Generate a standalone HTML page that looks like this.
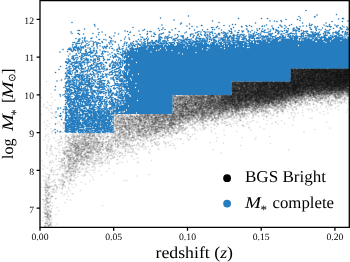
<!DOCTYPE html>
<html><head><meta charset="utf-8"><style>
html,body{margin:0;padding:0;background:#fff;}
svg{display:block;}
text{font-family:"Liberation Serif",serif;fill:#000;text-rendering:geometricPrecision;}
</style></head><body>
<svg width="350" height="262" viewBox="0 0 350 262">
<rect width="350" height="262" fill="#fff"/>
<defs><filter id="tx" x="0" y="0" width="1" height="1"><feOffset dx="0" dy="0"/></filter><filter id="bl" x="0" y="0" width="1" height="1" color-interpolation-filters="sRGB"><feGaussianBlur stdDeviation="0.45"/></filter></defs>
<g filter="url(#bl)">
<rect x="40" y="0" width="309" height="227" fill="#fff"/>
<g fill="none" stroke="#000" stroke-opacity="0.125" stroke-width="3.4" stroke-linecap="round" transform="scale(0.5)">
<path d="M91 381h0m0 47h0m1-8h0m1-170h0m0 167h0m1-47h0m0 43h0m0 16h0m1-17h0m0 36h0m1-19h0m2-209h0m0 153h0m1-24h0m0 3h0m0 86h0m2 8h0m2-53h0m5-117h0m0 69h0m6-48h0m6 8h0m0 5h0m0 23h0m3-16h0m0 13h0m2-35h0m0 68h0m6-93h0m5 5h0m0 9h0m1 36h0m0 9h0m1 39h0m1-3h0m1-95h0m2 73h0m1-66h0m3 10h0m0 24h0m3 27h0m1-12h0m1-39h0m3-18h0m0 21h0m0 8h0m0 18h0m2 12h0m1-45h0m2-13h0m0 12h0m2 35h0m3-24h0m0 19h0m0 39h0m2-72h0m0 34h0m1-25h0m0 31h0m0 10h0m1-37h0m0 6h0m1 11h0m2-28h0m2-14h0m0 19h0m0 11h0m1-19h0m1 26h0m1 5h0m1-33h0m0 35h0m6-22h0m0 12h0m1-4h0m1 3h0m1 1h0m3-20h0m1 45h0m3-49h0m1 6h0m18-7h0m0 2h0m0 19h0m3-6h0m2-9h0m5-4h0m2 13h0m2-2h0m3-36h0m0 61h0m1-54h0m1-24h0m0 31h0m0 11h0m1-45h0m0 69h0m1-41h0m1-27h0m0 2h0m0 58h0m0 33h0m1-94h0m2 2h0m0 11h0m2 1h0m0 6h0m0 5h0m1 15h0m0 5h0m2-23h0m2-15h0m0 18h0m0 6h0m0 28h0m2-58h0m0 39h0m0 10h0m1-45h0m0 9h0m1 36h0m1-17h0m1-20h0m0 5h0m0 23h0m1-25h0m0 1h0m0 20h0m0 32h0m1-13h0m1-49h0m1 50h0m3-52h0m2 20h0m0 6h0m1 1h0m1-12h0m0 1h0m0 11h0m0 31h0m1-33h0m2-19h0m1 6h0m0 25h0m1-4h0m1 29h0m3-50h0m0 12h0m4 46h0m2-69h0m1 17h0m0 5h0m0 9h0m0 54h0m1-94h0m1 32h0m1-26h0m0 11h0m0 2h0m1 13h0m1-21h0m0 18h0m3-3h0m0 2h0m2-26h0m0 39h0m1-35h0m0 7h0m2-11h0m1 24h0m1-12h0m3-14h0m3 9h0m1-9h0m1 20h0m1 2h0m0 1h0m1-18h0m1 41h0m1-33h0m1-2h0m0 7h0m2 2h0m2-19h0m0 10h0m0 6h0m0 2h0m2-8h0m0 8h0m1-1h0m0 12h0m2-20h0m0 1h0m1 12h0m0 5h0m1-30h0m3 14h0m2 6h0m2-4h0m0 11h0m1-20h0m0 38h0m1-15h0m5-19h0m1 1h0m0 25h0m0 23h0m2-57h0m1-1h0m0 24h0m1-24h0m2 29h0m1-9h0m1-19h0m2 17h0m1-6h0m1 29h0m1-18h0m2-45h0m0 4h0m0 28h0m1-30h0m0 16h0m0 0h0m0 9h0m1-33h0m1 31h0m1-26h0m0 30h0m4-19h0m0 8h0m1-27h0m0 59h0m1-62h0m0 22h0m0 20h0m0 23h0m2-30h0m0 6h0m2-40h0m0 26h0m0 0h0m0 12h0m1-3h0m0 19h0m1-51h0m0 5h0m0 26h0m1-35h0m1 27h0m1-7h0m0 7h0m0 9h0m1 3h0m0 6h0m2-50h0m0 5h0m0 10h0m0 10h0m0 0h0m1-9h0m2-1h0m0 0h0m0 23h0m0 18h0m1-35h0m0 2h0m0 2h0m1-18h0m0 25h0m1-6h0m0 7h0m2-27h0m0 6h0m0 3h0m0 25h0m1-34h0m0 11h0m1-8h0m1-9h0m0 11h0m0 38h0m1-16h0m1-30h0m0 6h0m0 73h0m1-81h0m0 13h0m0 23h0m0 6h0m1-36h0m0 22h0m0 2h0m0 1h0m0 7h0m1-32h0m0 25h0m0 33h0m2-44h0m0 9h0m0 5h0m0 1h0m1-1h0m2-21h0m0 63h0m2-60h0m0 2h0m1 27h0m1 0h0m1-20h0m1-25h0m1 4h0m0 18h0m0 7h0m1-31h0m0 3h0m0 16h0m1-5h0m1 9h0m0 22h0m1-24h0m0 1h0m0 6h0m1-23h0m0 30h0m0 10h0m1-34h0m0 43h0m1-10h0m1-43h0m0 38h0m0 10h0m1-47h0m1 19h0m0 6h0m1 3h0m0 16h0m1-26h0m0 18h0m0 1h0m1-37h0m0 1h0m4 6h0m1-4h0m0 25h0m1-1h0m1-6h0m1-23h0m0 2h0m0 17h0m0 3h0m0 11h0m1-26h0m1 10h0m0 29h0m1-33h0m0 11h0m1-16h0m0 38h0m1-42h0m0 4h0m0 19h0m0 12h0m1-37h0m0 5h0m1-6h0m2 7h0m0 2h0m0 39h0m1-46h0m0 26h0m1-15h0m0 3h0m0 8h0m1-4h0m0 9h0m1-29h0m0 1h0m0 19h0m0 2h0m1 13h0m0 3h0m1-27h0m1 5h0m0 10h0m1-17h0m0 35h0m1-23h0m2-3h0m1-15h0m2 9h0m0 11h0m1 10h0m1-30h0m0 24h0m1-26h0m0 1h0m0 19h0m1-15h0m0 3h0m0 26h0m0 2h0m0 7h0m1-15h0m1-25h0m0 9h0m0 18h0m1-31h0m1 0h0m0 8h0m1-8h0m0 2h0m0 11h0m0 3h0m0 1h0m0 1h0m2-6h0m0 19h0m1-17h0m0 1h0m0 11h0m1-8h0m0 5h0m1-23h0m0 3h0m0 2h0m0 3h0m1 4h0m0 4h0m0 19h0m1-11h0m1-14h0m0 1h0m1-2h0m0 0h0m0 10h0m1-12h0m0 2h0m1-2h0m0 4h0m2-9h0m0 9h0m1-9h0m1-16h0m0 14h0m0 4h0m0 1h0m0 0h0m0 7h0m1-21h0m1-16h0m0 6h0m0 20h0m0 1h0m0 3h0m0 1h0m0 5h0m0 27h0m1-53h0m0 3h0m0 0h0m0 5h0m0 6h0m0 2h0m2-22h0m0 4h0m0 25h0m0 2h0m0 3h0m0 14h0m1-50h0m0 14h0m0 7h0m0 3h0m0 0h0m0 32h0m1-30h0m0 7h0m0 0h0m0 6h0m0 19h0m1-32h0m0 15h0m1-34h0m0 2h0m0 13h0m1-13h0m0 9h0m0 8h0m1-17h0m0 22h0m0 12h0m1-46h0m0 14h0m0 15h0m0 14h0m1-38h0m1 6h0m0 13h0m1-5h0m0 9h0m0 15h0m0 1h0m0 0h0m1-42h0m0 10h0m0 12h0m0 4h0m1-22h0m0 20h0m1-11h0m0 10h0m1-21h0m0 1h0m0 19h0m0 2h0m0 8h0m1-34h0m0 18h0m0 27h0m1-38h0m0 10h0m0 13h0m1-27h0m0 75h0m1-65h0m0 7h0m0 11h0m1-33h0m0 32h0m1-13h0m0 6h0m0 3h0m0 1h0m0 21h0m1-37h0m0 25h0m0 1h0m0 10h0m1-49h0m0 2h0m0 14h0m0 21h0m1-31h0m0 16h0m0 6h0m0 2h0m0 7h0m0 7h0m0 6h0m1-47h0m0 1h0m0 3h0m0 1h0m0 2h0m0 6h0m0 11h0m0 4h0m0 15h0m1-11h0m0 10h0m1-29h0m0 3h0m0 2h0m0 2h0m0 37h0m1-50h0m0 3h0m0 15h0m0 18h0m0 5h0m1-33h0m0 8h0m0 21h0m0 1h0m1-47h0m0 8h0m0 11h0m0 17h0m0 18h0m1-27h0m0 6h0m0 3h0m0 5h0m1-40h0m0 39h0m1-25h0m0 22h0m1-37h0m0 18h0m0 16h0m1-29h0m0 15h0m0 24h0m1-27h0m0 12h0m0 3h0m1-18h0m1-5h0m0 8h0m0 15h0m0 26h0m1-56h0m0 3h0m0 11h0m0 4h0m0 10h0m0 1h0m0 8h0m1-37h0m0 4h0m0 19h0m0 21h0m1-42h0m0 2h0m0 11h0m0 11h0m0 1h0m0 25h0m1-54h0m0 1h0m0 3h0m0 21h0m1 29h0m1-49h0m0 16h0m0 13h0m1-33h0m0 12h0m0 9h0m0 8h0m1 3h0m1-23h0m0 5h0m1-8h0m0 13h0m0 18h0m0 22h0m1-60h0m0 16h0m0 1h0m0 15h0m0 2h0m1-15h0m0 5h0m0 3h0m0 27h0m1-50h0m0 13h0m1-17h0m0 6h0m0 5h0m0 19h0m0 22h0m1-47h0m0 4h0m0 12h0m1-6h0m0 10h0m0 8h0m0 12h0m1-28h0m0 20h0m0 7h0m0 16h0m1-51h0m0 1h0m0 4h0m0 2h0m0 13h0m1-17h0m0 14h0m0 4h0m0 14h0m1-32h0m0 3h0m0 30h0m1-44h0m0 6h0m0 0h0m0 11h0m0 22h0m1-33h0m0 5h0m0 4h0m0 2h0m1-18h0m0 2h0m0 5h0m0 6h0m0 3h0m0 10h0m0 3h0m0 1h0m0 2h0m1-33h0m0 14h0m0 12h0m0 26h0m1-48h0m0 13h0m0 3h0m0 3h0m0 6h0m0 2h0m1-19h0m0 15h0m0 25h0m0 0h0m1-37h0m0 57h0m0 13h0m1-76h0m0 5h0m0 2h0m0 2h0m0 1h0m0 4h0m1-23h0m0 5h0m0 7h0m0 15h0m0 3h0m1-12h0m0 27h0m1-12h0m0 3h0m1-35h0m0 2h0m0 14h0m0 0h0m0 12h0m0 5h0m1-26h0m0 1h0m0 12h0m0 2h0m0 14h0m1-26h0m0 4h0m0 2h0m0 2h0m0 7h0m0 4h0m0 2h0m0 8h0m0 1h0m1-36h0m0 10h0m0 0h0m0 23h0m0 9h0m1-37h0m0 4h0m0 6h0m0 15h0m0 12h0m1-38h0m0 10h0m0 12h0m0 1h0m0 2h0m0 5h0m0 4h0m1-35h0m0 12h0m0 4h0m0 6h0m0 4h0m0 13h0m1-36h0m0 4h0m0 6h0m0 0h0m0 26h0m1-31h0m0 19h0m1-34h0m0 26h0m0 1h0m1-17h0m0 10h0m0 13h0m1-29h0m0 3h0m0 2h0m0 2h0m0 4h0m0 5h0m0 3h0m0 3h0m0 4h0m0 4h0m0 17h0m1-43h0m0 7h0m0 7h0m1-7h0m0 3h0m0 28h0m0 1h0m1-43h0m0 2h0m0 25h0m0 11h0m1-31h0m0 2h0m0 7h0m0 2h0m1-12h0m0 3h0m0 2h0m0 8h0m0 5h0m0 2h0m1-30h0m0 21h0m0 6h0m1-18h0m0 19h0m0 1h0m0 4h0m1-27h0m0 4h0m0 5h0m0 2h0m0 0h0m0 8h0m0 20h0m1-20h0m0 9h0m0 7h0m0 3h0m1-42h0m0 1h0m0 3h0m0 8h0m0 2h0m0 9h0m1 14h0m1-32h0m0 9h0m1 22h0m1-31h0m0 5h0m0 14h0m1-23h0m0 1h0m0 18h0m0 1h0m0 6h0m0 5h0m1-30h0m0 7h0m1-3h0m0 13h0m0 37h0m1-56h0m0 6h0m1-7h0m0 5h0m0 6h0m0 1h0m0 4h0m0 10h0m0 6h0m1-32h0m0 11h0m0 3h0m1-13h0m0 14h0m0 1h0m0 5h0m0 9h0m1-26h0m0 42h0m1-40h0m0 9h0m0 1h0m0 7h0m0 4h0m1-29h0m0 8h0m0 8h0m0 7h0m0 6h0m1-12h0m0 6h0m1-11h0m1-6h0m0 1h0m1 0h0m0 7h0m0 9h0m0 3h0m0 10h0m1-29h0m0 7h0m0 9h0m0 0h0m0 2h0m0 3h0m1-28h0m0 6h0m0 13h0m0 4h0m0 4h0m1-25h0m0 12h0m0 7h0m1-12h0m0 0h0m1-25h0m0 6h0m0 12h0m0 6h0m1-23h0m0 12h0m0 2h0m0 7h0m0 19h0m1-44h0m0 5h0m0 1h0m0 32h0m1-38h0m0 6h0m0 1h0m0 5h0m0 9h0m0 1h0m0 2h0m0 1h0m0 2h0m0 3h0m0 3h0m0 7h0m1-36h0m0 6h0m0 9h0m0 1h0m0 3h0m0 0h0m0 0h0m0 13h0m1-42h0m0 0h0m0 16h0m0 1h0m0 2h0m0 6h0m0 3h0m0 13h0m0 4h0m0 1h0m1-18h0m0 6h0m0 6h0m0 10h0m0 0h0m1-17h0m0 3h0m0 7h0m1-15h0m0 2h0m0 3h0m0 2h0m0 6h0m0 1h0m0 7h0m1-45h0m0 18h0m0 26h0m1-26h0m0 6h0m0 4h0m0 4h0m0 5h0m1-11h0m0 12h0m0 5h0m0 12h0m1-57h0m0 10h0m0 1h0m0 3h0m0 6h0m0 8h0m0 1h0m0 7h0m0 0h0m1-36h0m0 14h0m0 1h0m0 8h0m0 5h0m0 11h0m0 12h0m1-50h0m0 1h0m0 2h0m0 4h0m0 2h0m0 20h0m0 1h0m0 4h0m0 1h0m0 10h0m1-48h0m0 2h0m0 2h0m0 4h0m0 0h0m0 9h0m0 4h0m1-22h0m0 3h0m0 14h0m0 1h0m0 1h0m0 2h0m0 0h0m0 10h0m0 9h0m0 12h0m1-50h0m0 15h0m0 7h0m0 4h0m0 7h0m0 6h0m0 0h0m0 14h0m1-43h0m0 3h0m0 3h0m0 15h0m0 7h0m0 5h0m1-38h0m0 28h0m0 9h0m0 2h0m0 14h0m1-53h0m0 2h0m0 1h0m0 6h0m0 11h0m0 1h0m0 3h0m0 4h0m0 10h0m0 1h0m1-38h0m0 1h0m0 1h0m0 14h0m0 2h0m1-22h0m0 11h0m0 9h0m0 1h0m0 27h0m1-45h0m0 2h0m0 4h0m0 1h0m0 9h0m0 11h0m0 3h0m0 4h0m0 4h0m1-5h0m0 6h0m1-41h0m0 14h0m0 9h0m0 11h0m0 10h0m1-46h0m0 0h0m0 1h0m0 8h0m0 4h0m0 5h0m0 13h0m0 8h0m0 1h0m0 4h0m1-46h0m0 11h0m0 8h0m0 1h0m1-21h0m0 5h0m0 8h0m0 21h0m0 4h0m1-34h0m0 9h0m0 3h0m0 8h0m0 7h0m0 2h0m1-5h0m0 4h0m0 3h0m0 1h0m1-35h0m0 4h0m0 8h0m0 4h0m0 6h0m0 14h0m1-31h0m0 26h0m0 9h0m0 1h0m1-39h0m1 9h0m0 2h0m0 1h0m0 0h0m0 12h0m0 7h0m0 15h0m1-49h0m0 14h0m0 7h0m0 3h0m0 3h0m0 8h0m0 6h0m1-27h0m0 6h0m0 3h0m0 4h0m0 7h0m0 1h0m0 9h0m1-33h0m0 6h0m0 0h0m0 2h0m0 4h0m0 2h0m0 2h0m0 19h0m1-43h0m0 3h0m0 1h0m0 9h0m0 0h0m0 7h0m1-13h0m0 3h0m0 2h0m0 13h0m0 13h0m1-38h0m0 11h0m0 4h0m0 4h0m0 18h0m1-27h0m0 6h0m0 1h0m0 23h0m0 1h0m1-41h0m0 3h0m0 5h0m0 14h0m0 0h0m0 9h0m0 6h0m0 3h0m1-42h0m0 1h0m0 1h0m0 1h0m0 1h0m0 7h0m0 2h0m0 13h0m0 14h0m0 2h0m0 17h0m1-53h0m0 5h0m0 12h0m0 7h0m0 15h0m0 12h0m1-57h0m0 5h0m0 4h0m0 21h0m0 3h0m1-24h0m0 3h0m0 1h0m0 1h0m0 5h0m0 5h0m0 15h0m1-27h0m0 8h0m0 11h0m1-22h0m0 2h0m0 2h0m0 7h0m0 0h0m0 15h0m0 6h0m1-41h0m0 0h0m0 2h0m0 4h0m0 11h0m0 10h0m0 13h0m0 23h0m1-56h0m0 12h0m0 3h0m0 5h0m0 7h0m0 2h0m0 5h0m1-34h0m0 4h0m0 16h0m0 6h0m0 14h0m1-45h0m0 5h0m0 11h0m1-11h0m0 3h0m0 7h0m0 1h0m0 1h0m0 17h0m1-33h0m0 19h0m1-17h0m0 1h0m0 13h0m0 8h0m0 12h0m0 5h0m0 4h0m1-45h0m0 11h0m0 8h0m0 4h0m0 5h0m0 1h0m0 0h0m0 7h0m0 2h0m0 12h0m1-47h0m0 5h0m0 2h0m0 1h0m0 18h0m0 3h0m1-29h0m0 0h0m0 1h0m0 5h0m0 0h0m0 17h0m0 16h0m0 3h0m0 40h0m1-80h0m0 0h0m0 2h0m0 1h0m0 16h0m0 0h0m0 16h0m0 33h0m1-61h0m0 4h0m0 8h0m0 2h0m1-23h0m0 4h0m0 8h0m0 2h0m1-18h0m0 12h0m0 10h0m0 3h0m0 9h0m1-33h0m0 3h0m0 6h0m0 12h0m0 7h0m0 15h0m1-38h0m0 8h0m0 2h0m0 9h0m0 10h0m0 11h0m1-48h0m0 5h0m0 1h0m0 8h0m0 15h0m0 3h0m0 10h0m1-30h0m0 7h0m1-13h0m0 26h0m0 18h0m1-50h0m0 7h0m0 8h0m1-12h0m0 3h0m0 3h0m0 6h0m0 5h0m1-14h0m0 0h0m0 9h0m0 1h0m0 14h0m0 1h0m0 4h0m0 11h0m0 1h0m1-41h0m0 9h0m0 3h0m0 4h0m0 10h0m1-27h0m0 17h0m0 0h0m0 6h0m0 3h0m1-24h0m0 7h0m0 10h0m0 5h0m0 3h0m0 1h0m0 4h0m0 43h0m1-72h0m0 1h0m0 4h0m0 8h0m0 16h0m1-36h0m0 4h0m0 2h0m0 0h0m0 6h0m0 2h0m0 3h0m0 1h0m0 3h0m0 1h0m0 7h0m0 2h0m0 10h0m1-39h0m0 1h0m0 7h0m0 1h0m0 1h0m0 12h0m0 4h0m0 1h0m0 1h0m0 13h0m0 6h0m1-29h0m0 8h0m0 9h0m0 2h0m0 2h0m0 1h0m1-38h0m0 0h0m0 1h0m0 4h0m0 1h0m0 7h0m0 8h0m1-3h0m0 1h0m1-24h0m0 3h0m0 5h0m0 3h0m0 7h0m0 1h0m0 7h0m0 21h0m1-48h0m0 9h0m0 1h0m0 0h0m0 2h0m0 2h0m0 3h0m0 5h0m1-14h0m0 4h0m0 1h0m0 6h0m0 20h0m0 5h0m1-39h0m0 18h0m0 18h0m0 2h0m0 8h0m1-50h0m0 9h0m0 9h0m0 3h0m0 7h0m0 0h0m0 5h0m0 4h0m1-36h0m0 2h0m0 15h0m0 1h0m0 12h0m0 7h0m1-36h0m0 7h0m0 13h0m0 2h0m0 1h0m0 8h0m1-34h0m0 8h0m0 0h0m0 2h0m0 2h0m0 7h0m0 10h0m0 13h0m1-31h0m0 4h0m0 4h0m0 4h0m0 8h0m0 1h0m0 5h0m0 12h0m1-47h0m0 3h0m0 6h0m0 12h0m0 34h0m1-50h0m0 8h0m0 6h0m0 8h0m0 14h0m0 2h0m1-42h0m0 0h0m0 10h0m0 5h0m0 3h0m0 3h0m0 0h0m0 1h0m0 11h0m0 2h0m1-25h0m0 9h0m0 11h0m0 8h0m1-32h0m0 10h0m0 0h0m0 4h0m0 20h0m0 3h0m0 6h0m1-46h0m0 1h0m0 3h0m0 3h0m0 11h0m0 3h0m1-19h0m0 10h0m0 1h0m0 0h0m0 0h0m0 1h0m0 0h0m0 5h0m0 11h0m0 20h0m1-48h0m0 11h0m0 3h0m0 7h0m0 6h0m0 5h0m1-39h0m0 6h0m0 4h0m0 6h0m0 2h0m0 0h0m0 1h0m0 1h0m0 9h0m0 1h0m0 5h0m0 3h0m1-39h0m0 9h0m0 25h0m0 11h0m1-38h0m0 12h0m0 13h0m0 11h0m0 8h0m1-48h0m0 4h0m0 7h0m0 15h0m0 2h0m0 14h0m1-30h0m0 1h0m0 11h0m0 16h0m0 10h0m1-52h0m0 7h0m0 7h0m0 3h0m0 16h0m0 0h0m0 11h0m1-43h0m0 9h0m0 16h0m0 10h0m1-31h0m0 13h0m0 4h0m0 2h0m0 19h0m1-39h0m0 2h0m0 8h0m0 6h0m0 9h0m0 3h0m0 4h0m0 10h0m1-35h0m0 5h0m0 4h0m0 1h0m0 6h0m0 35h0m1-38h0m0 9h0m1-32h0m0 0h0m0 2h0m0 5h0m0 5h0m0 7h0m0 8h0m1-23h0m0 0h0m0 3h0m0 4h0m0 10h0m0 7h0m1-28h0m0 4h0m0 3h0m0 8h0m0 8h0m0 2h0m0 1h0m0 2h0m0 9h0m1-38h0m0 2h0m0 8h0m0 0h0m0 5h0m0 7h0m0 4h0m0 2h0m1-28h0m0 12h0m0 14h0m0 0h0m0 6h0m0 1h0m1-29h0m0 10h0m0 9h0m0 13h0m0 18h0m1-55h0m0 3h0m0 7h0m0 2h0m0 0h0m0 1h0m0 2h0m0 0h0m0 2h0m0 18h0m1-23h0m0 1h0m0 11h0m0 7h0m0 11h0m1-38h0m0 4h0m0 7h0m0 8h0m0 17h0"/>
<path d="M88 390h0m4-5h0m4-132h0m0 169h0m2-68h0m3 41h0m3-129h0m5 119h0m3 12h0m10-61h0m4 35h0m1-2h0m1-44h0m1-23h0m0 15h0m3-13h0m1-32h0m1 115h0m0 12h0m1-88h0m1 1h0m0 30h0m1-68h0m1 11h0m0 56h0m1-48h0m0 27h0m2-33h0m0 48h0m5-52h0m0 36h0m1-48h0m0 35h0m2-2h0m2 46h0m1-50h0m0 20h0m2-2h0m1-32h0m1-15h0m0 82h0m2-67h0m0 20h0m1-5h0m1-36h0m2 43h0m2-24h0m0 11h0m1-12h0m0 19h0m4-31h0m0 9h0m1 64h0m2-52h0m1 21h0m0 8h0m2-33h0m1-22h0m3 21h0m1 35h0m0 18h0m7-48h0m0 15h0m3 28h0m1-43h0m1-26h0m0 23h0m1 4h0m3-25h0m2 48h0m4-38h0m3-6h0m0 17h0m0 38h0m3-31h0m6-7h0m1-21h0m1 36h0m12-42h0m2-12h0m1 21h0m2-22h0m0 5h0m2-11h0m2 15h0m0 38h0m3-35h0m0 4h0m0 3h0m0 2h0m0 12h0m0 24h0m1-31h0m0 6h0m3-49h0m0 33h0m6-27h0m0 56h0m2 7h0m1-44h0m0 2h0m1-23h0m0 50h0m0 3h0m1 1h0m1-38h0m1-4h0m2 8h0m0 11h0m2-31h0m0 19h0m1-20h0m2-1h0m0 30h0m2-22h0m0 18h0m3-22h0m1 53h0m1-37h0m0 27h0m2-27h0m0 98h0m1-116h0m2 16h0m1-4h0m1-13h0m0 11h0m1-8h0m4 24h0m1 14h0m1-46h0m1 22h0m1 26h0m1-24h0m1-19h0m2-5h0m0 29h0m1 14h0m1 0h0m1-44h0m0 4h0m2 15h0m0 33h0m1-27h0m1-25h0m0 27h0m2-21h0m1 0h0m0 47h0m1-53h0m0 28h0m0 22h0m1-49h0m0 25h0m1-13h0m0 18h0m4 3h0m3-27h0m1 21h0m0 31h0m1-25h0m1-25h0m0 1h0m0 5h0m1-10h0m1-3h0m2 24h0m1-15h0m3-6h0m2-2h0m0 0h0m3 11h0m1-4h0m1 18h0m0 3h0m0 4h0m1-28h0m0 9h0m0 5h0m0 14h0m1-11h0m3-23h0m0 1h0m1 12h0m0 1h0m2-13h0m0 32h0m3-30h0m0 9h0m0 4h0m2-5h0m2-13h0m1 24h0m1-49h0m0 34h0m0 12h0m1-50h0m0 14h0m0 14h0m1-19h0m1-4h0m0 5h0m0 39h0m1-49h0m0 28h0m0 5h0m0 6h0m1-40h0m1 53h0m1-17h0m0 6h0m1-42h0m1 9h0m0 22h0m0 8h0m1-33h0m0 22h0m0 17h0m1-36h0m1-5h0m0 2h0m0 23h0m0 1h0m0 23h0m1-50h0m0 8h0m1-1h0m0 11h0m2 6h0m1-1h0m1-32h0m1 25h0m0 2h0m0 1h0m1 36h0m0 31h0m2-94h0m0 11h0m1 5h0m1-5h0m0 45h0m1-39h0m0 6h0m0 21h0m1-15h0m1-6h0m1-8h0m0 16h0m1-20h0m0 16h0m0 12h0m0 14h0m1-28h0m0 53h0m1-81h0m2 16h0m2-13h0m1 2h0m1 35h0m1-34h0m0 15h0m0 0h0m1-5h0m1 5h0m0 12h0m1-25h0m0 13h0m0 23h0m1-10h0m1-6h0m0 13h0m1-24h0m0 21h0m1-8h0m0 2h0m1-14h0m1 17h0m1-21h0m0 23h0m0 3h0m0 4h0m1-19h0m0 4h0m0 19h0m1-31h0m2 24h0m1-37h0m0 8h0m1-4h0m1 16h0m0 1h0m1-9h0m0 9h0m0 7h0m1-19h0m0 37h0m1-31h0m2 17h0m1-35h0m0 4h0m0 10h0m1 9h0m0 1h0m0 8h0m0 8h0m1-17h0m0 3h0m0 4h0m1-27h0m0 23h0m0 15h0m0 3h0m1 7h0m1-49h0m0 7h0m0 9h0m0 1h0m0 2h0m1-15h0m0 14h0m0 11h0m1 4h0m3-23h0m0 13h0m0 3h0m0 6h0m0 10h0m1-44h0m1 1h0m1 2h0m0 11h0m0 4h0m0 0h0m0 8h0m1-22h0m0 1h0m2-5h0m1 16h0m1-12h0m0 28h0m1-31h0m0 17h0m1-18h0m0 7h0m0 12h0m0 8h0m0 5h0m1-27h0m1 12h0m0 18h0m1-16h0m0 8h0m0 10h0m2-29h0m0 6h0m1-13h0m0 11h0m0 1h0m0 7h0m0 1h0m1 8h0m1 13h0m2-30h0m1 5h0m0 2h0m1-3h0m0 2h0m1 0h0m2-10h0m0 2h0m3-6h0m0 4h0m0 31h0m1-31h0m0 14h0m1 10h0m1-2h0m1-15h0m0 6h0m0 9h0m1-26h0m0 0h0m1-3h0m0 20h0m1-20h0m0 1h0m0 13h0m0 7h0m1-22h0m0 26h0m0 5h0m1-25h0m0 26h0m1-8h0m0 2h0m0 5h0m1-13h0m0 1h0m0 11h0m1-26h0m0 5h0m0 3h0m1 23h0m1-28h0m0 17h0m1-18h0m0 10h0m0 5h0m0 2h0m1-19h0m0 4h0m0 33h0m2-35h0m0 5h0m0 32h0m1-24h0m1-44h0m0 4h0m0 7h0m0 18h0m0 10h0m0 1h0m1-41h0m0 18h0m0 4h0m0 37h0m1-51h0m0 4h0m0 23h0m1-32h0m0 0h0m0 13h0m0 1h0m0 3h0m0 14h0m0 3h0m0 34h0m1-68h0m0 41h0m0 7h0m0 1h0m1-48h0m0 20h0m0 1h0m0 5h0m1-11h0m0 21h0m1-34h0m0 2h0m0 24h0m0 0h0m0 2h0m1-27h0m0 0h0m0 38h0m0 6h0m0 26h0m2-69h0m0 16h0m0 27h0m1-47h0m0 1h0m0 8h0m0 14h0m0 2h0m0 16h0m1-46h0m0 1h0m0 14h0m0 2h0m0 34h0m0 6h0m1-57h0m0 19h0m0 8h0m0 13h0m0 8h0m1-33h0m0 5h0m0 6h0m0 4h0m0 8h0m2-32h0m0 15h0m0 15h0m0 2h0m0 11h0m1-47h0m0 4h0m0 8h0m0 2h0m0 5h0m0 5h0m0 4h0m0 8h0m1-31h0m0 13h0m0 26h0m1-45h0m0 2h0m0 3h0m0 2h0m0 4h0m0 39h0m1-11h0m0 5h0m1-14h0m0 16h0m1-47h0m0 3h0m0 18h0m0 2h0m0 9h0m1-31h0m0 3h0m0 14h0m0 2h0m0 10h0m1-18h0m0 17h0m0 6h0m0 4h0m1-36h0m0 13h0m0 1h0m0 13h0m0 6h0m0 0h0m0 0h0m0 1h0m0 3h0m0 1h0m0 1h0m1-35h0m0 4h0m0 8h0m0 4h0m0 4h0m0 19h0m1-38h0m0 8h0m0 30h0m0 9h0m0 2h0m1-48h0m0 28h0m0 19h0m1-52h0m0 1h0m0 7h0m0 21h0m0 12h0m1-44h0m0 0h0m0 9h0m0 4h0m0 5h0m0 5h0m0 9h0m0 13h0m0 3h0m0 30h0m1-76h0m0 18h0m1-5h0m0 7h0m0 4h0m0 12h0m1-29h0m0 4h0m0 2h0m0 8h0m0 1h0m0 0h0m0 9h0m0 13h0m0 43h0m1-71h0m1-17h0m0 6h0m0 1h0m0 26h0m1-25h0m0 37h0m1-47h0m0 17h0m0 21h0m1-25h0m0 4h0m1-16h0m0 4h0m0 16h0m0 1h0m0 3h0m0 4h0m0 16h0m1-39h0m0 5h0m0 18h0m0 12h0m0 0h0m1-16h0m1-24h0m0 1h0m0 1h0m0 9h0m0 20h0m0 25h0m1-39h0m0 1h0m0 5h0m0 1h0m0 19h0m1-24h0m1-20h0m0 17h0m0 8h0m0 18h0m1-43h0m0 9h0m0 13h0m0 14h0m0 10h0m0 8h0m1-49h0m0 0h0m0 6h0m0 0h0m0 18h0m1-28h0m0 20h0m0 2h0m0 4h0m1-26h0m0 2h0m0 9h0m0 1h0m0 17h0m0 5h0m0 2h0m0 0h0m0 7h0m1-36h0m0 14h0m0 0h0m0 6h0m0 3h0m0 2h0m0 8h0m1-27h0m0 23h0m1-36h0m0 17h0m0 10h0m0 8h0m0 6h0m1-40h0m0 2h0m0 10h0m0 2h0m0 1h0m0 2h0m0 11h0m1-12h0m0 6h0m1-22h0m0 6h0m0 4h0m0 8h0m0 8h0m0 11h0m0 1h0m1-12h0m0 4h0m1-32h0m0 10h0m0 11h0m0 5h0m0 12h0m1-34h0m0 19h0m0 3h0m0 4h0m0 0h0m0 0h0m0 6h0m0 3h0m0 4h0m0 15h0m0 1h0m1-56h0m0 5h0m0 17h0m0 20h0m0 10h0m1-56h0m0 5h0m0 14h0m0 4h0m0 4h0m0 16h0m1-42h0m0 19h0m0 14h0m0 4h0m0 12h0m1-47h0m0 3h0m0 13h0m0 7h0m0 2h0m0 3h0m0 5h0m0 3h0m0 2h0m0 34h0m1-71h0m0 2h0m0 16h0m0 19h0m1-36h0m0 26h0m0 8h0m0 6h0m1-29h0m0 7h0m0 15h0m0 6h0m1-12h0m1-27h0m0 6h0m0 15h0m0 1h0m0 2h0m0 2h0m0 3h0m0 4h0m1-37h0m0 13h0m0 11h0m0 18h0m1-30h0m0 3h0m0 8h0m1-11h0m0 1h0m0 6h0m0 16h0m0 18h0m1-52h0m0 19h0m0 10h0m1-1h0m0 1h0m0 14h0m1-44h0m0 13h0m0 26h0m1-36h0m0 10h0m0 16h0m1-16h0m0 18h0m2-24h0m0 5h0m0 11h0m0 2h0m1-16h0m0 3h0m0 20h0m0 8h0m1-40h0m0 28h0m2-26h0m0 5h0m0 2h0m0 9h0m0 5h0m0 0h0m1-19h0m0 7h0m0 3h0m0 21h0m1-33h0m0 7h0m0 16h0m0 3h0m0 14h0m1-41h0m0 10h0m0 14h0m0 31h0m1-33h0m0 5h0m0 1h0m1-27h0m0 15h0m0 1h0m0 8h0m0 1h0m0 0h0m0 8h0m1-35h0m0 1h0m0 16h0m0 13h0m1-23h0m0 4h0m0 22h0m0 29h0m1-61h0m0 3h0m0 23h0m0 33h0m1-60h0m0 21h0m0 6h0m1-2h0m0 18h0m0 11h0m1-47h0m0 6h0m0 8h0m0 6h0m0 14h0m0 10h0m1-30h0m0 5h0m1-18h0m0 1h0m1 8h0m0 6h0m0 6h0m1-22h0m0 36h0m0 8h0m1-46h0m0 2h0m0 7h0m0 19h0m0 2h0m0 5h0m1-40h0m0 6h0m0 13h0m0 17h0m0 6h0m1-24h0m0 7h0m0 8h0m1-31h0m0 9h0m0 3h0m0 8h0m0 10h0m0 1h0m1-30h0m0 2h0m0 19h0m0 2h0m0 1h0m1-11h0m0 6h0m1-22h0m0 0h0m0 1h0m0 2h0m0 5h0m0 0h0m0 1h0m0 0h0m0 9h0m0 2h0m1-7h0m0 6h0m0 0h0m0 11h0m0 20h0m1-50h0m0 3h0m0 11h0m2-8h0m0 11h0m0 7h0m0 10h0m1-14h0m0 2h0m1-12h0m0 16h0m0 2h0m0 4h0m1-31h0m0 5h0m0 1h0m0 3h0m0 8h0m0 6h0m0 7h0m0 0h0m1-27h0m0 5h0m0 2h0m1-8h0m0 6h0m0 15h0m0 2h0m1-16h0m0 25h0m0 1h0m1-12h0m1-24h0m0 1h0m0 1h0m0 9h0m0 0h0m0 4h0m0 2h0m1-19h0m0 3h0m0 0h0m1-20h0m0 7h0m0 2h0m0 1h0m0 1h0m0 2h0m0 18h0m0 1h0m0 1h0m1-34h0m0 8h0m0 16h0m0 28h0m1-44h0m0 15h0m0 18h0m1-40h0m0 6h0m0 25h0m1-33h0m0 5h0m0 4h0m0 29h0m1-37h0m0 1h0m0 27h0m0 0h0m0 6h0m0 8h0m1-48h0m0 2h0m0 0h0m0 11h0m0 7h0m0 9h0m0 33h0m0 16h0m1-55h0m0 1h0m0 9h0m0 5h0m0 1h0m1-36h0m0 1h0m0 8h0m0 6h0m0 21h0m0 29h0m1-64h0m0 2h0m0 1h0m0 10h0m0 9h0m0 10h0m0 1h0m0 3h0m0 10h0m1-37h0m0 3h0m0 21h0m0 7h0m0 22h0m1-55h0m0 2h0m0 12h0m0 7h0m0 6h0m1-35h0m0 15h0m0 10h0m0 18h0m1-33h0m0 12h0m0 4h0m0 1h0m0 2h0m0 3h0m0 10h0m0 3h0m0 2h0m0 22h0m1-58h0m0 29h0m0 3h0m1-31h0m0 8h0m0 12h0m0 11h0m1-37h0m0 3h0m0 5h0m0 7h0m1-25h0m0 1h0m0 25h0m0 2h0m0 1h0m0 0h0m0 9h0m0 12h0m1-41h0m0 5h0m0 1h0m0 32h0m0 13h0m1-56h0m0 0h0m0 3h0m0 10h0m0 15h0m0 7h0m0 2h0m0 8h0m0 5h0m1-33h0m0 5h0m0 7h0m0 16h0m0 13h0m1-26h0m0 3h0m0 0h0m0 4h0m0 7h0m1-41h0m0 9h0m0 4h0m0 29h0m1-46h0m0 2h0m0 4h0m0 17h0m0 13h0m1-40h0m0 1h0m0 1h0m0 2h0m0 7h0m0 0h0m0 7h0m0 10h0m0 6h0m0 0h0m0 3h0m0 14h0m0 6h0m1-56h0m0 1h0m0 4h0m0 4h0m0 5h0m0 6h0m0 4h0m0 0h0m0 2h0m0 2h0m0 4h0m0 2h0m0 3h0m1-35h0m0 13h0m0 4h0m1-20h0m0 3h0m0 7h0m0 11h0m0 3h0m0 10h0m0 9h0m0 0h0m0 15h0m1-46h0m0 3h0m0 1h0m0 7h0m0 12h0m0 2h0m0 5h0m0 0h0m1-33h0m0 2h0m0 6h0m0 12h0m0 1h0m0 6h0m0 2h0m0 5h0m0 4h0m1-30h0m0 9h0m0 11h0m0 17h0m1-39h0m0 13h0m0 22h0m1-43h0m0 3h0m0 5h0m0 1h0m0 1h0m0 9h0m0 1h0m1-17h0m0 4h0m0 6h0m1-10h0m0 2h0m0 4h0m0 12h0m0 6h0m1-27h0m0 5h0m0 8h0m0 3h0m0 4h0m0 0h0m0 1h0m0 2h0m0 10h0m1-7h0m1-27h0m0 5h0m0 3h0m0 1h0m0 1h0m0 9h0m0 8h0m1-23h0m1-1h0m0 16h0m0 1h0m0 4h0m0 3h0m0 19h0m1-28h0m0 14h0m0 4h0m1-32h0m0 0h0m0 4h0m0 5h0m0 1h0m0 9h0m0 1h0m0 15h0m1-43h0m0 14h0m0 16h0m0 24h0m1-55h0m0 4h0m0 4h0m0 2h0m0 4h0m0 13h0m0 16h0m1-43h0m0 9h0m0 7h0m0 3h0m0 30h0m0 1h0m1-48h0m0 0h0m0 5h0m0 1h0m0 2h0m0 5h0m0 9h0m0 4h0m0 12h0m0 7h0m1-47h0m0 18h0m0 5h0m0 3h0m0 1h0m1-17h0m0 3h0m0 4h0m0 2h0m0 4h0m0 8h0m0 1h0m1-26h0m0 21h0m1-22h0m0 7h0m0 11h0m1 2h0m0 0h0m0 4h0m1-11h0m1-12h0m0 17h0m0 22h0m1-45h0m0 19h0m0 1h0m0 3h0m0 25h0m1-50h0m0 6h0m0 6h0m0 5h0m0 1h0m0 6h0m0 5h0m0 2h0m0 1h0m0 2h0m1-28h0m0 3h0m0 13h0m0 3h0m0 5h0m0 0h0m0 1h0m1-28h0m0 9h0m0 7h0m0 0h0m0 2h0m0 5h0m0 26h0m1-50h0m0 14h0m0 19h0m0 3h0m0 1h0m1-30h0m0 1h0m0 13h0m0 10h0m1-7h0m0 7h0m0 10h0m0 9h0m1-36h0m0 1h0m0 6h0m0 10h0m0 12h0m1-24h0m0 3h0m0 11h0m1-14h0m0 1h0m0 0h0m1-20h0m0 5h0m0 0h0m0 1h0m0 17h0m0 4h0m0 18h0m1-46h0m0 1h0m0 3h0m0 2h0m0 7h0m0 1h0m0 2h0m0 2h0m0 0h0m0 1h0m0 14h0m1-33h0m0 6h0m0 1h0m0 8h0m0 3h0m0 15h0m1-30h0m0 23h0m0 9h0m0 1h0m0 0h0m0 3h0m1-36h0m0 1h0m0 7h0m0 1h0m0 1h0m0 3h0m0 6h0m1-18h0m0 0h0m0 33h0m0 2h0m0 2h0m1-39h0m0 13h0m0 7h0m0 6h0m1-28h0m0 1h0m0 1h0m0 1h0m0 3h0m0 2h0m0 2h0m0 6h0m0 12h0m0 11h0m0 1h0m1-15h0m0 1h0m0 11h0m1-28h0m0 2h0m0 8h0m0 9h0m0 2h0m0 0h0m0 8h0m0 4h0m1-41h0m0 33h0m0 6h0m0 3h0m0 4h0m0 7h0m0 13h0m1-64h0m0 5h0m0 5h0m0 6h0m0 10h0m0 2h0m0 3h0m1-18h0m0 3h0m0 7h0m0 3h0m0 3h0m0 1h0m1-5h0m0 15h0m1-41h0m0 0h0m0 14h0m0 7h0m0 5h0m0 3h0m0 8h0m1-35h0m0 10h0m0 10h0m0 3h0m0 7h0m0 39h0m1-65h0m0 13h0m0 11h0m1-28h0m0 6h0m0 3h0m0 6h0m0 4h0m0 7h0m0 11h0m0 25h0m1-55h0m0 1h0m0 12h0m0 8h0m0 1h0m0 3h0m0 10h0m1-35h0m0 6h0m0 21h0m0 25h0m1-63h0m0 20h0m0 1h0m0 8h0m0 14h0m1-44h0m0 11h0m0 0h0m0 20h0m0 15h0m0 2h0m1-48h0m0 2h0m0 1h0m0 10h0m0 7h0m0 0h0m0 13h0m0 6h0m1-30h0m0 6h0m0 21h0m0 8h0m0 1h0m0 6h0m1-47h0m0 0h0m0 4h0m0 4h0m0 13h0m0 3h0m0 20h0m1-35h0m0 3h0m0 1h0m1-16h0m0 0h0m0 5h0m0 29h0m1-34h0m0 8h0m0 4h0m0 7h0m0 5h0m0 1h0m0 6h0m0 0h0m0 4h0m0 4h0m0 12h0m0 7h0m1-52h0m0 0h0m0 24h0m0 2h0m0 17h0m0 3h0m1-40h0m0 2h0m0 0h0m0 3h0m0 5h0m0 3h0m0 9h0m0 23h0m1-39h0m0 2h0m0 3h0m0 0h0m0 0h0m0 11h0m0 5h0m1-37h0m0 3h0m0 8h0m0 2h0m0 0h0m0 2h0m0 3h0m0 2h0m0 0h0m0 6h0m0 6h0m1-34h0m0 0h0m0 7h0m0 4h0m1-5h0m0 2h0m0 9h0m0 3h0m0 1h0m0 13h0m0 2h0m0 10h0m1-38h0m0 4h0m0 4h0m0 14h0m0 1h0m1-29h0m0 10h0m0 1h0m0 7h0m0 2h0m0 32h0m1-53h0m0 4h0m0 4h0m0 2h0m0 2h0m0 10h0m0 0h0m0 10h0m0 0h0m0 21h0m1-47h0m0 11h0m0 1h0m0 4h0m0 6h0m0 0h0m0 40h0m1-53h0m0 1h0m0 14h0m0 7h0m0 1h0m1-19h0m0 3h0m0 11h0m0 9h0m1-23h0m0 23h0m0 5h0m1-40h0m0 4h0m0 0h0m0 1h0m0 2h0m0 5h0m0 18h0m0 3h0m1-22h0m0 8h0m1-9h0m0 34h0m1-40h0m0 10h0m0 3h0m0 7h0m0 10h0m1-36h0m0 10h0m0 5h0m0 7h0m0 23h0m1-42h0m0 1h0m0 1h0m0 6h0m0 3h0m0 2h0m0 1h0m0 18h0m1-39h0m0 15h0m0 17h0m1-33h0m0 4h0m0 5h0m0 4h0m0 2h0m0 4h0m0 2h0m0 1h0m0 17h0m1-16h0m0 5h0m1-27h0m0 11h0m0 12h0m0 5h0m0 2h0m0 1h0m1-30h0m0 8h0m0 5h0m0 4h0m0 4h0m0 2h0m0 17h0m0 12h0m1-48h0m0 6h0m0 1h0m0 15h0m0 3h0m0 0h0m0 2h0m0 5h0m0 0h0m0 1h0m0 3h0m0 8h0"/>
<path d="M86 338h0m4 23h0m1 47h0m0 1h0m4-35h0m2 58h0m1-41h0m0 47h0m1-5h0m0 16h0m1-109h0m0 36h0m0 28h0m0 41h0m1-35h0m1-18h0m1-52h0m0 32h0m5-140h0m7 116h0m8 22h0m1 8h0m6-90h0m1 12h0m1 8h0m0 39h0m4-38h0m2-8h0m2 22h0m1-33h0m0 8h0m0 3h0m1 49h0m1-36h0m4 29h0m4-62h0m2 49h0m0 9h0m1-51h0m1 17h0m0 4h0m0 3h0m6-30h0m1 28h0m3 22h0m2-67h0m1 28h0m1-2h0m3-17h0m0 64h0m1-33h0m1-27h0m0 17h0m0 47h0m1-16h0m2 3h0m1-53h0m0 5h0m2 14h0m0 24h0m0 43h0m3-80h0m0 3h0m1-9h0m0 4h0m4-11h0m1 29h0m1 28h0m2-49h0m0 24h0m2 8h0m0 18h0m1-9h0m2-4h0m1-42h0m3 3h0m1 30h0m1-11h0m1-6h0m0 23h0m8-27h0m0 10h0m3-27h0m2 40h0m6-33h0m5-28h0m1-14h0m1 49h0m1 2h0m1-39h0m1 16h0m1-13h0m0 72h0m4-80h0m0 18h0m1 5h0m2-21h0m1 70h0m3-35h0m2-14h0m1-9h0m0 41h0m1-24h0m1-19h0m1-6h0m2 11h0m2-18h0m1 39h0m1 23h0m1-61h0m1 8h0m2-15h0m0 4h0m4 7h0m0 2h0m0 28h0m0 26h0m4-50h0m2-14h0m2-3h0m0 6h0m4 40h0m3-49h0m0 64h0m1-59h0m4 29h0m2-26h0m0 23h0m1-26h0m1 15h0m1 0h0m0 24h0m1-42h0m1 38h0m0 10h0m0 19h0m1-66h0m0 35h0m1-31h0m1-5h0m1 6h0m0 22h0m1-26h0m1 25h0m1-29h0m0 16h0m2-14h0m2 18h0m2-5h0m0 7h0m2-22h0m0 24h0m1 7h0m1 24h0m1-46h0m0 29h0m1-14h0m1-18h0m0 7h0m2-11h0m0 9h0m4 3h0m0 34h0m3-22h0m3-6h0m1 8h0m1-28h0m1 2h0m0 11h0m2-13h0m1 5h0m0 1h0m2 18h0m0 20h0m4-12h0m2-28h0m0 8h0m0 10h0m0 3h0m2-7h0m3-1h0m2-34h0m0 6h0m0 11h0m0 4h0m1-31h0m0 38h0m1-49h0m0 32h0m2 14h0m0 20h0m1-53h0m0 27h0m0 15h0m1-39h0m0 2h0m0 6h0m1-8h0m0 23h0m0 25h0m1-61h0m0 21h0m0 10h0m0 1h0m1-21h0m1-6h0m2-7h0m1 56h0m0 9h0m1-34h0m1-21h0m0 0h0m0 58h0m1-43h0m1-26h0m1 3h0m0 5h0m0 24h0m0 20h0m1-50h0m0 28h0m1-26h0m1 9h0m0 5h0m0 41h0m2-55h0m1 5h0m1 8h0m0 12h0m0 19h0m1 2h0m1-22h0m0 13h0m0 6h0m1-23h0m0 31h0m1-36h0m0 19h0m1 3h0m1-24h0m0 18h0m0 3h0m2-14h0m0 2h0m0 0h0m0 18h0m1-35h0m0 14h0m1-14h0m0 40h0m1-28h0m0 62h0m2-59h0m1-15h0m0 6h0m0 8h0m0 26h0m3-47h0m0 4h0m0 1h0m0 19h0m1-27h0m0 26h0m0 9h0m1-33h0m0 8h0m0 23h0m0 2h0m1-2h0m0 13h0m0 20h0m1-56h0m0 11h0m2-6h0m0 7h0m0 6h0m1 6h0m1-24h0m0 30h0m1-36h0m0 37h0m1-33h0m0 10h0m2-12h0m0 4h0m0 3h0m0 15h0m1-17h0m0 41h0m0 1h0m1-43h0m0 13h0m0 6h0m0 18h0m1-26h0m2-9h0m0 6h0m0 8h0m1-14h0m0 14h0m1-9h0m0 33h0m3-40h0m0 3h0m1-7h0m0 4h0m1-5h0m0 7h0m0 5h0m0 3h0m0 4h0m0 27h0m1-46h0m0 23h0m0 12h0m1-25h0m0 8h0m1-9h0m0 26h0m1-25h0m1-14h0m0 15h0m0 32h0m2-22h0m1-19h0m0 8h0m1-11h0m0 10h0m0 12h0m0 15h0m1-7h0m1-33h0m0 9h0m1 19h0m1-27h0m0 8h0m0 5h0m0 1h0m0 5h0m0 16h0m1-36h0m0 10h0m0 15h0m0 23h0m1-40h0m0 13h0m2-10h0m0 26h0m1-18h0m0 10h0m1-21h0m0 17h0m0 29h0m1-47h0m0 6h0m0 11h0m0 11h0m1-35h0m0 38h0m1-20h0m1-3h0m0 10h0m1-13h0m0 14h0m0 12h0m1-38h0m0 10h0m0 48h0m1-50h0m0 2h0m0 17h0m0 2h0m1-19h0m0 1h0m0 18h0m1-30h0m0 33h0m0 0h0m0 4h0m1-29h0m0 13h0m1-9h0m1-1h0m0 2h0m0 8h0m0 0h0m1-20h0m0 15h0m1 40h0m1-55h0m0 1h0m0 9h0m0 8h0m0 7h0m1-5h0m0 15h0m2-28h0m0 20h0m1 1h0m1 5h0m1-8h0m1-15h0m0 0h0m0 6h0m1-10h0m0 21h0m1-15h0m0 6h0m2-5h0m1-8h0m0 0h0m0 2h0m0 4h0m0 18h0m1-17h0m2-10h0m0 8h0m0 1h0m1-12h0m0 1h0m0 9h0m1 5h0m0 28h0m1-59h0m0 6h0m0 14h0m1-18h0m0 7h0m0 0h0m0 16h0m0 6h0m0 0h0m0 3h0m0 6h0m0 3h0m1-40h0m0 4h0m0 3h0m1-12h0m0 1h0m0 15h0m0 0h0m0 6h0m0 17h0m0 6h0m1-44h0m0 6h0m0 2h0m0 16h0m0 1h0m1-25h0m0 16h0m0 4h0m0 29h0m1-59h0m0 7h0m0 15h0m0 13h0m0 12h0m1-46h0m0 6h0m0 3h0m0 6h0m0 18h0m0 7h0m1-13h0m0 5h0m0 16h0m1-39h0m0 1h0m0 8h0m0 1h0m0 1h0m0 7h0m0 2h0m0 4h0m0 21h0m1-47h0m0 18h0m0 0h0m0 5h0m0 14h0m0 0h0m1-34h0m0 35h0m0 1h0m0 36h0m1-79h0m0 10h0m0 0h0m0 7h0m0 5h0m0 8h0m0 14h0m1-42h0m0 10h0m0 17h0m0 6h0m0 4h0m1-36h0m0 3h0m0 5h0m0 9h0m0 2h0m0 1h0m0 7h0m0 5h0m0 13h0m1-17h0m0 14h0m0 6h0m0 10h0m1-51h0m0 6h0m0 10h0m0 4h0m0 15h0m0 25h0m1-69h0m0 30h0m0 4h0m1-34h0m0 30h0m0 0h0m0 10h0m0 1h0m1-32h0m0 1h0m0 2h0m0 6h0m0 14h0m0 17h0m1-46h0m0 5h0m0 4h0m0 4h0m1 5h0m1-15h0m0 9h0m0 9h0m1-16h0m0 26h0m0 13h0m1-40h0m0 9h0m0 14h0m1-23h0m1 2h0m0 10h0m0 16h0m1-29h0m0 7h0m0 17h0m0 4h0m1-37h0m0 24h0m0 7h0m1 8h0m0 2h0m0 15h0m1-19h0m0 3h0m0 17h0m1-44h0m0 13h0m0 26h0m1-40h0m0 2h0m1-13h0m0 6h0m0 2h0m0 16h0m1-20h0m0 1h0m0 0h0m0 6h0m0 10h0m0 1h0m1-8h0m0 2h0m0 0h0m0 14h0m0 11h0m0 7h0m0 2h0m0 4h0m1-48h0m0 13h0m0 2h0m0 3h0m0 8h0m0 13h0m1-32h0m0 14h0m1-6h0m1-11h0m0 0h0m0 8h0m0 6h0m0 7h0m1-29h0m0 12h0m0 5h0m0 4h0m0 17h0m1-36h0m0 1h0m0 1h0m0 2h0m1 6h0m0 3h0m0 42h0m1-55h0m0 5h0m0 1h0m0 1h0m0 8h0m0 10h0m0 7h0m0 1h0m1-15h0m0 28h0m1-53h0m0 28h0m0 7h0m0 43h0m1-68h0m0 22h0m0 9h0m1-40h0m0 6h0m0 0h0m0 21h0m1 2h0m0 0h0m0 11h0m1-23h0m0 3h0m0 7h0m0 19h0m1-42h0m0 3h0m0 25h0m0 9h0m0 7h0m1-47h0m0 4h0m0 36h0m1-24h0m0 20h0m1-23h0m0 3h0m0 17h0m0 9h0m1-40h0m0 21h0m0 7h0m0 2h0m0 7h0m1-37h0m0 22h0m0 4h0m0 27h0m0 4h0m1-54h0m0 0h0m0 23h0m0 17h0m0 1h0m1-34h0m0 15h0m0 19h0m1-42h0m0 0h0m0 11h0m0 6h0m0 3h0m0 12h0m1-35h0m0 5h0m0 2h0m0 3h0m0 5h0m1-12h0m0 7h0m1-5h0m0 13h0m0 8h0m0 12h0m1-34h0m0 8h0m0 4h0m1-8h0m0 4h0m0 5h0m0 6h0m0 3h0m0 18h0m0 12h0m1-58h0m0 27h0m1-26h0m0 22h0m0 22h0m1-39h0m0 6h0m0 28h0m1-20h0m0 16h0m0 4h0m0 18h0m1-58h0m0 8h0m1-4h0m0 4h0m0 2h0m0 1h0m1-9h0m0 4h0m0 10h0m0 19h0m1-21h0m0 17h0m1-32h0m0 7h0m0 2h0m0 4h0m0 5h0m0 2h0m0 5h0m0 0h0m1-14h0m0 5h0m0 25h0m0 10h0m1-35h0m0 12h0m0 1h0m0 10h0m0 1h0m1-13h0m0 1h0m0 2h0m0 14h0m1-41h0m0 19h0m0 7h0m0 6h0m0 17h0m1-49h0m0 12h0m1-10h0m0 10h0m0 3h0m0 14h0m0 4h0m0 1h0m0 27h0m1-54h0m0 7h0m0 15h0m0 41h0m1-64h0m0 32h0m1-41h0m0 23h0m0 5h0m0 11h0m0 14h0m1-49h0m0 11h0m1-5h0m0 5h0m1-1h0m0 0h0m0 11h0m0 19h0m1-18h0m1-23h0m0 5h0m0 1h0m0 18h0m1-26h0m0 3h0m0 3h0m0 7h0m0 3h0m0 3h0m0 19h0m0 2h0m1-5h0m1 1h0m1-24h0m0 12h0m0 16h0m1-34h0m0 10h0m0 3h0m1-19h0m0 35h0m0 2h0m1-32h0m0 1h0m0 1h0m0 21h0m0 6h0m1-27h0m0 3h0m0 5h0m0 4h0m0 17h0m1-12h0m1-24h0m0 5h0m0 19h0m0 3h0m0 12h0m1-37h0m0 3h0m0 17h0m0 2h0m0 9h0m1-24h0m0 3h0m0 4h0m0 3h0m0 2h0m1-1h0m0 5h0m1-9h0m0 14h0m0 1h0m0 9h0m1-28h0m0 1h0m0 29h0m1-41h0m0 1h0m0 24h0m0 8h0m0 1h0m1-28h0m1 13h0m0 3h0m1-23h0m0 2h0m0 12h0m0 5h0m0 27h0m1-41h0m0 1h0m0 1h0m0 6h0m0 3h0m0 2h0m0 2h0m0 6h0m0 10h0m1-36h0m0 6h0m0 11h0m0 1h0m1-15h0m0 0h0m0 3h0m0 4h0m0 0h0m0 4h0m0 8h0m0 3h0m0 12h0m1-34h0m0 3h0m0 5h0m1-3h0m0 10h0m0 10h0m0 1h0m1-21h0m0 2h0m0 17h0m0 2h0m0 2h0m0 6h0m1-37h0m0 5h0m0 8h0m0 1h0m0 0h0m0 4h0m1-7h0m0 3h0m0 4h0m0 19h0m1-17h0m0 1h0m0 5h0m0 13h0m1-37h0m0 9h0m0 10h0m1-16h0m0 0h0m0 11h0m1-12h0m0 8h0m0 14h0m0 6h0m1-54h0m0 18h0m0 6h0m0 5h0m0 0h0m0 17h0m1-40h0m0 9h0m0 1h0m0 1h0m1-19h0m0 5h0m0 12h0m0 8h0m0 8h0m0 1h0m0 11h0m1-44h0m0 2h0m0 4h0m0 6h0m0 15h0m0 13h0m0 9h0m0 6h0m0 20h0m1-78h0m0 2h0m0 2h0m0 21h0m0 14h0m0 0h0m0 2h0m0 6h0m1-44h0m0 9h0m0 6h0m0 14h0m0 3h0m0 9h0m0 17h0m0 0h0m1-58h0m0 6h0m0 21h0m0 11h0m0 5h0m0 4h0m1-40h0m0 3h0m0 9h0m0 18h0m0 36h0m1-69h0m0 5h0m0 4h0m0 0h0m0 20h0m0 1h0m0 0h0m1-35h0m0 0h0m0 9h0m0 0h0m0 16h0m0 0h0m0 4h0m0 5h0m0 2h0m0 0h0m0 2h0m0 4h0m0 8h0m1-51h0m0 11h0m0 21h0m0 7h0m0 24h0m1-49h0m0 13h0m0 6h0m0 1h0m0 12h0m0 18h0m1-65h0m0 13h0m0 3h0m0 2h0m0 25h0m0 2h0m0 8h0m1-38h0m0 16h0m0 10h0m1-17h0m0 5h0m0 6h0m0 5h0m0 22h0m0 3h0m0 1h0m1-58h0m0 3h0m0 4h0m0 1h0m0 6h0m0 3h0m0 1h0m0 12h0m0 5h0m0 1h0m0 6h0m0 23h0m1-74h0m0 9h0m0 4h0m0 12h0m0 4h0m0 6h0m0 24h0m1-58h0m0 0h0m0 1h0m0 0h0m0 7h0m0 7h0m0 12h0m0 4h0m0 21h0m1-51h0m0 5h0m0 1h0m0 3h0m0 21h0m0 1h0m0 2h0m0 0h0m0 11h0m1-31h0m0 1h0m0 1h0m0 13h0m0 10h0m1-38h0m0 3h0m0 38h0m0 10h0m1-32h0m0 10h0m0 42h0m1-68h0m0 4h0m0 28h0m0 1h0m0 7h0m1-44h0m0 4h0m0 2h0m0 17h0m0 5h0m0 4h0m0 14h0m1-41h0m0 4h0m0 0h0m0 7h0m0 6h0m0 6h0m0 4h0m0 29h0m1-53h0m0 5h0m0 8h0m0 14h0m0 7h0m0 5h0m1-47h0m0 14h0m0 8h0m0 7h0m1-27h0m0 9h0m0 2h0m0 3h0m0 1h0m0 5h0m0 2h0m0 16h0m0 3h0m1-24h0m0 13h0m0 0h0m0 9h0m0 5h0m0 1h0m0 12h0m0 10h0m1-56h0m0 3h0m0 3h0m0 15h0m0 33h0m1-39h0m0 1h0m0 1h0m0 14h0m1-43h0m0 9h0m0 3h0m0 3h0m0 9h0m0 5h0m0 3h0m0 15h0m1-15h0m0 7h0m0 2h0m0 2h0m0 2h0m1-46h0m0 11h0m0 16h0m0 18h0m1-38h0m0 9h0m0 0h0m0 11h0m0 7h0m1-29h0m0 10h0m0 6h0m0 0h0m0 7h0m0 2h0m0 3h0m0 1h0m1-28h0m0 0h0m0 0h0m0 6h0m1-5h0m0 17h0m0 5h0m0 19h0m1-35h0m0 11h0m0 6h0m0 0h0m1-28h0m0 3h0m0 26h0m0 2h0m0 8h0m0 9h0m1-44h0m0 6h0m0 3h0m0 4h0m0 2h0m1-8h0m0 5h0m0 9h0m1-20h0m0 5h0m0 1h0m0 7h0m0 1h0m0 24h0m1-45h0m0 25h0m0 8h0m0 1h0m0 1h0m1-34h0m0 18h0m0 7h0m0 0h0m0 4h0m0 3h0m0 1h0m1-24h0m0 6h0m0 7h0m0 15h0m0 3h0m1-21h0m0 7h0m0 4h0m0 4h0m0 2h0m0 10h0m0 2h0m1-47h0m0 12h0m0 5h0m1-17h0m0 8h0m0 2h0m0 8h0m0 1h0m0 2h0m1-18h0m0 1h0m0 11h0m0 0h0m0 18h0m0 4h0m1-37h0m0 4h0m0 3h0m0 2h0m0 8h0m0 1h0m0 8h0m0 9h0m1-29h0m0 8h0m0 8h0m0 36h0m1-55h0m0 3h0m0 20h0m1-24h0m0 0h0m0 12h0m0 12h0m0 17h0m1-40h0m0 2h0m0 25h0m0 15h0m1-40h0m0 2h0m0 12h0m0 15h0m0 11h0m0 12h0m1-53h0m0 7h0m0 4h0m0 6h0m0 15h0m1-38h0m0 5h0m0 7h0m0 12h0m1 2h0m0 15h0m0 6h0m1-30h0m0 2h0m0 1h0m1-8h0m0 2h0m0 11h0m0 6h0m0 0h0m0 12h0m1-34h0m0 5h0m0 3h0m0 20h0m0 9h0m1-44h0m0 2h0m0 20h0m0 9h0m1-24h0m0 12h0m0 4h0m0 4h0m0 0h0m0 9h0m0 4h0m0 5h0m0 13h0m1-57h0m0 2h0m0 9h0m0 9h0m0 19h0m1-42h0m0 4h0m0 13h0m0 10h0m0 5h0m0 1h0m0 0h0m0 24h0m1-51h0m0 13h0m0 4h0m0 5h0m0 4h0m0 9h0m0 17h0m1-16h0m0 5h0m0 3h0m1-45h0m0 4h0m0 3h0m0 3h0m0 0h0m0 0h0m0 9h0m0 13h0m1-31h0m0 2h0m0 4h0m0 14h0m0 9h0m0 5h0m0 6h0m1-47h0m0 6h0m0 35h0m0 11h0m1-51h0m0 5h0m0 1h0m0 0h0m0 2h0m0 10h0m0 1h0m0 2h0m0 0h0m0 17h0m0 38h0m1-73h0m0 15h0m0 3h0m0 7h0m0 14h0m1-37h0m0 1h0m0 4h0m0 7h0m0 2h0m0 4h0m0 2h0m0 6h0m0 3h0m0 5h0m1-37h0m0 3h0m0 7h0m0 3h0m0 1h0m0 1h0m0 22h0m1-29h0m0 9h0m0 1h0m0 3h0m0 6h0m0 3h0m0 6h0m0 9h0m0 2h0m1-50h0m0 11h0m0 13h0m0 1h0m1-6h0m0 6h0m0 6h0m0 5h0m0 6h0m0 6h0m0 7h0m1-47h0m0 5h0m0 4h0m0 16h0m0 1h0m0 18h0m1-23h0m0 4h0m0 2h0m0 4h0m0 10h0m0 5h0m1-53h0m0 22h0m0 0h0m0 4h0m0 5h0m1-25h0m0 4h0m0 6h0m0 10h0m0 6h0m1-25h0m0 3h0m0 1h0m0 14h0m0 12h0m1-31h0m0 6h0m0 4h0m0 5h0m0 1h0m0 8h0m0 3h0m0 0h0m0 8h0m1-18h0m0 10h0m0 9h0m0 0h0m1-9h0m0 21h0m0 5h0m1-54h0m0 0h0m0 3h0m0 1h0m0 2h0m0 18h0m1-28h0m0 17h0m0 11h0m1-25h0m0 6h0m0 12h0m0 12h0m0 0h0m0 35h0m1-57h0m0 10h0m0 2h0m0 3h0m0 2h0m0 0h0m0 3h0m0 3h0m0 4h0m0 4h0m1-30h0m0 5h0m0 9h0m0 6h0m0 19h0m0 2h0m1-50h0m0 1h0m0 9h0m0 4h0m0 14h0m0 8h0m0 17h0m1-45h0m0 5h0m0 23h0m1-34h0m0 1h0m0 4h0m0 15h0m0 1h0m0 5h0m0 4h0m0 10h0m1-31h0m0 12h0m0 3h0m0 1h0m1-23h0m0 1h0m0 1h0m0 6h0m0 4h0m0 1h0m0 28h0m1-46h0m0 2h0m0 15h0m0 3h0m0 18h0m1-37h0m0 4h0m0 5h0m0 1h0m0 1h0m0 0h0m0 5h0m0 4h0m0 12h0m0 7h0m1-26h0m0 3h0m0 7h0m0 9h0m0 3h0m0 1h0m0 8h0m1-49h0m0 6h0m0 2h0m0 6h0m0 2h0m0 19h0m0 4h0m1-38h0m0 11h0m0 11h0m0 4h0m0 1h0m0 6h0m0 1h0m0 4h0m1-29h0m0 1h0m0 1h0m0 3h0m0 5h0m0 1h0m0 18h0m0 9h0m0 6h0m1-27h0m0 7h0m0 3h0m1-33h0m0 20h0m0 7h0m0 0h0m1-16h0m0 3h0m0 2h0m0 6h0m0 10h0m1-31h0m0 18h0m0 2h0m0 13h0m0 4h0m1-41h0m0 2h0m0 2h0m0 9h0m0 16h0m1-28h0m0 5h0m0 29h0m1-14h0m0 3h0m0 4h0m0 11h0m0 7h0m1-46h0m0 4h0m0 1h0m0 1h0m0 0h0m0 1h0m0 16h0m0 3h0m0 3h0m0 0h0m0 8h0m1-36h0m0 2h0m0 9h0m0 3h0m0 3h0m0 3h0m0 8h0m0 0h0m0 7h0m0 6h0m1-40h0m0 10h0m0 2h0m0 8h0m0 14h0m0 2h0m0 1h0m0 3h0m1-37h0m0 3h0m0 11h0m0 4h0m0 7h0m1-29h0m0 9h0m0 8h0m0 5h0m0 16h0m1-36h0m0 6h0m0 5h0m0 1h0m0 10h0m0 2h0m0 2h0m0 8h0m0 3h0m0 3h0m0 3h0m1-36h0m0 4h0m0 12h0m0 6h0m0 7h0m1-31h0m0 4h0m0 20h0m1-26h0m0 11h0m0 2h0"/>
<path d="M86 352h0m3 22h0m2 4h0m1-108h0m0 101h0m0 62h0m1-78h0m0 11h0m0 7h0m2 27h0m4-3h0m2 14h0m0 38h0m1-152h0m1 142h0m10-128h0m11 21h0m0 1h0m4 4h0m1 51h0m1-80h0m0 28h0m1-49h0m3-4h0m0 71h0m2-11h0m1 19h0m0 13h0m0 3h0m0 14h0m2-113h0m1 1h0m0 59h0m1 20h0m1-49h0m0 27h0m1-35h0m1 85h0m2-70h0m1-13h0m0 37h0m3-41h0m2-9h0m4-19h0m0 66h0m0 11h0m1-27h0m2-45h0m5-8h0m0 45h0m1-28h0m1 53h0m1-50h0m1 8h0m2-16h0m0 2h0m0 13h0m1-9h0m0 23h0m1-43h0m0 75h0m2-50h0m3-15h0m1 9h0m1 21h0m1-2h0m2-27h0m3 6h0m0 21h0m0 0h0m2-33h0m1 57h0m1-38h0m1 6h0m1 25h0m2-4h0m1-41h0m3 32h0m1-21h0m1-20h0m0 49h0m0 7h0m1-27h0m0 17h0m0 2h0m1 3h0m3 7h0m1-54h0m1 27h0m5-33h0m0 55h0m2 22h0m2-49h0m3-21h0m3 6h0m2-4h0m1-3h0m1 3h0m0 27h0m1-25h0m0 4h0m5-15h0m1-37h0m1 11h0m0 30h0m6-18h0m1 3h0m0 30h0m1-50h0m0 38h0m0 32h0m1-35h0m2-33h0m0 51h0m0 9h0m2-60h0m0 48h0m2-14h0m2-33h0m0 9h0m1-10h0m0 37h0m2-42h0m0 12h0m1-7h0m1 37h0m1-31h0m1 26h0m0 8h0m1-8h0m1-36h0m1 6h0m1-6h0m1 7h0m1 51h0m2-47h0m1 28h0m1-19h0m0 2h0m0 0h0m1-14h0m1 2h0m0 29h0m5-4h0m1-24h0m1 14h0m2-1h0m1-23h0m0 16h0m0 13h0m1-26h0m0 34h0m3-41h0m0 3h0m0 6h0m2-6h0m0 24h0m1 7h0m0 8h0m2-21h0m2-12h0m1-11h0m0 9h0m0 15h0m1-21h0m0 44h0m1 1h0m2-48h0m2 31h0m1-16h0m1 23h0m2-17h0m1-16h0m1 6h0m1 1h0m1-3h0m1 35h0m1-32h0m0 1h0m0 8h0m1 18h0m2-26h0m1 14h0m0 1h0m0 4h0m1-2h0m1-23h0m0 10h0m0 7h0m1-24h0m0 4h0m2 3h0m0 5h0m0 17h0m1-18h0m0 9h0m1-2h0m1-12h0m1-5h0m2 6h0m2-2h0m0 22h0m1 6h0m0 10h0m2-25h0m0 24h0m1-10h0m1-22h0m1 1h0m2-9h0m3 9h0m2 5h0m2 6h0m1-21h0m2 10h0m0 43h0m2-36h0m0 2h0m0 2h0m1-11h0m0 4h0m1-42h0m0 17h0m0 27h0m0 5h0m1-38h0m0 18h0m1-7h0m0 2h0m1-33h0m0 43h0m0 4h0m1-17h0m0 21h0m1-25h0m0 18h0m1-36h0m0 10h0m0 15h0m1 9h0m1-18h0m1-18h0m0 2h0m0 13h0m0 1h0m0 10h0m1-3h0m0 5h0m0 20h0m1 1h0m2-48h0m0 62h0m1-54h0m0 13h0m0 20h0m0 4h0m0 3h0m0 6h0m2-57h0m0 33h0m1-33h0m1 17h0m0 20h0m2-36h0m0 19h0m0 5h0m1-11h0m0 1h0m0 12h0m1-11h0m0 20h0m0 1h0m1-26h0m0 4h0m1-4h0m0 10h0m0 14h0m0 7h0m1-44h0m1 34h0m1-30h0m0 31h0m0 6h0m1-43h0m0 3h0m0 4h0m1 40h0m1-20h0m1-1h0m0 51h0m2-27h0m1-37h0m0 25h0m0 5h0m0 0h0m1-3h0m1 0h0m1-39h0m1 32h0m2-34h0m0 1h0m0 15h0m1 9h0m1-13h0m0 1h0m0 10h0m1-5h0m1-7h0m2-10h0m0 16h0m0 2h0m1-1h0m0 10h0m1 4h0m1-31h0m1 26h0m1 17h0m1-41h0m1-4h0m0 17h0m0 8h0m0 4h0m1-2h0m3-16h0m0 3h0m0 2h0m0 6h0m0 48h0m3-66h0m0 1h0m0 2h0m0 5h0m0 10h0m0 15h0m0 1h0m1-4h0m1 11h0m1-33h0m0 1h0m0 9h0m0 14h0m2-13h0m0 2h0m0 12h0m1-34h0m0 25h0m0 5h0m0 2h0m1-31h0m0 22h0m1-18h0m0 13h0m1-19h0m0 4h0m0 1h0m0 4h0m1 47h0m1-51h0m0 19h0m0 3h0m0 13h0m1-41h0m0 14h0m0 23h0m1-22h0m0 4h0m2 0h0m1-16h0m0 16h0m0 12h0m1-11h0m1 9h0m0 18h0m1 3h0m2-44h0m0 8h0m0 0h0m0 14h0m1-28h0m0 4h0m0 17h0m2-19h0m0 18h0m0 25h0m1-43h0m1 9h0m1 11h0m0 2h0m1-8h0m2-8h0m0 9h0m2-7h0m0 2h0m0 4h0m0 6h0m0 4h0m1 11h0m1-10h0m1-1h0m1-27h0m0 6h0m0 11h0m2-3h0m1-9h0m0 6h0m0 6h0m0 4h0m0 29h0m1-43h0m0 19h0m1-25h0m0 9h0m0 19h0m2-16h0m0 5h0m0 13h0m1-26h0m0 4h0m0 27h0m1-21h0m0 13h0m1-28h0m0 8h0m0 3h0m0 5h0m0 4h0m0 1h0m0 7h0m0 9h0m1-36h0m0 8h0m0 3h0m0 3h0m1-8h0m0 1h0m0 7h0m1 3h0m0 8h0m1-24h0m0 4h0m0 12h0m0 6h0m1-9h0m0 10h0m1-24h0m0 4h0m0 8h0m0 3h0m1 2h0m1-14h0m0 6h0m0 16h0m0 32h0m1-28h0m2-39h0m0 13h0m1-23h0m0 0h0m0 41h0m0 5h0m0 0h0m1-48h0m0 13h0m0 20h0m0 8h0m1-42h0m0 20h0m0 6h0m0 10h0m0 36h0m1-66h0m0 17h0m1-25h0m0 5h0m0 5h0m0 2h0m0 15h0m1-24h0m0 46h0m1-34h0m0 19h0m0 2h0m0 6h0m0 7h0m0 4h0m0 2h0m1-51h0m0 10h0m0 6h0m0 3h0m0 20h0m1-25h0m0 25h0m1-43h0m0 2h0m0 5h0m0 11h0m0 6h0m0 11h0m0 1h0m0 9h0m1-9h0m1-8h0m0 7h0m0 5h0m0 8h0m0 0h0m0 20h0m1-45h0m0 28h0m1-42h0m0 6h0m0 9h0m0 7h0m0 7h0m0 9h0m0 1h0m1-49h0m0 9h0m0 1h0m0 21h0m0 1h0m0 0h0m1-4h0m0 11h0m0 8h0m0 3h0m0 1h0m1-49h0m0 16h0m0 9h0m0 14h0m0 2h0m1-41h0m0 0h0m0 24h0m0 5h0m0 4h0m0 14h0m1-42h0m0 9h0m0 17h0m0 6h0m0 23h0m1-60h0m0 1h0m0 5h0m0 10h0m0 7h0m0 3h0m0 12h0m0 3h0m1-31h0m0 14h0m0 4h0m0 5h0m0 1h0m0 5h0m0 9h0m1-40h0m0 0h0m0 5h0m0 3h0m1-18h0m0 3h0m0 1h0m0 17h0m0 0h0m0 4h0m0 13h0m0 7h0m0 6h0m1-38h0m0 8h0m1-20h0m0 10h0m0 19h0m0 1h0m0 1h0m0 4h0m0 15h0m1-49h0m0 13h0m0 13h0m0 32h0m1-43h0m0 1h0m1-14h0m0 3h0m0 6h0m0 5h0m0 8h0m1-27h0m0 16h0m0 13h0m0 17h0m0 20h0m1-62h0m0 3h0m0 20h0m0 12h0m0 3h0m1 6h0m0 2h0m1-46h0m0 10h0m0 20h0m0 8h0m0 3h0m1 0h0m0 1h0m0 1h0m2-38h0m0 5h0m0 4h0m1-13h0m0 10h0m0 14h0m0 21h0m1-37h0m0 3h0m1-12h0m0 21h0m0 7h0m1-21h0m0 8h0m0 23h0m0 5h0m0 12h0m1-54h0m0 24h0m1-28h0m0 4h0m0 24h0m0 0h0m0 2h0m1-26h0m0 2h0m0 3h0m0 16h0m0 4h0m1-31h0m0 7h0m0 3h0m0 18h0m0 1h0m0 1h0m0 16h0m0 3h0m1-48h0m0 14h0m0 26h0m0 5h0m0 22h0m1-67h0m0 6h0m0 47h0m1-39h0m0 13h0m0 18h0m0 6h0m0 5h0m1-48h0m0 10h0m0 5h0m0 13h0m1-11h0m0 3h0m0 11h0m0 24h0m1-30h0m0 10h0m1-31h0m0 12h0m0 12h0m0 2h0m0 5h0m1-32h0m0 11h0m0 0h0m0 5h0m0 11h0m1-26h0m0 11h0m0 4h0m0 7h0m0 2h0m0 1h0m1-18h0m1-15h0m0 7h0m0 20h0m0 8h0m1-37h0m0 38h0m1-37h0m0 15h0m0 10h0m0 17h0m0 2h0m1-21h0m0 1h0m1-9h0m0 13h0m0 24h0m1-45h0m0 7h0m0 2h0m0 5h0m0 3h0m0 5h0m0 26h0m1-55h0m0 2h0m0 16h0m0 4h0m0 6h0m0 10h0m1-36h0m0 5h0m0 5h0m0 7h0m0 1h0m0 4h0m0 2h0m0 9h0m0 11h0m1-36h0m0 1h0m0 1h0m0 4h0m0 1h0m0 2h0m0 10h0m1-29h0m0 13h0m0 2h0m1-12h0m0 10h0m0 13h0m0 5h0m0 4h0m0 18h0m1-56h0m0 21h0m0 6h0m0 12h0m0 25h0m1-63h0m0 0h0m0 26h0m0 7h0m1-28h0m0 1h0m0 12h0m0 6h0m0 13h0m0 4h0m1-36h0m0 48h0m1-49h0m0 2h0m0 19h0m1-23h0m1 0h0m0 34h0m1-13h0m0 6h0m0 11h0m0 36h0m1-74h0m0 0h0m0 18h0m0 9h0m1-15h0m0 8h0m0 27h0m1-50h0m0 36h0m0 1h0m0 2h0m0 3h0m1-9h0m0 5h0m1-38h0m0 1h0m0 20h0m0 4h0m0 1h0m1-12h0m0 0h0m0 13h0m0 10h0m0 1h0m0 2h0m1-35h0m0 0h0m0 9h0m0 3h0m0 8h0m0 13h0m1-38h0m0 2h0m0 5h0m0 14h0m0 3h0m0 8h0m1-32h0m0 9h0m0 16h0m0 2h0m0 18h0m2-41h0m0 18h0m0 10h0m0 1h0m1-29h0m0 6h0m0 1h0m0 2h0m0 13h0m1 5h0m1-24h0m0 15h0m0 7h0m0 3h0m0 15h0m1-44h0m0 13h0m0 7h0m0 31h0m1-30h0m1-24h0m0 19h0m0 16h0m0 7h0m1-37h0m0 1h0m0 21h0m1-22h0m0 2h0m0 20h0m0 0h0m1-9h0m0 11h0m1-20h0m0 32h0m1-38h0m0 8h0m0 1h0m0 3h0m0 3h0m0 15h0m0 5h0m0 21h0m1-43h0m0 4h0m0 18h0m0 10h0m1-36h0m0 4h0m0 4h0m0 1h0m0 6h0m0 3h0m1-21h0m0 15h0m0 30h0m1-53h0m0 4h0m0 2h0m1-4h0m0 2h0m0 2h0m0 4h0m0 1h0m0 0h0m0 6h0m1-10h0m0 3h0m0 1h0m0 3h0m0 1h0m0 13h0m0 11h0m1-35h0m0 12h0m0 16h0m1-16h0m0 1h0m0 8h0m0 5h0m0 17h0m1-35h0m0 24h0m1-14h0m1-23h0m0 17h0m1-17h0m0 8h0m0 2h0m0 0h0m0 22h0m1-32h0m0 5h0m0 14h0m0 3h0m0 17h0m1-36h0m0 0h0m0 39h0m0 7h0m1-48h0m0 1h0m0 4h0m0 2h0m0 2h0m1 15h0m0 7h0m0 14h0m1-31h0m1 2h0m0 2h0m0 40h0m1-52h0m0 0h0m0 2h0m0 2h0m1 10h0m1-17h0m0 5h0m0 14h0m1-21h0m1 11h0m0 3h0m0 4h0m0 10h0m1-17h0m0 25h0m1-64h0m0 24h0m0 28h0m1-51h0m0 4h0m0 8h0m0 20h0m0 1h0m0 6h0m0 5h0m0 0h0m0 7h0m1-51h0m0 3h0m0 15h0m0 17h0m0 2h0m0 10h0m1-48h0m0 5h0m0 1h0m0 13h0m0 7h0m0 17h0m0 1h0m1-42h0m0 1h0m0 2h0m0 10h0m0 0h0m0 20h0m0 15h0m0 7h0m1-58h0m0 16h0m0 4h0m0 5h0m0 3h0m0 18h0m0 0h0m1-45h0m0 7h0m0 1h0m0 19h0m0 1h0m0 5h0m0 6h0m0 2h0m1-32h0m0 17h0m0 4h0m0 7h0m0 10h0m0 2h0m1-14h0m1-16h0m0 2h0m0 21h0m1-14h0m0 3h0m0 3h0m0 2h0m0 16h0m0 5h0m0 7h0m1-50h0m0 15h0m0 8h0m0 12h0m0 2h0m1-45h0m0 1h0m0 11h0m0 11h0m0 3h0m0 9h0m0 23h0m1-58h0m0 27h0m0 11h0m0 1h0m1-45h0m0 3h0m0 10h0m0 1h0m0 4h0m0 6h0m0 10h0m0 2h0m0 4h0m0 0h0m0 3h0m0 3h0m0 5h0m1-49h0m0 2h0m0 17h0m0 5h0m0 1h0m0 4h0m0 0h0m0 4h0m0 11h0m0 0h0m1-36h0m0 20h0m0 11h0m1-21h0m0 3h0m0 2h0m0 12h0m1-36h0m0 8h0m0 2h0m0 1h0m0 5h0m1 1h0m0 1h0m0 10h0m0 1h0m0 3h0m0 14h0m0 5h0m0 0h0m1-50h0m0 1h0m0 2h0m0 3h0m0 11h0m0 3h0m0 2h0m0 6h0m0 1h0m0 3h0m0 3h0m0 14h0m1-51h0m0 9h0m0 0h0m0 31h0m0 7h0m0 4h0m0 2h0m0 2h0m1-55h0m0 2h0m0 23h0m0 1h0m1-22h0m0 3h0m0 7h0m0 6h0m0 0h0m0 1h0m0 1h0m0 1h0m0 8h0m0 56h0m1-70h0m0 22h0m0 5h0m0 7h0m0 42h0m1-92h0m0 10h0m0 3h0m0 15h0m0 4h0m0 7h0m0 11h0m1-33h0m0 7h0m0 4h0m0 21h0m1-44h0m0 7h0m0 1h0m0 5h0m0 19h0m1-37h0m0 6h0m0 9h0m0 8h0m0 17h0m1-31h0m0 11h0m0 9h0m0 5h0m0 3h0m0 0h0m0 4h0m2-33h0m0 30h0m0 1h0m0 4h0m1-32h0m0 5h0m0 16h0m0 6h0m0 7h0m1-44h0m0 8h0m0 1h0m0 1h0m0 8h0m0 11h0m0 1h0m0 7h0m1-19h0m0 5h0m0 2h0m0 18h0m1-30h0m0 1h0m0 1h0m0 0h0m0 1h0m0 6h0m0 11h0m0 1h0m1-32h0m0 13h0m0 13h0m0 4h0m0 12h0m1-43h0m0 28h0m0 2h0m0 1h0m0 1h0m0 14h0m1-25h0m0 0h0m0 3h0m1-14h0m0 1h0m0 3h0m0 2h0m0 2h0m0 4h0m1-26h0m0 4h0m0 7h0m0 9h0m0 6h0m0 13h0m0 11h0m0 2h0m0 1h0m1-27h0m0 9h0m0 8h0m0 0h0m0 6h0m1-42h0m0 7h0m0 6h0m0 0h0m0 11h0m1-26h0m0 7h0m0 4h0m0 16h0m0 11h0m1-34h0m0 7h0m0 6h0m0 1h0m0 5h0m0 3h0m0 0h0m0 2h0m0 16h0m1-32h0m0 34h0m1-48h0m0 25h0m0 9h0m0 1h0m0 19h0m1-56h0m0 11h0m0 3h0m0 8h0m0 8h0m0 17h0m1-38h0m0 14h0m0 7h0m0 4h0m0 1h0m0 28h0m1-61h0m0 7h0m0 4h0m0 16h0m0 29h0m1-43h0m0 10h0m0 10h0m0 19h0m1-55h0m0 3h0m0 2h0m0 3h0m0 0h0m0 3h0m0 3h0m0 4h0m0 1h0m0 12h0m1-28h0m0 3h0m0 17h0m0 4h0m0 4h0m0 4h0m0 4h0m0 7h0m0 0h0m0 13h0m1-56h0m0 0h0m0 17h0m0 0h0m0 12h0m1-23h0m0 6h0m0 14h0m1-17h0m0 1h0m0 22h0m1-32h0m0 1h0m0 6h0m0 12h0m1 0h0m0 6h0m0 19h0m0 16h0m1-56h0m0 12h0m0 0h0m0 6h0m0 25h0m0 18h0m1-67h0m0 0h0m0 0h0m0 2h0m0 15h0m0 1h0m0 6h0m0 11h0m0 7h0m0 8h0m0 10h0m0 1h0m1-54h0m0 9h0m0 3h0m0 3h0m0 16h0m0 3h0m0 7h0m1-45h0m0 7h0m0 13h0m0 9h0m0 12h0m0 24h0m1-63h0m0 6h0m0 0h0m0 17h0m0 4h0m0 26h0m1-59h0m0 7h0m0 2h0m0 18h0m0 5h0m0 3h0m0 37h0m1-66h0m0 7h0m0 9h0m0 11h0m1-32h0m0 2h0m0 7h0m0 4h0m0 2h0m0 10h0m0 7h0m0 9h0m0 5h0m1-43h0m0 6h0m0 15h0m0 4h0m0 4h0m0 4h0m0 1h0m0 1h0m0 3h0m1-24h0m0 4h0m0 2h0m0 8h0m0 6h0m0 6h0m0 10h0m1-53h0m0 4h0m0 21h0m0 3h0m1-24h0m0 8h0m0 9h0m0 1h0m0 13h0m1-32h0m0 0h0m0 2h0m0 11h0m0 17h0m0 3h0m0 4h0m0 15h0m1-35h0m0 14h0m0 9h0m0 63h0m1-101h0m0 5h0m0 0h0m0 5h0m0 22h0m0 1h0m0 4h0m0 2h0m1-39h0m0 12h0m0 0h0m0 2h0m0 9h0m0 2h0m0 6h0m0 2h0m0 0h0m0 4h0m1-37h0m0 12h0m0 4h0m0 3h0m1 0h0m0 14h0m0 27h0m1-38h0m0 0h0m0 5h0m0 2h0m0 7h0m1-36h0m0 3h0m0 2h0m0 8h0m0 1h0m0 2h0m0 9h0m0 12h0m0 3h0m1-33h0m0 6h0m0 8h0m0 2h0m0 3h0m0 2h0m0 10h0m1-39h0m0 7h0m0 3h0m0 5h0m0 1h0m0 10h0m0 13h0m1-25h0m0 21h0m0 5h0m1-33h0m0 11h0m0 4h0m0 1h0m0 14h0m1-39h0m0 16h0m0 18h0m0 2h0m0 8h0m1-39h0m0 5h0m0 3h0m0 11h0m0 6h0m1-21h0m0 4h0m0 8h0m0 11h0m1-33h0m0 8h0m0 8h0m0 1h0m0 4h0m0 3h0m0 6h0m0 8h0m1-18h0m0 1h0m0 5h0m0 7h0m0 5h0m1-33h0m0 4h0m0 6h0m0 26h0m1-43h0m0 12h0m0 8h0m0 4h0m0 3h0m0 2h0m0 0h0m0 0h0m0 1h0m0 7h0m0 15h0m1-30h0m0 3h0m0 9h0m0 1h0m0 2h0m0 6h0m1-39h0m0 18h0m0 3h0m0 3h0m0 8h0m0 6h0m0 14h0m1-43h0m0 0h0m0 13h0m1-14h0m0 2h0m0 1h0m0 15h0m0 13h0m1-36h0m0 11h0m0 2h0m0 1h0m0 9h0m0 28h0m1-57h0m0 2h0m0 5h0m0 2h0m0 9h0m0 6h0m0 2h0m0 9h0m0 5h0m0 2h0m0 5h0m0 18h0m1-62h0m0 3h0m0 6h0m0 10h0m0 7h0m0 10h0m1-38h0m0 6h0m0 0h0m0 3h0m0 1h0m0 6h0m0 6h0m0 7h0m0 3h0m0 6h0m0 34h0m1-72h0m0 15h0m0 12h0m0 0h0m0 4h0m0 2h0m1-26h0m0 6h0m0 2h0m0 13h0m0 13h0m0 8h0m1-48h0m0 13h0m0 7h0m0 3h0m0 3h0m0 4h0m0 6h0m1-31h0m0 5h0m0 1h0m0 4h0m0 10h0m0 1h0m0 8h0m0 2h0m1-32h0m0 5h0m0 6h0m0 5h0m0 9h0m1-24h0m0 6h0m0 0h0m0 1h0m0 13h0m0 9h0m1-21h0m0 1h0m0 20h0m0 2h0m1-30h0m0 2h0m0 3h0m0 0h0m0 3h0m0 10h0m0 5h0m0 3h0m1-28h0m0 2h0m0 16h0m0 9h0m0 4h0m1-37h0m0 9h0m0 3h0m0 2h0m0 5h0m0 5h0m1-25h0m0 10h0m0 3h0m0 21h0m1-29h0m0 8h0m0 3h0m0 8h0m1-22h0m0 0h0m0 30h0m1-31h0m0 2h0m0 0h0m0 0h0m0 14h0m1-7h0m0 1h0m0 2h0m0 2h0m0 1h0m0 6h0m0 2h0m0 4h0m0 8h0m0 13h0m1-37h0m0 0h0m0 9h0m0 1h0m1-22h0m0 21h0m0 0h0m0 9h0m0 22h0m1-51h0m0 4h0m0 41h0m1-41h0m0 19h0m0 4h0m0 20h0m0 23h0m1-60h0m0 3h0m0 32h0m0 8h0"/>
<path d="M88 280h0m1 101h0m1-6h0m2-160h0m0 176h0m3-9h0m0 66h0m1-88h0m0 85h0m1-90h0m0 33h0m3 62h0m2-225h0m0 199h0m2-230h0m0 32h0m7 171h0m13-31h0m6-71h0m7 38h0m1-18h0m2-38h0m2 45h0m1-21h0m0 42h0m1-6h0m1-23h0m1-22h0m0 36h0m1 47h0m3-94h0m1 16h0m1 15h0m1-16h0m0 26h0m0 7h0m1-18h0m1-14h0m3-2h0m4 17h0m2 1h0m0 1h0m1 23h0m1-60h0m3 2h0m1 11h0m2 22h0m1 25h0m2-69h0m4 48h0m1-39h0m0 15h0m2 4h0m0 7h0m1-25h0m0 41h0m0 5h0m1-59h0m0 45h0m1-13h0m3 1h0m2-11h0m0 3h0m1-12h0m0 6h0m1-6h0m0 39h0m1-13h0m2-15h0m1-9h0m4 23h0m2 13h0m4-39h0m1 1h0m3 30h0m1-11h0m2-14h0m0 19h0m3-30h0m6 22h0m0 15h0m4-37h0m0 2h0m4-33h0m4-12h0m0 22h0m2-18h0m0 56h0m2-54h0m5 10h0m0 19h0m4-18h0m0 17h0m1 23h0m0 26h0m1-60h0m0 8h0m0 2h0m2-10h0m0 11h0m1-33h0m1 54h0m1-33h0m1 41h0m3-28h0m1-21h0m0 45h0m1-54h0m0 37h0m3-17h0m2 21h0m1-37h0m0 14h0m1-18h0m1 12h0m0 5h0m4 13h0m2-32h0m0 1h0m2 65h0m1-45h0m3-13h0m2-1h0m0 2h0m0 32h0m3-44h0m0 23h0m0 38h0m2-54h0m3 10h0m1 2h0m1-4h0m0 27h0m1-15h0m1 6h0m1-14h0m5-19h0m0 33h0m2 8h0m1-31h0m0 30h0m1-14h0m0 3h0m0 6h0m2-28h0m0 45h0m2-28h0m4 0h0m1 4h0m2-27h0m0 22h0m1-3h0m3 1h0m1 0h0m1-16h0m0 5h0m1 33h0m3-30h0m0 10h0m2-17h0m3 15h0m1-19h0m1-3h0m0 2h0m0 2h0m4 6h0m3 4h0m0 5h0m0 8h0m3-10h0m2-13h0m1-36h0m0 33h0m0 4h0m0 23h0m2-21h0m0 26h0m1-69h0m1 32h0m0 5h0m0 9h0m0 20h0m1-67h0m0 26h0m0 6h0m1-7h0m2-7h0m0 11h0m0 12h0m0 15h0m0 20h0m1-53h0m0 52h0m1-26h0m1-23h0m1 4h0m0 9h0m1-19h0m0 11h0m1 22h0m1-46h0m0 16h0m1 42h0m1-62h0m0 14h0m1 8h0m1 12h0m1-29h0m1-5h0m0 15h0m0 12h0m0 10h0m0 5h0m1-33h0m0 13h0m0 16h0m1-8h0m1-6h0m1-15h0m0 31h0m0 2h0m1-27h0m0 6h0m1 12h0m1-33h0m1-2h0m0 11h0m0 14h0m1-13h0m0 23h0m0 50h0m1-52h0m2 6h0m1-8h0m1-1h0m1-19h0m0 8h0m2-16h0m2 11h0m0 22h0m0 1h0m0 40h0m1-56h0m0 4h0m1-10h0m0 2h0m0 23h0m1-30h0m1-11h0m1 6h0m0 8h0m0 39h0m0 13h0m1-50h0m0 1h0m0 4h0m0 12h0m1-23h0m0 17h0m3 9h0m1-22h0m0 16h0m1-26h0m0 7h0m0 23h0m1-14h0m0 5h0m0 30h0m1-52h0m0 22h0m0 3h0m0 1h0m2-24h0m1 10h0m0 0h0m0 3h0m0 8h0m0 3h0m1-18h0m1 25h0m0 0h0m0 5h0m1-8h0m0 15h0m2-48h0m0 13h0m0 35h0m1-34h0m0 9h0m0 10h0m2-9h0m1 17h0m1-36h0m0 7h0m2 10h0m4-10h0m1-7h0m1 7h0m0 4h0m0 8h0m0 12h0m1-10h0m0 0h0m0 2h0m1-26h0m0 5h0m2 3h0m0 14h0m1-10h0m1-6h0m0 3h0m1 2h0m1 27h0m1-30h0m2-2h0m0 18h0m0 5h0m1-22h0m1 43h0m1-4h0m1-46h0m0 8h0m0 13h0m0 12h0m1 1h0m1-12h0m0 7h0m1-17h0m0 16h0m0 3h0m1 3h0m0 2h0m1-18h0m0 12h0m0 8h0m1-28h0m0 5h0m1 16h0m1-19h0m0 10h0m1-20h0m0 22h0m1-22h0m2 4h0m0 22h0m1-20h0m0 7h0m0 2h0m1-14h0m0 21h0m0 20h0m1-22h0m0 21h0m2-44h0m0 24h0m1-24h0m0 2h0m0 1h0m0 3h0m0 21h0m1-16h0m0 28h0m1-37h0m0 0h0m0 12h0m0 9h0m1-23h0m0 1h0m0 22h0m0 1h0m1-25h0m0 11h0m0 19h0m1-25h0m0 16h0m0 21h0m1-40h0m1-2h0m0 15h0m1-13h0m0 5h0m0 1h0m0 2h0m0 7h0m1 1h0m1-38h0m0 2h0m0 35h0m0 5h0m1-33h0m0 9h0m0 16h0m0 2h0m1-38h0m0 19h0m0 0h0m0 1h0m0 3h0m0 23h0m0 8h0m1-31h0m0 16h0m0 0h0m0 2h0m0 17h0m2-48h0m0 0h0m0 35h0m1-45h0m0 6h0m0 7h0m0 5h0m0 1h0m0 13h0m0 8h0m1-25h0m0 4h0m0 3h0m0 2h0m0 29h0m1-43h0m0 0h0m0 4h0m0 14h0m0 2h0m1-31h0m0 6h0m0 2h0m0 4h0m0 2h0m0 30h0m0 5h0m1-48h0m0 0h0m0 32h0m0 0h0m0 6h0m0 56h0m1-94h0m0 31h0m0 18h0m1-49h0m0 6h0m0 16h0m0 6h0m0 1h0m0 13h0m1-40h0m0 7h0m0 2h0m0 1h0m0 13h0m0 15h0m0 1h0m1-26h0m0 22h0m1-42h0m0 8h0m0 24h0m0 5h0m0 2h0m0 17h0m0 3h0m1-59h0m0 7h0m0 27h0m0 2h0m1-30h0m0 4h0m0 26h0m0 1h0m0 0h0m0 6h0m0 15h0m1-43h0m0 2h0m0 5h0m0 23h0m0 4h0m1-49h0m0 14h0m0 8h0m0 4h0m0 16h0m0 30h0m1-70h0m0 0h0m0 62h0m1-65h0m0 9h0m0 18h0m0 28h0m1-48h0m0 27h0m0 1h0m1-28h0m0 9h0m0 5h0m1-21h0m0 5h0m0 17h0m1-16h0m0 1h0m0 1h0m0 2h0m0 6h0m0 5h0m0 11h0m0 0h0m0 8h0m0 8h0m1-47h0m0 4h0m0 32h0m0 9h0m1-40h0m0 21h0m0 1h0m1-9h0m0 4h0m0 7h0m0 1h0m0 10h0m0 6h0m1-44h0m0 7h0m0 21h0m0 5h0m0 0h0m0 0h0m0 14h0m1-19h0m0 2h0m0 2h0m0 1h0m0 3h0m0 1h0m1-35h0m0 7h0m0 4h0m0 2h0m0 9h0m0 1h0m0 2h0m0 4h0m0 0h0m0 8h0m1-41h0m0 6h0m0 40h0m1-19h0m0 3h0m0 4h0m0 23h0m1-53h0m0 3h0m0 7h0m0 21h0m0 2h0m1-33h0m0 9h0m0 8h0m1-11h0m0 13h0m0 2h0m0 1h0m0 16h0m1-31h0m0 7h0m0 1h0m0 3h0m0 2h0m0 5h0m0 5h0m1-30h0m0 4h0m0 10h0m0 3h0m0 0h0m0 4h0m0 1h0m1-13h0m0 47h0m1-59h0m0 8h0m0 1h0m1 1h0m0 4h0m0 12h0m0 1h0m0 4h0m0 6h0m1-35h0m0 26h0m0 14h0m0 8h0m0 3h0m1-47h0m0 1h0m0 16h0m1-22h0m0 5h0m0 13h0m0 8h0m0 1h0m1-4h0m0 20h0m0 0h0m1-46h0m0 8h0m0 19h0m0 3h0m1-13h0m0 1h0m0 3h0m0 3h0m0 3h0m1-21h0m0 4h0m0 5h0m0 2h0m1-6h0m0 14h0m0 1h0m0 1h0m0 0h0m0 2h0m0 4h0m0 16h0m0 5h0m0 3h0m1-42h0m0 7h0m0 0h0m0 15h0m1-30h0m0 14h0m0 15h0m1-33h0m0 15h0m0 23h0m1-25h0m0 1h0m0 6h0m0 14h0m0 6h0m1-43h0m0 1h0m0 8h0m0 0h0m0 5h0m0 5h0m0 0h0m0 20h0m0 9h0m1-22h0m0 2h0m0 2h0m0 6h0m0 2h0m0 11h0m1-37h0m0 29h0m1-40h0m0 3h0m0 7h0m0 6h0m0 11h0m0 10h0m1-35h0m0 10h0m0 16h0m0 2h0m0 17h0m1-24h0m0 2h0m0 12h0m0 9h0m1-47h0m0 11h0m0 57h0m1-42h0m0 6h0m0 0h0m1-23h0m1-6h0m0 4h0m1 1h0m0 9h0m0 1h0m0 9h0m0 7h0m0 12h0m0 1h0m1-41h0m0 24h0m1-19h0m0 6h0m0 8h0m0 10h0m1-31h0m0 25h0m1-23h0m0 10h0m0 2h0m0 21h0m0 11h0m0 8h0m1-57h0m0 11h0m0 4h0m0 6h0m0 1h0m0 11h0m0 11h0m1-32h0m0 0h0m0 2h0m0 28h0m1-39h0m0 1h0m0 4h0m0 29h0m0 18h0m0 4h0m1-59h0m0 34h0m0 10h0m0 25h0m1-35h0m0 15h0m1-34h0m0 1h0m0 4h0m0 13h0m1-32h0m0 9h0m0 21h0m0 34h0m1-50h0m0 8h0m1-9h0m0 2h0m0 20h0m0 3h0m1-31h0m0 26h0m1 0h0m0 0h0m0 5h0m1-31h0m0 2h0m0 9h0m1-13h0m0 5h0m0 1h0m0 5h0m0 1h0m0 11h0m0 18h0m1-40h0m0 1h0m0 1h0m0 4h0m0 6h0m0 19h0m0 1h0m1-38h0m0 1h0m0 0h0m0 9h0m0 0h0m0 10h0m0 19h0m1-37h0m0 1h0m0 5h0m1 1h0m0 26h0m0 11h0m1-42h0m0 13h0m1-19h0m0 9h0m0 0h0m0 9h0m0 1h0m0 3h0m1-19h0m0 2h0m0 1h0m0 18h0m0 0h0m1-17h0m0 1h0m0 13h0m0 2h0m0 7h0m1-30h0m0 1h0m0 18h0m0 16h0m0 6h0m1-36h0m0 30h0m0 16h0m1-28h0m0 5h0m1-14h0m1 1h0m0 5h0m0 0h0m0 6h0m0 7h0m0 1h0m0 6h0m0 5h0m1-41h0m0 11h0m0 2h0m0 2h0m1-9h0m0 6h0m0 8h0m0 2h0m0 4h0m1-15h0m0 17h0m1-29h0m0 4h0m0 3h0m0 2h0m0 4h0m0 14h0m0 3h0m1 4h0m1-34h0m0 6h0m0 3h0m0 2h0m0 1h0m0 5h0m0 4h0m0 3h0m0 3h0m1-16h0m0 14h0m0 6h0m0 7h0m1-41h0m0 7h0m0 23h0m0 7h0m0 21h0m1-57h0m0 4h0m0 1h0m0 15h0m0 5h0m0 6h0m0 3h0m1-33h0m0 5h0m0 4h0m0 13h0m0 1h0m1-24h0m0 4h0m0 6h0m0 24h0m0 16h0m1-48h0m0 4h0m0 2h0m0 6h0m1 0h0m0 5h0m0 1h0m0 2h0m1-12h0m0 7h0m0 15h0m1-31h0m0 13h0m0 6h0m0 1h0m0 11h0m1-17h0m1-6h0m0 22h0m1-8h0m1-6h0m0 6h0m1-22h0m0 9h0m0 5h0m1-1h0m0 5h0m0 3h0m0 14h0m1-23h0m0 9h0m1-19h0m0 2h0m0 6h0m0 7h0m0 10h0m0 1h0m0 1h0m1-56h0m0 39h0m0 31h0m1-67h0m0 10h0m0 2h0m0 2h0m0 3h0m0 18h0m0 2h0m0 3h0m0 6h0m1-46h0m0 44h0m0 1h0m0 1h0m0 8h0m0 7h0m1-61h0m0 7h0m0 1h0m0 1h0m0 2h0m0 0h0m0 5h0m0 22h0m0 0h0m1-39h0m0 2h0m0 15h0m0 11h0m0 3h0m0 0h0m0 10h0m1-33h0m0 7h0m0 31h0m0 35h0m1-68h0m0 4h0m0 2h0m0 11h0m0 2h0m0 6h0m0 13h0m1-36h0m0 11h0m0 3h0m0 2h0m1-30h0m0 17h0m0 4h0m0 0h0m0 3h0m0 4h0m0 15h0m0 1h0m1-44h0m0 23h0m0 11h0m0 8h0m0 4h0m0 7h0m0 11h0m0 9h0m1-75h0m0 6h0m0 2h0m0 11h0m0 13h0m1-30h0m0 1h0m0 7h0m0 3h0m0 6h0m0 19h0m0 13h0m1-49h0m0 15h0m0 1h0m0 6h0m0 3h0m0 4h0m0 20h0m0 3h0m0 25h0m1-76h0m0 23h0m0 3h0m0 3h0m0 0h0m0 13h0m0 2h0m0 0h0m1-36h0m0 1h0m0 8h0m0 0h0m0 3h0m0 4h0m0 1h0m0 10h0m0 18h0m1-57h0m0 8h0m0 19h0m0 18h0m1-41h0m0 8h0m0 7h0m0 40h0m1-49h0m0 0h0m0 7h0m0 8h0m0 2h0m1-12h0m0 3h0m0 3h0m0 0h0m0 9h0m0 5h0m0 3h0m1-37h0m0 20h0m0 13h0m0 5h0m0 4h0m0 7h0m1-38h0m0 7h0m0 20h0m0 12h0m1-38h0m0 4h0m0 1h0m0 4h0m0 2h0m0 15h0m0 1h0m0 1h0m0 8h0m0 1h0m1-42h0m0 8h0m0 3h0m0 13h0m0 13h0m0 1h0m0 2h0m0 1h0m0 2h0m0 3h0m0 11h0m1-52h0m0 3h0m0 6h0m0 2h0m0 29h0m0 13h0m1-63h0m0 3h0m0 0h0m0 2h0m0 1h0m0 0h0m0 11h0m0 2h0m0 17h0m0 5h0m1-24h0m0 7h0m0 9h0m0 4h0m0 10h0m0 0h0m1-45h0m0 12h0m0 2h0m0 4h0m0 17h0m0 6h0m0 15h0m1-57h0m0 19h0m1-23h0m0 3h0m0 2h0m0 11h0m0 6h0m0 41h0m1-45h0m0 19h0m1-29h0m0 21h0m1-12h0m1-16h0m0 5h0m0 3h0m0 6h0m0 2h0m0 12h0m0 4h0m1-33h0m0 21h0m0 3h0m0 5h0m0 5h0m0 16h0m0 17h0m1-65h0m0 0h0m0 5h0m0 12h0m0 4h0m0 8h0m0 10h0m1-34h0m0 12h0m0 1h0m0 1h0m0 12h0m0 32h0m1-64h0m0 4h0m0 5h0m0 6h0m0 15h0m0 3h0m0 8h0m0 1h0m1-25h0m0 18h0m0 3h0m0 4h0m1-37h0m0 8h0m0 2h0m0 2h0m0 16h0m0 35h0m1-70h0m0 2h0m0 9h0m0 6h0m0 23h0m0 16h0m1-54h0m0 2h0m0 4h0m0 21h0m0 4h0m0 0h0m0 18h0m1-42h0m0 11h0m0 3h0m0 11h0m0 4h0m0 1h0m0 16h0m1-55h0m0 7h0m0 14h0m0 3h0m0 7h0m0 19h0m0 32h0m1-81h0m0 1h0m0 9h0m0 11h0m0 1h0m0 5h0m0 0h0m0 12h0m0 1h0m0 11h0m1-50h0m0 8h0m1 19h0m0 1h0m0 4h0m1-33h0m0 3h0m0 1h0m0 13h0m0 1h0m0 1h0m0 0h0m0 1h0m0 1h0m0 15h0m0 16h0m1-45h0m0 8h0m0 8h0m0 2h0m0 5h0m0 19h0m0 4h0m0 2h0m1-55h0m0 7h0m0 30h0m0 3h0m1-35h0m0 0h0m0 13h0m0 18h0m0 3h0m0 2h0m1-37h0m0 15h0m0 4h0m0 10h0m0 3h0m0 3h0m0 12h0m1-27h0m0 24h0m1-41h0m0 8h0m0 16h0m0 7h0m0 6h0m0 6h0m1-32h0m0 0h0m0 6h0m0 4h0m0 21h0m0 2h0m0 14h0m1-57h0m0 4h0m0 10h0m0 5h0m0 5h0m0 2h0m0 33h0m1-67h0m0 10h0m0 1h0m0 2h0m0 2h0m0 8h0m0 2h0m0 2h0m0 4h0m0 14h0m0 20h0m1-66h0m0 0h0m0 22h0m0 4h0m0 17h0m0 4h0m1-40h0m0 0h0m0 1h0m0 3h0m0 4h0m0 5h0m0 9h0m0 1h0m0 3h0m0 7h0m1-37h0m0 17h0m0 3h0m0 5h0m1-19h0m0 4h0m0 8h0m0 9h0m0 4h0m0 0h0m0 1h0m0 2h0m0 2h0m1-37h0m0 11h0m0 1h0m0 10h0m0 6h0m0 1h0m0 8h0m0 17h0m1-41h0m0 18h0m0 19h0m1-50h0m0 6h0m0 11h0m0 15h0m1-33h0m0 8h0m0 7h0m1-16h0m0 49h0m0 14h0m1-46h0m0 5h0m0 5h0m0 29h0m1-46h0m0 0h0m0 2h0m0 2h0m0 28h0m0 0h0m1-21h0m0 4h0m0 13h0m0 0h0m0 7h0m1-43h0m0 5h0m0 1h0m0 6h0m0 9h0m0 1h0m1-13h0m0 7h0m0 10h0m0 6h0m0 3h0m0 2h0m0 9h0m1-46h0m0 19h0m0 1h0m0 2h0m0 12h0m1-15h0m0 21h0m0 5h0m0 12h0m1-57h0m0 3h0m0 6h0m0 16h0m0 10h0m0 14h0m0 24h0m1-71h0m0 3h0m0 6h0m0 6h0m0 0h0m1-14h0m0 2h0m0 3h0m0 10h0m0 8h0m0 5h0m0 7h0m0 15h0m1-44h0m0 2h0m0 4h0m0 4h0m0 9h0m0 0h0m0 4h0m0 2h0m0 0h0m0 2h0m0 2h0m0 5h0m0 44h0m1-88h0m0 9h0m1-6h0m0 7h0m0 6h0m0 9h0m0 1h0m0 2h0m0 3h0m0 44h0m1-65h0m0 3h0m0 8h0m0 13h0m0 10h0m1-44h0m0 15h0m0 2h0m0 21h0m1-36h0m0 2h0m0 2h0m0 9h0m0 5h0m0 2h0m0 3h0m0 2h0m0 2h0m0 9h0m0 15h0m1-53h0m0 0h0m0 19h0m0 1h0m0 7h0m0 3h0m0 6h0m0 8h0m0 0h0m1-36h0m0 29h0m0 3h0m0 6h0m1-44h0m0 7h0m0 5h0m0 10h0m1-24h0m0 1h0m0 16h0m0 11h0m0 1h0m0 11h0m1-37h0m0 6h0m0 1h0m0 14h0m0 8h0m0 1h0m0 1h0m0 3h0m0 4h0m1-33h0m0 9h0m0 1h0m0 11h0m0 8h0m0 2h0m1-39h0m0 8h0m0 1h0m0 21h0m0 2h0m1-20h0m0 11h0m0 2h0m0 5h0m0 2h0m0 2h0m0 2h0m0 3h0m0 1h0m0 1h0m1-38h0m0 13h0m0 9h0m0 40h0m1-59h0m0 3h0m0 1h0m0 6h0m0 2h0m0 4h0m1-18h0m0 1h0m0 2h0m0 4h0m0 3h0m0 14h0m0 7h0m0 0h0m1-35h0m0 1h0m0 3h0m0 1h0m0 4h0m0 8h0m0 2h0m0 5h0m0 4h0m0 16h0m1-44h0m0 8h0m0 6h0m0 4h0m0 2h0m0 1h0m0 12h0m0 0h0m0 4h0m0 6h0m0 16h0m1-54h0m0 6h0m0 0h0m0 3h0m0 10h0m1-20h0m0 24h0m1-26h0m0 14h0m0 7h0m1-24h0m0 6h0m0 16h0m0 0h0m0 14h0m0 12h0m1-33h0m0 13h0m0 15h0m0 11h0m1-48h0m0 0h0m0 1h0m0 19h0m0 2h0m0 8h0m1-7h0m1-18h0m0 0h0m0 1h0m0 10h0m0 7h0m0 10h0m0 5h0m1-43h0m0 3h0m0 5h0m0 11h0m0 5h0m0 4h0m0 40h0m1-69h0m0 3h0m0 1h0m0 2h0m0 2h0m0 7h0m0 1h0m0 7h0m0 8h0m0 3h0m0 1h0m0 0h0m1-31h0m0 9h0m0 1h0m0 1h0m0 6h0m0 1h0m0 8h0m0 11h0m0 7h0m1-37h0m0 15h0m0 1h0m0 13h0m1-31h0m0 14h0m0 5h0m0 6h0m0 4h0m0 2h0m0 8h0m1-42h0m0 9h0m1-14h0m0 5h0m0 6h0m0 15h0m0 2h0m0 3h0m0 2h0m0 0h0m0 8h0m1-40h0m0 5h0m0 3h0m0 2h0m0 3h0m0 1h0m0 9h0m0 12h0m0 6h0m1-40h0m0 2h0m0 3h0m0 9h0m0 4h0m0 3h0m0 7h0m0 5h0m0 10h0m1-37h0m0 12h0m0 1h0m0 3h0m0 4h0m0 8h0m1-33h0m0 3h0m0 2h0m0 2h0m0 8h0m0 6h0m0 12h0m0 7h0m1-13h0m0 0h0m1-30h0m0 8h0m0 0h0m0 4h0m0 17h0m0 10h0m0 7h0m0 1h0m1-43h0m0 18h0m0 11h0m0 7h0m0 2h0m1-43h0m0 14h0m0 9h0m0 31h0m1-21h0"/>
<path d="M86 441h0m5-168h0m1 152h0m1-120h0m0 91h0m0 31h0m0 19h0m1-72h0m0 53h0m1 8h0m1-9h0m1-50h0m2 64h0m3 6h0m3-111h0m4 43h0m2-110h0m0 97h0m4-16h0m2-45h0m8-52h0m2 69h0m7-18h0m2 13h0m1-4h0m1-24h0m0 40h0m1-17h0m3 7h0m0 42h0m2-73h0m0 43h0m1-20h0m0 22h0m1-28h0m2 21h0m1-53h0m0 18h0m1 16h0m1-17h0m0 17h0m1-27h0m0 42h0m2-29h0m2-18h0m0 29h0m2-37h0m1 37h0m1-14h0m1 14h0m0 19h0m1-8h0m1-46h0m0 27h0m0 9h0m1-16h0m0 37h0m1-52h0m4 42h0m1-28h0m0 1h0m1 7h0m3-11h0m3 5h0m5-2h0m2-17h0m1 54h0m1-43h0m0 36h0m1-34h0m0 41h0m1-51h0m0 22h0m7-18h0m7 7h0m0 42h0m5-53h0m6 25h0m2 0h0m1 1h0m2 29h0m4-23h0m9-73h0m0 16h0m1-14h0m2 45h0m1 8h0m4-12h0m1-2h0m0 31h0m2-72h0m0 47h0m2-50h0m2 41h0m2-27h0m3 2h0m1 52h0m1-30h0m2 10h0m2-24h0m1-14h0m0 15h0m0 35h0m1-24h0m0 10h0m2-27h0m1 1h0m0 33h0m5-34h0m1 24h0m1 4h0m1-36h0m0 12h0m1 6h0m5-24h0m1 30h0m2-28h0m1-5h0m1 6h0m0 43h0m2-28h0m0 21h0m1-40h0m2 35h0m1-31h0m1-9h0m0 1h0m0 12h0m1 8h0m1-19h0m1 20h0m1 3h0m1 11h0m2-32h0m0 3h0m1 11h0m3 60h0m2-73h0m0 19h0m0 32h0m1-22h0m1 59h0m1-60h0m1-28h0m0 5h0m0 6h0m0 8h0m1-8h0m2-6h0m0 4h0m0 27h0m1-23h0m1-17h0m0 19h0m1-10h0m3 8h0m0 14h0m1-30h0m1 23h0m0 9h0m2-19h0m0 33h0m1-48h0m0 44h0m1-14h0m1-27h0m0 12h0m1-14h0m2 14h0m0 11h0m1-21h0m1 4h0m3 18h0m2-26h0m0 5h0m1-2h0m6 16h0m1 2h0m0 15h0m1-33h0m2 19h0m1-15h0m0 11h0m0 0h0m1 4h0m1-42h0m0 2h0m1-5h0m0 9h0m0 8h0m1-17h0m0 6h0m0 36h0m1-50h0m0 68h0m1-51h0m1-1h0m0 9h0m1-1h0m0 0h0m0 20h0m2-15h0m0 4h0m1 1h0m2-22h0m0 8h0m1-22h0m1 15h0m0 4h0m1-22h0m0 38h0m0 7h0m0 10h0m1-38h0m0 12h0m1-11h0m0 13h0m2 15h0m1-25h0m1-19h0m0 28h0m2 6h0m0 5h0m2-43h0m0 1h0m1 19h0m0 18h0m1-30h0m0 4h0m0 38h0m3-37h0m1 13h0m1 46h0m1-62h0m0 18h0m0 1h0m0 9h0m0 9h0m1-15h0m0 8h0m1-19h0m1-11h0m1 18h0m0 11h0m0 4h0m1-12h0m0 3h0m2 1h0m1-19h0m0 15h0m2 2h0m0 7h0m1-25h0m0 48h0m2-60h0m1 2h0m0 13h0m0 27h0m1-32h0m0 25h0m1-12h0m2-18h0m2-7h0m0 18h0m0 2h0m1-7h0m1-13h0m0 30h0m0 18h0m1-17h0m0 16h0m2-16h0m0 14h0m2-36h0m0 20h0m0 3h0m1-7h0m0 9h0m0 18h0m1-50h0m0 23h0m0 38h0m1-56h0m0 21h0m2-25h0m0 30h0m0 9h0m0 20h0m1-45h0m1 3h0m0 21h0m2-43h0m0 1h0m0 34h0m2-26h0m0 17h0m1 1h0m1 14h0m2-33h0m0 9h0m0 27h0m2-43h0m0 2h0m0 7h0m0 31h0m1-40h0m1 13h0m1 3h0m0 20h0m0 14h0m1-50h0m0 3h0m0 6h0m0 13h0m0 11h0m0 14h0m1-10h0m0 0h0m1-33h0m0 6h0m0 1h0m0 17h0m1-26h0m0 20h0m1-22h0m0 14h0m0 15h0m1-17h0m0 14h0m1 20h0m0 6h0m1-36h0m0 13h0m2-5h0m4 18h0m1-10h0m1-20h0m1-4h0m0 4h0m0 6h0m0 5h0m2-22h0m0 3h0m0 3h0m0 16h0m2-22h0m1 4h0m1-4h0m0 16h0m1-5h0m0 3h0m0 7h0m1-16h0m0 8h0m1-4h0m0 7h0m0 0h0m0 14h0m1-24h0m0 7h0m0 0h0m0 25h0m2 7h0m0 8h0m1-45h0m0 20h0m0 8h0m1-17h0m0 4h0m0 4h0m0 5h0m0 10h0m1-31h0m0 0h0m0 13h0m1-21h0m1 10h0m0 1h0m0 0h0m1 8h0m1-9h0m1-10h0m0 7h0m1 12h0m1-37h0m0 12h0m0 18h0m1-42h0m0 28h0m0 17h0m0 6h0m1-49h0m0 5h0m0 27h0m1-29h0m0 7h0m0 7h0m1 25h0m0 1h0m0 38h0m1-74h0m0 6h0m0 0h0m0 10h0m0 23h0m1-48h0m0 1h0m0 0h0m0 2h0m0 7h0m0 12h0m0 16h0m0 9h0m1-49h0m0 14h0m0 13h0m1-12h0m0 6h0m0 6h0m1-19h0m0 18h0m0 9h0m0 4h0m0 28h0m1-24h0m0 30h0m1-65h0m0 10h0m0 2h0m0 7h0m0 12h0m0 8h0m0 1h0m1-47h0m0 31h0m0 4h0m0 10h0m0 1h0m0 2h0m0 10h0m0 4h0m1-52h0m0 7h0m0 6h0m0 2h0m0 1h0m0 9h0m0 4h0m1-38h0m0 20h0m0 12h0m0 10h0m0 1h0m0 8h0m0 1h0m1-53h0m0 4h0m0 4h0m0 7h0m0 1h0m0 36h0m0 12h0m1-59h0m0 20h0m0 4h0m0 2h0m0 12h0m1-35h0m0 11h0m0 16h0m1-15h0m0 0h0m0 11h0m0 5h0m0 4h0m0 31h0m1-68h0m0 9h0m0 13h0m0 21h0m0 6h0m2-48h0m0 9h0m0 15h0m0 7h0m0 7h0m0 6h0m1-43h0m0 20h0m1-22h0m0 2h0m0 9h0m0 2h0m0 1h0m1-10h0m0 7h0m0 10h0m0 7h0m0 5h0m0 15h0m1-40h0m0 17h0m0 8h0m0 0h0m1-24h0m0 1h0m0 20h0m0 3h0m1-13h0m0 19h0m1-43h0m0 16h0m0 10h0m0 7h0m0 16h0m1-40h0m0 19h0m0 8h0m0 1h0m1-34h0m0 18h0m0 9h0m0 2h0m1-25h0m1-3h0m0 1h0m0 11h0m0 19h0m0 10h0m1-27h0m0 23h0m1-40h0m0 6h0m0 8h0m0 13h0m0 3h0m0 10h0m0 1h0m0 29h0m1-45h0m0 17h0m1-41h0m0 17h0m0 6h0m0 1h0m0 1h0m0 6h0m0 8h0m1-17h0m0 2h0m0 11h0m1-13h0m1-11h0m0 10h0m0 7h0m0 2h0m0 14h0m0 8h0m1-49h0m0 3h0m0 19h0m0 8h0m0 0h0m1-34h0m0 5h0m0 17h0m0 5h0m0 1h0m0 1h0m0 8h0m0 12h0m0 23h0m1-71h0m0 12h0m0 8h0m0 5h0m0 1h0m0 9h0m0 0h0m0 2h0m0 11h0m1-46h0m0 17h0m0 8h0m0 8h0m0 5h0m1-39h0m0 7h0m0 9h0m0 2h0m0 2h0m0 9h0m0 12h0m1-12h0m0 6h0m0 19h0m1-43h0m0 10h0m0 5h0m1 8h0m0 12h0m1-29h0m0 4h0m0 1h0m0 24h0m1-20h0m0 8h0m0 7h0m0 4h0m1-42h0m0 38h0m1-35h0m0 6h0m0 0h0m0 6h0m0 7h0m0 15h0m0 12h0m1-31h0m0 0h0m0 20h0m1-42h0m0 13h0m0 3h0m0 3h0m0 17h0m0 3h0m1-28h0m0 5h0m0 5h0m0 30h0m0 15h0m1-67h0m0 29h0m0 5h0m0 8h0m1-28h0m0 3h0m0 13h0m0 9h0m1-34h0m0 4h0m0 7h0m0 11h0m0 0h0m1-27h0m0 8h0m0 5h0m0 0h0m2-2h0m0 11h0m0 2h0m0 0h0m0 23h0m1-48h0m0 11h0m0 23h0m0 7h0m1-39h0m1 9h0m0 32h0m1-38h0m0 0h0m0 9h0m0 10h0m0 11h0m1-32h0m0 5h0m0 9h0m0 1h0m0 7h0m0 3h0m0 21h0m0 9h0m1-31h0m0 5h0m0 4h0m0 4h0m0 4h0m1-30h0m0 2h0m0 4h0m0 12h0m0 0h0m0 10h0m0 1h0m1-39h0m0 12h0m0 2h0m0 9h0m0 2h0m0 0h0m0 10h0m1-38h0m0 1h0m0 7h0m0 6h0m0 6h0m0 11h0m1-28h0m0 9h0m0 2h0m0 14h0m0 4h0m0 19h0m1-45h0m0 10h0m0 6h0m0 7h0m0 8h0m0 5h0m1-43h0m0 2h0m0 9h0m0 10h0m0 9h0m1-25h0m0 8h0m0 3h0m0 1h0m0 7h0m0 6h0m0 14h0m1-40h0m0 4h0m0 6h0m0 8h0m0 1h0m0 1h0m0 8h0m0 21h0m1-52h0m0 7h0m0 3h0m0 5h0m0 7h0m0 5h0m0 9h0m0 4h0m0 2h0m1-42h0m0 7h0m0 16h0m0 2h0m1 4h0m0 2h0m0 0h0m0 2h0m0 9h0m1-42h0m0 5h0m0 32h0m0 6h0m1-37h0m0 3h0m0 7h0m0 5h0m1-6h0m0 4h0m0 24h0m0 0h0m1-3h0m1-38h0m0 13h0m0 10h0m0 12h0m0 3h0m1-33h0m0 26h0m0 10h0m1-38h0m0 2h0m0 5h0m0 4h0m0 6h0m0 3h0m0 7h0m0 11h0m1-37h0m0 2h0m0 23h0m0 7h0m1-19h0m0 13h0m0 1h0m1-34h0m0 7h0m0 4h0m0 4h0m0 7h0m1 9h0m1-20h0m0 4h0m0 20h0m1-33h0m0 13h0m0 7h0m0 31h0m1-52h0m0 1h0m0 3h0m0 3h0m0 13h0m0 6h0m1-25h0m0 16h0m0 26h0m0 26h0m1-68h0m0 4h0m0 7h0m0 5h0m1-8h0m0 20h0m0 3h0m0 2h0m0 2h0m0 15h0m1-52h0m0 5h0m0 23h0m1-27h0m0 24h0m1-10h0m1-10h0m0 8h0m1 15h0m0 0h0m0 6h0m0 13h0m1-34h0m0 0h0m0 5h0m0 3h0m0 8h0m1-27h0m0 1h0m0 6h0m0 20h0m0 28h0m1-51h0m0 9h0m0 16h0m1-24h0m0 4h0m0 7h0m0 3h0m0 22h0m0 9h0m1-46h0m0 1h0m0 46h0m1-49h0m0 28h0m1-22h0m0 10h0m1-11h0m0 2h0m0 17h0m0 11h0m1-37h0m0 0h0m0 10h0m0 2h0m0 2h0m0 12h0m0 2h0m1-27h0m0 3h0m0 1h0m0 21h0m0 2h0m1-29h0m0 13h0m0 11h0m1-22h0m0 1h0m1-2h0m0 5h0m0 5h0m0 5h0m0 1h0m0 6h0m1-23h0m0 2h0m0 2h0m0 13h0m0 6h0m0 1h0m0 11h0m1-32h0m0 8h0m0 3h0m0 1h0m0 14h0m0 9h0m1-29h0m0 13h0m0 1h0m0 1h0m0 15h0m1-38h0m0 7h0m0 3h0m0 0h0m0 33h0m1-36h0m0 0h0m1-33h0m0 2h0m0 28h0m0 6h0m0 19h0m0 0h0m1-51h0m0 14h0m0 4h0m0 12h0m0 7h0m0 2h0m0 4h0m0 21h0m1-57h0m0 0h0m0 24h0m1-35h0m0 10h0m0 6h0m0 23h0m0 6h0m1-40h0m0 3h0m0 14h0m0 0h0m0 13h0m0 3h0m0 1h0m0 4h0m1-12h0m0 2h0m0 4h0m0 17h0m0 7h0m1-51h0m0 11h0m0 18h0m0 11h0m1 11h0m1-34h0m0 0h0m0 3h0m0 3h0m0 17h0m0 6h0m1-54h0m0 10h0m0 5h0m0 26h0m0 5h0m1-44h0m0 11h0m0 1h0m0 1h0m0 13h0m0 7h0m0 1h0m0 1h0m0 5h0m0 0h0m0 4h0m0 41h0m1-79h0m0 10h0m0 20h0m0 1h0m0 26h0m1-67h0m0 10h0m0 6h0m0 3h0m0 10h0m0 13h0m0 20h0m1-62h0m0 6h0m0 1h0m0 9h0m0 18h0m0 3h0m0 14h0m1-50h0m0 2h0m0 0h0m0 3h0m0 7h0m0 8h0m0 6h0m0 2h0m0 0h0m0 8h0m0 6h0m1-28h0m0 8h0m0 1h0m0 2h0m0 4h0m0 12h0m0 0h0m0 1h0m1-27h0m0 14h0m0 18h0m1-48h0m0 1h0m0 12h0m0 10h0m0 1h0m0 2h0m0 7h0m0 11h0m0 7h0m1-35h0m0 4h0m0 3h0m0 11h0m0 4h0m0 15h0m1-28h0m0 10h0m0 5h0m0 1h0m1-36h0m0 2h0m0 5h0m0 2h0m0 4h0m0 16h0m0 2h0m1-28h0m0 11h0m0 1h0m0 9h0m0 30h0m1-51h0m0 3h0m0 8h0m0 33h0m0 2h0m0 2h0m0 2h0m1-59h0m0 11h0m0 8h0m0 1h0m0 2h0m0 0h0m0 3h0m0 4h0m0 10h0m1-27h0m0 6h0m0 2h0m0 26h0m0 1h0m1-40h0m0 8h0m0 17h0m1-18h0m0 2h0m0 8h0m0 7h0m0 3h0m0 7h0m0 10h0m1-29h0m0 104h0m1-123h0m0 11h0m0 12h0m0 18h0m1-36h0m0 18h0m0 10h0m0 4h0m0 3h0m1-36h0m0 20h0m0 2h0m0 20h0m1-45h0m0 6h0m0 15h0m1-9h0m0 5h0m0 7h0m0 34h0m1-62h0m0 1h0m0 2h0m0 12h0m0 7h0m0 12h0m0 8h0m1-26h0m0 4h0m0 11h0m0 17h0m1-43h0m0 14h0m0 5h0m0 6h0m0 1h0m0 0h0m0 11h0m1-29h0m0 16h0m0 2h0m0 0h0m0 9h0m0 2h0m0 4h0m0 7h0m0 2h0m1-54h0m0 20h0m0 11h0m0 7h0m0 2h0m0 1h0m0 8h0m0 20h0m1-65h0m0 12h0m0 13h0m0 10h0m0 10h0m0 30h0m1-62h0m0 1h0m0 20h0m0 1h0m0 6h0m1-35h0m0 12h0m0 8h0m0 15h0m1-44h0m0 10h0m0 14h0m0 17h0m1-39h0m0 8h0m0 6h0m0 14h0m0 3h0m0 13h0m0 1h0m1-46h0m0 3h0m0 0h0m0 23h0m0 3h0m0 10h0m0 2h0m1-29h0m0 3h0m0 14h0m1-21h0m0 24h0m0 14h0m1-24h0m0 10h0m1-25h0m0 1h0m0 12h0m0 2h0m0 0h0m0 8h0m1-30h0m0 5h0m0 19h0m1-21h0m0 1h0m0 11h0m0 2h0m0 1h0m0 8h0m0 17h0m1-45h0m0 1h0m0 7h0m0 2h0m0 1h0m0 3h0m0 1h0m0 6h0m0 12h0m0 3h0m0 4h0m0 1h0m0 4h0m1-47h0m0 3h0m0 2h0m0 3h0m0 17h0m0 0h0m0 5h0m0 2h0m0 4h0m0 7h0m0 7h0m0 3h0m0 5h0m0 15h0m1-39h0m0 5h0m0 10h0m1-47h0m0 3h0m0 2h0m0 4h0m0 9h0m0 23h0m0 11h0m1-48h0m0 11h0m0 7h0m0 3h0m0 2h0m0 9h0m0 5h0m1-41h0m0 31h0m0 12h0m1-43h0m0 16h0m0 6h0m0 13h0m0 4h0m0 0h0m0 9h0m1-50h0m0 6h0m0 11h0m0 1h0m0 4h0m0 3h0m0 3h0m0 6h0m0 9h0m0 9h0m1-52h0m0 1h0m0 3h0m0 4h0m0 8h0m0 4h0m0 4h0m0 23h0m0 2h0m1-39h0m0 26h0m1-36h0m0 14h0m0 4h0m0 10h0m0 13h0m0 1h0m0 3h0m1-42h0m0 0h0m0 15h0m0 21h0m1-38h0m0 24h0m0 4h0m0 4h0m0 3h0m0 18h0m1-46h0m0 7h0m0 4h0m0 2h0m0 1h0m0 18h0m1-22h0m0 7h0m0 7h0m0 6h0m1-21h0m0 1h0m0 7h0m0 0h0m0 8h0m1-32h0m0 7h0m0 11h0m0 13h0m0 2h0m0 3h0m0 2h0m0 3h0m1-32h0m0 1h0m0 3h0m0 4h0m0 7h0m0 3h0m0 6h0m0 0h0m0 1h0m0 1h0m0 7h0m0 5h0m1-39h0m0 26h0m2-34h0m0 9h0m0 3h0m0 1h0m0 8h0m0 6h0m0 36h0m1-58h0m0 15h0m0 1h0m0 3h0m0 3h0m1-24h0m0 4h0m0 13h0m0 2h0m0 0h0m0 12h0m0 13h0m1-33h0m0 15h0m1-27h0m0 9h0m0 3h0m0 4h0m0 2h0m0 3h0m0 1h0m0 6h0m1-28h0m0 4h0m0 6h0m0 5h0m0 1h0m0 1h0m0 8h0m0 6h0m1-17h0m0 1h0m0 24h0m0 1h0m1-42h0m0 1h0m0 4h0m1-4h0m0 5h0m0 0h0m0 8h0m0 4h0m0 5h0m0 8h0m0 10h0m1-36h0m0 6h0m0 4h0m0 4h0m0 33h0m1-41h0m0 4h0m0 1h0m0 3h0m0 0h0m0 4h0m0 3h0m0 2h0m0 1h0m0 20h0m0 21h0m1-70h0m0 0h0m0 10h0m0 0h0m0 6h0m0 8h0m0 2h0m0 1h0m0 2h0m0 10h0m1-35h0m0 2h0m0 1h0m0 35h0m0 4h0m0 17h0m1-58h0m0 2h0m0 17h0m0 7h0m0 3h0m0 14h0m1-39h0m0 4h0m0 7h0m0 9h0m0 4h0m1-15h0m0 2h0m0 2h0m0 8h0m0 12h0m1-40h0m0 4h0m0 2h0m0 3h0m0 1h0m0 10h0m0 3h0m0 6h0m0 10h0m0 24h0m1-50h0m0 6h0m0 5h0m0 8h0m1-34h0m0 2h0m0 14h0m0 3h0m0 1h0m0 7h0m0 5h0m1-31h0m0 8h0m0 6h0m0 5h0m0 5h0m0 12h0m0 5h0m1-17h0m0 3h0m0 14h0m1-35h0m0 3h0m0 0h0m0 17h0m0 7h0m0 4h0m0 6h0m0 15h0m1-58h0m0 1h0m0 5h0m0 2h0m0 4h0m0 3h0m0 15h0m0 5h0m0 18h0m1-54h0m0 13h0m0 9h0m0 6h0m0 3h0m0 4h0m0 6h0m1-32h0m0 1h0m0 6h0m0 9h0m0 7h0m0 10h0m1-41h0m0 5h0m0 3h0m0 9h0m0 1h0m0 14h0m0 5h0m1-20h0m0 1h0m0 4h0m0 7h0m0 6h0m0 2h0m0 2h0m0 0h0m1-41h0m0 1h0m0 0h0m0 1h0m0 3h0m0 2h0m0 1h0m0 3h0m0 6h0m0 2h0m0 3h0m0 0h0m0 8h0m0 14h0m1-43h0m0 14h0m0 8h0m0 3h0m0 3h0m0 18h0m1-42h0m0 6h0m0 5h0m0 14h0m0 0h0m0 6h0m0 13h0m1-41h0m0 4h0m0 27h0m1-33h0m0 0h0m0 16h0m0 0h0m0 8h0m0 8h0m0 0h0m0 14h0m1-49h0m0 1h0m0 7h0m0 3h0m0 1h0m0 3h0m0 12h0m0 6h0m1-34h0m0 20h0m0 0h0m0 1h0m0 9h0m0 8h0m0 0h0m1-31h0m0 25h0m0 4h0m0 8h0m0 12h0m1-49h0m0 2h0m0 2h0m0 4h0m0 1h0m0 10h0m0 3h0m0 5h0m0 1h0m0 1h0m0 3h0m0 3h0m1-37h0m0 0h0m0 4h0m0 7h0m0 0h0m0 6h0m0 1h0m0 1h0m0 1h0m0 0h0m0 22h0m1-42h0m0 1h0m0 12h0m0 11h0m1-26h0m0 0h0m0 17h0m0 3h0m0 2h0m0 1h0m0 2h0m0 1h0m0 6h0m1-34h0m0 4h0m0 0h0m0 6h0m0 2h0m0 2h0m0 16h0m0 6h0m1-34h0m0 2h0m0 3h0m0 2h0m0 4h0m0 4h0m0 6h0m0 4h0m0 14h0m1-36h0m0 21h0m0 18h0m0 0h0m1-47h0m0 4h0m0 2h0m0 6h0m0 13h0m0 14h0m0 10h0m1-47h0m0 5h0m0 2h0m0 11h0m0 1h0m0 11h0m0 1h0m1-31h0m0 11h0m0 4h0m0 3h0m0 2h0m0 27h0m1-48h0m0 9h0m0 1h0m0 2h0m0 4h0m0 12h0m0 1h0m0 6h0m1-34h0m0 0h0m0 2h0m0 8h0m0 2h0m0 1h0m0 8h0m1-23h0m0 13h0m0 11h0"/>
<path d="M83 374h0m3 25h0m1 15h0m3 37h0m1-73h0m2-19h0m1-61h0m1 106h0m2 8h0m6 40h0m2-60h0m1-43h0m18-29h0m10 9h0m0 15h0m0 39h0m5-26h0m1-13h0m1 16h0m4-36h0m1-45h0m1 68h0m1-57h0m0 25h0m0 45h0m2-78h0m1 52h0m0 11h0m2-71h0m1 21h0m3-2h0m0 8h0m3 0h0m1-2h0m0 30h0m2-9h0m0 1h0m1 5h0m2 2h0m3-59h0m0 51h0m2-51h0m0 15h0m0 28h0m1-22h0m0 24h0m7-3h0m1-7h0m1-37h0m2 25h0m1-25h0m3 23h0m2-20h0m3 11h0m1 15h0m2-12h0m1 38h0m1-16h0m0 14h0m1-24h0m1-23h0m4-5h0m1 49h0m3-38h0m8 11h0m0 33h0m2-36h0m11-24h0m3 17h0m1-50h0m4 40h0m2 11h0m2-19h0m0 62h0m3-87h0m0 8h0m1-16h0m0 35h0m2 22h0m0 2h0m2-49h0m0 30h0m0 24h0m0 68h0m1-106h0m1 36h0m3-14h0m2 46h0m1-64h0m4 33h0m1-53h0m1-7h0m0 27h0m2-20h0m0 6h0m2-2h0m5 36h0m1-41h0m5 16h0m1-16h0m1-1h0m1-4h0m0 31h0m1 15h0m1-51h0m0 1h0m1 14h0m0 17h0m1-12h0m0 8h0m2 12h0m2-39h0m0 34h0m1 5h0m2-34h0m1-3h0m3 5h0m3-3h0m0 116h0m4-68h0m4-39h0m1 7h0m1 17h0m2 5h0m1-36h0m0 3h0m1-4h0m0 3h0m0 8h0m0 15h0m0 4h0m3-35h0m0 13h0m0 41h0m2-42h0m0 22h0m0 21h0m1-37h0m1 7h0m1-25h0m0 14h0m1-14h0m0 13h0m2 3h0m2-3h0m8-12h0m0 32h0m1-22h0m1-10h0m0 3h0m1-4h0m2 1h0m1 4h0m1 14h0m1 3h0m2 2h0m0 10h0m2-35h0m1-12h0m0 11h0m0 3h0m1-28h0m0 0h0m0 9h0m0 6h0m0 44h0m1-27h0m0 13h0m1-18h0m0 1h0m0 10h0m2-48h0m0 15h0m1 6h0m0 35h0m3-51h0m0 9h0m0 29h0m1-42h0m0 1h0m0 34h0m0 11h0m1-24h0m2 5h0m0 3h0m0 6h0m1-6h0m1-5h0m0 1h0m0 33h0m1-55h0m0 30h0m0 8h0m0 6h0m0 11h0m1-50h0m0 1h0m0 30h0m0 3h0m1-24h0m0 54h0m1-21h0m1-31h0m0 17h0m1-26h0m0 8h0m0 19h0m0 1h0m0 6h0m0 28h0m1-54h0m0 1h0m0 17h0m1-35h0m0 12h0m1-12h0m0 3h0m0 16h0m0 29h0m1-44h0m0 36h0m1-28h0m0 27h0m1-41h0m0 16h0m0 2h0m0 7h0m2 0h0m0 10h0m2-34h0m0 17h0m0 4h0m0 4h0m0 24h0m1-31h0m0 24h0m2-40h0m0 3h0m0 5h0m0 24h0m1-17h0m0 21h0m1-42h0m0 5h0m0 10h0m1-5h0m1-10h0m0 12h0m1 6h0m0 26h0m1-44h0m0 20h0m1 10h0m0 14h0m1-31h0m1 24h0m1-23h0m0 16h0m1-28h0m0 4h0m0 2h0m0 6h0m0 26h0m0 17h0m1-23h0m0 8h0m1-18h0m0 10h0m1-21h0m0 6h0m0 21h0m1-15h0m0 6h0m0 17h0m1-44h0m1 36h0m1-34h0m0 9h0m0 3h0m1-10h0m0 21h0m1-10h0m0 5h0m0 11h0m0 31h0m1-67h0m0 4h0m0 4h0m0 14h0m1-13h0m0 26h0m1-7h0m0 2h0m1-28h0m0 29h0m1 10h0m1-27h0m0 12h0m0 35h0m1-55h0m0 36h0m0 12h0m2-30h0m1-13h0m1 13h0m0 19h0m1-30h0m1 11h0m1 1h0m0 4h0m1-23h0m0 17h0m2-21h0m1 0h0m0 19h0m1 4h0m1-8h0m1-4h0m1-12h0m0 11h0m0 6h0m0 9h0m0 7h0m2-24h0m0 21h0m1 11h0m0 1h0m1-42h0m0 35h0m1-18h0m0 3h0m1 0h0m0 6h0m1-2h0m0 20h0m1-34h0m0 2h0m0 19h0m0 28h0m2-49h0m0 11h0m1-18h0m0 88h0m1-86h0m0 2h0m0 49h0m1-53h0m0 9h0m0 25h0m1-38h0m0 3h0m0 6h0m0 16h0m0 21h0m1-18h0m0 10h0m0 8h0m1-23h0m1-10h0m0 24h0m1-8h0m2-4h0m1-11h0m1 5h0m1-16h0m0 29h0m1-21h0m0 12h0m0 16h0m1-30h0m0 11h0m1 1h0m1-16h0m2-1h0m0 16h0m1-16h0m0 6h0m0 5h0m0 4h0m0 4h0m0 10h0m3-18h0m1-14h0m1 28h0m1-24h0m0 6h0m0 7h0m0 9h0m1-22h0m1 9h0m2 9h0m0 22h0m1-44h0m0 0h0m0 6h0m1-7h0m0 6h0m0 6h0m1-27h0m0 6h0m0 1h0m0 16h0m0 11h0m1-46h0m0 7h0m0 33h0m0 5h0m0 17h0m0 1h0m1-41h0m0 0h0m0 2h0m0 5h0m0 10h0m1-19h0m0 9h0m0 3h0m0 5h0m1-33h0m0 17h0m0 7h0m0 4h0m0 9h0m1-35h0m0 13h0m0 13h0m0 19h0m1-51h0m0 13h0m1-6h0m0 2h0m0 7h0m0 3h0m0 6h0m0 2h0m0 2h0m1-21h0m0 4h0m0 3h0m0 10h0m1-11h0m0 10h0m0 1h0m0 24h0m1-14h0m1-23h0m0 6h0m0 0h0m0 9h0m0 7h0m0 29h0m1-42h0m0 2h0m0 19h0m1-25h0m0 5h0m0 18h0m0 10h0m0 8h0m1-40h0m0 7h0m0 0h0m0 3h0m0 5h0m0 3h0m0 6h0m0 15h0m1-53h0m0 2h0m0 7h0m0 4h0m0 20h0m0 4h0m0 15h0m1-48h0m0 20h0m0 8h0m0 2h0m0 2h0m0 1h0m1-22h0m0 23h0m1-36h0m0 11h0m0 5h0m0 5h0m0 5h0m0 7h0m1-16h0m0 7h0m1-28h0m0 29h0m1-28h0m0 11h0m0 12h0m0 9h0m0 14h0m1-47h0m0 6h0m0 0h0m0 4h0m0 19h0m0 21h0m1-47h0m0 20h0m0 12h0m0 52h0m1-83h0m0 14h0m0 3h0m0 7h0m1-10h0m0 5h0m0 32h0m1-55h0m0 1h0m0 5h0m0 9h0m0 5h0m0 3h0m0 21h0m1-39h0m0 2h0m0 3h0m0 19h0m0 0h0m0 13h0m1-34h0m0 16h0m0 20h0m1-44h0m0 24h0m0 1h0m0 6h0m1-27h0m0 2h0m0 26h0m1-11h0m0 0h0m0 10h0m1-32h0m0 17h0m0 6h0m0 5h0m2-16h0m0 23h0m1-21h0m0 12h0m0 1h0m0 5h0m0 0h0m0 11h0m0 1h0m1-39h0m0 3h0m0 9h0m0 2h0m0 16h0m0 7h0m1-29h0m0 1h0m0 15h0m0 12h0m0 1h0m0 6h0m1-48h0m0 4h0m0 0h0m0 7h0m0 8h0m0 9h0m0 15h0m1-41h0m0 10h0m0 9h0m0 2h0m0 9h0m0 5h0m0 4h0m0 2h0m0 16h0m1-55h0m0 10h0m0 15h0m0 5h0m0 10h0m1-7h0m1-35h0m0 11h0m0 1h0m0 5h0m0 14h0m0 2h0m0 5h0m0 10h0m0 4h0m1-47h0m0 1h0m0 18h0m0 6h0m0 0h0m1-17h0m0 9h0m0 17h0m1-26h0m0 5h0m0 2h0m0 2h0m0 9h0m0 3h0m0 13h0m1-45h0m1 12h0m0 9h0m0 8h0m1-32h0m0 12h0m0 0h0m0 3h0m0 3h0m0 0h0m0 11h0m0 7h0m0 1h0m1-24h0m0 4h0m0 5h0m0 8h0m0 4h0m0 15h0m1-45h0m0 13h0m0 14h0m1-14h0m0 8h0m0 10h0m0 1h0m1-22h0m0 35h0m1-45h0m0 31h0m1-23h0m0 11h0m1-15h0m0 6h0m0 12h0m1-26h0m0 5h0m0 9h0m0 8h0m0 8h0m0 5h0m1-30h0m0 7h0m0 6h0m0 11h0m0 15h0m1-19h0m0 1h0m0 5h0m0 11h0m1-35h0m0 1h0m0 10h0m0 5h0m0 8h0m1-30h0m0 1h0m0 3h0m0 1h0m0 9h0m0 4h0m0 11h0m0 1h0m0 10h0m1-42h0m0 14h0m0 3h0m0 2h0m0 27h0m1-47h0m0 8h0m0 18h0m0 12h0m1-33h0m0 9h0m0 3h0m0 14h0m0 8h0m1-35h0m0 2h0m0 6h0m0 9h0m0 1h0m0 3h0m0 3h0m0 0h0m1-24h0m1 1h0m0 5h0m0 52h0m1-58h0m0 13h0m0 1h0m0 9h0m0 9h0m0 5h0m1-37h0m0 5h0m0 14h0m0 1h0m0 0h0m0 2h0m0 14h0m1-35h0m0 3h0m0 1h0m0 25h0m0 19h0m1-53h0m0 2h0m0 13h0m0 5h0m0 14h0m0 1h0m0 13h0m1-33h0m0 6h0m0 14h0m0 4h0m1-33h0m0 7h0m0 12h0m0 19h0m0 18h0m1-61h0m0 39h0m1-34h0m0 2h0m0 29h0m0 73h0m1-90h0m0 7h0m0 3h0m0 1h0m0 14h0m1-43h0m0 0h0m0 5h0m0 10h0m0 10h0m0 3h0m0 6h0m0 3h0m0 7h0m1-40h0m0 0h0m0 22h0m1-17h0m0 40h0m1-13h0m1-33h0m0 6h0m0 1h0m0 3h0m0 30h0m1-43h0m0 2h0m0 7h0m1 3h0m0 13h0m0 5h0m0 8h0m0 3h0m1-41h0m0 11h0m0 6h0m0 27h0m1-45h0m0 15h0m0 0h0m0 16h0m0 2h0m1-34h0m0 32h0m0 3h0m1-34h0m0 2h0m0 6h0m0 4h0m0 19h0m1-29h0m0 7h0m0 23h0m1-13h0m1-3h0m0 6h0m0 10h0m0 4h0m1-34h0m0 17h0m0 13h0m1-30h0m0 34h0m1-30h0m0 13h0m0 7h0m1-26h0m0 2h0m0 38h0m1-40h0m0 2h0m0 1h0m0 13h0m0 21h0m0 1h0m1-39h0m0 4h0m0 22h0m0 9h0m0 1h0m0 0h0m0 6h0m1-34h0m0 1h0m0 6h0m0 19h0m0 7h0m1-32h0m0 3h0m0 1h0m0 1h0m0 0h0m0 3h0m0 7h0m1-21h0m0 7h0m0 2h0m1-11h0m0 2h0m0 8h0m0 17h0m0 1h0m1-3h0m0 26h0m1-36h0m0 6h0m0 10h0m0 8h0m0 16h0m1 5h0m1-58h0m0 4h0m0 4h0m0 8h0m1-13h0m0 0h0m0 3h0m0 2h0m0 2h0m0 8h0m1-17h0m0 7h0m0 1h0m0 25h0m1-30h0m0 9h0m0 2h0m0 6h0m0 15h0m1-24h0m0 17h0m0 0h0m1-25h0m0 2h0m0 3h0m0 3h0m0 0h0m0 9h0m0 12h0m0 6h0m1-36h0m0 3h0m0 1h0m0 10h0m0 36h0m1-49h0m0 8h0m0 15h0m1-28h0m0 2h0m0 1h0m0 5h0m0 13h0m0 10h0m0 6h0m1-23h0m0 4h0m0 10h0m1-22h0m0 2h0m0 0h0m1-4h0m0 33h0m1-31h0m0 7h0m1-22h0m0 10h0m0 4h0m0 0h0m0 3h0m0 3h0m0 4h0m0 2h0m0 33h0m1-77h0m0 13h0m0 28h0m0 32h0m1-66h0m0 7h0m0 6h0m0 16h0m0 14h0m0 9h0m1-58h0m0 14h0m0 9h0m1 8h0m0 23h0m0 5h0m1-46h0m0 3h0m0 5h0m0 11h0m0 4h0m0 5h0m0 2h0m0 9h0m0 4h0m1-16h0m0 11h0m1-52h0m0 13h0m0 5h0m0 1h0m0 8h0m0 7h0m0 4h0m0 10h0m0 1h0m0 2h0m0 10h0m1-54h0m0 3h0m0 4h0m0 10h0m0 19h0m0 1h0m0 7h0m0 4h0m1-51h0m0 2h0m0 10h0m0 1h0m0 5h0m0 11h0m0 1h0m0 9h0m0 11h0m1-31h0m0 20h0m1-36h0m0 3h0m0 3h0m0 5h0m0 2h0m0 3h0m0 1h0m0 7h0m0 7h0m0 2h0m0 5h0m0 7h0m0 15h0m1-39h0m0 18h0m1-43h0m0 10h0m0 5h0m0 1h0m0 1h0m0 2h0m0 18h0m0 3h0m0 4h0m1-47h0m0 2h0m0 2h0m0 10h0m0 0h0m0 5h0m0 2h0m0 1h0m0 6h0m1-12h0m0 1h0m0 2h0m0 12h0m0 0h0m0 5h0m0 6h0m0 2h0m0 4h0m1-46h0m0 2h0m0 7h0m0 1h0m0 2h0m0 3h0m0 3h0m0 6h0m0 8h0m0 2h0m0 5h0m0 1h0m0 1h0m1-34h0m0 7h0m0 24h0m0 11h0m0 9h0m1-59h0m0 3h0m0 10h0m0 3h0m0 1h0m0 6h0m0 12h0m1-23h0m0 10h0m0 8h0m0 8h0m0 20h0m1-30h0m0 4h0m0 4h0m0 6h0m1-33h0m0 2h0m0 1h0m0 1h0m0 7h0m0 2h0m0 19h0m0 3h0m1-45h0m0 15h0m0 7h0m0 2h0m0 22h0m1-26h0m0 0h0m0 4h0m0 8h0m0 3h0m0 3h0m0 1h0m0 11h0m1-47h0m0 1h0m0 15h0m0 4h0m0 3h0m0 3h0m0 5h0m0 2h0m0 1h0m1-32h0m0 13h0m0 6h0m0 1h0m0 1h0m0 19h0m0 2h0m1-42h0m0 4h0m0 4h0m0 13h0m0 9h0m0 1h0m0 9h0m1-44h0m0 2h0m0 19h0m0 4h0m0 4h0m0 3h0m0 9h0m0 5h0m0 1h0m0 5h0m1-43h0m0 45h0m1-42h0m0 3h0m0 4h0m0 11h0m0 0h0m1-24h0m0 11h0m0 27h0m1-28h0m0 4h0m0 1h0m0 0h0m0 9h0m1-22h0m0 7h0m0 20h0m0 16h0m1-25h0m1-21h0m0 10h0m0 1h0m0 5h0m0 5h0m1-22h0m0 8h0m0 2h0m0 11h0m0 2h0m0 2h0m0 5h0m1-36h0m0 4h0m0 14h0m0 3h0m0 10h0m0 4h0m0 12h0m1-33h0m0 7h0m0 1h0m0 29h0m1-45h0m0 13h0m0 2h0m0 13h0m0 0h0m1-31h0m0 8h0m0 9h0m0 19h0m1-35h0m0 5h0m0 7h0m0 3h0m0 3h0m0 10h0m1-32h0m0 8h0m0 19h0m0 4h0m0 6h0m0 11h0m0 9h0m1-57h0m0 1h0m0 9h0m0 1h0m0 4h0m0 2h0m0 2h0m0 1h0m0 5h0m0 9h0m0 3h0m0 3h0m1-34h0m0 5h0m0 31h0m0 1h0m1-27h0m0 8h0m0 11h0m0 13h0m1-47h0m0 6h0m0 12h0m0 1h0m0 3h0m0 16h0m0 8h0m1-36h0m0 1h0m0 19h0m0 9h0m0 0h0m1-36h0m0 12h0m0 4h0m0 1h0m0 5h0m0 1h0m0 24h0m0 5h0m1-48h0m0 17h0m0 11h0m0 3h0m0 3h0m1-41h0m0 4h0m0 11h0m0 8h0m0 1h0m0 9h0m0 7h0m0 8h0m0 5h0m1-53h0m0 2h0m0 6h0m0 2h0m0 18h0m0 5h0m0 8h0m0 2h0m0 14h0m1-57h0m0 18h0m1-16h0m0 1h0m0 22h0m0 13h0m0 13h0m1-46h0m0 1h0m0 1h0m0 8h0m0 14h0m0 4h0m0 1h0m0 1h0m1-34h0m0 7h0m0 4h0m0 6h0m0 1h0m0 1h0m0 11h0m1-19h0m0 12h0m1-20h0m0 1h0m0 10h0m0 3h0m0 5h0m0 2h0m0 3h0m0 12h0m0 6h0m0 4h0m0 0h0m1-44h0m0 5h0m0 8h0m0 10h0m0 1h0m0 13h0m1-35h0m0 15h0m0 3h0m0 7h0m0 9h0m1-39h0m0 3h0m0 14h0m1-20h0m0 13h0m0 11h0m1-19h0m0 18h0m0 6h0m0 25h0m1-52h0m0 20h0m0 8h0m0 11h0m0 13h0m1-53h0m0 0h0m0 1h0m0 13h0m0 7h0m0 7h0m0 0h0m1-24h0m0 2h0m0 1h0m0 3h0m0 6h0m0 2h0m0 6h0m1 9h0m0 9h0m0 6h0m1-31h0m0 10h0m1-23h0m0 1h0m0 3h0m0 0h0m0 7h0m0 9h0m0 6h0m0 7h0m0 2h0m0 9h0m1-40h0m0 2h0m0 16h0m0 10h0m0 7h0m1-40h0m0 1h0m0 3h0m0 1h0m0 1h0m0 3h0m0 0h0m0 5h0m0 5h0m0 1h0m0 26h0m1-40h0m0 23h0m0 1h0m0 5h0m1-37h0m0 27h0m0 2h0m0 9h0m0 17h0m1-48h0m0 1h0m0 10h0m0 7h0m0 1h0m0 3h0m0 4h0m1-33h0m0 17h0m0 7h0m0 4h0m0 6h0m0 2h0m1-34h0m0 4h0m0 0h0m0 7h0m0 5h0m0 14h0m1 9h0m1-39h0m0 16h0m0 4h0m0 9h0m1-23h0m0 7h0m0 1h0m0 2h0m0 11h0m0 31h0m1-62h0m0 10h0m0 1h0m0 0h0m0 5h0m0 10h0m0 6h0m0 39h0m1-62h0m0 4h0m0 4h0m0 10h0m0 13h0m1-36h0m0 5h0m0 2h0m0 4h0m0 1h0m0 1h0m0 4h0m0 5h0m0 10h0m0 15h0m1-47h0m0 5h0m0 2h0m0 24h0m0 3h0m1-34h0m0 2h0m0 3h0m0 1h0m0 0h0m0 4h0m0 4h0m0 0h0m0 6h0m0 1h0m0 17h0m1-43h0m0 2h0m0 0h0m0 17h0m0 4h0m0 5h0m0 4h0m0 1h0m0 8h0m0 0h0m0 2h0m1-40h0m0 1h0m0 1h0m0 13h0m0 11h0m0 12h0m1-41h0m0 21h0m0 6h0m0 3h0m0 10h0m0 3h0m1-19h0m1-19h0m0 0h0m0 1h0m0 1h0m0 19h0m0 2h0m0 13h0m1-41h0m0 12h0m0 1h0m0 1h0m0 3h0m0 4h0m0 0h0m0 5h0m0 4h0m1-30h0m0 1h0m0 5h0m0 2h0m0 11h0m0 1h0m0 8h0m0 11h0m1-36h0m0 14h0m0 8h0m0 1h0m0 3h0m1-27h0m0 0h0m0 10h0m0 1h0m0 3h0m0 0h0m0 9h0m0 1h0m0 13h0m1-35h0m0 11h0m0 11h0m1-24h0m0 22h0m0 7h0m0 9h0m1-39h0m0 4h0m0 1h0m0 2h0m0 13h0m0 11h0m0 12h0m1-24h0m0 6h0m0 3h0m0 6h0m0 9h0m1-31h0m0 5h0m0 11h0m1-22h0m0 0h0m0 8h0m0 7h0m0 5h0m0 8h0m0 0h0m0 5h0m0 9h0m1-21h0m0 3h0m0 1h0m0 7h0m0 20h0m0 8h0m1-55h0m0 1h0m0 12h0m0 0h0m0 8h0m0 1h0m0 2h0m1-34h0m0 9h0m0 17h0m0 5h0m1-31h0m0 0h0m0 5h0m0 2h0m0 5h0m0 2h0m0 2h0m0 2h0m0 3h0m0 8h0m0 36h0m1-55h0m0 10h0m0 3h0m1-24h0m0 16h0m0 6h0m1-16h0m0 20h0m0 6h0m0 1h0m0 4h0m0 2h0m1-37h0m0 3h0m0 12h0m0 2h0m0 6h0m0 9h0m0 15h0m1-48h0m0 2h0m0 3h0m0 8h0m0 1h0m0 5h0m0 14h0m0 10h0m0 9h0m1-42h0m0 8h0m0 2h0m0 4h0m0 12h0m0 7h0m1-43h0m0 10h0m0 2h0m0 2h0m0 5h0m0 13h0m0 5h0m0 4h0m1-37h0m0 2h0m0 10h0m0 9h0m0 4h0m1-16h0m0 8h0m0 2h0m0 1h0m0 6h0m0 4h0m1-34h0m0 7h0m0 8h0m0 10h0m0 12h0m1-38h0m0 3h0m0 1h0m0 0h0m0 6h0m0 1h0m0 2h0m0 39h0m0 7h0m1-43h0m0 5h0m0 15h0m0 7h0m1-38h0m0 2h0m0 11h0m0 1h0m0 11h0m0 9h0m1-36h0m0 14h0m0 19h0m0 6h0m0 3h0m1-40h0m0 3h0m0 2h0m0 0h0m0 16h0m0 25h0m1-51h0"/>
<path d="M83 195h0m4 166h0m1 41h0m3-27h0m0 9h0m1-15h0m0 30h0m1 4h0m1-21h0m1 32h0m0 11h0m1-156h0m0 128h0m2-18h0m0 26h0m3-83h0m0 110h0m1-13h0m1-208h0m3 113h0m3 37h0m1-66h0m0 75h0m1-73h0m13-33h0m1 56h0m0 16h0m2-35h0m0 15h0m2 1h0m0 15h0m2-56h0m1 7h0m3 20h0m0 55h0m2-39h0m1-19h0m2-16h0m3 63h0m2-58h0m0 14h0m1-9h0m0 5h0m3-34h0m0 35h0m2-8h0m0 21h0m1-17h0m1 9h0m0 14h0m0 8h0m1-2h0m1-53h0m1 21h0m0 2h0m1-6h0m2 21h0m0 9h0m0 4h0m2-13h0m1-3h0m1-6h0m0 15h0m4-28h0m0 6h0m1-8h0m1-8h0m2 10h0m0 24h0m2 1h0m1-17h0m2-8h0m0 8h0m0 20h0m0 12h0m1 17h0m1-39h0m1-35h0m1 0h0m6 30h0m1-23h0m4 33h0m4-30h0m2 3h0m2 7h0m0 37h0m1-35h0m2 5h0m3-6h0m3 32h0m3-49h0m3 0h0m1 51h0m2-38h0m0 10h0m1 27h0m9-49h0m1-19h0m1-28h0m0 23h0m0 62h0m1-51h0m0 10h0m1-45h0m0 4h0m1 7h0m0 29h0m0 16h0m4-14h0m2-2h0m1-36h0m0 12h0m0 26h0m0 6h0m1-34h0m0 14h0m1-2h0m0 2h0m0 31h0m1-47h0m1-3h0m0 4h0m0 6h0m2-13h0m4 36h0m2-16h0m6-11h0m0 3h0m2 5h0m0 9h0m1 8h0m1-20h0m3-7h0m1-1h0m2 8h0m0 49h0m1-48h0m4 1h0m1 6h0m1-23h0m0 40h0m1-18h0m1-15h0m1-7h0m0 20h0m0 9h0m3 9h0m1-31h0m0 1h0m1 22h0m0 10h0m2-37h0m1 22h0m2-6h0m3-18h0m0 26h0m1 6h0m0 28h0m4-12h0m1-45h0m0 4h0m1-11h0m0 0h0m0 12h0m0 11h0m1 1h0m1-13h0m1 23h0m4 29h0m1-62h0m1 1h0m1-1h0m0 14h0m1 14h0m1 5h0m1-22h0m0 5h0m2 6h0m0 13h0m0 8h0m1-33h0m4 9h0m0 5h0m1-17h0m0 13h0m0 12h0m0 26h0m2-31h0m2-29h0m2 16h0m0 5h0m1 20h0m1-23h0m1-11h0m1-5h0m3 1h0m3 28h0m0 4h0m2-14h0m1-1h0m0 8h0m2 10h0m1-14h0m0 14h0m2-36h0m0 31h0m0 7h0m2-37h0m0 23h0m1-54h0m0 26h0m0 9h0m0 1h0m1-20h0m1-19h0m0 30h0m0 33h0m1-26h0m0 5h0m1-7h0m0 1h0m1-19h0m0 0h0m0 8h0m1-3h0m1 16h0m1 31h0m1-67h0m0 31h0m1 2h0m0 15h0m1-36h0m0 15h0m0 5h0m2-24h0m0 7h0m0 7h0m0 2h0m1-32h0m0 4h0m0 18h0m0 10h0m0 4h0m0 19h0m1-8h0m0 0h0m1-34h0m0 34h0m1-45h0m0 18h0m0 8h0m0 19h0m1 2h0m1-13h0m0 15h0m1-36h0m0 23h0m0 15h0m1-48h0m1 4h0m0 2h0m0 5h0m0 7h0m0 11h0m1-36h0m0 24h0m2-21h0m0 31h0m0 34h0m1-49h0m1 34h0m1-25h0m1-3h0m2 8h0m1-1h0m0 2h0m1-6h0m0 18h0m1-17h0m3 4h0m0 4h0m0 4h0m2-12h0m0 5h0m0 5h0m1-6h0m1-26h0m0 34h0m0 8h0m0 3h0m1-14h0m0 6h0m1-40h0m0 25h0m1-26h0m1 28h0m1-29h0m0 17h0m0 18h0m2-32h0m1 7h0m0 4h0m0 8h0m1-18h0m0 3h0m0 52h0m1-34h0m1-21h0m1-6h0m0 26h0m0 9h0m0 6h0m1-34h0m0 3h0m1-5h0m0 3h0m0 10h0m0 6h0m0 14h0m1-36h0m0 25h0m2-20h0m0 2h0m0 15h0m1 7h0m1-10h0m1-16h0m0 33h0m0 12h0m1-39h0m0 4h0m1 23h0m0 4h0m1-28h0m0 2h0m0 1h0m1-1h0m1 1h0m0 20h0m1-24h0m0 5h0m1 29h0m1-36h0m0 48h0m1-56h0m0 3h0m1-4h0m0 14h0m0 2h0m0 15h0m1-14h0m1-15h0m0 12h0m0 4h0m0 22h0m1-42h0m0 26h0m0 6h0m0 6h0m1-32h0m0 13h0m0 3h0m1-19h0m1 16h0m0 7h0m0 1h0m1-17h0m0 7h0m1-14h0m0 8h0m0 22h0m1-33h0m0 13h0m0 22h0m4-18h0m0 7h0m0 17h0m1-36h0m0 11h0m1 8h0m2-17h0m0 28h0m1-11h0m0 6h0m2-29h0m0 5h0m0 7h0m1-4h0m0 2h0m0 11h0m0 37h0m1-57h0m0 23h0m0 1h0m0 15h0m1-37h0m1 31h0m1-31h0m0 10h0m0 15h0m1 5h0m1-29h0m1 6h0m0 7h0m3-7h0m0 15h0m0 1h0m1-23h0m1-2h0m0 42h0m1-30h0m0 8h0m1-1h0m2-14h0m0 0h0m0 11h0m0 5h0m1-20h0m0 3h0m1-2h0m0 5h0m1 30h0m1-36h0m1 10h0m0 32h0m1-27h0m1 12h0m1-15h0m0 6h0m1-9h0m0 17h0m1-48h0m0 49h0m0 2h0m1-46h0m0 6h0m0 1h0m0 10h0m0 7h0m0 1h0m1-30h0m0 39h0m0 6h0m0 7h0m0 1h0m1-60h0m0 0h0m0 14h0m0 9h0m1-8h0m0 3h0m0 3h0m0 10h0m1-29h0m0 1h0m0 6h0m0 2h0m0 5h0m0 15h0m0 15h0m1-19h0m0 17h0m0 6h0m1-51h0m0 5h0m0 19h0m0 25h0m1-31h0m0 34h0m1-52h0m0 14h0m0 5h0m0 3h0m0 18h0m0 5h0m0 16h0m1-60h0m0 8h0m0 25h0m0 14h0m0 9h0m1-33h0m0 5h0m0 11h0m0 5h0m0 0h0m0 1h0m1-30h0m0 2h0m0 8h0m0 2h0m1-5h0m0 8h0m2-27h0m0 3h0m0 0h0m0 1h0m0 3h0m0 6h0m0 4h0m0 17h0m0 15h0m1-37h0m0 19h0m0 13h0m0 3h0m1-34h0m0 1h0m0 6h0m0 20h0m1-41h0m0 17h0m0 8h0m0 6h0m1-29h0m0 12h0m0 6h0m0 11h0m0 1h0m1-33h0m0 3h0m0 7h0m0 7h0m0 0h0m0 17h0m0 5h0m1-37h0m0 4h0m0 2h0m0 1h0m0 19h0m0 8h0m1-29h0m0 6h0m0 11h0m0 12h0m1-22h0m0 13h0m0 10h0m1-26h0m0 24h0m0 0h0m0 10h0m1-29h0m0 2h0m0 1h0m0 5h0m0 15h0m0 1h0m0 16h0m1-49h0m0 7h0m0 31h0m1-44h0m0 16h0m0 1h0m0 6h0m1-22h0m0 9h0m0 7h0m0 1h0m0 3h0m0 5h0m0 3h0m0 2h0m1-21h0m0 7h0m0 23h0m1-38h0m0 6h0m0 5h0m0 20h0m1-25h0m0 5h0m0 5h0m0 10h0m0 11h0m0 2h0m1-29h0m0 1h0m0 22h0m0 1h0m0 25h0m1-54h0m0 7h0m0 11h0m0 3h0m0 2h0m0 4h0m0 0h0m0 10h0m1-36h0m0 2h0m0 2h0m0 3h0m0 2h0m0 10h0m0 3h0m1-28h0m0 9h0m0 7h0m0 3h0m0 6h0m0 3h0m0 3h0m0 2h0m0 6h0m1-40h0m0 8h0m0 6h0m0 9h0m0 1h0m1-5h0m0 21h0m1-35h0m0 23h0m0 5h0m0 6h0m1-37h0m0 4h0m0 5h0m0 5h0m0 1h0m0 9h0m0 3h0m1-1h0m1 6h0m0 41h0m1-70h0m0 21h0m1-13h0m0 3h0m0 1h0m0 6h0m0 12h0m0 4h0m1-35h0m0 3h0m0 12h0m0 4h0m0 2h0m0 11h0m0 32h0m1-71h0m0 21h0m1-1h0m0 2h0m0 17h0m0 6h0m1-26h0m0 13h0m1-22h0m0 13h0m0 0h0m0 3h0m0 5h0m0 6h0m0 4h0m0 1h0m1-43h0m0 16h0m0 10h0m0 3h0m0 0h0m1-25h0m0 4h0m0 26h0m0 16h0m0 3h0m1-51h0m0 5h0m0 6h0m0 1h0m0 2h0m0 11h0m0 15h0m1-35h0m0 23h0m1-14h0m0 18h0m1-23h0m0 9h0m0 22h0m0 1h0m0 28h0m1-67h0m0 2h0m0 15h0m0 5h0m1-14h0m0 9h0m0 3h0m0 13h0m0 6h0m1-38h0m0 3h0m0 5h0m0 4h0m0 3h0m0 8h0m0 7h0m2-14h0m0 13h0m1-28h0m0 12h0m0 5h0m0 1h0m0 1h0m0 0h0m0 1h0m0 0h0m0 2h0m0 3h0m0 4h0m1-17h0m0 11h0m1-28h0m1 7h0m0 17h0m1-21h0m0 17h0m0 39h0m1-49h0m0 2h0m1-9h0m0 15h0m0 9h0m0 17h0m1-44h0m0 0h0m0 4h0m0 10h0m0 2h0m0 8h0m0 4h0m0 14h0m1-35h0m0 3h0m0 15h0m0 1h0m0 7h0m1-34h0m0 6h0m0 33h0m0 11h0m1-25h0m1-22h0m0 18h0m0 12h0m1-29h0m0 0h0m0 3h0m0 9h0m0 14h0m0 4h0m1-32h0m0 17h0m0 20h0m1-36h0m0 18h0m0 12h0m0 6h0m1-29h0m0 23h0m0 11h0m1-38h0m0 28h0m0 1h0m1-5h0m1-30h0m0 14h0m0 24h0m1-17h0m1-18h0m0 0h0m0 8h0m0 5h0m0 3h0m0 1h0m1-8h0m0 3h0m0 2h0m0 1h0m0 13h0m0 1h0m0 0h0m0 10h0m1-32h0m0 3h0m0 4h0m0 3h0m0 12h0m0 0h0m1-26h0m0 4h0m0 0h0m0 11h0m0 8h0m1-23h0m0 16h0m0 7h0m0 20h0m1-30h0m0 6h0m0 7h0m0 6h0m1-35h0m0 2h0m0 1h0m0 3h0m0 0h0m0 7h0m0 1h0m0 3h0m0 6h0m0 10h0m1-26h0m0 8h0m0 29h0m1-27h0m0 6h0m1-16h0m0 6h0m0 24h0m0 4h0m1-43h0m0 23h0m0 2h0m0 7h0m1-25h0m0 8h0m0 3h0m1-18h0m0 5h0m0 14h0m0 7h0m0 3h0m1-22h0m0 0h0m0 5h0m0 4h0m0 1h0m0 1h0m0 1h0m0 0h0m0 6h0m0 6h0m1-18h0m0 5h0m0 2h0m0 17h0m1-24h0m0 6h0m0 4h0m1-21h0m0 16h0m0 3h0m0 13h0m1-35h0m0 3h0m0 15h0m0 28h0m1-26h0m0 6h0m1-25h0m0 7h0m0 14h0m0 1h0m0 1h0m0 5h0m0 2h0m1-21h0m0 2h0m0 8h0m0 6h0m0 11h0m0 23h0m1-56h0m0 9h0m0 4h0m0 20h0m1-31h0m0 5h0m0 12h0m0 0h0m0 8h0m1-27h0m0 1h0m0 1h0m0 6h0m0 11h0m0 10h0m0 4h0m1-35h0m0 36h0m1-34h0m0 0h0m0 3h0m0 1h0m0 0h0m0 4h0m0 7h0m0 3h0m0 10h0m1-28h0m0 1h0m0 4h0m0 3h0m0 3h0m0 6h0m0 15h0m1-33h0m0 2h0m0 4h0m0 10h0m1-2h0m1-10h0m0 1h0m0 3h0m0 4h0m0 7h0m1-14h0m0 4h0m0 2h0m0 3h0m0 0h0m0 10h0m0 8h0m1-26h0m0 1h0m0 4h0m0 6h0m0 28h0m1-46h0m1 9h0m0 7h0m0 11h0m0 7h0m1-32h0m0 5h0m0 1h0m0 1h0m0 20h0m1-27h0m0 7h0m0 10h0m0 22h0m1-26h0m0 1h0m0 3h0m0 14h0m1-21h0m1-13h0m0 13h0m0 4h0m1-42h0m0 7h0m0 17h0m0 13h0m1-30h0m0 3h0m0 3h0m0 11h0m0 1h0m0 1h0m0 10h0m0 1h0m0 3h0m0 18h0m1-50h0m0 0h0m0 6h0m0 23h0m0 13h0m1-51h0m0 10h0m0 5h0m0 2h0m0 27h0m0 13h0m1-51h0m0 32h0m1-29h0m0 21h0m0 11h0m0 3h0m0 0h0m1-29h0m0 1h0m0 2h0m0 4h0m0 0h0m0 4h0m0 12h0m0 3h0m0 5h0m0 9h0m1-53h0m0 6h0m0 16h0m0 4h0m0 3h0m0 7h0m0 10h0m1-47h0m0 2h0m0 23h0m0 5h0m1-27h0m0 5h0m0 17h0m0 7h0m0 1h0m0 20h0m1-27h0m0 23h0m1-43h0m1-2h0m0 3h0m0 16h0m0 1h0m0 2h0m0 6h0m0 1h0m1-29h0m0 7h0m0 5h0m0 5h0m0 8h0m0 0h0m0 2h0m0 1h0m0 19h0m1-48h0m0 12h0m0 2h0m0 26h0m0 5h0m1-32h0m0 29h0m1-47h0m0 15h0m0 8h0m0 6h0m0 13h0m0 13h0m1-53h0m0 15h0m0 11h0m0 3h0m0 7h0m0 10h0m1-43h0m0 11h0m0 8h0m0 6h0m0 6h0m0 2h0m0 6h0m0 10h0m1-36h0m0 17h0m0 35h0m1-67h0m0 15h0m0 7h0m0 6h0m0 1h0m0 19h0m1-51h0m0 1h0m0 15h0m0 6h0m0 2h0m0 4h0m0 10h0m0 0h0m0 5h0m0 3h0m0 6h0m0 2h0m0 0h0m0 12h0m1-60h0m0 7h0m0 6h0m0 2h0m0 22h0m0 15h0m1-52h0m0 5h0m0 15h0m0 6h0m0 10h0m1-38h0m0 2h0m0 1h0m0 9h0m0 8h0m0 2h0m0 1h0m0 8h0m0 4h0m0 5h0m0 3h0m0 10h0m0 7h0m1-62h0m0 9h0m0 7h0m0 2h0m0 11h0m1-27h0m0 10h0m0 16h0m0 4h0m0 2h0m0 2h0m1-34h0m0 11h0m0 4h0m0 2h0m0 9h0m0 13h0m0 10h0m1-51h0m0 1h0m0 3h0m0 14h0m0 5h0m0 29h0m1-53h0m0 9h0m0 11h0m0 12h0m0 7h0m0 2h0m0 11h0m1-50h0m0 15h0m0 0h0m0 4h0m0 3h0m0 9h0m0 1h0m0 3h0m0 13h0m1-39h0m0 0h0m1-10h0m0 2h0m0 15h0m0 15h0m0 1h0m1-34h0m0 3h0m0 4h0m0 12h0m0 0h0m0 7h0m0 42h0m1-48h0m0 1h0m0 1h0m0 15h0m0 3h0m0 5h0m0 5h0m1-45h0m0 15h0m0 1h0m0 12h0m0 4h0m1-32h0m0 3h0m0 6h0m0 3h0m0 2h0m0 14h0m0 12h0m1-20h0m1-21h0m0 4h0m0 0h0m0 15h0m0 1h0m0 9h0m0 7h0m0 3h0m0 11h0m1-53h0m0 4h0m0 12h0m0 9h0m0 28h0m1-25h0m0 4h0m0 8h0m0 8h0m1-30h0m0 5h0m0 18h0m1-42h0m0 8h0m0 2h0m0 1h0m0 9h0m0 21h0m0 1h0m1-42h0m0 8h0m0 4h0m0 2h0m0 5h0m0 10h0m1-25h0m0 6h0m0 7h0m0 5h0m0 0h0m0 3h0m0 5h0m0 7h0m0 9h0m1-35h0m0 12h0m0 47h0m1-69h0m0 6h0m0 11h0m0 0h0m0 6h0m0 25h0m0 0h0m0 3h0m1-50h0m0 7h0m0 14h0m0 1h0m0 3h0m0 6h0m0 1h0m0 7h0m0 19h0m1-55h0m0 9h0m0 5h0m1-14h0m0 9h0m0 1h0m0 9h0m0 14h0m0 2h0m0 3h0m1-27h0m0 4h0m0 8h0m0 3h0m0 12h0m0 2h0m0 0h0m0 4h0m1-39h0m0 21h0m1-15h0m1-12h0m0 2h0m0 1h0m0 31h0m1-38h0m0 0h0m0 0h0m0 6h0m0 20h0m0 1h0m0 5h0m0 1h0m0 2h0m0 0h0m1-36h0m0 14h0m0 2h0m0 8h0m0 9h0m0 2h0m0 12h0m1-33h0m0 16h0m0 2h0m0 4h0m0 2h0m1-35h0m0 11h0m0 4h0m0 5h0m0 6h0m0 3h0m0 1h0m0 2h0m0 3h0m0 2h0m0 0h0m0 18h0m1-50h0m0 11h0m0 1h0m0 25h0m1-39h0m0 4h0m0 1h0m0 15h0m0 2h0m1-26h0m0 3h0m0 1h0m0 4h0m0 8h0m0 8h0m0 14h0m0 11h0m1-44h0m0 18h0m0 6h0m0 1h0m0 18h0m1-48h0m0 1h0m0 3h0m0 1h0m0 1h0m0 1h0m0 0h0m0 2h0m0 3h0m0 12h0m0 13h0m0 5h0m1-32h0m0 6h0m0 1h0m0 13h0m0 10h0m0 9h0m0 6h0m1-52h0m0 7h0m0 3h0m0 5h0m0 5h0m0 16h0m1-25h0m0 13h0m0 0h0m0 2h0m0 7h0m0 3h0m0 3h0m0 0h0m0 11h0m1-52h0m0 0h0m0 1h0m0 17h0m0 27h0m1-45h0m0 21h0m0 4h0m0 1h0m0 10h0m0 4h0m1-32h0m0 10h0m0 21h0m1-41h0m0 8h0m0 7h0m0 3h0m0 36h0m1-47h0m0 4h0m0 3h0m0 0h0m0 21h0m0 8h0m1-32h0m0 7h0m0 1h0m0 7h0m0 1h0m0 17h0m1-6h0m0 1h0m0 4h0m1-41h0m0 0h0m0 5h0m0 1h0m0 2h0m0 6h0m0 6h0m0 2h0m0 5h0m0 2h0m1-22h0m0 8h0m0 4h0m0 2h0m0 11h0m0 4h0m0 3h0m1-39h0m0 4h0m0 8h0m0 0h0m0 12h0m0 2h0m1-15h0m0 7h0m0 13h0m0 3h0m0 9h0m0 10h0m1-56h0m0 1h0m0 8h0m0 5h0m0 9h0m0 16h0m0 7h0m1-43h0m0 29h0m0 0h0m0 10h0m1-37h0m0 1h0m0 1h0m0 1h0m0 18h0m0 10h0m1-35h0m0 2h0m0 0h0m0 2h0m0 23h0m0 7h0m1-35h0m0 3h0m0 11h0m0 6h0m0 1h0m0 8h0m0 9h0m1-36h0m0 8h0m0 1h0m0 15h0m0 8h0m0 1h0m1-25h0m0 1h0m0 5h0m0 2h0m0 15h0m0 8h0m0 1h0m0 31h0m1-65h0m0 4h0m0 16h0m0 8h0m0 4h0m1-31h0m0 8h0m0 11h0m0 2h0m1-29h0m0 4h0m0 1h0m0 2h0m0 2h0m0 1h0m0 4h0m0 8h0m0 7h0m0 8h0m0 15h0m1-46h0m0 4h0m0 11h0m1-3h0m0 3h0m0 18h0m0 2h0m1-29h0m0 7h0m0 1h0m0 11h0m0 4h0m0 9h0m0 2h0m0 32h0m1-67h0m0 9h0m0 7h0m0 8h0m1-30h0m0 1h0m0 11h0m0 13h0m0 9h0m1-37h0m0 7h0m0 2h0m0 4h0m0 6h0m0 4h0m0 6h0m0 4h0m0 5h0m1-37h0m0 0h0m0 9h0m0 15h0m0 16h0m0 4h0m1-48h0m0 3h0m0 4h0m0 10h0m0 9h0m0 6h0m0 17h0m0 2h0m1-32h0m0 4h0m0 1h0m0 5h0m0 7h0m0 7h0m1-36h0m0 0h0m0 1h0m0 6h0m0 13h0m0 4h0m1-18h0m0 11h0m0 6h0m1-29h0m0 2h0m0 5h0m0 0h0m0 4h0m0 3h0m0 2h0m0 2h0m0 1h0m0 9h0m0 5h0m0 0h0m0 23h0m1-57h0m0 2h0m0 3h0m0 7h0m0 8h0m0 0h0m0 1h0m0 4h0m0 1h0m1-13h0m0 2h0m0 12h0m0 2h0m0 8h0m0 19h0m1-56h0m0 9h0m0 8h0m1-10h0m0 0h0m0 42h0m1-43h0m0 2h0m0 4h0m0 2h0m0 4h0m0 5h0m0 11h0m0 5h0m0 9h0m1-40h0m0 17h0m0 6h0m0 7h0m0 2h0m0 12h0m1-30h0m0 1h0m0 1h0m0 4h0m0 3h0m1 18h0m1-45h0m0 29h0m0 12h0m0 4h0m0 12h0m1-55h0m0 6h0m0 2h0m0 26h0m1-34h0m0 4h0m0 2h0m0 2h0m0 10h0m0 8h0m0 14h0m0 3h0m1-48h0m0 5h0m0 2h0m0 2h0m0 1h0m0 1h0m0 6h0m0 5h0m0 1h0m0 4h0m0 9h0m0 1h0m0 2h0m0 1h0m1-40h0m0 15h0m0 2h0m0 0h0m0 9h0m0 0h0m0 1h0m1-25h0m0 5h0m0 4h0m0 15h0m0 0h0m0 6h0m0 1h0m0 20h0m1-47h0m0 0h0m0 4h0m0 3h0m0 8h0m0 10h0m0 4h0m0 1h0m0 15h0m1-50h0m0 3h0m0 0h0m0 10h0m0 19h0m0 14h0m1-38h0m0 2h0m0 9h0m0 6h0m0 7h0m1-11h0m0 4h0m0 6h0m0 0h0"/>
<path d="M89 419h0m1 8h0m2-64h0m0 37h0m1 1h0m1-92h0m1 88h0m1-24h0m1 56h0m1-23h0m1 8h0m1-167h0m0 184h0m1-43h0m0 35h0m1 29h0m16-162h0m0 131h0m5-145h0m1-42h0m0 91h0m3-69h0m4 77h0m2-17h0m3 26h0m1-10h0m1-54h0m0 75h0m1-6h0m0 5h0m1-56h0m0 40h0m1-21h0m1-22h0m0 4h0m0 18h0m1-24h0m1 17h0m0 61h0m1-81h0m3 29h0m0 7h0m0 28h0m1-25h0m2-29h0m0 10h0m0 23h0m0 4h0m0 33h0m1-91h0m1 30h0m0 16h0m4-18h0m3 29h0m2-16h0m1-46h0m1-5h0m0 37h0m1 3h0m3-34h0m1 76h0m2 1h0m2-58h0m1 35h0m1-52h0m0 41h0m2-28h0m0 24h0m1-16h0m1-1h0m1-28h0m0 19h0m4 30h0m1-44h0m0 53h0m2 2h0m1-56h0m1 4h0m1 26h0m3-22h0m2 24h0m6-19h0m1 1h0m10-16h0m0 16h0m0 9h0m11-8h0m1 6h0m0 6h0m1 16h0m1-22h0m1 1h0m0 10h0m2 4h0m1-20h0m1-44h0m1 13h0m2-19h0m1 58h0m1-44h0m0 22h0m1 1h0m1-6h0m1-31h0m0 17h0m0 37h0m0 22h0m2-54h0m1-14h0m2-13h0m2 50h0m2 15h0m1-67h0m0 12h0m1-10h0m0 22h0m0 1h0m1-7h0m2-12h0m2 24h0m1-20h0m0 63h0m1 1h0m1-33h0m0 13h0m2-54h0m1 46h0m3-36h0m1 18h0m1-20h0m1 24h0m1 28h0m3-55h0m0 8h0m0 36h0m1-30h0m1-19h0m0 1h0m1 0h0m0 60h0m1-61h0m1 18h0m1 11h0m0 4h0m0 24h0m1-46h0m2 7h0m0 32h0m1 5h0m3-38h0m1-14h0m0 25h0m1 36h0m1-36h0m1-16h0m0 10h0m3-7h0m0 0h0m0 20h0m1 4h0m1-6h0m0 13h0m1-15h0m1-30h0m0 3h0m0 13h0m1-14h0m0 3h0m0 18h0m2 4h0m1-1h0m0 9h0m4-17h0m0 9h0m1-13h0m1 12h0m0 2h0m1-24h0m0 12h0m0 13h0m1-12h0m3-11h0m3-2h0m1 27h0m1-5h0m1 5h0m2-18h0m1 19h0m1-12h0m0 8h0m1-7h0m1-20h0m0 29h0m3-9h0m1-19h0m0 17h0m0 11h0m3-33h0m0 6h0m1-5h0m0 23h0m0 3h0m1-24h0m0 34h0m2-37h0m1 11h0m1-3h0m0 14h0m1-20h0m0 11h0m2-5h0m0 1h0m1-1h0m0 10h0m0 10h0m3-24h0m3-23h0m0 36h0m1-34h0m1 2h0m0 7h0m0 2h0m0 18h0m1-26h0m0 78h0m1-74h0m1-21h0m1-2h0m2 10h0m1 17h0m0 2h0m0 0h0m0 12h0m1-28h0m0 15h0m0 0h0m1-1h0m2-5h0m1-23h0m0 42h0m0 0h0m1-34h0m1-7h0m0 45h0m1-12h0m0 3h0m1-20h0m1 8h0m1-28h0m0 18h0m0 16h0m0 0h0m1 20h0m0 6h0m1 4h0m1-56h0m0 3h0m1-9h0m0 43h0m0 8h0m0 1h0m1-13h0m1-31h0m0 14h0m0 6h0m0 14h0m1-22h0m0 4h0m4 5h0m1-17h0m0 22h0m1-27h0m2-4h0m0 29h0m1-33h0m1 7h0m3-1h0m0 25h0m1-12h0m2-18h0m1 10h0m0 30h0m1-40h0m1 0h0m0 16h0m1-2h0m0 1h0m0 31h0m0 3h0m1-22h0m0 5h0m0 3h0m1-33h0m0 11h0m0 20h0m0 5h0m1 1h0m1-37h0m1 0h0m1 15h0m0 8h0m0 17h0m1-12h0m2-9h0m0 1h0m0 13h0m0 2h0m2-25h0m0 8h0m0 14h0m0 7h0m1-43h0m0 19h0m0 8h0m0 5h0m0 11h0m1-43h0m0 5h0m0 25h0m0 9h0m1-35h0m0 50h0m1-47h0m0 6h0m0 9h0m0 37h0m1-38h0m0 10h0m1 2h0m3-8h0m1-23h0m0 9h0m0 2h0m0 4h0m0 12h0m1-8h0m1-13h0m0 3h0m0 1h0m0 25h0m2-27h0m1 11h0m1 9h0m2-29h0m0 12h0m1-13h0m0 34h0m1-32h0m0 3h0m0 3h0m0 5h0m0 7h0m1-14h0m1-6h0m0 29h0m0 3h0m1-32h0m0 18h0m0 5h0m1-21h0m0 31h0m1 5h0m1-38h0m0 5h0m0 21h0m0 1h0m0 13h0m1-33h0m0 11h0m1-3h0m0 34h0m1-31h0m0 3h0m1 10h0m1-17h0m1 0h0m1 3h0m2-13h0m0 3h0m0 23h0m1 8h0m1-30h0m0 18h0m0 14h0m0 1h0m1-10h0m2-7h0m1-3h0m0 13h0m1-30h0m1 2h0m0 24h0m0 0h0m1-24h0m0 7h0m0 7h0m0 11h0m1-31h0m0 20h0m1-18h0m0 11h0m0 11h0m0 8h0m1-14h0m2-18h0m0 16h0m0 10h0m1-25h0m0 33h0m1-27h0m0 7h0m1-11h0m0 5h0m0 0h0m0 12h0m0 12h0m0 8h0m1-33h0m0 2h0m0 4h0m0 1h0m0 1h0m0 4h0m0 3h0m2-14h0m0 17h0m1-20h0m0 52h0m1-48h0m0 10h0m1-5h0m1-11h0m0 34h0m1-43h0m0 29h0m1-46h0m0 13h0m0 13h0m0 4h0m0 1h0m0 1h0m1-18h0m0 6h0m1-4h0m0 1h0m0 11h0m0 7h0m0 15h0m1-15h0m1-24h0m0 19h0m0 7h0m0 6h0m0 14h0m1-42h0m0 2h0m0 18h0m1-28h0m0 30h0m0 1h0m1-30h0m0 36h0m1-48h0m0 3h0m0 13h0m0 2h0m0 2h0m0 7h0m0 3h0m0 0h0m0 13h0m0 6h0m1-47h0m0 23h0m0 1h0m0 17h0m0 3h0m1-41h0m0 7h0m0 22h0m1-17h0m0 14h0m0 1h0m0 20h0m0 3h0m1-54h0m0 0h0m0 18h0m0 2h0m0 9h0m0 10h0m0 6h0m0 1h0m0 32h0m1-55h0m0 26h0m0 1h0m0 4h0m1-21h0m0 12h0m0 10h0m1-49h0m0 14h0m0 3h0m0 1h0m0 7h0m0 6h0m1-37h0m0 25h0m0 10h0m1-22h0m0 35h0m1-45h0m0 7h0m0 1h0m0 3h0m0 2h0m0 2h0m0 14h0m0 8h0m0 5h0m1-36h0m0 2h0m1-12h0m0 10h0m0 9h0m0 7h0m0 0h0m0 2h0m0 9h0m1-32h0m0 15h0m0 12h0m2-29h0m0 28h0m0 12h0m1-31h0m0 1h0m0 11h0m0 1h0m0 5h0m1-30h0m0 3h0m0 8h0m0 15h0m0 12h0m0 5h0m1-31h0m0 32h0m0 3h0m1-46h0m0 20h0m0 7h0m0 7h0m0 6h0m0 11h0m0 3h0m1-55h0m0 16h0m0 9h0m0 3h0m0 3h0m0 3h0m0 2h0m1-34h0m0 3h0m0 9h0m0 9h0m1-20h0m0 8h0m0 3h0m0 1h0m0 4h0m1 9h0m1-28h0m0 22h0m0 2h0m0 12h0m0 15h0m1-52h0m0 3h0m0 31h0m0 0h0m0 11h0m1-36h0m1 16h0m0 8h0m0 2h0m0 28h0m0 3h0m1-51h0m0 14h0m0 28h0m0 24h0m1-79h0m0 0h0m0 24h0m0 5h0m0 6h0m0 1h0m1-18h0m0 1h0m0 6h0m0 14h0m1-19h0m0 5h0m0 3h0m1-21h0m0 1h0m0 6h0m0 12h0m0 4h0m1-25h0m1-6h0m0 4h0m0 5h0m0 11h0m0 19h0m1-14h0m0 38h0m1-48h0m0 5h0m0 2h0m1-10h0m0 0h0m0 34h0m0 5h0m1-50h0m0 3h0m0 1h0m0 30h0m0 25h0m1-53h0m0 0h0m0 3h0m1-11h0m0 3h0m0 2h0m0 4h0m0 5h0m0 1h0m0 10h0m0 24h0m1-46h0m0 2h0m0 0h0m0 24h0m0 3h0m0 5h0m0 8h0m1-30h0m0 25h0m0 23h0m1-59h0m0 7h0m0 7h0m0 4h0m0 1h0m0 12h0m1-29h0m0 3h0m0 15h0m0 3h0m0 31h0m1-51h0m0 2h0m0 23h0m0 3h0m0 4h0m1-35h0m0 13h0m0 2h0m0 4h0m0 7h0m0 5h0m0 1h0m0 5h0m0 0h0m1-38h0m0 7h0m0 7h0m0 0h0m0 6h0m0 18h0m0 19h0m1-44h0m0 8h0m0 4h0m0 6h0m1-28h0m0 4h0m0 7h0m0 5h0m0 1h0m1-11h0m0 40h0m1-49h0m0 10h0m0 1h0m1-2h0m0 2h0m0 4h0m0 32h0m0 0h0m1-36h0m0 20h0m0 4h0m0 0h0m0 17h0m1-47h0m0 21h0m0 10h0m1-18h0m0 3h0m0 7h0m0 1h0m0 3h0m0 2h0m0 3h0m0 1h0m1-39h0m0 18h0m1-14h0m0 3h0m0 31h0m1-40h0m0 7h0m0 14h0m0 9h0m1-23h0m0 6h0m0 8h0m0 3h0m0 9h0m1-20h0m0 1h0m0 13h0m0 13h0m0 14h0m1-49h0m0 11h0m0 17h0m0 7h0m0 8h0m0 21h0m1-55h0m0 28h0m1-31h0m0 14h0m0 12h0m1-33h0m0 21h0m0 4h0m1-24h0m0 1h0m0 1h0m0 0h0m0 1h0m0 3h0m0 5h0m0 1h0m0 7h0m0 1h0m0 6h0m0 3h0m0 9h0m0 0h0m0 2h0m1-39h0m0 2h0m1 1h0m0 1h0m0 6h0m0 6h0m0 37h0m1-51h0m0 12h0m0 7h0m0 5h0m0 17h0m1-46h0m0 14h0m0 5h0m0 102h0m1-82h0m1-39h0m0 5h0m0 19h0m0 2h0m0 1h0m1-29h0m0 11h0m0 8h0m0 1h0m0 13h0m0 7h0m1-28h0m0 21h0m1-28h0m0 10h0m0 2h0m0 2h0m0 11h0m0 8h0m0 8h0m1-30h0m0 16h0m0 4h0m0 6h0m1-33h0m0 2h0m0 3h0m0 11h0m0 10h0m0 0h0m1-31h0m0 10h0m0 1h0m0 3h0m0 0h0m0 6h0m0 9h0m0 13h0m0 2h0m1-46h0m0 3h0m0 10h0m0 33h0m1-47h0m0 8h0m0 48h0m1-29h0m1-4h0m0 1h0m0 8h0m0 12h0m1-28h0m0 2h0m0 1h0m0 2h0m0 3h0m1-21h0m0 9h0m0 46h0m1-60h0m0 10h0m0 9h0m0 2h0m0 1h0m0 9h0m0 2h0m1-29h0m0 0h0m0 8h0m0 2h0m0 1h0m1-15h0m0 5h0m0 18h0m0 11h0m0 3h0m1-24h0m0 5h0m0 9h0m1-13h0m0 29h0m1-42h0m0 7h0m0 2h0m0 13h0m0 32h0m1-51h0m0 1h0m0 3h0m0 9h0m0 5h0m0 3h0m1-13h0m0 5h0m0 7h0m0 10h0m1-27h0m0 10h0m1-15h0m0 13h0m0 15h0m1-15h0m1-1h0m0 43h0m1-49h0m0 11h0m0 15h0m0 4h0m1-34h0m0 2h0m0 0h0m0 2h0m0 1h0m0 6h0m0 1h0m0 19h0m0 1h0m0 12h0m1-45h0m0 12h0m0 33h0m1-41h0m0 12h0m0 29h0m1-42h0m0 2h0m0 16h0m1-4h0m1-15h0m0 11h0m0 6h0m0 7h0m0 15h0m1-40h0m0 3h0m0 14h0m0 8h0m1-25h0m0 8h0m0 8h0m0 3h0m0 2h0m0 11h0m1-20h0m0 3h0m0 9h0m1-15h0m0 9h0m1 2h0m1-23h0m0 16h0m0 19h0m0 9h0m1-63h0m0 6h0m0 25h0m0 17h0m1-38h0m0 5h0m0 2h0m0 3h0m0 3h0m0 7h0m0 8h0m0 1h0m0 3h0m0 21h0m1-71h0m0 3h0m0 0h0m0 7h0m0 4h0m0 18h0m0 0h0m0 22h0m0 7h0m1-57h0m0 5h0m0 14h0m1-4h0m0 2h0m0 4h0m0 12h0m0 1h0m0 4h0m1-37h0m0 7h0m0 22h0m0 0h0m0 0h0m0 3h0m0 4h0m0 5h0m0 4h0m0 3h0m0 0h0m1-45h0m0 21h0m0 6h0m0 10h0m0 58h0m1-100h0m0 15h0m0 6h0m0 6h0m0 7h0m0 3h0m0 2h0m0 1h0m0 5h0m0 14h0m1-59h0m0 5h0m0 0h0m0 7h0m0 9h0m0 4h0m0 0h0m0 2h0m0 11h0m0 0h0m0 9h0m0 38h0m1-85h0m0 5h0m0 3h0m0 18h0m0 7h0m0 6h0m0 0h0m0 2h0m0 5h0m0 17h0m1-58h0m0 25h0m0 25h0m1-58h0m0 12h0m0 28h0m0 5h0m1-44h0m0 4h0m0 37h0m0 7h0m0 0h0m0 7h0m0 24h0m1-80h0m0 6h0m0 7h0m0 4h0m0 20h0m0 6h0m0 2h0m0 19h0m1-44h0m0 15h0m0 9h0m0 1h0m0 9h0m1-50h0m0 9h0m1-12h0m0 6h0m0 18h0m0 19h0m0 1h0m0 2h0m0 9h0m1-32h0m0 7h0m0 4h0m0 8h0m1 4h0m1-27h0m0 11h0m0 8h0m0 6h0m0 6h0m1-42h0m0 1h0m0 3h0m0 4h0m0 7h0m0 8h0m0 3h0m0 6h0m1-21h0m0 5h0m0 1h0m0 3h0m0 2h0m0 6h0m1-37h0m0 3h0m0 4h0m0 5h0m0 7h0m0 0h0m0 1h0m0 6h0m0 5h0m0 15h0m0 8h0m0 0h0m0 3h0m1-55h0m0 11h0m1-5h0m0 6h0m0 5h0m0 6h0m0 26h0m0 32h0m1-78h0m0 8h0m0 11h0m0 3h0m0 19h0m0 3h0m0 28h0m1-54h0m0 14h0m1-36h0m0 0h0m0 4h0m0 0h0m0 19h0m1-24h0m0 8h0m0 6h0m0 0h0m0 25h0m1-38h0m0 12h0m0 3h0m0 7h0m0 3h0m0 1h0m0 1h0m0 3h0m0 2h0m0 4h0m0 10h0m1-44h0m0 3h0m0 7h0m0 8h0m0 6h0m0 12h0m1-37h0m0 6h0m0 13h0m0 10h0m0 8h0m0 1h0m1-38h0m0 2h0m0 32h0m0 21h0m1-51h0m0 1h0m0 7h0m0 5h0m0 7h0m0 0h0m0 4h0m0 14h0m1-37h0m0 1h0m0 21h0m0 9h0m1-24h0m0 0h0m0 14h0m0 4h0m0 2h0m1-32h0m0 3h0m0 22h0m0 3h0m0 0h0m0 1h0m0 10h0m0 4h0m0 7h0m0 3h0m1-42h0m0 6h0m0 2h0m0 2h0m0 29h0m1-51h0m0 8h0m0 10h0m0 14h0m0 0h0m0 4h0m0 4h0m1-37h0m0 3h0m0 8h0m0 6h0m0 8h0m0 23h0m1-46h0m0 11h0m0 27h0m1-35h0m0 11h0m0 9h0m0 15h0m0 3h0m1-47h0m0 37h0m0 5h0m1-35h0m0 3h0m0 6h0m0 4h0m0 23h0m0 4h0m1-44h0m0 14h0m0 4h0m0 15h0m0 12h0m0 10h0m0 27h0m1-70h0m0 9h0m0 5h0m0 9h0m0 14h0m1-45h0m0 5h0m0 17h0m0 3h0m0 1h0m0 4h0m0 0h0m0 18h0m1-51h0m0 19h0m0 0h0m0 17h0m1-36h0m0 4h0m0 15h0m0 4h0m1-20h0m0 2h0m0 14h0m0 14h0m0 0h0m0 4h0m1-33h0m0 14h0m0 5h0m0 6h0m0 8h0m0 7h0m1-46h0m0 0h0m0 2h0m0 5h0m0 12h0m0 3h0m0 2h0m0 14h0m0 13h0m1-51h0m0 4h0m0 5h0m0 0h0m0 4h0m0 4h0m0 6h0m0 1h0m0 14h0m1-13h0m0 3h0m0 12h0m0 8h0m1-35h0m0 2h0m0 4h0m0 12h0m0 1h0m1-30h0m0 12h0m0 8h0m0 6h0m0 4h0m0 8h0m0 4h0m0 16h0m1-60h0m0 1h0m0 1h0m0 10h0m0 2h0m0 15h0m0 3h0m1-31h0m0 12h0m0 16h0m0 9h0m0 11h0m1-46h0m0 35h0m1-37h0m0 1h0m0 13h0m0 1h0m0 2h0m0 2h0m0 1h0m0 2h0m0 1h0m0 1h0m1-14h0m0 5h0m0 6h0m0 5h0m0 3h0m0 37h0m1-51h0m0 21h0m0 3h0m1-29h0m0 0h0m0 1h0m0 11h0m0 1h0m0 6h0m0 19h0m0 0h0m1-46h0m0 1h0m0 5h0m0 3h0m0 1h0m0 19h0m0 0h0m0 1h0m0 0h0m0 12h0m0 2h0m1-42h0m0 10h0m0 10h0m0 4h0m0 1h0m0 2h0m0 0h0m0 1h0m0 3h0m0 1h0m1-30h0m0 6h0m0 1h0m0 3h0m0 9h0m0 5h0m0 12h0m1-37h0m0 26h0m1-22h0m0 28h0m1-35h0m0 7h0m0 12h0m0 22h0m1-33h0m0 8h0m0 4h0m0 3h0m0 4h0m1-30h0m0 19h0m0 1h0m0 2h0m0 5h0m1-26h0m0 33h0m0 3h0m1-34h0m0 1h0m0 2h0m0 7h0m0 3h0m1-12h0m0 4h0m0 15h0m0 6h0m0 18h0m1-42h0m0 6h0m0 10h0m0 3h0m0 2h0m0 10h0m0 15h0m1-42h0m0 1h0m0 6h0m0 4h0m0 2h0m0 5h0m0 7h0m0 2h0m1-31h0m0 13h0m0 6h0m0 19h0m0 3h0m0 4h0m0 3h0m1-52h0m0 1h0m0 14h0m0 3h0m0 4h0m0 6h0m0 5h0m0 5h0m0 0h0m0 10h0m0 0h0m0 7h0m1-46h0m0 12h0m0 1h0m0 4h0m1-27h0m0 24h0m0 0h0m0 11h0m0 4h0m0 19h0m1-59h0m0 9h0m0 1h0m0 8h0m0 7h0m0 1h0m0 3h0m1-28h0m0 18h0m0 4h0m0 6h0m0 14h0m1-44h0m0 14h0m0 1h0m0 16h0m0 10h0m0 8h0m1-14h0m0 0h0m0 2h0m0 6h0m1-41h0m0 15h0m0 1h0m0 7h0m0 19h0m1-21h0m0 18h0m1-28h0m0 1h0m0 0h0m1 1h0m0 42h0m1-53h0m0 4h0m0 7h0m0 17h0m0 3h0m1-23h0m0 24h0m0 4h0m1-26h0m0 4h0m0 10h0m0 5h0m0 0h0m1-32h0m0 2h0m0 2h0m0 1h0m0 28h0m0 6h0m0 7h0m0 9h0m1-46h0m0 1h0m0 1h0m0 2h0m0 7h0m0 15h0m0 4h0m0 8h0m1-39h0m0 4h0m0 16h0m1-27h0m0 9h0m0 19h0m0 2h0m0 1h0m1-18h0m0 1h0m0 3h0m0 3h0m0 9h0m0 3h0m0 1h0m0 18h0m1-39h0m0 4h0m0 26h0m1-40h0m0 7h0m0 3h0m0 13h0m0 0h0m0 1h0m0 3h0m0 1h0m0 3h0m1-28h0m0 2h0m0 0h0m0 1h0m0 0h0m0 1h0m0 19h0m0 2h0m0 10h0m1-28h0m0 2h0m0 1h0m0 0h0m0 3h0m0 0h0m0 5h0m0 11h0m0 5h0m1-40h0m0 2h0m0 6h0m0 0h0m0 1h0m0 2h0m0 4h0m0 6h0m0 12h0m0 4h0m0 2h0m0 3h0m1-30h0m0 3h0m0 3h0m0 1h0m0 1h0m1-17h0m0 2h0m0 11h0m0 10h0m0 17h0m1-44h0m0 1h0m0 12h0m0 1h0m0 4h0m0 4h0m1-2h0m0 0h0m0 4h0m0 8h0m1-30h0m0 3h0m0 0h0m0 13h0m0 8h0m0 12h0m0 1h0m1-37h0m0 16h0m0 21h0m1-35h0m0 1h0m0 4h0m0 7h0m0 18h0m1-30h0m0 11h0m0 13h0m0 4h0m0 7h0m0 19h0m0 9h0m1-60h0m0 3h0m0 22h0m1-28h0m0 1h0m0 1h0m0 2h0m0 11h0m0 9h0m0 11h0m1-36h0m0 2h0m0 19h0m0 2h0m0 11h0m0 10h0m1-46h0m0 2h0m0 17h0m0 8h0m0 10h0m1-29h0m0 3h0m0 6h0m0 2h0m0 6h0m1-14h0m0 0h0m0 10h0m0 7h0m0 10h0m0 17h0m1-53h0m0 6h0m0 0h0m0 1h0m0 3h0m0 6h0m0 7h0m0 9h0m1-19h0m0 18h0m0 9h0m0 2h0m1-39h0m0 2h0m0 29h0"/>
<path d="M83 229h0m10 139h0m1 34h0m1-27h0m0 55h0m2-16h0m2-84h0m0 29h0m0 62h0m1-124h0m2 76h0m1 62h0m2-230h0m0 167h0m0 13h0m2-1h0m1-35h0m11 13h0m1-22h0m3-17h0m2 8h0m1 38h0m1 0h0m1-63h0m0 59h0m0 6h0m5-63h0m0 47h0m1-43h0m2-32h0m1 1h0m2 26h0m0 25h0m1 5h0m2-40h0m4 40h0m1-21h0m0 2h0m1 14h0m1-56h0m3 28h0m0 2h0m2 32h0m1-51h0m1 6h0m0 27h0m3-47h0m0 25h0m0 8h0m0 38h0m3-50h0m2-13h0m1 30h0m2-44h0m0 62h0m3-1h0m1-36h0m0 15h0m3 37h0m1-59h0m1 16h0m0 3h0m1-30h0m0 0h0m2 55h0m2-46h0m0 7h0m1-23h0m0 36h0m1-3h0m5-35h0m0 67h0m1-45h0m1 34h0m5-17h0m1-19h0m1 1h0m1-19h0m1 32h0m1 6h0m2-30h0m1 41h0m0 4h0m1-27h0m0 16h0m4-33h0m2 30h0m6-29h0m1 24h0m3-3h0m1 6h0m3-2h0m3 6h0m3-44h0m4-23h0m0 11h0m0 5h0m1 7h0m1-9h0m2 27h0m0 25h0m1-76h0m0 11h0m0 71h0m2-18h0m2-37h0m1-21h0m0 27h0m1-26h0m2-2h0m0 32h0m2-27h0m1-8h0m0 40h0m0 26h0m1-51h0m0 21h0m1-19h0m0 2h0m0 7h0m2-20h0m1-2h0m0 17h0m2-25h0m0 25h0m2-15h0m0 3h0m0 6h0m2 20h0m0 26h0m3-32h0m0 49h0m3-58h0m0 14h0m2-31h0m0 10h0m0 3h0m0 9h0m2-18h0m0 11h0m2-19h0m3 21h0m0 7h0m0 3h0m2-28h0m0 24h0m4-15h0m1 50h0m1-43h0m1 20h0m0 11h0m2-32h0m0 37h0m1-33h0m1-4h0m1 11h0m5-8h0m1 18h0m1-35h0m0 27h0m1-6h0m0 9h0m1-25h0m0 5h0m1 21h0m1 2h0m2-36h0m0 3h0m5 8h0m0 13h0m1-1h0m1-27h0m1 5h0m0 11h0m1-13h0m0 12h0m1-2h0m0 9h0m1-12h0m2-3h0m2-7h0m0 25h0m0 6h0m3-22h0m4 4h0m2-14h0m1 2h0m0 4h0m0 3h0m0 12h0m0 7h0m1 2h0m1-17h0m1 3h0m0 22h0m1-20h0m0 10h0m1-24h0m1 2h0m0 23h0m1-25h0m0 7h0m2-9h0m0 29h0m1-18h0m1 7h0m2 18h0m1-27h0m0 2h0m0 5h0m0 44h0m2-60h0m0 26h0m1-21h0m1-44h0m0 20h0m0 45h0m0 8h0m1-32h0m0 17h0m2-59h0m0 5h0m0 46h0m1 9h0m1-22h0m0 12h0m2-40h0m0 40h0m0 26h0m1-72h0m1 2h0m0 45h0m0 8h0m1-49h0m0 5h0m1 9h0m1-8h0m0 13h0m1 10h0m1-27h0m0 8h0m0 1h0m2-12h0m1 27h0m1-29h0m0 30h0m0 4h0m0 1h0m1-32h0m1 4h0m1 27h0m1-18h0m1 0h0m1-9h0m0 1h0m0 7h0m1 6h0m1-21h0m1 2h0m2 24h0m0 1h0m1-21h0m1 31h0m1-12h0m1-22h0m0 29h0m1-24h0m0 3h0m0 8h0m0 23h0m1-28h0m1-19h0m0 15h0m0 18h0m1-30h0m0 9h0m0 0h0m1 9h0m1 8h0m0 22h0m1-49h0m0 41h0m2-4h0m1-31h0m0 6h0m0 10h0m0 8h0m0 21h0m0 2h0m1-28h0m0 6h0m1-30h0m0 0h0m0 16h0m1-16h0m0 41h0m1-15h0m1-8h0m0 1h0m0 2h0m2-7h0m0 15h0m0 2h0m3-32h0m0 29h0m1 1h0m2-14h0m1 2h0m0 18h0m2-37h0m0 15h0m0 32h0m1-34h0m0 16h0m0 0h0m1-23h0m0 13h0m0 4h0m0 41h0m1-31h0m0 5h0m1 5h0m1-42h0m0 19h0m1 1h0m0 4h0m1-11h0m0 2h0m0 17h0m1-10h0m0 15h0m1-37h0m0 29h0m1-18h0m0 21h0m1-10h0m0 4h0m1-19h0m0 10h0m0 6h0m0 1h0m0 7h0m1-31h0m1 9h0m1-12h0m0 8h0m0 2h0m0 5h0m0 4h0m0 0h0m0 16h0m1-12h0m1 6h0m0 7h0m0 6h0m0 14h0m2-37h0m0 4h0m0 12h0m1-16h0m1-11h0m0 26h0m1-24h0m1 9h0m1-6h0m1-1h0m0 6h0m1-5h0m0 3h0m0 6h0m0 54h0m2-44h0m2-2h0m1-15h0m0 5h0m0 11h0m1-12h0m1-6h0m0 23h0m2-29h0m0 23h0m0 2h0m1-26h0m0 2h0m0 1h0m0 34h0m1-34h0m0 2h0m1-11h0m0 26h0m1-21h0m0 5h0m0 2h0m0 2h0m0 4h0m1-1h0m0 22h0m1-37h0m0 9h0m0 4h0m1 8h0m0 14h0m0 5h0m1-43h0m0 10h0m0 0h0m0 7h0m0 22h0m1-37h0m0 15h0m1-14h0m0 10h0m1-5h0m0 7h0m1-15h0m0 16h0m0 1h0m0 11h0m0 1h0m1 0h0m2 17h0m1-39h0m0 4h0m1 9h0m1-19h0m0 11h0m0 31h0m1-22h0m1-19h0m0 16h0m1-11h0m0 1h0m0 12h0m1-19h0m0 16h0m1-31h0m0 9h0m0 9h0m0 3h0m0 3h0m0 4h0m1-35h0m0 4h0m0 13h0m0 7h0m0 30h0m1-59h0m0 3h0m0 39h0m1-42h0m0 41h0m0 4h0m1-45h0m0 17h0m0 1h0m0 10h0m0 17h0m0 10h0m1-52h0m0 23h0m0 6h0m0 6h0m0 0h0m0 11h0m1-48h0m0 2h0m0 1h0m0 16h0m0 14h0m0 11h0m0 9h0m1-54h0m0 6h0m0 13h0m0 1h0m0 4h0m0 9h0m0 9h0m1-41h0m0 30h0m0 0h0m0 3h0m0 7h0m1-32h0m0 11h0m0 2h0m0 4h0m0 1h0m0 0h0m0 1h0m0 20h0m1-42h0m0 12h0m0 11h0m0 11h0m0 5h0m0 12h0m1-44h0m0 6h0m0 7h0m0 6h0m0 28h0m1-41h0m0 30h0m1-43h0m0 28h0m0 53h0m1-80h0m0 20h0m0 4h0m0 5h0m0 6h0m1-38h0m0 13h0m0 6h0m0 7h0m0 6h0m0 6h0m0 9h0m0 24h0m1-34h0m1-36h0m0 0h0m0 17h0m0 11h0m0 9h0m0 1h0m0 8h0m1-48h0m0 2h0m0 37h0m0 12h0m0 22h0m1-73h0m0 12h0m0 21h0m0 8h0m1-19h0m1-22h0m0 0h0m0 22h0m0 2h0m1-18h0m0 3h0m0 10h0m0 4h0m0 40h0m1-65h0m0 10h0m0 8h0m0 14h0m1-22h0m1 11h0m0 11h0m1-33h0m0 10h0m0 6h0m0 23h0m0 4h0m0 18h0m1-57h0m0 5h0m0 1h0m0 11h0m0 9h0m0 22h0m1-49h0m0 18h0m0 2h0m0 6h0m0 8h0m0 7h0m1-45h0m0 8h0m0 6h0m0 5h0m0 31h0m1-46h0m0 7h0m0 17h0m0 4h0m0 0h0m0 11h0m1-41h0m0 8h0m0 2h0m0 3h0m0 13h0m1-26h0m1 4h0m0 18h0m0 2h0m0 59h0m1-75h0m0 4h0m0 14h0m0 9h0m1-23h0m0 8h0m0 3h0m1 8h0m0 9h0m0 10h0m1-46h0m0 1h0m0 4h0m0 4h0m0 20h0m0 7h0m0 9h0m1-50h0m0 0h0m0 23h0m0 14h0m0 1h0m1-37h0m0 22h0m1-4h0m0 21h0m0 6h0m0 3h0m1-47h0m0 5h0m0 1h0m0 27h0m0 12h0m1-46h0m0 12h0m0 11h0m0 3h0m0 3h0m0 6h0m1-23h0m0 11h0m0 9h0m1-14h0m0 8h0m1-20h0m0 3h0m0 9h0m0 17h0m1-31h0m0 1h0m0 11h0m0 6h0m0 0h0m1-12h0m0 103h0m1-112h0m0 3h0m0 16h0m0 1h0m0 4h0m0 4h0m0 36h0m1-42h0m0 7h0m1-19h0m0 6h0m0 4h0m0 0h0m0 11h0m0 3h0m0 2h0m1-37h0m0 1h0m0 11h0m0 27h0m1-17h0m1-6h0m0 1h0m0 2h0m0 3h0m0 2h0m0 19h0m0 6h0m1-45h0m0 2h0m0 2h0m0 13h0m0 4h0m0 4h0m0 14h0m1-41h0m0 2h0m1 6h0m0 16h0m0 8h0m1-32h0m0 4h0m0 18h0m0 5h0m0 0h0m0 8h0m0 1h0m0 1h0m0 1h0m0 49h0m1-77h0m0 4h0m0 5h0m0 7h0m1-11h0m0 1h0m1-13h0m0 6h0m0 3h0m0 2h0m0 3h0m0 0h0m0 5h0m0 1h0m0 6h0m0 2h0m1-31h0m0 17h0m0 0h0m0 1h0m0 8h0m0 3h0m1-27h0m0 1h0m0 9h0m0 1h0m0 30h0m0 6h0m1-51h0m0 8h0m0 5h0m0 16h0m0 5h0m0 3h0m1-37h0m0 5h0m0 6h0m0 10h0m0 1h0m0 2h0m0 7h0m0 3h0m0 1h0m1-26h0m0 5h0m1-10h0m0 2h0m0 4h0m0 10h0m0 1h0m1-23h0m0 3h0m0 10h0m0 11h0m1-21h0m0 9h0m0 17h0m0 10h0m1-21h0m0 31h0m1-42h0m0 1h0m0 24h0m1-24h0m0 2h0m0 10h0m0 6h0m0 12h0m0 1h0m0 2h0m0 3h0m0 1h0m1-39h0m0 1h0m0 23h0m0 3h0m1-13h0m0 3h0m0 3h0m0 1h0m1-8h0m0 2h0m0 8h0m0 3h0m0 15h0m1-16h0m1-12h0m0 2h0m0 5h0m0 2h0m0 8h0m0 2h0m0 5h0m1-42h0m0 11h0m0 1h0m0 1h0m0 13h0m0 8h0m0 1h0m1-35h0m0 10h0m0 19h0m0 10h0m0 23h0m1-47h0m0 8h0m0 9h0m1-23h0m0 9h0m0 0h0m0 9h0m0 2h0m0 6h0m1-35h0m0 16h0m0 18h0m1-11h0m0 6h0m1-12h0m0 7h0m1-12h0m0 2h0m0 16h0m0 1h0m1-29h0m0 27h0m0 0h0m0 1h0m1-19h0m0 7h0m0 6h0m0 8h0m0 27h0m1-56h0m0 10h0m0 6h0m0 26h0m1-43h0m0 0h0m0 5h0m0 18h0m0 0h0m0 3h0m0 20h0m1-46h0m0 6h0m0 20h0m0 3h0m0 25h0m1-51h0m0 3h0m0 7h0m0 0h0m0 4h0m0 3h0m1 1h0m0 23h0m1-47h0m0 7h0m0 2h0m0 4h0m0 5h0m0 2h0m0 2h0m0 6h0m0 23h0m1-41h0m0 12h0m1-21h0m0 1h0m0 4h0m0 0h0m0 11h0m0 1h0m0 9h0m0 7h0m1-30h0m0 1h0m0 6h0m0 9h0m0 14h0m1-33h0m0 5h0m0 5h0m0 2h0m0 20h0m0 2h0m0 6h0m0 2h0m0 8h0m1-30h0m0 8h0m1-20h0m0 5h0m0 3h0m0 13h0m1-26h0m0 17h0m0 2h0m0 3h0m0 13h0m1-37h0m0 13h0m0 41h0m1-48h0m0 41h0m1-36h0m0 28h0m0 4h0m1-44h0m0 43h0m1-39h0m0 4h0m0 10h0m0 15h0m1-34h0m0 25h0m0 1h0m1-25h0m0 8h0m0 2h0m0 5h0m0 6h0m0 24h0m1-43h0m0 4h0m0 2h0m0 14h0m1-12h0m0 11h0m0 7h0m0 11h0m1-37h0m0 1h0m0 2h0m0 6h0m1-10h0m0 6h0m0 8h0m0 0h0m0 7h0m0 1h0m1-11h0m0 4h0m1 14h0m1-21h0m0 8h0m0 4h0m1-17h0m0 5h0m0 4h0m0 0h0m1-4h0m0 2h0m0 3h0m0 7h0m1 4h0m1-1h0m0 6h0m1-30h0m0 1h0m0 19h0m0 5h0m0 0h0m0 4h0m1-48h0m0 0h0m0 3h0m0 8h0m0 2h0m0 19h0m0 5h0m1-38h0m0 2h0m0 13h0m0 8h0m0 26h0m0 12h0m1-66h0m0 1h0m0 19h0m0 6h0m0 8h0m0 10h0m0 3h0m0 33h0m1-72h0m0 5h0m0 14h0m1-18h0m0 5h0m0 7h0m0 2h0m0 3h0m0 6h0m0 1h0m0 20h0m1-31h0m0 2h0m0 3h0m0 7h0m0 62h0m1-95h0m0 9h0m0 18h0m0 7h0m0 15h0m1-51h0m0 6h0m0 19h0m0 0h0m0 14h0m0 2h0m0 54h0m1-90h0m0 29h0m0 1h0m0 1h0m0 2h0m0 1h0m0 3h0m0 4h0m1-42h0m0 50h0m1-43h0m0 21h0m0 5h0m0 30h0m1-62h0m0 18h0m0 14h0m0 1h0m0 9h0m0 0h0m1-33h0m0 21h0m0 17h0m0 0h0m1-43h0m0 6h0m0 13h0m0 0h0m0 5h0m0 14h0m1-39h0m0 8h0m0 4h0m0 9h0m0 5h0m0 2h0m0 10h0m0 2h0m1-46h0m0 6h0m0 53h0m0 5h0m1-61h0m0 7h0m0 19h0m0 1h0m0 12h0m0 6h0m0 3h0m0 15h0m1-42h0m1 2h0m0 2h0m0 5h0m1-31h0m0 14h0m0 14h0m0 25h0m1-48h0m0 11h0m0 4h0m0 7h0m0 2h0m0 10h0m1-42h0m0 29h0m0 6h0m0 9h0m1-44h0m0 3h0m0 4h0m0 10h0m0 2h0m0 12h0m0 2h0m0 16h0m0 1h0m1-38h0m0 5h0m0 0h0m0 7h0m0 14h0m0 10h0m1-46h0m0 9h0m0 8h0m0 1h0m0 37h0m0 8h0m1-64h0m0 3h0m0 2h0m0 8h0m0 0h0m0 6h0m0 3h0m0 4h0m0 12h0m1-32h0m0 22h0m0 15h0m1-30h0m0 1h0m0 1h0m0 2h0m0 8h0m0 3h0m0 31h0m1-59h0m0 9h0m0 18h0m0 24h0m1-54h0m0 3h0m0 4h0m0 6h0m0 17h0m0 3h0m0 3h0m0 9h0m1-30h0m0 14h0m0 10h0m0 3h0m1-36h0m0 8h0m0 10h0m0 8h0m0 6h0m0 5h0m0 7h0m0 2h0m1-40h0m0 1h0m0 21h0m0 2h0m0 0h0m1-25h0m0 12h0m0 9h0m0 1h0m0 10h0m0 6h0m1-44h0m0 8h0m0 8h0m0 6h0m0 1h0m0 6h0m0 14h0m1-43h0m0 16h0m0 2h0m0 7h0m1-25h0m0 5h0m0 2h0m0 25h0m0 14h0m0 5h0m1-53h0m0 3h0m0 13h0m0 9h0m0 9h0m0 13h0m1-27h0m1-17h0m0 3h0m0 4h0m0 4h0m0 17h0m0 3h0m0 16h0m1-41h0m0 0h0m0 11h0m0 8h0m0 6h0m0 1h0m1-36h0m0 1h0m0 12h0m0 9h0m0 3h0m0 6h0m0 1h0m0 10h0m1-42h0m0 2h0m0 5h0m0 17h0m0 4h0m0 3h0m1-24h0m0 9h0m0 3h0m0 6h0m0 15h0m0 1h0m1-13h0m0 0h0m0 4h0m0 5h0m1-31h0m0 5h0m0 0h0m0 3h0m0 9h0m0 3h0m0 21h0m0 5h0m1-52h0m0 9h0m0 18h0m0 27h0m1-56h0m0 6h0m0 1h0m0 2h0m0 9h0m0 3h0m0 10h0m0 7h0m1-37h0m0 3h0m0 10h0m0 10h0m0 8h0m0 2h0m1-29h0m0 27h0m0 3h0m0 3h0m0 14h0m1-49h0m0 4h0m0 5h0m0 11h0m0 14h0m0 7h0m0 1h0m1-37h0m0 0h0m0 18h0m0 14h0m0 2h0m1-37h0m0 18h0m0 1h0m0 11h0m0 3h0m0 8h0m1-42h0m0 4h0m0 22h0m0 11h0m1-27h0m0 1h0m0 1h0m0 2h0m0 2h0m0 23h0m0 2h0m1-37h0m0 1h0m0 9h0m0 4h0m0 10h0m0 2h0m0 1h0m0 9h0m1-39h0m0 12h0m0 15h0m0 4h0m0 15h0m1-51h0m0 2h0m0 4h0m0 16h0m0 8h0m0 1h0m0 0h0m0 1h0m0 3h0m1-4h0m0 17h0m1-46h0m0 0h0m0 2h0m0 11h0m0 9h0m0 6h0m0 28h0m1-54h0m0 7h0m0 16h0m0 5h0m0 13h0m1-40h0m0 8h0m0 0h0m0 1h0m0 7h0m0 3h0m0 0h0m0 17h0m0 12h0m1-53h0m0 17h0m0 2h0m0 2h0m0 0h0m0 18h0m0 1h0m1-38h0m0 6h0m0 15h0m0 3h0m1-13h0m0 10h0m0 7h0m0 2h0m1-29h0m0 22h0m0 6h0m0 1h0m0 19h0m1-48h0m0 0h0m0 16h0m0 1h0m0 7h0m0 0h0m1-27h0m0 7h0m0 8h0m0 0h0m0 20h0m0 1h0m1-36h0m0 4h0m0 1h0m0 2h0m0 4h0m0 4h0m0 1h0m0 12h0m0 9h0m0 23h0m1-56h0m0 2h0m0 7h0m0 3h0m0 6h0m0 12h0m0 0h0m0 5h0m0 10h0m1-34h0m0 13h0m0 8h0m0 2h0m1-37h0m0 2h0m0 1h0m0 6h0m0 17h0m0 9h0m0 2h0m1-37h0m0 5h0m0 18h0m0 0h0m0 5h0m0 2h0m0 11h0m0 1h0m0 18h0m1-59h0m0 10h0m0 17h0m1-21h0m0 7h0m0 6h0m0 5h0m0 4h0m0 2h0m0 6h0m1-18h0m0 16h0m1-30h0m0 12h0m0 12h0m0 0h0m0 35h0m1-63h0m0 2h0m0 0h0m0 2h0m0 15h0m0 4h0m0 6h0m0 10h0m0 2h0m0 4h0m1-38h0m0 8h0m0 1h0m0 12h0m0 7h0m0 9h0m0 2h0m0 2h0m1-44h0m0 0h0m0 1h0m0 5h0m0 4h0m0 3h0m0 2h0m0 13h0m0 2h0m0 2h0m1-37h0m0 2h0m0 5h0m0 10h0m0 17h0m1-28h0m0 7h0m0 4h0m0 4h0m0 2h0m0 6h0m1-21h0m0 4h0m0 7h0m0 6h0m0 7h0m1-26h0m0 3h0m0 1h0m0 2h0m0 6h0m0 2h0m0 2h0m0 10h0m0 4h0m0 9h0m1-37h0m0 4h0m0 5h0m0 5h0m0 13h0m0 6h0m1-39h0m0 2h0m0 11h0m0 2h0m0 6h0m0 10h0m0 8h0m1-39h0m0 20h0m0 12h0m1-31h0m0 3h0m0 1h0m0 3h0m0 1h0m0 7h0m0 3h0m0 13h0m0 5h0m0 0h0m1-36h0m0 14h0m0 4h0m0 6h0m0 14h0m0 1h0m1-34h0m0 6h0m0 16h0m0 15h0m1-21h0m0 8h0m0 1h0m1-30h0m0 2h0m0 6h0m0 3h0m0 2h0m0 10h0m0 9h0m0 4h0m0 0h0m0 3h0m1-43h0m0 5h0m0 2h0m0 1h0m0 11h0m0 0h0m0 0h0m0 3h0m0 1h0m1-18h0m0 10h0m0 6h0m0 11h0m1-30h0m0 0h0m0 1h0m0 8h0m0 0h0m0 2h0m0 18h0m0 1h0m0 2h0m1-32h0m0 4h0m0 6h0m0 1h0m0 2h0m0 8h0m0 9h0m0 5h0m0 20h0m1-54h0m0 3h0m0 6h0m0 1h0m0 11h0m0 1h0m0 0h0m0 0h0m0 7h0m1-28h0m0 1h0m0 10h0m0 2h0m0 14h0m0 9h0m0 1h0m1-41h0m0 7h0m0 1h0m0 2h0m0 18h0m0 3h0m1-10h0m0 2h0m0 6h0m0 1h0m0 12h0m0 2h0m1-37h0m0 7h0m0 17h0m0 15h0m0 2h0m1-23h0m0 4h0m0 0h0m0 14h0m0 0h0m1-39h0m0 23h0m0 7h0m0 21h0m1-41h0m0 6h0m0 3h0m0 9h0m0 11h0m0 3h0m1-42h0m0 7h0m0 6h0m0 21h0m1-21h0m0 4h0m0 1h0m0 10h0m0 3h0m1-34h0m0 5h0m0 2h0m0 17h0m0 5h0m0 1h0m0 7h0m0 5h0m1-36h0m0 3h0m0 2h0m0 2h0m0 3h0m0 8h0m0 4h0m0 2h0m0 7h0m0 14h0m0 5h0m1-54h0m0 16h0m0 5h0m0 8h0m0 2h0m1-32h0m0 2h0m0 4h0m0 3h0m0 6h0m0 3h0m0 0h0m0 27h0m1-40h0m0 0h0m0 2h0m0 1h0m0 0h0m0 6h0m0 9h0m0 2h0m0 1h0m0 1h0m0 11h0m1-32h0m0 8h0m0 28h0m1-29h0m0 6h0m0 14h0m0 8h0m1-40h0m0 4h0m0 7h0m0 20h0m1-19h0m0 9h0m0 0h0m0 4h0m0 19h0m1-45h0m0 9h0m0 4h0m0 10h0m0 9h0m0 18h0m1-38h0"/>
<path d="M90 367h0m2-3h0m0 34h0m2 6h0m0 16h0m0 14h0m0 2h0m0 0h0m2-66h0m0 5h0m0 22h0m0 29h0m1 12h0m1 13h0m2-127h0m0 117h0m2-254h0m1 106h0m1 152h0m4-183h0m2-35h0m0 114h0m2 9h0m1-19h0m0 42h0m1 2h0m4-37h0m0 22h0m3-199h0m0 122h0m3 77h0m1-41h0m1 55h0m3-20h0m1-8h0m2-53h0m1 8h0m0 46h0m4-9h0m2-36h0m1 14h0m0 10h0m0 3h0m0 52h0m1-35h0m1-39h0m2-11h0m0 9h0m2-21h0m1-11h0m1 18h0m2 3h0m1-8h0m0 7h0m0 51h0m1-36h0m1-11h0m6-30h0m0 69h0m1-16h0m1-22h0m0 11h0m1-31h0m1 22h0m1-12h0m2-1h0m1-2h0m1 51h0m5-53h0m0 19h0m1-10h0m1 22h0m1-27h0m1-11h0m1-5h0m0 16h0m0 16h0m2-33h0m0 4h0m0 4h0m0 39h0m2-23h0m0 9h0m1-30h0m1 34h0m2 26h0m1-47h0m0 9h0m5-12h0m0 2h0m0 0h0m2-1h0m0 5h0m1 4h0m0 20h0m3-46h0m0 4h0m1 8h0m2 21h0m3 7h0m3-20h0m4 40h0m5-14h0m5-21h0m0 9h0m7-65h0m2 37h0m1-31h0m0 47h0m1-8h0m2-9h0m3-41h0m0 44h0m1-7h0m2-24h0m1-7h0m1-1h0m0 23h0m2 9h0m1 7h0m2-38h0m0 8h0m4 36h0m1-51h0m0 26h0m1-17h0m0 16h0m2-21h0m1-6h0m1 11h0m1 12h0m1-3h0m1 10h0m3-19h0m0 1h0m1 14h0m1-15h0m0 43h0m2-23h0m2-26h0m0 23h0m2 51h0m1-43h0m1-16h0m1-5h0m1-7h0m2-1h0m0 18h0m2-23h0m1 12h0m1 3h0m2-3h0m1-4h0m3-3h0m0 37h0m1-38h0m1 12h0m0 10h0m0 15h0m0 10h0m1-20h0m1-21h0m1 3h0m4 10h0m3 22h0m1-31h0m0 2h0m1-3h0m0 19h0m1-28h0m1 36h0m1-38h0m0 12h0m1 0h0m0 22h0m1-37h0m1 23h0m1 16h0m1-39h0m1 0h0m0 0h0m0 14h0m1-4h0m1-2h0m2-3h0m1 55h0m1-26h0m3-28h0m1 14h0m2-1h0m0 6h0m0 19h0m2-16h0m4-17h0m1-9h0m4-2h0m1 11h0m1-1h0m0 14h0m0 0h0m0 3h0m1-15h0m3-7h0m0 7h0m0 10h0m1-7h0m1-1h0m0 7h0m1-9h0m0 3h0m1-2h0m0 8h0m1-10h0m1 2h0m1-49h0m1 1h0m0 33h0m0 29h0m1-39h0m0 20h0m1-36h0m0 7h0m2 6h0m0 83h0m1-95h0m2-8h0m1 11h0m2 28h0m0 11h0m1-18h0m1 14h0m1-31h0m0 30h0m1-45h0m0 2h0m0 20h0m0 7h0m1-10h0m0 10h0m1 28h0m1-42h0m0 15h0m1-26h0m0 8h0m0 13h0m0 15h0m1-16h0m1-18h0m0 13h0m1-17h0m0 28h0m0 36h0m1-58h0m0 21h0m0 1h0m0 3h0m0 3h0m0 1h0m1-22h0m1-1h0m0 27h0m1-27h0m0 25h0m0 21h0m2-57h0m0 9h0m1-16h0m1 9h0m0 6h0m0 23h0m1-27h0m0 37h0m1-6h0m1-42h0m0 25h0m2-23h0m0 5h0m1-2h0m1 40h0m1-35h0m0 21h0m1-26h0m0 8h0m0 6h0m0 8h0m0 2h0m0 12h0m1-3h0m1-17h0m0 8h0m1-23h0m0 1h0m0 0h0m1 21h0m0 1h0m1-12h0m1-2h0m0 11h0m0 20h0m1-31h0m1 18h0m2-21h0m1 10h0m0 30h0m1-25h0m1-8h0m1 3h0m0 5h0m0 7h0m1-26h0m0 19h0m2-14h0m1-10h0m0 9h0m0 4h0m0 14h0m1-23h0m0 23h0m0 12h0m0 14h0m1-34h0m0 24h0m1-28h0m0 9h0m0 16h0m1-41h0m0 5h0m1 17h0m0 15h0m2-3h0m2-33h0m0 3h0m0 1h0m0 8h0m0 0h0m0 21h0m2-24h0m0 32h0m1-41h0m0 10h0m0 4h0m2-10h0m0 22h0m2 3h0m1-25h0m0 8h0m1 4h0m0 17h0m1-23h0m0 10h0m0 1h0m0 19h0m1-32h0m0 6h0m1-2h0m2-14h0m0 22h0m0 27h0m1-32h0m1 19h0m2-5h0m1-7h0m1 26h0m1-48h0m0 12h0m0 11h0m1-11h0m0 5h0m0 2h0m1-21h0m0 17h0m1-13h0m2 22h0m2-11h0m0 3h0m1-5h0m1 3h0m1 4h0m1-15h0m0 3h0m0 5h0m0 4h0m1 3h0m0 15h0m1-20h0m0 11h0m1-24h0m0 12h0m0 31h0m1-32h0m2-8h0m1-6h0m0 0h0m0 8h0m0 12h0m0 9h0m1 9h0m1-34h0m0 43h0m2-42h0m1 19h0m1-12h0m0 13h0m2-15h0m0 2h0m0 17h0m1-23h0m0 0h0m0 12h0m0 8h0m1-23h0m0 6h0m0 12h0m1 2h0m1-45h0m0 7h0m0 23h0m0 10h0m0 16h0m1-60h0m0 35h0m0 1h0m0 23h0m1-53h0m0 9h0m0 5h0m0 0h0m0 16h0m0 9h0m0 28h0m1-72h0m0 6h0m0 33h0m0 5h0m0 4h0m0 9h0m1-51h0m0 7h0m0 3h0m0 10h0m0 1h0m0 1h0m0 40h0m1-56h0m0 4h0m0 0h0m0 6h0m0 3h0m0 2h0m0 0h0m0 1h0m0 14h0m0 4h0m1-32h0m1 4h0m0 10h0m1-23h0m0 34h0m0 8h0m1-48h0m0 17h0m0 0h0m0 4h0m0 2h0m1-16h0m0 14h0m0 3h0m1 32h0m1-37h0m0 3h0m0 5h0m0 12h0m0 13h0m1-39h0m1-12h0m0 8h0m0 7h0m0 2h0m0 21h0m0 19h0m1-57h0m0 4h0m0 20h0m0 0h0m0 3h0m0 6h0m0 4h0m1 0h0m0 2h0m1-16h0m0 7h0m0 8h0m0 0h0m0 9h0m1-49h0m0 4h0m0 14h0m1-15h0m0 6h0m0 12h0m0 17h0m0 10h0m0 5h0m1-43h0m0 0h0m0 4h0m0 5h0m0 4h0m0 11h0m0 7h0m1-33h0m0 6h0m0 8h0m0 21h0m0 69h0m1-107h0m0 6h0m0 21h0m0 2h0m0 19h0m1-49h0m0 7h0m0 1h0m0 1h0m0 2h0m0 14h0m0 2h0m1-30h0m0 17h0m0 14h0m0 21h0m0 2h0m1-44h0m0 22h0m1-13h0m0 5h0m0 19h0m0 11h0m1-46h0m0 20h0m0 0h0m0 8h0m0 4h0m1-32h0m0 18h0m0 17h0m1-6h0m0 13h0m1-44h0m0 10h0m0 2h0m0 4h0m0 1h0m0 27h0m1-49h0m0 16h0m0 15h0m0 10h0m0 8h0m1-49h0m0 5h0m0 1h0m0 7h0m0 11h0m0 4h0m0 1h0m0 23h0m1-36h0m0 0h0m1-15h0m0 9h0m0 6h0m0 3h0m0 31h0m0 11h0m1-56h0m0 14h0m0 4h0m0 1h0m0 1h0m0 10h0m0 7h0m0 1h0m0 2h0m1-44h0m0 16h0m0 11h0m0 5h0m1-29h0m0 18h0m0 11h0m0 8h0m1-32h0m0 1h0m0 12h0m0 5h0m0 8h0m1-33h0m0 4h0m0 1h0m0 17h0m0 2h0m0 12h0m1-40h0m0 17h0m0 5h0m0 5h0m0 2h0m1-13h0m0 11h0m0 1h0m0 8h0m0 16h0m1-50h0m0 18h0m0 3h0m0 11h0m0 23h0m1-45h0m0 5h0m0 19h0m0 7h0m1-41h0m0 5h0m0 3h0m0 9h0m0 3h0m1 36h0m1-57h0m0 4h0m0 1h0m0 11h0m0 2h0m0 35h0m1-43h0m0 8h0m0 2h0m0 5h0m0 0h0m0 1h0m0 0h0m0 5h0m0 1h0m0 12h0m1-28h0m1-12h0m0 30h0m0 6h0m0 3h0m1-37h0m0 2h0m0 38h0m1-43h0m0 26h0m0 1h0m0 0h0m0 1h0m0 9h0m1-40h0m0 6h0m0 3h0m0 0h0m0 8h0m0 13h0m0 2h0m1-21h0m0 5h0m0 14h0m0 5h0m1-34h0m0 9h0m0 4h0m0 8h0m0 1h0m0 2h0m0 8h0m1-28h0m0 13h0m0 5h0m0 3h0m0 0h0m1-16h0m0 10h0m0 23h0m1-39h0m0 38h0m1-38h0m0 4h0m0 14h0m0 8h0m1-27h0m0 10h0m0 3h0m0 3h0m0 14h0m0 14h0m1-46h0m0 19h0m0 1h0m0 3h0m0 12h0m1-31h0m0 2h0m0 18h0m0 11h0m0 21h0m0 1h0m1-50h0m0 17h0m1-22h0m0 5h0m0 4h0m0 5h0m0 4h0m0 4h0m1-24h0m0 1h0m0 0h0m0 3h0m0 5h0m0 1h0m0 8h0m0 14h0m0 2h0m0 22h0m1-54h0m0 22h0m1-24h0m0 1h0m0 9h0m0 0h0m0 5h0m0 1h0m0 16h0m0 6h0m0 29h0m2-49h0m0 6h0m0 2h0m0 4h0m0 8h0m1-37h0m0 24h0m0 1h0m0 7h0m0 1h0m0 0h0m1-11h0m0 4h0m0 40h0m1-63h0m0 12h0m0 2h0m0 28h0m0 15h0m1-32h0m0 9h0m1-20h0m0 0h0m0 6h0m0 17h0m1-5h0m1-32h0m1-2h0m0 17h0m1-13h0m0 22h0m0 0h0m0 21h0m1-48h0m0 16h0m0 7h0m0 0h0m0 3h0m0 7h0m1-9h0m0 26h0m1-53h0m0 6h0m0 2h0m0 9h0m0 0h0m0 8h0m0 9h0m0 8h0m1-32h0m0 1h0m0 0h0m0 3h0m0 19h0m1-29h0m0 11h0m0 25h0m0 4h0m1-35h0m0 19h0m0 5h0m0 2h0m1-24h0m0 11h0m0 9h0m0 3h0m0 13h0m0 11h0m1-52h0m0 39h0m1-41h0m0 3h0m0 2h0m0 3h0m0 14h0m0 8h0m0 1h0m1-35h0m0 4h0m0 1h0m0 7h0m0 1h0m0 3h0m0 8h0m0 20h0m1-38h0m0 28h0m1-28h0m0 0h0m0 3h0m0 16h0m0 2h0m0 24h0m0 30h0m1-73h0m0 5h0m0 10h0m0 1h0m0 1h0m0 6h0m1-17h0m0 15h0m0 0h0m1-27h0m0 9h0m0 6h0m0 3h0m1-19h0m0 1h0m0 8h0m0 4h0m0 6h0m1-15h0m0 1h0m0 12h0m0 3h0m0 2h0m0 12h0m1-33h0m0 6h0m0 3h0m0 15h0m1 4h0m0 3h0m1-33h0m1 21h0m0 16h0m1-36h0m0 2h0m0 11h0m0 8h0m0 8h0m2-15h0m0 4h0m0 0h0m0 1h0m0 9h0m0 4h0m1-24h0m0 16h0m0 2h0m0 13h0m1-36h0m0 2h0m0 15h0m0 16h0m0 1h0m1-33h0m0 5h0m0 4h0m0 5h0m0 8h0m1-19h0m0 5h0m1-9h0m0 11h0m0 4h0m0 0h0m0 1h0m0 10h0m1-30h0m0 9h0m1-6h0m0 0h0m0 25h0m0 9h0m0 11h0m1-34h0m0 25h0m1-32h0m0 8h0m0 19h0m1-31h0m0 2h0m0 3h0m0 1h0m0 27h0m1-30h0m0 2h0m0 1h0m0 3h0m1-5h0m0 14h0m1-19h0m0 5h0m0 6h0m0 3h0m0 4h0m0 1h0m0 30h0m1-49h0m0 19h0m0 0h0m0 3h0m0 2h0m0 3h0m1-28h0m0 7h0m0 9h0m0 0h0m0 4h0m1 0h0m1-36h0m0 48h0m1-39h0m0 13h0m0 3h0m0 1h0m0 5h0m0 11h0m1-43h0m0 2h0m0 16h0m0 12h0m0 0h0m0 4h0m1-38h0m0 19h0m0 15h0m0 2h0m0 10h0m0 7h0m0 10h0m0 6h0m1-57h0m0 2h0m0 2h0m0 6h0m0 4h0m0 13h0m0 1h0m0 67h0m1-107h0m0 11h0m0 5h0m0 0h0m0 13h0m0 3h0m0 3h0m1-17h0m0 1h0m0 16h0m0 6h0m0 5h0m0 0h0m0 2h0m0 0h0m1-35h0m0 1h0m0 4h0m0 1h0m0 0h0m0 3h0m0 20h0m0 3h0m1-50h0m0 1h0m0 11h0m0 2h0m0 14h0m0 16h0m0 9h0m1-33h0m0 3h0m0 7h0m0 1h0m0 6h0m0 9h0m0 2h0m1-47h0m0 16h0m0 1h0m0 16h0m1-26h0m0 8h0m0 1h0m0 17h0m0 3h0m0 12h0m1-37h0m0 1h0m0 6h0m0 26h0m0 12h0m1-55h0m0 1h0m0 15h0m1 4h0m0 1h0m0 4h0m0 0h0m0 17h0m1-28h0m0 12h0m0 5h0m0 1h0m0 1h0m0 10h0m0 2h0m0 41h0m1-72h0m0 7h0m0 8h0m0 1h0m1-26h0m0 32h0m0 3h0m0 9h0m1-47h0m0 4h0m0 17h0m0 7h0m0 0h0m0 6h0m0 0h0m0 5h0m0 6h0m0 23h0m1-67h0m0 16h0m0 0h0m0 9h0m0 9h0m1-38h0m0 3h0m0 24h0m1-26h0m0 3h0m0 16h0m0 12h0m0 1h0m0 9h0m0 1h0m0 30h0m1-72h0m0 14h0m0 37h0m0 15h0m1-66h0m0 6h0m0 33h0m1-31h0m0 6h0m0 6h0m0 1h0m0 15h0m0 9h0m0 11h0m1-39h0m0 2h0m0 6h0m0 4h0m1-29h0m0 6h0m0 9h0m0 2h0m0 14h0m0 0h0m0 6h0m0 17h0m1-49h0m0 0h0m0 12h0m0 2h0m0 15h0m0 13h0m1-41h0m0 20h0m0 0h0m0 11h0m0 24h0m1-62h0m0 6h0m0 8h0m0 3h0m0 4h0m0 3h0m0 2h0m1-21h0m0 5h0m0 9h0m0 0h0m0 11h0m0 4h0m0 4h0m0 2h0m0 27h0m1-63h0m0 3h0m0 1h0m0 33h0m0 4h0m0 1h0m1-34h0m0 1h0m0 6h0m0 9h0m0 5h0m0 22h0m0 4h0m1-39h0m0 5h0m0 9h0m0 5h0m0 33h0m1-70h0m0 6h0m0 8h0m0 0h0m0 3h0m0 2h0m0 9h0m0 7h0m0 2h0m0 0h0m0 8h0m1-34h0m0 3h0m0 8h0m0 22h0m1-35h0m0 0h0m0 3h0m0 10h0m0 10h0m1-33h0m0 9h0m0 0h0m0 5h0m0 4h0m0 5h0m0 9h0m0 21h0m0 2h0m1-50h0m0 4h0m0 2h0m0 3h0m0 5h0m0 9h0m0 4h0m0 4h0m0 4h0m0 13h0m1-53h0m0 2h0m0 16h0m0 3h0m0 0h0m0 6h0m0 2h0m0 0h0m0 31h0m1-40h0m0 1h0m0 12h0m1-8h0m0 6h0m0 14h0m1-45h0m0 2h0m0 22h0m0 8h0m0 10h0m1-37h0m0 5h0m0 23h0m0 5h0m0 59h0m1-66h0m0 13h0m1-43h0m0 4h0m0 4h0m0 9h0m0 5h0m0 4h0m1-25h0m0 18h0m0 0h0m0 2h0m0 18h0m0 7h0m0 8h0m1-38h0m0 8h0m0 1h0m0 1h0m0 7h0m0 5h0m1-37h0m0 14h0m0 31h0m0 2h0m0 6h0m1-54h0m0 1h0m0 2h0m0 7h0m0 9h0m0 12h0m1-26h0m0 6h0m1-8h0m0 3h0m0 4h0m0 0h0m0 30h0m0 14h0m1-53h0m0 5h0m0 23h0m0 7h0m0 2h0m1-39h0m0 1h0m1 18h0m0 1h0m0 15h0m1-35h0m0 5h0m0 22h0m0 4h0m0 5h0m0 26h0m1-60h0m0 4h0m0 5h0m0 1h0m0 1h0m0 3h0m0 7h0m0 4h0m1-2h0m0 0h0m0 19h0m1-43h0m0 6h0m0 6h0m0 14h0m0 0h0m0 14h0m0 4h0m0 5h0m1-38h0m0 5h0m0 9h0m0 1h0m0 1h0m0 1h0m1-27h0m0 0h0m0 5h0m0 2h0m0 5h0m0 8h0m0 14h0m1-18h0m0 4h0m0 7h0m1-31h0m0 7h0m0 4h0m0 11h0m1 13h0m0 3h0m0 2h0m0 0h0m1-39h0m0 8h0m0 15h0m0 15h0m0 4h0m1-19h0m0 26h0m0 19h0m1-66h0m0 8h0m0 9h0m0 1h0m0 1h0m0 19h0m1-35h0m0 3h0m0 1h0m0 27h0m0 1h0m0 12h0m0 7h0m1-51h0m0 8h0m0 21h0m0 22h0m1-55h0m0 1h0m0 15h0m0 1h0m0 2h0m0 9h0m0 2h0m0 0h0m0 10h0m0 4h0m0 7h0m1-52h0m0 4h0m0 2h0m0 12h0m0 3h0m0 5h0m0 4h0m0 15h0m0 9h0m1-54h0m0 11h0m0 0h0m0 20h0m0 14h0m1-45h0m0 9h0m0 3h0m0 9h0m0 0h0m0 7h0m0 15h0m1-36h0m0 21h0m0 10h0m0 14h0m1-32h0m0 11h0m0 3h0m0 1h0m0 1h0m0 0h0m0 2h0m0 11h0m1-45h0m0 8h0m0 15h0m0 2h0m1-26h0m0 10h0m0 9h0m0 6h0m0 14h0m0 3h0m0 1h0m1-46h0m0 0h0m0 8h0m0 7h0m0 6h0m0 5h0m0 8h0m0 16h0m1-35h0m0 7h0m0 6h0m1-23h0m0 7h0m0 0h0m0 12h0m1-15h0m0 23h0m0 7h0m0 2h0m0 3h0m0 2h0m0 21h0m1-66h0m0 10h0m0 3h0m0 12h0m0 12h0m1-17h0m0 2h0m0 2h0m0 3h0m0 4h0m0 1h0m0 4h0m0 1h0m0 5h0m0 6h0m0 1h0m1-28h0m0 11h0m1-30h0m0 3h0m0 1h0m0 1h0m0 3h0m0 6h0m0 8h0m0 12h0m1-37h0m0 0h0m0 8h0m0 0h0m0 2h0m0 0h0m0 25h0m1-35h0m0 1h0m0 5h0m0 0h0m0 4h0m0 4h0m0 8h0m0 2h0m0 7h0m0 0h0m0 7h0m0 9h0m0 8h0m1-55h0m0 1h0m0 5h0m0 9h0m0 30h0m1-46h0m0 2h0m0 1h0m0 5h0m0 7h0m0 36h0m1-35h0m0 11h0m0 26h0m0 3h0m1-46h0m0 13h0m0 6h0m0 2h0m0 14h0m0 5h0m1-43h0m0 1h0m0 0h0m0 3h0m0 1h0m0 5h0m0 7h0m0 2h0m0 14h0m1-33h0m0 1h0m0 11h0m0 2h0m0 1h0m0 14h0m1-34h0m0 9h0m0 6h0m0 19h0m1-31h0m0 4h0m0 9h0m0 15h0m0 18h0m0 0h0m1-49h0m0 0h0m0 6h0m0 17h0m0 3h0m0 10h0m1-37h0m0 11h0m0 15h0m0 8h0m0 14h0m1-45h0m0 11h0m0 16h0m0 12h0m0 0h0m1-38h0m0 1h0m0 8h0m0 1h0m0 0h0m0 4h0m0 1h0m0 0h0m0 3h0m0 3h0m0 9h0m0 7h0m0 11h0m0 3h0m1-49h0m0 4h0m0 12h0m0 9h0m0 11h0m1-38h0m0 7h0m0 2h0m0 16h0m0 5h0m0 1h0m0 1h0m0 5h0m1-41h0m0 2h0m0 20h0m0 7h0m0 4h0m0 23h0m1-41h0m0 12h0m0 8h0m1-19h0m0 7h0m0 12h0m1-28h0m0 2h0m0 0h0m0 1h0m1 22h0m1-32h0m0 1h0m0 1h0m0 0h0m0 7h0m0 1h0m0 7h0m0 8h0m0 7h0m0 8h0m1-35h0m0 6h0m0 7h0m0 5h0m0 4h0m0 1h0m0 1h0m1-28h0m0 6h0m0 1h0m0 2h0m0 1h0m0 1h0m0 8h0m0 18h0m1-34h0m0 0h0m0 18h0m1-14h0m0 6h0m0 14h0m0 5h0m0 4h0m0 14h0m1-49h0m0 9h0m0 2h0m0 3h0m0 4h0m0 6h0m0 3h0m0 19h0m1-48h0m0 0h0m0 8h0m0 7h0m0 1h0m0 13h0m0 1h0m0 0h0m1-30h0m0 3h0m0 12h0m0 1h0m0 5h0m0 18h0m0 0h0m0 2h0m1-37h0m0 11h0m0 23h0m1-37h0m0 0h0m0 5h0m0 5h0m0 7h0m0 20h0m0 5h0m1-35h0m0 5h0m0 0h0m0 7h0m0 4h0m1-19h0"/>
<path d="M86 330h0m4 96h0m2-16h0m0 8h0m4-41h0m1-103h0m0 116h0m0 62h0m1-31h0m1-18h0m2-1h0m0 21h0m1-59h0m2 29h0m3-12h0m5-62h0m5 3h0m1-30h0m1 37h0m4-39h0m2 37h0m3-20h0m0 84h0m1-66h0m2-42h0m2 49h0m7-29h0m0 24h0m1-17h0m2-33h0m1 62h0m3-23h0m1-21h0m1-15h0m1 6h0m0 37h0m1-24h0m1-26h0m1 8h0m0 36h0m2 2h0m1-35h0m0 17h0m1-4h0m1 9h0m3-7h0m1 5h0m0 0h0m2-5h0m3-26h0m0 55h0m2-28h0m0 4h0m0 12h0m4 0h0m2 4h0m1-16h0m1-32h0m1 10h0m0 32h0m1 8h0m1-49h0m0 18h0m1 1h0m2 13h0m2-11h0m0 18h0m3-6h0m0 15h0m2-48h0m1 11h0m0 10h0m1-18h0m7 19h0m1-7h0m2 5h0m3 31h0m1-18h0m3-20h0m5 15h0m1-36h0m0 37h0m2-20h0m2 6h0m2 10h0m1-7h0m1 6h0m2 9h0m4-76h0m2-2h0m3 6h0m3 1h0m0 5h0m1 9h0m2-12h0m0 14h0m2-14h0m0 6h0m1 22h0m2-13h0m5-7h0m0 10h0m1 1h0m4 24h0m1-6h0m2-11h0m1-28h0m0 4h0m1 51h0m1-44h0m1-14h0m2 27h0m0 46h0m1-46h0m0 27h0m1 18h0m1-28h0m1-35h0m0 77h0m1-78h0m2-4h0m1 16h0m0 1h0m1 10h0m1 2h0m1 6h0m1-33h0m0 14h0m2-6h0m0 14h0m2 11h0m0 0h0m3-31h0m1 10h0m0 0h0m2 0h0m1 17h0m1-35h0m0 67h0m2-65h0m0 20h0m1-26h0m0 11h0m1 13h0m0 13h0m0 0h0m1-1h0m1-25h0m1 1h0m3 9h0m0 1h0m0 12h0m1-32h0m0 8h0m1 1h0m0 32h0m2-27h0m1 23h0m1-12h0m4-2h0m1 8h0m2-21h0m0 38h0m0 9h0m1-51h0m1 0h0m1 29h0m3-32h0m2 24h0m1-22h0m0 15h0m2 5h0m0 1h0m1-27h0m0 24h0m1 5h0m2-17h0m1-8h0m1 8h0m0 8h0m0 21h0m2-17h0m1-12h0m0 1h0m0 28h0m2-33h0m1 18h0m2 9h0m1-26h0m0 5h0m1 20h0m4-13h0m1-17h0m0 6h0m1 21h0m1-67h0m0 42h0m0 52h0m1-30h0m1-59h0m0 5h0m0 36h0m1-44h0m0 53h0m2-42h0m0 14h0m0 13h0m0 20h0m1-41h0m0 37h0m1-29h0m0 0h0m0 9h0m0 1h0m1-2h0m2-9h0m1-23h0m2 35h0m0 6h0m1-38h0m0 36h0m1-37h0m0 6h0m0 19h0m0 0h0m0 19h0m1-36h0m0 23h0m1-18h0m1 0h0m0 44h0m2-60h0m0 13h0m0 25h0m1-13h0m0 7h0m0 15h0m1-11h0m2-24h0m0 6h0m1 11h0m1-22h0m1-12h0m0 27h0m0 6h0m1 8h0m1-23h0m0 27h0m1 19h0m1-13h0m2-32h0m1 1h0m2 17h0m0 21h0m1-10h0m1-23h0m0 3h0m0 6h0m0 14h0m1-31h0m0 11h0m0 19h0m1-47h0m0 22h0m2 19h0m1-29h0m0 23h0m1-20h0m0 3h0m0 10h0m0 8h0m1-28h0m0 22h0m2-25h0m3 10h0m0 33h0m1-44h0m0 40h0m2-37h0m0 10h0m1 2h0m2 29h0m0 0h0m1-43h0m0 20h0m1-9h0m0 8h0m0 20h0m1-36h0m0 8h0m0 6h0m1-12h0m0 5h0m0 4h0m1-3h0m1-9h0m0 13h0m0 12h0m2-28h0m0 14h0m1 2h0m2 23h0m1-17h0m1-8h0m0 36h0m1-40h0m0 4h0m0 13h0m0 29h0m1-38h0m0 9h0m0 3h0m0 6h0m1-20h0m1 7h0m1-21h0m0 10h0m0 11h0m2-8h0m0 2h0m1 0h0m0 20h0m0 11h0m1-51h0m0 12h0m0 23h0m0 14h0m1-35h0m1-11h0m3 17h0m1-7h0m0 7h0m0 12h0m1-24h0m0 23h0m0 8h0m1-33h0m2 8h0m0 13h0m1-22h0m0 1h0m1 18h0m1-13h0m1-5h0m1 12h0m2-5h0m0 4h0m0 19h0m1-17h0m0 2h0m0 6h0m0 1h0m0 8h0m1-31h0m0 0h0m0 9h0m1-13h0m0 12h0m1-5h0m0 4h0m0 4h0m0 6h0m0 7h0m0 6h0m1-26h0m0 11h0m0 1h0m1 10h0m1-9h0m1-22h0m0 15h0m1-5h0m0 6h0m1 3h0m0 2h0m0 3h0m1-23h0m0 4h0m0 6h0m0 1h0m1-4h0m1-5h0m0 4h0m2 15h0m1-22h0m0 3h0m1 1h0m0 12h0m0 6h0m1-22h0m0 15h0m1-15h0m0 15h0m0 3h0m1-18h0m0 4h0m0 13h0m1-14h0m0 13h0m1-14h0m0 9h0m0 13h0m0 0h0m0 24h0m1-64h0m0 2h0m0 29h0m0 6h0m1-44h0m0 8h0m0 5h0m0 11h0m1-6h0m0 5h0m0 12h0m1-22h0m0 3h0m0 15h0m0 30h0m1-41h0m0 18h0m0 1h0m0 0h0m1-43h0m0 5h0m0 12h0m0 3h0m0 14h0m0 2h0m1-35h0m0 8h0m0 3h0m0 28h0m0 39h0m1-45h0m0 2h0m1-34h0m0 1h0m0 3h0m0 8h0m0 4h0m0 8h0m1-26h0m0 19h0m0 41h0m1-61h0m0 11h0m0 4h0m0 3h0m0 1h0m1-12h0m0 13h0m0 4h0m0 0h0m0 9h0m0 15h0m1-24h0m0 9h0m0 2h0m1-27h0m0 1h0m0 6h0m0 2h0m0 18h0m0 0h0m0 4h0m0 5h0m0 6h0m0 7h0m1-40h0m0 25h0m0 1h0m0 15h0m0 6h0m1-62h0m0 4h0m0 17h0m0 1h0m0 4h0m0 9h0m0 8h0m1-32h0m0 5h0m0 5h0m0 4h0m0 0h0m0 1h0m0 3h0m0 1h0m1-22h0m0 6h0m0 8h0m0 14h0m0 8h0m1-46h0m0 3h0m0 10h0m0 24h0m1-18h0m0 3h0m0 3h0m0 22h0m0 1h0m0 23h0m1-68h0m0 2h0m0 0h0m0 4h0m0 19h0m0 8h0m0 21h0m1-50h0m0 22h0m0 4h0m0 4h0m1-26h0m0 30h0m0 23h0m1-44h0m0 2h0m0 1h0m0 3h0m0 15h0m0 9h0m0 1h0m1-20h0m1-13h0m0 1h0m0 0h0m0 1h0m0 8h0m0 1h0m0 3h0m0 1h0m0 18h0m1-50h0m0 3h0m0 59h0m1-57h0m0 11h0m0 6h0m0 5h0m0 2h0m0 5h0m0 6h0m1-3h0m0 3h0m1-39h0m0 2h0m0 32h0m0 12h0m1-42h0m0 1h0m0 10h0m0 16h0m0 18h0m0 5h0m0 14h0m1-58h0m0 10h0m0 7h0m0 1h0m0 5h0m0 13h0m1-40h0m0 2h0m1 15h0m0 0h0m0 1h0m0 20h0m1-38h0m0 2h0m0 0h0m0 22h0m0 16h0m0 4h0m1-22h0m1-10h0m0 10h0m0 0h0m0 24h0m0 3h0m1-49h0m0 23h0m0 7h0m0 9h0m0 5h0m1-29h0m0 9h0m1-29h0m0 12h0m0 2h0m0 0h0m1-4h0m0 16h0m0 4h0m1-30h0m0 0h0m0 30h0m0 11h0m1-31h0m0 0h0m0 5h0m0 4h0m0 10h0m1-20h0m0 3h0m0 35h0m1-45h0m0 12h0m1 19h0m0 3h0m1-28h0m0 21h0m0 20h0m1-40h0m0 4h0m0 6h0m0 8h0m0 5h0m1-29h0m0 13h0m0 15h0m0 2h0m1 1h0m0 12h0m1-46h0m0 17h0m0 1h0m0 6h0m0 0h0m0 32h0m1-49h0m0 12h0m0 4h0m0 6h0m0 7h0m1-37h0m0 8h0m0 4h0m0 32h0m0 15h0m1-59h0m0 7h0m0 17h0m1-8h0m0 2h0m0 2h0m0 13h0m1-27h0m0 3h0m0 6h0m0 1h0m0 3h0m0 11h0m0 7h0m0 6h0m1-37h0m0 7h0m0 19h0m0 5h0m0 3h0m1-37h0m0 28h0m0 2h0m0 11h0m0 6h0m1-50h0m0 16h0m0 11h0m1-24h0m0 21h0m0 0h0m0 1h0m0 5h0m1-29h0m0 4h0m0 9h0m0 7h0m0 5h0m0 12h0m1-39h0m0 3h0m0 12h0m0 10h0m0 5h0m1-18h0m0 3h0m0 11h0m0 10h0m1-23h0m0 20h0m0 17h0m0 0h0m1-39h0m0 35h0m1-36h0m0 2h0m0 3h0m0 3h0m1-15h0m0 1h0m0 7h0m0 0h0m0 3h0m1-13h0m0 1h0m0 2h0m0 7h0m0 19h0m0 5h0m0 2h0m1-31h0m0 2h0m0 11h0m0 7h0m0 1h0m0 1h0m0 9h0m0 4h0m0 2h0m0 0h0m0 9h0m1-45h0m0 0h0m0 2h0m0 2h0m0 1h0m0 15h0m0 1h0m0 12h0m0 20h0m1-57h0m0 4h0m1 0h0m0 29h0m1-36h0m0 0h0m0 8h0m0 25h0m1-12h0m0 7h0m0 1h0m1-18h0m0 11h0m0 1h0m1-19h0m0 9h0m0 10h0m0 2h0m1-9h0m0 1h0m0 11h0m0 4h0m1-28h0m0 10h0m0 7h0m0 1h0m1-19h0m0 0h0m0 16h0m1-18h0m0 10h0m0 4h0m0 11h0m0 8h0m1-31h0m0 5h0m0 5h0m0 11h0m0 7h0m1-32h0m0 2h0m0 4h0m0 27h0m0 0h0m0 5h0m1-31h0m0 6h0m0 1h0m0 18h0m0 21h0m1-48h0m0 18h0m0 12h0m0 3h0m1-22h0m0 0h0m0 8h0m0 11h0m1-28h0m1 1h0m0 21h0m1-25h0m0 7h0m0 16h0m1-12h0m0 0h0m0 14h0m1-24h0m0 11h0m0 0h0m0 3h0m0 0h0m0 8h0m0 2h0m0 0h0m0 9h0m0 2h0m1-37h0m0 3h0m0 3h0m0 10h0m0 9h0m0 7h0m1-29h0m0 2h0m0 22h0m0 5h0m1-23h0m0 5h0m0 12h0m0 7h0m0 1h0m1-14h0m0 2h0m1-22h0m0 10h0m1-10h0m0 4h0m0 4h0m0 1h0m0 0h0m0 5h0m0 1h0m0 0h0m0 25h0m1-36h0m0 7h0m1-10h0m0 2h0m0 1h0m0 21h0m1-16h0m0 0h0m0 2h0m0 2h0m0 9h0m0 4h0m0 1h0m0 5h0m1-11h0m1-3h0m0 8h0m1-28h0m0 4h0m0 26h0m1-2h0m0 8h0m1-35h0m0 1h0m0 0h0m0 13h0m0 13h0m0 35h0m1-58h0m0 16h0m0 3h0m0 1h0m1-26h0m0 12h0m1-10h0m0 2h0m0 7h0m0 1h0m0 7h0m1-15h0m0 20h0m0 5h0m0 5h0m1-32h0m0 3h0m0 16h0m0 11h0m0 6h0m0 11h0m1-33h0m0 2h0m0 8h0m0 13h0m1-39h0m0 4h0m0 8h0m0 8h0m1-6h0m0 6h0m0 6h0m1-14h0m0 1h0m1 21h0m2-29h0m0 0h0m0 0h0m0 1h0m1 6h0m0 10h0m1 6h0m1-45h0m0 13h0m0 4h0m0 3h0m0 2h0m0 27h0m0 7h0m0 3h0m0 8h0m1-75h0m0 1h0m0 3h0m0 1h0m0 8h0m0 14h0m0 12h0m0 8h0m1-48h0m0 11h0m0 6h0m0 3h0m0 2h0m0 3h0m0 1h0m0 8h0m0 0h0m1-29h0m0 0h0m0 11h0m0 4h0m0 6h0m0 2h0m0 6h0m0 4h0m0 3h0m1-30h0m0 5h0m0 2h0m0 1h0m0 5h0m0 5h0m0 17h0m0 8h0m1-51h0m0 20h0m0 8h0m0 0h0m0 6h0m0 8h0m0 8h0m1-49h0m0 8h0m0 8h0m0 12h0m0 3h0m1-32h0m0 11h0m0 7h0m0 8h0m0 13h0m0 5h0m0 13h0m1-57h0m0 0h0m0 15h0m0 1h0m0 9h0m0 6h0m0 3h0m0 0h0m0 2h0m0 5h0m0 2h0m0 4h0m1-43h0m0 1h0m0 3h0m0 16h0m0 1h0m0 6h0m0 0h0m0 9h0m0 1h0m0 7h0m0 3h0m1-43h0m0 1h0m0 8h0m0 2h0m0 7h0m0 9h0m0 2h0m1-37h0m0 4h0m0 8h0m0 15h0m0 20h0m1-46h0m0 11h0m0 1h0m0 9h0m0 1h0m0 19h0m1-41h0m0 0h0m0 1h0m0 2h0m0 5h0m0 14h0m0 0h0m0 6h0m0 1h0m0 4h0m0 13h0m1-38h0m0 22h0m0 1h0m0 8h0m0 6h0m0 7h0m1-50h0m0 8h0m0 9h0m0 3h0m0 1h0m0 4h0m1-30h0m0 2h0m0 5h0m0 6h0m0 14h0m0 1h0m0 8h0m0 0h0m0 16h0m1-48h0m0 4h0m0 7h0m0 2h0m0 13h0m0 1h0m0 12h0m1-40h0m0 2h0m0 2h0m0 1h0m0 10h0m0 10h0m0 6h0m0 2h0m0 27h0m1-57h0m0 4h0m0 5h0m0 12h0m0 8h0m1-13h0m0 1h0m0 10h0m1-27h0m0 5h0m0 0h0m0 1h0m0 7h0m0 1h0m0 5h0m0 19h0m0 9h0m1-41h0m0 32h0m1-35h0m0 17h0m0 12h0m0 4h0m0 7h0m0 9h0m1-41h0m0 12h0m0 2h0m0 19h0m1-46h0m0 3h0m0 7h0m0 15h0m0 9h0m0 10h0m0 10h0m1-57h0m0 5h0m0 26h0m0 8h0m1-33h0m0 1h0m0 4h0m0 9h0m0 6h0m0 2h0m0 11h0m0 5h0m0 6h0m1-52h0m0 2h0m0 15h0m0 25h0m0 4h0m0 0h0m1-29h0m0 5h0m1-16h0m0 13h0m0 0h0m0 6h0m0 5h0m0 6h0m0 6h0m0 6h0m1-36h0m0 11h0m0 9h0m1-2h0m0 2h0m1-24h0m0 27h0m1-21h0m0 6h0m0 1h0m0 19h0m1-35h0m0 1h0m0 2h0m0 13h0m0 0h0m0 4h0m0 0h0m0 8h0m0 3h0m0 15h0m1-50h0m0 8h0m0 2h0m0 1h0m0 16h0m0 2h0m0 6h0m1-24h0m0 0h0m0 2h0m0 3h0m0 3h0m0 3h0m0 11h0m1-30h0m0 3h0m0 8h0m0 2h0m0 4h0m0 3h0m0 3h0m0 7h0m0 6h0m1-32h0m0 14h0m0 11h0m0 0h0m0 1h0m0 2h0m0 18h0m0 10h0m1-62h0m0 15h0m0 2h0m0 3h0m0 13h0m0 0h0m1-33h0m0 6h0m0 18h0m0 2h0m0 1h0m0 0h0m0 30h0m1-44h0m0 2h0m0 10h0m0 18h0m0 3h0m1-42h0m0 8h0m0 5h0m0 2h0m0 2h0m0 4h0m0 1h0m0 2h0m0 11h0m1-38h0m0 15h0m0 22h0m0 14h0m1-44h0m0 2h0m0 18h0m0 17h0m0 0h0m1-38h0m0 12h0m0 0h0m0 2h0m0 1h0m0 1h0m0 23h0m0 6h0m1-54h0m0 21h0m0 8h0m0 5h0m1-4h0m0 3h0m0 6h0m0 3h0m1-26h0m1-9h0m0 21h0m0 11h0m0 17h0m1-45h0m0 7h0m0 4h0m0 0h0m0 0h0m0 3h0m0 13h0m0 0h0m0 7h0m0 13h0m1-58h0m0 7h0m0 5h0m0 10h0m0 17h0m0 11h0m0 15h0m1-56h0m0 11h0m0 4h0m0 0h0m0 30h0m0 9h0m1-57h0m0 3h0m0 17h0m0 7h0m0 3h0m0 11h0m0 10h0m1-56h0m0 27h0m0 8h0m0 11h0m1-33h0m0 0h0m0 10h0m0 1h0m0 0h0m0 3h0m0 11h0m0 4h0m1-41h0m0 0h0m0 8h0m0 5h0m0 2h0m0 7h0m0 14h0m0 1h0m1-35h0m0 14h0m0 0h0m0 6h0m0 2h0m0 1h0m0 5h0m1-32h0m0 5h0m0 1h0m0 7h0m1 7h0m0 4h0m0 0h0m0 11h0m0 6h0m1-31h0m0 1h0m0 4h0m0 7h0m0 3h0m0 2h0m0 6h0m0 8h0m0 0h0m0 7h0m1-39h0m0 6h0m0 8h0m0 9h0m0 9h0m0 2h0m0 14h0m1-57h0m0 14h0m0 30h0m1-25h0m0 14h0m1-11h0m0 2h0m1-19h0m0 8h0m0 15h0m0 8h0m0 0h0m1-35h0m0 6h0m0 16h0m0 4h0m0 7h0m0 1h0m0 1h0m0 4h0m0 3h0m0 21h0m0 28h0m1-81h0m0 4h0m0 0h0m0 3h0m0 1h0m0 2h0m0 2h0m0 1h0m0 1h0m0 1h0m0 0h0m0 12h0m1-35h0m0 0h0m0 1h0m0 15h0m0 0h0m0 3h0m0 4h0m0 12h0m0 4h0m0 3h0m0 6h0m1-45h0m0 2h0m0 6h0m0 9h0m0 14h0m0 12h0m1-42h0m0 4h0m0 7h0m0 10h0m0 8h0m0 4h0m0 11h0m1-48h0m0 10h0m0 1h0m0 0h0m0 8h0m0 10h0m0 2h0m1-33h0m0 4h0m0 4h0m0 10h0m0 2h0m0 1h0m0 2h0m0 6h0m1-18h0m0 0h0m0 7h0m0 12h0m0 5h0m0 2h0m0 8h0m1-46h0m0 1h0m0 0h0m0 7h0m0 2h0m0 17h0m0 18h0m1-45h0m0 4h0m0 1h0m0 9h0m0 14h0m0 7h0m0 3h0m0 19h0m0 11h0m1-67h0m0 11h0m0 1h0m0 5h0m1-17h0m0 4h0m0 15h0m0 5h0m0 3h0m1-22h0m0 8h0m0 2h0m0 10h0m0 23h0m0 70h0m1-117h0m0 1h0m0 10h0m0 2h0m0 7h0m0 4h0m0 7h0m0 11h0m1-43h0m0 5h0m0 0h0m0 0h0m0 6h0m0 9h0m0 1h0m0 15h0m0 13h0m1-44h0m0 3h0m0 16h0m0 4h0m0 4h0m0 1h0m0 3h0m0 1h0m0 10h0m0 8h0m1-55h0m0 1h0m0 9h0m0 30h0m0 3h0m1-40h0m1 2h0m0 3h0m0 3h0m0 6h0m0 7h0m0 0h0m0 7h0m1-32h0m0 1h0m0 13h0m0 14h0m0 9h0m1-37h0m0 2h0m0 11h0m0 4h0m0 1h0m0 3h0m0 9h0m0 0h0m0 3h0m0 4h0m1-26h0m0 2h0m0 6h0m0 7h0m0 1h0m0 2h0m0 0h0m0 6h0m1-32h0m0 12h0m0 16h0m0 1h0m0 1h0m0 6h0m1-22h0m0 0h0m0 40h0m0 13h0m1-68h0m0 12h0m0 0h0m0 7h0m0 3h0m0 2h0m0 3h0m0 6h0m1-24h0m0 6h0m0 9h0m0 3h0m1-21h0m0 5h0m0 12h0m0 6h0m0 1h0m0 1h0m1-31h0m0 4h0m0 7h0m0 12h0m0 1h0m0 31h0m1-45h0m0 0h0m0 0h0m0 5h0m0 1h0m0 10h0m0 0h0m0 0h0m0 2h0m0 6h0m0 24h0m0 9h0m1-66h0m0 5h0m0 3h0m0 3h0m0 13h0m0 6h0m0 12h0m0 3h0m1-47h0m0 5h0m0 8h0m0 13h0m0 4h0m0 19h0m1-47h0m0 15h0m0 0h0m0 9h0m0 2h0m0 2h0m0 2h0m0 1h0m0 6h0m0 6h0m1-32h0m0 8h0m0 7h0m0 4h0m0 10h0m1-38h0m0 5h0m0 10h0m0 7h0m0 3h0m0 3h0m0 12h0m1-32h0m0 2h0m0 1h0m1-16h0m0 4h0m0 8h0m0 6h0m0 9h0m0 4h0m0 6h0m0 14h0m1-42h0m0 1h0m0 7h0m0 6h0m0 11h0m0 3h0m1-32h0m0 0h0m0 8h0m0 0h0m0 11h0m0 6h0m1-27h0m0 11h0m0 9h0m0 6h0m0 11h0m1-30h0m0 2h0m0 2h0m0 19h0m0 2h0m1-34h0m0 11h0m0 7h0m0 3h0m0 9h0m0 12h0m0 2h0m1-28h0m0 3h0m0 11h0m0 2h0m0 8h0m1-35h0m0 7h0m0 11h0m0 36h0m1-59h0m0 19h0m0 3h0m0 7h0m1-22h0m0 5h0m0 1h0m0 1h0m0 7h0m0 1h0m0 4h0m0 11h0m0 0h0m1-36h0m0 10h0m0 4h0m0 8h0m0 2h0m0 23h0m1-36h0m0 12h0m1-21h0m0 14h0m0 5h0m0 10h0m1-27h0m0 2h0m0 2h0m0 21h0m0 4h0m0 11h0m0 1h0m1-46h0m0 0h0m0 3h0m0 1h0m0 13h0m0 4h0m0 14h0m1-7h0m0 6h0"/>
<path d="M82 368h0m7-124h0m4 131h0m1 31h0m1-165h0m1 198h0m1-156h0m0 123h0m3 42h0m3-65h0m1 10h0m2-52h0m5 41h0m1 47h0m1-117h0m6 46h0m1-111h0m2 31h0m1 40h0m0 4h0m0 30h0m5-37h0m1-7h0m0 19h0m1-83h0m0 60h0m3 10h0m2 11h0m1-23h0m2 17h0m0 1h0m0 18h0m3-58h0m0 36h0m0 39h0m1-68h0m0 23h0m1-24h0m1 29h0m0 27h0m1-19h0m1 4h0m0 0h0m1-50h0m1-9h0m0 54h0m1 39h0m1-69h0m3 32h0m1-13h0m0 8h0m1-27h0m0 35h0m1 13h0m1-33h0m4-19h0m2 2h0m1 32h0m2-47h0m2 26h0m0 51h0m1-2h0m2-72h0m4 39h0m2-30h0m0 18h0m5-13h0m0 6h0m2-12h0m3-3h0m0 76h0m1-67h0m4 22h0m1-35h0m1 13h0m3 3h0m1-10h0m2-11h0m5 9h0m0 9h0m2-7h0m6-12h0m0 24h0m1 17h0m2-41h0m0 18h0m12-45h0m1-1h0m1 4h0m0 56h0m2-68h0m0 8h0m3 15h0m0 20h0m1-23h0m0 27h0m0 1h0m1-54h0m2 48h0m4-27h0m0 9h0m1-7h0m3-4h0m0 38h0m1-14h0m1-22h0m0 10h0m0 13h0m4 86h0m1-91h0m1-35h0m0 31h0m1 31h0m1-61h0m0 44h0m1-34h0m0 10h0m1 9h0m3-36h0m1 84h0m2-48h0m0 3h0m1 6h0m3-14h0m2-23h0m2 71h0m1-74h0m2 6h0m0 11h0m0 35h0m1-27h0m2-26h0m0 15h0m1-8h0m0 1h0m0 15h0m1-18h0m3 30h0m1-37h0m0 20h0m3-15h0m2 9h0m0 17h0m1-1h0m0 33h0m2-60h0m0 5h0m3-8h0m3 16h0m1 19h0m1 1h0m1-13h0m1-11h0m0 15h0m1-17h0m0 11h0m1-13h0m0 10h0m2 29h0m3-46h0m0 3h0m0 32h0m1-36h0m1 23h0m0 14h0m1-22h0m0 44h0m2-38h0m2 25h0m1-32h0m2-17h0m0 15h0m0 24h0m0 5h0m1-36h0m1-8h0m0 17h0m4-15h0m1 27h0m1-18h0m4-8h0m0 17h0m2 6h0m3-4h0m0 21h0m2-29h0m0 7h0m1 5h0m1 14h0m1-28h0m2 10h0m0 4h0m1-59h0m0 40h0m2-43h0m0 42h0m1-22h0m1-21h0m0 7h0m0 9h0m0 29h0m0 3h0m1-31h0m0 20h0m0 0h0m1 12h0m1 3h0m0 23h0m1-63h0m1 8h0m0 7h0m1 3h0m1 9h0m0 28h0m1-58h0m0 63h0m1-32h0m0 12h0m0 17h0m1-17h0m1-17h0m1-33h0m0 23h0m1-6h0m0 34h0m1-35h0m0 0h0m0 4h0m0 14h0m1-15h0m1-16h0m2-1h0m0 21h0m0 3h0m3-7h0m1 26h0m1-43h0m0 21h0m1-8h0m0 28h0m1-37h0m0 8h0m0 6h0m0 4h0m0 12h0m2-34h0m1 13h0m0 18h0m0 23h0m1-48h0m0 1h0m0 22h0m0 4h0m1 8h0m1-31h0m0 14h0m1 22h0m0 8h0m1-52h0m0 26h0m1-28h0m0 16h0m0 2h0m0 17h0m1-12h0m0 20h0m1-48h0m0 0h0m0 42h0m1-38h0m0 14h0m1 10h0m1-17h0m0 32h0m2-8h0m1-24h0m1 6h0m0 3h0m0 2h0m0 12h0m0 36h0m1-67h0m0 2h0m0 14h0m0 14h0m0 1h0m1-32h0m0 36h0m1-26h0m1-3h0m1 14h0m0 15h0m2-22h0m0 2h0m0 8h0m2-9h0m0 4h0m1-13h0m1-1h0m0 13h0m0 16h0m1-10h0m1 9h0m0 3h0m0 2h0m1-35h0m0 26h0m1-26h0m0 12h0m0 6h0m2-1h0m1-16h0m0 6h0m0 28h0m0 10h0m1 2h0m1-27h0m1-4h0m1-9h0m2 4h0m1-4h0m0 0h0m0 10h0m2-11h0m0 4h0m1-1h0m0 13h0m0 1h0m1-7h0m1 44h0m1-56h0m0 12h0m0 12h0m0 9h0m1-32h0m1-8h0m0 10h0m1-8h0m0 12h0m0 4h0m1-17h0m0 22h0m1-5h0m0 5h0m1-24h0m0 13h0m0 0h0m0 8h0m0 2h0m0 22h0m1-35h0m0 22h0m1-7h0m2 4h0m0 17h0m1-19h0m1 28h0m1-51h0m0 7h0m0 2h0m0 12h0m0 31h0m1-40h0m0 7h0m1-19h0m1-4h0m0 21h0m1-19h0m0 3h0m0 9h0m0 5h0m1-16h0m0 12h0m1 16h0m2-23h0m0 2h0m0 19h0m1-3h0m0 2h0m1-13h0m1-11h0m1 32h0m2-14h0m0 30h0m1-45h0m0 4h0m1 5h0m1 13h0m0 1h0m1-10h0m1-10h0m0 2h0m0 47h0m1-44h0m1-14h0m0 15h0m1 1h0m1-1h0m0 3h0m0 25h0m1-43h0m0 5h0m0 11h0m1-15h0m0 11h0m2-9h0m0 3h0m0 3h0m1-36h0m0 13h0m0 2h0m0 13h0m0 9h0m0 26h0m1-64h0m0 3h0m0 7h0m0 7h0m0 23h0m0 3h0m0 6h0m0 14h0m1-39h0m0 1h0m0 9h0m1-12h0m0 11h0m0 12h0m1-41h0m0 7h0m0 4h0m1 3h0m0 22h0m1-39h0m0 14h0m0 7h0m0 25h0m0 11h0m1-34h0m1-14h0m0 2h0m0 9h0m0 24h0m0 1h0m0 7h0m1-49h0m0 5h0m0 1h0m0 55h0m1-61h0m0 15h0m0 12h0m0 26h0m2-52h0m0 3h0m0 1h0m0 2h0m0 2h0m0 4h0m0 11h0m0 7h0m0 15h0m1-12h0m0 3h0m0 2h0m0 11h0m1-54h0m0 21h0m0 0h0m0 2h0m0 21h0m1-43h0m0 0h0m0 8h0m0 15h0m1-23h0m0 18h0m0 6h0m0 5h0m0 1h0m0 1h0m0 2h0m1-24h0m0 25h0m1-16h0m0 5h0m0 27h0m0 4h0m2-21h0m0 2h0m0 1h0m0 1h0m0 8h0m0 3h0m0 7h0m0 2h0m1-56h0m0 10h0m0 5h0m0 11h0m0 3h0m0 5h0m0 22h0m1-12h0m1-43h0m0 85h0m1-84h0m0 3h0m1-3h0m0 12h0m0 4h0m0 13h0m1-32h0m0 2h0m0 1h0m0 16h0m1-6h0m0 2h0m0 13h0m0 21h0m1-51h0m0 1h0m0 26h0m0 1h0m0 9h0m1-18h0m0 10h0m1-2h0m1-26h0m0 25h0m0 4h0m0 7h0m0 10h0m0 9h0m1-34h0m0 2h0m0 2h0m0 18h0m0 6h0m1-49h0m0 13h0m0 13h0m0 11h0m1-24h0m0 4h0m0 16h0m0 10h0m1-26h0m0 0h0m1 1h0m0 3h0m0 6h0m0 4h0m0 20h0m1-48h0m0 24h0m1-5h0m1-14h0m0 3h0m0 2h0m0 6h0m0 0h0m0 3h0m0 2h0m0 15h0m1-23h0m0 22h0m1-30h0m0 9h0m0 2h0m0 17h0m0 2h0m1-20h0m0 0h0m0 5h0m0 6h0m0 10h0m0 27h0m0 3h0m1-55h0m2 8h0m0 30h0m1-40h0m0 1h0m0 7h0m0 5h0m0 4h0m0 1h0m1-18h0m0 11h0m0 24h0m0 10h0m1-49h0m0 4h0m0 7h0m0 2h0m0 19h0m0 5h0m1-40h0m0 5h0m0 2h0m0 1h0m0 13h0m1-9h0m0 16h0m0 1h0m0 1h0m0 7h0m0 5h0m0 0h0m0 1h0m1-36h0m0 5h0m0 5h0m0 15h0m0 22h0m1-53h0m0 1h0m0 4h0m0 8h0m0 4h0m0 3h0m0 4h0m1-8h0m0 4h0m0 10h0m1-27h0m0 16h0m0 3h0m0 0h0m0 18h0m1-40h0m0 36h0m1-25h0m0 3h0m0 12h0m0 1h0m0 20h0m1-38h0m0 19h0m0 6h0m0 12h0m1-42h0m0 10h0m0 10h0m0 4h0m0 17h0m1-51h0m0 3h0m0 6h0m0 1h0m0 32h0m1-15h0m0 7h0m0 7h0m1-16h0m0 6h0m0 1h0m0 11h0m1-41h0m0 0h0m0 15h0m0 12h0m0 10h0m1-32h0m1 0h0m0 8h0m0 10h0m0 2h0m0 9h0m0 4h0m0 8h0m1-29h0m0 4h0m1-24h0m0 9h0m0 10h0m0 3h0m0 0h0m0 8h0m0 34h0m1-63h0m0 4h0m0 4h0m0 10h0m0 3h0m1-17h0m0 2h0m0 2h0m0 5h0m0 5h0m0 20h0m1-24h0m0 6h0m1 17h0m0 2h0m1-29h0m0 3h0m0 11h0m0 11h0m1-27h0m1 0h0m0 18h0m1-11h0m0 16h0m0 6h0m0 3h0m0 3h0m1-39h0m0 17h0m0 26h0m1-31h0m0 2h0m0 5h0m0 2h0m1-11h0m0 4h0m0 1h0m0 1h0m0 10h0m0 1h0m1-31h0m0 5h0m0 23h0m0 11h0m1-37h0m0 4h0m0 8h0m0 9h0m0 4h0m0 7h0m1-12h0m0 11h0m1-34h0m0 4h0m0 9h0m0 3h0m0 20h0m1-35h0m0 1h0m0 2h0m0 1h0m0 18h0m0 7h0m0 1h0m0 10h0m1-30h0m0 27h0m0 4h0m0 1h0m1-16h0m0 4h0m0 1h0m1-29h0m0 11h0m0 0h0m0 12h0m0 0h0m0 1h0m0 9h0m1-35h0m0 7h0m0 3h0m0 8h0m0 4h0m0 2h0m0 6h0m0 1h0m0 2h0m0 0h0m0 2h0m1-30h0m0 0h0m0 1h0m0 8h0m1-12h0m0 8h0m0 12h0m0 2h0m0 1h0m0 13h0m1-30h0m0 6h0m0 11h0m0 0h0m1-15h0m0 3h0m0 1h0m0 3h0m0 0h0m0 3h0m0 8h0m1-23h0m0 6h0m0 0h0m0 2h0m0 13h0m0 22h0m1-44h0m0 9h0m0 10h0m0 2h0m0 4h0m1-18h0m0 20h0m1-20h0m0 5h0m0 15h0m0 1h0m0 5h0m0 12h0m1-12h0m1-27h0m0 3h0m0 1h0m0 13h0m0 9h0m0 1h0m1-38h0m0 2h0m0 3h0m0 0h0m0 3h0m0 7h0m0 18h0m0 1h0m2-33h0m0 2h0m0 0h0m0 1h0m0 16h0m0 14h0m0 9h0m0 2h0m1-44h0m0 2h0m0 14h0m0 0h0m0 32h0m1-48h0m0 11h0m0 16h0m1-28h0m0 0h0m0 11h0m0 0h0m0 3h0m0 4h0m0 7h0m1-19h0m0 8h0m0 3h0m1-17h0m0 2h0m0 1h0m0 8h0m0 7h0m0 2h0m1-16h0m0 10h0m0 6h0m0 23h0m1-38h0m0 2h0m0 3h0m0 1h0m0 13h0m0 4h0m0 3h0m0 22h0m1-45h0m1-7h0m0 4h0m0 6h0m0 1h0m2-12h0m0 1h0m0 0h0m0 21h0m1-3h0m0 13h0m1-12h0m0 1h0m0 8h0m0 2h0m1-18h0m0 7h0m0 6h0m1-17h0m0 22h0m0 4h0m1-34h0m0 5h0m0 6h0m0 3h0m0 4h0m0 10h0m0 2h0m1-27h0m0 41h0m1-63h0m0 64h0m1-70h0m0 1h0m0 7h0m0 12h0m0 29h0m0 2h0m0 1h0m0 35h0m1-86h0m0 18h0m0 1h0m0 4h0m0 8h0m0 18h0m0 2h0m0 3h0m1-53h0m0 3h0m0 5h0m0 0h0m0 5h0m0 8h0m0 18h0m0 2h0m0 8h0m1-47h0m0 20h0m0 19h0m0 4h0m0 6h0m1-45h0m0 7h0m0 27h0m1-27h0m0 1h0m0 11h0m0 5h0m0 17h0m0 3h0m1-54h0m0 22h0m0 4h0m1-25h0m0 9h0m0 3h0m0 9h0m0 22h0m0 5h0m1-49h0m0 15h0m0 24h0m0 2h0m0 2h0m0 6h0m0 3h0m0 0h0m0 6h0m1-58h0m0 21h0m0 0h0m0 36h0m0 10h0m1-67h0m0 3h0m0 5h0m0 15h0m0 6h0m0 1h0m0 0h0m0 3h0m0 8h0m0 15h0m0 9h0m1-65h0m0 37h0m0 21h0m0 18h0m1-73h0m0 7h0m0 27h0m0 12h0m1-47h0m0 1h0m0 22h0m0 2h0m0 1h0m0 18h0m1-43h0m0 14h0m0 12h0m0 7h0m0 4h0m0 1h0m0 9h0m0 13h0m1-60h0m0 15h0m0 3h0m0 6h0m0 0h0m0 2h0m0 24h0m0 5h0m1-56h0m0 0h0m0 8h0m0 0h0m0 24h0m0 4h0m0 3h0m0 6h0m1-45h0m0 1h0m0 23h0m0 46h0m1-65h0m0 1h0m0 2h0m0 6h0m0 8h0m0 0h0m0 11h0m0 10h0m0 14h0m1-47h0m0 21h0m1-17h0m0 7h0m1 2h0m0 7h0m0 14h0m0 3h0m1-48h0m0 2h0m0 22h0m0 2h0m0 2h0m0 32h0m1-57h0m0 5h0m0 8h0m0 2h0m0 11h0m0 2h0m0 6h0m0 11h0m1-36h0m0 6h0m0 9h0m0 5h0m0 8h0m0 13h0m1-9h0m1-39h0m0 2h0m0 6h0m0 4h0m0 0h0m0 13h0m0 6h0m0 1h0m1-23h0m1-9h0m0 6h0m0 2h0m0 25h0m0 1h0m0 6h0m0 4h0m1-41h0m0 9h0m0 3h0m0 7h0m0 1h0m0 7h0m0 10h0m0 6h0m1-45h0m0 6h0m0 7h0m0 10h0m0 0h0m0 7h0m1-32h0m0 7h0m0 4h0m0 0h0m0 10h0m0 15h0m0 2h0m1-38h0m0 4h0m0 12h0m0 18h0m1-36h0m0 4h0m0 4h0m0 2h0m0 2h0m0 10h0m0 12h0m0 5h0m0 1h0m0 5h0m0 3h0m1-50h0m0 1h0m0 9h0m0 4h0m0 6h0m0 12h0m0 1h0m1-31h0m0 1h0m0 31h0m0 3h0m0 11h0m0 1h0m1-43h0m0 1h0m0 16h0m0 2h0m0 2h0m0 10h0m1-24h0m0 0h0m0 3h0m0 2h0m0 7h0m0 15h0m0 3h0m1-24h0m0 6h0m0 8h0m0 1h0m0 8h0m0 11h0m1-45h0m0 5h0m0 14h0m0 7h0m0 17h0m1-52h0m0 22h0m0 7h0m0 6h0m0 5h0m0 5h0m1-33h0m0 4h0m0 9h0m0 6h0m0 5h0m1-36h0m0 25h0m0 5h0m1-27h0m0 5h0m0 2h0m0 2h0m0 16h0m0 6h0m0 2h0m0 5h0m1-28h0m0 8h0m0 13h0m1-33h0m0 2h0m0 4h0m0 7h0m0 12h0m0 2h0m1-26h0m0 2h0m0 2h0m0 6h0m0 8h0m0 1h0m0 7h0m0 0h0m0 4h0m0 10h0m0 5h0m1-36h0m0 2h0m0 4h0m0 3h0m0 3h0m0 9h0m0 4h0m0 4h0m0 2h0m1-11h0m0 0h0m1-28h0m0 30h0m0 18h0m0 2h0m1-48h0m0 9h0m0 5h0m0 6h0m0 5h0m0 6h0m1-10h0m0 14h0m0 21h0m0 5h0m1-55h0m0 6h0m0 7h0m0 1h0m0 2h0m0 6h0m1-30h0m0 3h0m0 5h0m0 9h0m0 8h0m0 8h0m0 2h0m1-33h0m0 3h0m0 8h0m0 6h0m0 1h0m0 3h0m0 8h0m1-12h0m0 19h0m0 14h0m1-53h0m0 8h0m0 10h0m0 2h0m0 4h0m0 14h0m0 5h0m0 7h0m1-48h0m0 15h0m0 0h0m0 6h0m0 7h0m0 6h0m0 9h0m0 9h0m1-47h0m0 3h0m0 5h0m0 12h0m0 1h0m1-21h0m0 14h0m1-10h0m0 1h0m0 2h0m0 2h0m0 6h0m0 0h0m0 13h0m0 8h0m0 15h0m1-44h0m0 3h0m0 14h0m0 8h0m0 2h0m1-32h0m0 11h0m0 1h0m0 7h0m0 14h0m1-32h0m0 20h0m0 27h0m1-58h0m0 2h0m0 1h0m0 17h0m0 12h0m0 0h0m0 19h0m1-49h0m0 0h0m0 1h0m0 4h0m0 4h0m0 1h0m0 10h0m0 10h0m1-32h0m0 7h0m0 7h0m0 1h0m1-14h0m0 6h0m0 1h0m0 7h0m0 2h0m0 5h0m0 9h0m0 14h0m1-46h0m0 2h0m0 17h0m0 2h0m0 3h0m0 3h0m0 4h0m0 13h0m0 6h0m0 8h0m1-57h0m0 14h0m0 9h0m0 15h0m0 8h0m0 8h0m0 11h0m1-59h0m0 15h0m1-18h0m0 12h0m0 2h0m0 9h0m1-14h0m0 12h0m0 1h0m0 3h0m0 21h0m1-44h0m0 2h0m0 11h0m0 0h0m0 3h0m0 5h0m0 18h0m1-38h0m0 7h0m0 10h0m0 0h0m0 21h0m1-36h0m0 6h0m0 15h0m0 2h0m1-26h0m0 25h0m0 23h0m1-52h0m0 4h0m0 8h0m0 2h0m0 5h0m0 2h0m0 0h0m0 12h0m1-21h0m0 7h0m0 8h0m0 5h0m1-34h0m0 5h0m0 37h0m0 2h0m0 3h0m0 24h0m1-71h0m0 1h0m0 23h0m0 4h0m0 7h0m1-33h0m0 2h0m0 3h0m0 12h0m0 19h0m1-36h0m0 8h0m0 1h0m0 6h0m0 7h0m0 2h0m1-22h0m0 1h0m0 6h0m0 19h0m0 15h0m0 0h0m0 18h0m1-59h0m0 5h0m1-9h0m0 10h0m0 2h0m0 9h0m0 1h0m0 7h0m0 10h0m1-31h0m0 2h0m0 19h0m1-14h0m0 4h0m0 0h0m0 5h0m0 0h0m0 9h0m0 2h0m1-27h0m0 8h0m0 4h0m0 7h0m0 1h0m0 3h0m0 3h0m1-33h0m0 6h0m0 1h0m0 1h0m0 11h0m0 1h0m0 2h0m0 4h0m0 13h0m0 3h0m1-26h0m0 7h0m0 3h0m0 3h0m0 7h0m1-26h0m0 0h0m0 11h0m0 0h0m0 2h0m1-24h0m0 2h0m0 0h0m0 7h0m0 2h0m0 6h0m0 2h0m0 25h0m1-41h0m0 3h0m0 2h0m0 0h0m0 17h0m0 9h0m1-19h0m0 9h0m0 9h0m1-28h0m0 17h0m0 6h0m1-27h0m0 1h0m0 9h0m0 2h0m0 11h0m0 10h0m0 17h0m0 1h0m0 5h0m1-44h0m0 21h0m0 3h0m0 2h0m0 8h0m1-28h0m0 7h0m0 2h0m0 13h0m0 2h0m1-35h0m0 3h0m0 16h0m0 0h0m0 3h0m0 2h0m0 2h0m0 7h0m0 0h0m1-24h0m0 3h0m0 22h0m1-41h0m0 1h0m0 15h0m0 22h0m0 9h0m1-46h0m0 0h0m0 37h0m0 24h0m0 4h0m1-58h0m0 1h0m0 1h0m0 4h0m0 1h0m1-1h0m0 4h0m0 2h0m0 10h0m0 7h0m0 0h0m1-26h0m0 1h0m0 10h0m0 24h0m0 3h0m1-45h0m0 6h0m0 7h0m0 1h0m0 8h0m0 7h0m0 5h0m1-39h0m0 5h0m0 22h0m0 4h0m1-24h0m0 4h0m0 1h0m0 3h0m0 6h0m0 3h0m0 4h0m0 4h0m0 3h0m1-31h0m0 20h0m0 0h0m0 8h0m1-21h0m0 1h0m0 1h0m0 3h0m0 6h0m0 2h0m0 4h0m0 0h0m0 11h0m0 6h0m0 0h0m1-22h0m0 1h0m0 10h0m1-29h0m0 2h0m0 5h0m0 10h0m1-3h0m0 3h0m0 2h0m0 4h0m1-22h0m0 12h0m0 8h0m0 1h0m0 1h0m0 0h0m0 6h0m0 4h0m0 1h0m1-38h0m0 2h0m0 3h0m0 10h0m0 7h0m0 26h0m1-37h0m0 1h0"/>
<path d="M90 353h0m0 61h0m1 0h0m0 14h0m0 18h0m1 6h0m1-289h0m0 289h0m1-5h0m1-243h0m0 132h0m0 95h0m1-67h0m1 54h0m0 17h0m1 8h0m0 9h0m2-151h0m4-38h0m6-63h0m4 176h0m2-146h0m5 21h0m4 55h0m1 56h0m4-58h0m0 27h0m1-52h0m3 34h0m1-11h0m0 41h0m1-37h0m1-5h0m2-13h0m1 6h0m0 17h0m0 7h0m0 43h0m1-25h0m0 64h0m2-109h0m1-21h0m1 19h0m1 99h0m1-94h0m1 32h0m1-43h0m0 5h0m0 6h0m2 2h0m1 13h0m0 24h0m1-56h0m1 13h0m0 19h0m2-8h0m0 11h0m1-31h0m0 10h0m0 33h0m1-40h0m0 3h0m1 56h0m3-46h0m0 31h0m3-40h0m0 27h0m1-27h0m2-8h0m0 10h0m1 19h0m1-38h0m0 9h0m2 32h0m1-42h0m2 14h0m1-17h0m0 21h0m0 0h0m0 28h0m1-33h0m1 14h0m2-17h0m3 14h0m1-11h0m5 3h0m5 22h0m4-1h0m1-22h0m1 36h0m5 90h0m5-144h0m1 22h0m1 5h0m5 8h0m2-2h0m2 2h0m6 14h0m3-76h0m0 31h0m4 9h0m1-38h0m0 40h0m1 10h0m1-51h0m2 29h0m1-7h0m1-34h0m3 4h0m1 10h0m0 11h0m0 6h0m0 33h0m1 1h0m1-62h0m0 7h0m0 12h0m1 12h0m0 21h0m1-32h0m2-23h0m0 56h0m2-39h0m1 0h0m1-12h0m0 42h0m1-26h0m1 18h0m1-18h0m0 16h0m1-23h0m0 7h0m0 42h0m1-56h0m1 32h0m1 8h0m1 22h0m1-60h0m0 4h0m0 39h0m1-16h0m2-6h0m1-8h0m0 4h0m1-23h0m0 72h0m3-58h0m1 16h0m2-30h0m0 35h0m0 18h0m1-50h0m0 12h0m1 29h0m1-24h0m0 7h0m0 10h0m2-9h0m1-18h0m1-12h0m1 27h0m2-23h0m1 4h0m1 1h0m0 18h0m1 9h0m0 10h0m2-46h0m0 24h0m1-22h0m1 40h0m2-36h0m0 3h0m0 13h0m1 8h0m1-22h0m4-9h0m0 70h0m1-48h0m1-6h0m0 20h0m1-33h0m3-1h0m2 6h0m0 42h0m1-29h0m1-21h0m0 16h0m1-6h0m2 46h0m2-46h0m0 20h0m2-24h0m0 4h0m1-8h0m6 5h0m0 6h0m0 6h0m0 1h0m0 6h0m1-11h0m4-8h0m0 6h0m0 14h0m0 19h0m1-26h0m0 4h0m4-4h0m4-13h0m0 28h0m2-30h0m0 5h0m2-4h0m0 16h0m1-11h0m1-9h0m2 1h0m0 24h0m1-44h0m0 33h0m1-34h0m0 21h0m2-1h0m0 23h0m1-5h0m0 0h0m1-51h0m0 17h0m0 19h0m0 14h0m1-16h0m1-20h0m0 53h0m1-51h0m0 11h0m0 24h0m1-39h0m0 12h0m0 11h0m1-21h0m0 53h0m1-71h0m0 32h0m0 18h0m1-43h0m0 33h0m0 5h0m0 13h0m1-43h0m0 15h0m0 3h0m0 11h0m1-7h0m0 12h0m1 15h0m1-25h0m2-23h0m0 23h0m1-26h0m1 45h0m2-54h0m0 15h0m1-15h0m0 2h0m0 7h0m0 5h0m0 3h0m0 17h0m1-24h0m0 13h0m1-22h0m0 7h0m0 5h0m0 18h0m0 38h0m1-53h0m0 17h0m1-6h0m0 15h0m1-11h0m0 13h0m1-16h0m1-4h0m0 9h0m1-9h0m1-27h0m0 12h0m0 16h0m1-22h0m0 11h0m1 13h0m1-22h0m0 22h0m1-31h0m0 7h0m0 13h0m0 2h0m0 9h0m2-31h0m0 29h0m1-4h0m1-29h0m0 3h0m2 18h0m0 17h0m1-36h0m0 0h0m0 3h0m0 39h0m1-41h0m1 5h0m0 7h0m0 2h0m1-13h0m1 6h0m0 2h0m0 10h0m0 15h0m2-24h0m0 27h0m1-21h0m0 8h0m1 0h0m1 0h0m0 10h0m1 10h0m0 4h0m1-21h0m0 4h0m1-29h0m0 44h0m0 2h0m1-30h0m1-9h0m0 22h0m0 4h0m0 9h0m2-43h0m0 6h0m0 7h0m0 17h0m4-30h0m0 14h0m0 12h0m1-15h0m1 21h0m1-35h0m0 1h0m2 1h0m0 0h0m0 1h0m0 34h0m2-31h0m0 19h0m1-21h0m0 3h0m0 27h0m1-22h0m1 0h0m1 23h0m1-19h0m0 16h0m1-28h0m0 18h0m0 0h0m0 0h0m0 4h0m2-13h0m0 12h0m1-13h0m1-4h0m0 13h0m0 4h0m1-17h0m1 18h0m0 8h0m0 9h0m3-38h0m0 3h0m1 23h0m0 13h0m1-41h0m0 9h0m1-6h0m0 23h0m1-28h0m0 3h0m0 13h0m0 33h0m1-45h0m0 3h0m0 33h0m0 2h0m1-40h0m0 9h0m0 0h0m0 9h0m0 5h0m1 4h0m1-7h0m0 4h0m1-14h0m0 7h0m1-6h0m1-15h0m0 11h0m0 4h0m1-10h0m1 14h0m0 7h0m1-22h0m0 6h0m0 5h0m0 3h0m0 20h0m2-34h0m0 22h0m0 2h0m1-21h0m0 4h0m0 8h0m1-9h0m1-4h0m0 6h0m1-8h0m1 10h0m0 13h0m0 0h0m0 3h0m1-27h0m0 7h0m0 9h0m0 12h0m1-29h0m0 10h0m0 23h0m1-18h0m0 11h0m1 6h0m1-19h0m1 18h0m1-32h0m1 7h0m0 11h0m2-30h0m0 24h0m0 17h0m1-43h0m0 12h0m0 10h0m0 30h0m1-59h0m0 3h0m0 16h0m0 11h0m1-28h0m0 7h0m0 11h0m0 4h0m0 4h0m1-25h0m0 16h0m0 0h0m0 4h0m0 3h0m0 0h0m0 5h0m1-23h0m0 3h0m0 13h0m0 2h0m0 1h0m0 14h0m1-18h0m0 0h0m0 13h0m1-40h0m0 9h0m0 3h0m0 6h0m0 8h0m0 2h0m0 11h0m1-37h0m1-3h0m0 16h0m0 14h0m0 2h0m0 4h0m0 15h0m1-49h0m0 1h0m0 1h0m0 6h0m0 22h0m0 24h0m1-56h0m0 53h0m0 13h0m1-52h0m0 0h0m0 1h0m0 5h0m0 22h0m0 6h0m1-49h0m0 31h0m1-31h0m0 6h0m0 17h0m0 11h0m1 3h0m0 6h0m0 24h0m1-65h0m0 9h0m0 0h0m0 11h0m0 8h0m0 8h0m0 9h0m0 1h0m1-20h0m0 14h0m0 1h0m0 1h0m1-38h0m0 5h0m0 32h0m0 1h0m1-34h0m0 0h0m0 2h0m0 31h0m1-40h0m0 6h0m0 6h0m0 30h0m1-41h0m0 6h0m0 23h0m0 3h0m0 12h0m1-42h0m0 37h0m1-34h0m0 4h0m0 6h0m0 1h0m0 14h0m0 11h0m1-43h0m0 14h0m0 15h0m0 11h0m0 6h0m1-26h0m0 4h0m0 41h0m1-48h0m0 9h0m0 40h0m1-61h0m1 32h0m1-35h0m0 12h0m0 17h0m1-29h0m0 1h0m0 14h0m0 6h0m0 8h0m0 17h0m1-25h0m0 1h0m0 6h0m0 14h0m0 9h0m1-52h0m0 3h0m0 23h0m1-29h0m0 24h0m0 0h0m1-23h0m0 1h0m0 17h0m1 15h0m1-23h0m0 15h0m0 5h0m1-23h0m0 1h0m1-8h0m0 11h0m0 6h0m0 2h0m0 31h0m0 2h0m1-33h0m1 14h0m1-32h0m0 1h0m0 20h0m0 4h0m0 1h0m0 3h0m0 18h0m1-46h0m0 8h0m0 7h0m0 14h0m1-25h0m0 12h0m0 6h0m0 1h0m0 7h0m1-33h0m0 0h0m0 14h0m0 8h0m1-2h0m0 6h0m0 28h0m1-41h0m0 2h0m0 4h0m0 2h0m0 3h0m0 3h0m0 8h0m0 13h0m1-45h0m0 6h0m0 11h0m0 44h0m1-60h0m0 3h0m0 9h0m0 1h0m0 11h0m0 7h0m0 2h0m1-38h0m0 2h0m0 17h0m0 8h0m1-24h0m0 16h0m0 2h0m0 1h0m0 7h0m1 2h0m0 1h0m0 9h0m1-36h0m0 11h0m0 11h0m1-14h0m0 4h0m0 5h0m0 17h0m0 10h0m0 12h0m1-56h0m0 1h0m0 2h0m0 5h0m0 1h0m0 2h0m0 13h0m1-10h0m0 1h0m0 5h0m0 4h0m0 2h0m0 3h0m0 8h0m0 9h0m1-49h0m0 4h0m0 27h0m1-26h0m0 12h0m0 25h0m1-33h0m0 1h0m0 3h0m0 18h0m0 1h0m0 3h0m1-37h0m0 4h0m0 3h0m0 0h0m0 2h0m0 8h0m0 39h0m1-42h0m0 1h0m0 9h0m0 0h0m0 0h0m0 32h0m1-34h0m1-16h0m0 10h0m0 16h0m0 3h0m1-34h0m0 7h0m0 5h0m0 1h0m0 7h0m0 5h0m0 0h0m0 8h0m1-34h0m0 17h0m0 9h0m0 8h0m0 11h0m1-41h0m0 33h0m0 2h0m1-26h0m0 8h0m0 5h0m1-21h0m1 6h0m0 10h0m0 0h0m0 9h0m0 2h0m0 16h0m0 12h0m1-60h0m0 3h0m0 16h0m0 8h0m0 2h0m0 7h0m1-33h0m0 3h0m1-1h0m0 2h0m0 13h0m0 0h0m0 11h0m0 11h0m1-40h0m0 1h0m0 5h0m0 2h0m0 2h0m0 18h0m1-24h0m0 12h0m0 10h0m0 2h0m0 1h0m1-31h0m0 1h0m0 9h0m0 1h0m0 3h0m0 9h0m0 16h0m1-28h0m0 1h0m0 3h0m0 0h0m0 26h0m0 3h0m0 6h0m0 2h0m1-46h0m0 9h0m0 12h0m0 5h0m1-31h0m0 2h0m0 4h0m0 2h0m0 3h0m0 4h0m0 17h0m1-14h0m0 1h0m0 7h0m1-22h0m0 19h0m0 7h0m0 20h0m1-49h0m0 65h0m2-51h0m0 2h0m0 1h0m0 0h0m0 8h0m0 4h0m1-29h0m0 3h0m0 1h0m0 3h0m0 15h0m0 43h0m1-61h0m0 3h0m0 9h0m0 2h0m0 0h0m1-12h0m0 6h0m0 22h0m1-25h0m0 2h0m1-7h0m0 10h0m0 26h0m2-30h0m0 1h0m1 3h0m0 7h0m2-18h0m0 20h0m1-23h0m0 0h0m0 1h0m0 6h0m0 17h0m0 27h0m1-48h0m0 2h0m0 2h0m0 11h0m0 1h0m0 6h0m1-17h0m0 0h0m0 19h0m1-20h0m0 2h0m1-5h0m0 8h0m1-8h0m0 0h0m0 5h0m0 9h0m0 5h0m0 7h0m0 1h0m0 11h0m1-34h0m0 25h0m0 1h0m0 10h0m1-42h0m0 7h0m0 16h0m0 25h0m1-26h0m0 5h0m0 15h0m1-27h0m0 11h0m0 11h0m0 7h0m0 11h0m1-49h0m0 6h0m0 14h0m0 4h0m1-31h0m0 8h0m0 1h0m0 4h0m0 21h0m1-31h0m0 9h0m0 0h0m0 7h0m0 17h0m0 4h0m1-30h0m0 28h0m0 43h0m1-56h0m0 7h0m1-11h0m0 7h0m0 10h0m1-34h0m0 2h0m0 8h0m1-3h0m0 0h0m0 0h0m0 5h0m0 6h0m0 9h0m1-26h0m0 2h0m0 1h0m0 18h0m1-24h0m0 2h0m0 9h0m0 5h0m0 8h0m1-21h0m0 14h0m0 10h0m0 17h0m1-34h0m0 4h0m0 1h0m1-2h0m0 0h0m1 9h0m0 12h0m1-33h0m1-32h0m0 18h0m0 1h0m0 10h0m0 8h0m0 26h0m0 3h0m1-28h0m0 16h0m0 3h0m1-52h0m0 18h0m0 6h0m0 0h0m0 4h0m0 11h0m0 17h0m1-50h0m0 15h0m1 16h0m1-42h0m0 5h0m0 2h0m0 16h0m0 1h0m0 0h0m0 3h0m0 1h0m0 9h0m0 3h0m0 2h0m0 14h0m1-39h0m0 4h0m0 1h0m0 0h0m0 10h0m0 16h0m1-44h0m0 2h0m0 18h0m0 20h0m0 19h0m1-57h0m0 17h0m1-22h0m0 16h0m0 8h0m0 3h0m0 2h0m0 1h0m0 3h0m0 11h0m1-18h0m0 5h0m0 10h0m0 18h0m1-60h0m0 7h0m0 4h0m0 2h0m0 7h0m0 1h0m0 11h0m0 8h0m0 18h0m1-54h0m0 2h0m0 12h0m0 3h0m0 15h0m0 11h0m0 0h0m0 9h0m1-41h0m0 8h0m0 5h0m0 12h0m0 3h0m0 0h0m1-17h0m0 7h0m0 9h0m0 6h0m0 4h0m1-51h0m0 5h0m0 9h0m0 13h0m0 2h0m0 7h0m1-31h0m0 9h0m0 3h0m0 4h0m0 20h0m0 2h0m0 6h0m1-38h0m0 2h0m0 2h0m0 2h0m0 30h0m0 8h0m1-50h0m0 6h0m0 3h0m0 10h0m0 10h0m0 2h0m0 4h0m0 3h0m0 5h0m0 5h0m0 5h0m1-44h0m0 13h0m0 20h0m0 4h0m0 5h0m1-54h0m0 3h0m0 7h0m0 2h0m0 8h0m0 13h0m1-36h0m0 3h0m0 4h0m0 3h0m0 3h0m0 0h0m0 3h0m0 1h0m0 9h0m0 2h0m1-15h0m0 2h0m0 1h0m0 10h0m0 0h0m0 12h0m0 5h0m0 6h0m0 13h0m1-51h0m0 3h0m0 7h0m0 15h0m0 2h0m0 8h0m1-28h0m0 14h0m0 1h0m0 3h0m0 13h0m0 3h0m0 4h0m0 3h0m1-25h0m0 3h0m0 1h0m0 15h0m1-35h0m0 12h0m0 4h0m0 7h0m0 4h0m1-43h0m0 2h0m0 3h0m0 5h0m0 14h0m0 6h0m0 3h0m0 2h0m0 5h0m0 4h0m0 9h0m1-51h0m0 9h0m0 0h0m0 11h0m0 1h0m0 2h0m1-26h0m0 24h0m0 5h0m0 3h0m0 12h0m1-36h0m0 2h0m0 1h0m0 0h0m0 16h0m0 7h0m1-30h0m0 2h0m0 1h0m0 5h0m0 2h0m0 20h0m1-16h0m0 8h0m0 8h0m1-32h0m0 6h0m0 2h0m0 6h0m0 15h0m0 15h0m1-32h0m0 5h0m0 18h0m1-24h0m0 6h0m0 23h0m0 1h0m0 6h0m0 5h0m1-49h0m0 4h0m0 15h0m0 9h0m0 3h0m0 2h0m0 5h0m0 2h0m1-17h0m0 7h0m0 8h0m0 7h0m0 13h0m1-62h0m0 7h0m0 2h0m0 20h0m0 2h0m0 17h0m0 1h0m1-48h0m0 13h0m0 23h0m0 14h0m1-44h0m0 10h0m0 1h0m0 19h0m0 6h0m1-38h0m0 3h0m0 4h0m0 4h0m0 14h0m1-30h0m0 5h0m0 4h0m0 3h0m0 3h0m0 1h0m0 20h0m1-34h0m0 12h0m0 4h0m0 14h0m0 6h0m0 9h0m1-47h0m0 11h0m0 2h0m0 2h0m0 3h0m0 3h0m0 0h0m1-15h0m0 16h0m0 6h0m1-27h0m0 5h0m0 10h0m0 7h0m0 26h0m1-46h0m0 4h0m0 10h0m0 2h0m0 1h0m0 11h0m0 3h0m1-26h0m0 3h0m0 7h0m0 32h0m0 13h0m1-51h0m0 10h0m0 4h0m1-20h0m0 3h0m0 1h0m0 1h0m0 5h0m1-18h0m0 2h0m0 1h0m0 4h0m0 2h0m0 6h0m0 16h0m0 15h0m0 5h0m1-51h0m0 21h0m0 10h0m0 8h0m0 1h0m1-39h0m0 7h0m0 14h0m0 3h0m0 7h0m0 3h0m0 7h0m0 1h0m0 2h0m1-44h0m0 23h0m0 0h0m0 13h0m0 11h0m1-45h0m0 14h0m0 16h0m1-20h0m0 4h0m0 10h0m0 0h0m0 0h0m0 1h0m0 22h0m0 6h0m1-55h0m0 2h0m0 1h0m0 32h0m0 3h0m0 1h0m0 9h0m0 3h0m1-52h0m0 1h0m0 6h0m0 2h0m0 4h0m0 9h0m0 11h0m0 1h0m0 2h0m0 2h0m0 2h0m1-13h0m0 8h0m0 14h0m1-45h0m0 15h0m0 2h0m0 11h0m1-26h0m0 5h0m0 4h0m0 4h0m0 5h0m0 1h0m0 4h0m1-26h0m0 29h0m0 6h0m0 3h0m0 2h0m1-36h0m0 3h0m0 10h0m0 3h0m1 9h0m0 4h0m0 8h0m1-42h0m0 29h0m0 0h0m1-26h0m0 1h0m0 10h0m0 4h0m0 5h0m0 1h0m0 1h0m0 1h0m0 4h0m1-28h0m0 0h0m0 4h0m0 10h0m0 3h0m0 2h0m0 14h0m0 7h0m1-43h0m0 2h0m0 2h0m0 5h0m0 7h0m0 20h0m1-30h0m0 2h0m0 4h0m0 4h0m0 12h0m0 8h0m0 1h0m0 10h0m1-42h0m0 6h0m0 1h0m0 5h0m0 7h0m0 6h0m0 4h0m0 3h0m1-18h0m0 3h0m0 0h0m0 13h0m0 1h0m0 3h0m1-39h0m0 4h0m0 5h0m0 1h0m0 2h0m0 6h0m0 6h0m0 9h0m0 3h0m0 1h0m1-32h0m0 7h0m0 1h0m0 1h0m0 10h0m0 20h0m1-34h0m0 4h0m0 1h0m0 13h0m0 12h0m1-40h0m0 1h0m0 11h0m0 57h0m2-67h0m0 3h0m0 2h0m0 10h0m0 3h0m0 6h0m0 10h0m0 4h0m0 3h0m0 17h0m1-56h0m0 0h0m0 17h0m0 7h0m0 5h0m0 2h0m0 3h0m0 4h0m0 9h0m0 11h0m1-39h0m0 5h0m0 16h0m1-33h0m0 5h0m0 6h0m0 16h0m0 0h0m0 4h0m1-37h0m0 1h0m0 5h0m0 9h0m0 4h0m0 1h0m0 8h0m0 15h0m1-41h0m0 2h0m0 0h0m0 1h0m0 13h0m0 2h0m0 0h0m0 5h0m1-26h0m0 2h0m0 1h0m0 17h0m0 6h0m0 4h0m1-33h0m0 11h0m0 12h0m0 0h0m0 13h0m1-28h0m0 1h0m0 3h0m0 6h0m0 12h0m0 2h0m1-32h0m0 6h0m0 8h0m0 5h0m0 2h0m0 0h0m0 4h0m0 16h0m0 10h0m1-52h0m0 3h0m0 2h0m0 23h0m0 4h0m0 1h0m0 15h0m1-36h0m0 14h0m0 6h0m0 15h0m1-46h0m0 22h0m1-10h0m0 1h0m0 20h0m0 11h0m1-43h0m0 5h0m0 8h0m0 5h0m0 5h0m0 14h0m0 5h0m0 14h0m1-48h0m0 4h0m0 1h0m0 7h0m1 1h0m0 8h0m0 12h0m0 3h0m1-42h0m0 0h0m0 3h0m0 6h0m0 4h0m0 9h0m1-23h0m0 7h0m0 5h0m0 11h0m0 11h0m1-30h0m0 4h0m0 14h0m0 2h0m0 4h0m0 2h0m0 6h0m0 10h0m1-45h0m0 8h0m0 0h0m0 3h0m0 3h0m0 3h0m0 1h0m0 2h0m0 2h0m0 1h0m1-20h0m0 14h0m0 20h0m1-34h0m0 10h0m0 3h0m0 4h0m0 3h0m0 7h0m1-26h0m0 1h0m0 2h0m0 1h0m0 1h0m0 10h0m0 1h0m1-24h0m0 1h0m0 9h0m0 18h0m0 9h0m0 2h0m0 19h0m1-46h0m0 1h0m0 11h0m0 20h0m1-36h0m0 13h0m0 23h0m1-42h0m0 2h0m0 1h0m0 2h0m0 11h0m0 5h0m0 0h0m0 18h0m1-40h0m0 24h0m0 3h0m0 13h0m0 4h0m0 9h0m1-52h0m0 2h0m0 10h0m0 2h0m0 9h0m0 8h0m0 3h0m0 1h0m0 1h0m1-39h0m0 3h0m0 8h0m0 2h0m0 5h0m0 9h0m0 15h0m1-38h0m0 5h0m0 3h0m0 7h0m0 3h0m0 9h0m0 4h0m0 12h0m0 17h0m1-62h0m0 1h0m0 20h0m0 2h0m0 5h0m0 5h0m0 24h0m1-41h0m0 1h0m0 2h0m0 13h0m1-9h0m0 1h0m1 3h0m0 2h0m0 4h0m0 17h0m1-44h0m0 2h0m0 12h0m0 1h0m0 7h0m0 1h0m0 1h0m0 2h0m1-26h0m0 5h0m0 9h0m0 3h0m0 3h0m0 5h0m0 8h0m1-37h0m0 19h0m0 2h0m0 4h0m0 17h0m1-39h0m0 0h0m0 10h0m0 5h0m0 6h0m1-27h0m0 6h0m0 7h0m0 3h0m0 2h0m0 2h0m0 12h0m0 3h0m0 5h0"/>
<path d="M92 433h0m0 5h0m1-51h0m1 19h0m1-112h0m1 111h0m0 24h0m2-8h0m2-210h0m0 220h0m1-33h0m2-162h0m0 181h0m0 14h0m4-70h0m4 8h0m2 10h0m10-106h0m2 27h0m1 52h0m4-45h0m0 50h0m0 7h0m0 41h0m1-48h0m4-47h0m2-45h0m0 62h0m1-43h0m0 7h0m0 43h0m5-33h0m0 21h0m1 26h0m0 14h0m1-78h0m0 54h0m4-48h0m1-18h0m0 20h0m0 1h0m0 28h0m4 23h0m3-4h0m3-50h0m0 20h0m2-3h0m1-11h0m2 22h0m2-45h0m0 10h0m0 39h0m1-23h0m0 15h0m1-39h0m2 16h0m1 27h0m2-30h0m1 16h0m2 1h0m5-28h0m3 13h0m2-1h0m2 40h0m2-25h0m2-17h0m2-2h0m0 8h0m0 6h0m1-11h0m1 14h0m3 31h0m3-29h0m0 46h0m2-63h0m1-5h0m10-8h0m0 14h0m1-9h0m0 32h0m9 0h0m1-44h0m2-20h0m2 2h0m0 3h0m0 29h0m4-37h0m0 7h0m1-8h0m2 33h0m1-31h0m1-14h0m2 0h0m0 8h0m0 49h0m1-32h0m1 51h0m4-68h0m0 41h0m2-8h0m3-5h0m0 5h0m3-17h0m1 1h0m0 16h0m2-3h0m2-39h0m1 49h0m1-18h0m1-5h0m1-13h0m0 6h0m4-15h0m1 2h0m1 3h0m0 10h0m3 9h0m1 2h0m1-10h0m2 17h0m1 1h0m1-29h0m0 23h0m0 8h0m1-29h0m0 4h0m2 12h0m3 17h0m1-28h0m0 12h0m2-12h0m0 15h0m1-19h0m1-7h0m2-6h0m0 8h0m1 14h0m0 2h0m0 17h0m1-18h0m0 8h0m1-2h0m1-17h0m4-2h0m0 29h0m2-32h0m0 25h0m0 20h0m2-38h0m0 19h0m0 29h0m2-36h0m0 2h0m0 2h0m1-21h0m0 21h0m1-18h0m1 47h0m1-28h0m1 2h0m1 3h0m2-19h0m0 45h0m1-49h0m1-13h0m1 28h0m0 8h0m1-29h0m0 51h0m1-59h0m0 35h0m1-19h0m0 11h0m1-11h0m1 8h0m1-5h0m0 6h0m2 0h0m0 16h0m1-37h0m2 1h0m1 11h0m0 13h0m0 2h0m1-16h0m0 0h0m1-9h0m3 4h0m2 17h0m1-21h0m4 20h0m0 10h0m1-25h0m1 0h0m0 0h0m0 17h0m1-21h0m1-2h0m0 25h0m1-50h0m1-9h0m0 8h0m0 19h0m0 0h0m0 2h0m1-28h0m1 39h0m1-17h0m2-17h0m0 37h0m1-48h0m0 23h0m0 26h0m1-24h0m0 1h0m0 19h0m1-28h0m0 38h0m2-52h0m0 43h0m1-46h0m0 3h0m0 18h0m1-5h0m0 44h0m3-46h0m0 20h0m0 1h0m0 5h0m1-36h0m0 33h0m2-26h0m0 17h0m0 15h0m1-24h0m0 17h0m0 17h0m1-25h0m1-9h0m1-15h0m0 14h0m0 18h0m1-6h0m0 43h0m1-65h0m0 5h0m0 24h0m0 27h0m1-42h0m0 11h0m1-19h0m0 4h0m1-6h0m0 8h0m0 5h0m1-25h0m0 8h0m1 5h0m0 21h0m1-38h0m0 3h0m0 30h0m0 14h0m1 42h0m1-34h0m1-51h0m0 22h0m1-1h0m0 35h0m1-26h0m1-27h0m1 35h0m0 7h0m1-16h0m0 7h0m2-19h0m0 5h0m0 9h0m1-16h0m4 16h0m1-32h0m0 30h0m0 0h0m2-32h0m0 42h0m1-43h0m0 22h0m0 6h0m0 4h0m1-24h0m0 22h0m1-30h0m0 8h0m0 50h0m1-44h0m0 10h0m0 33h0m1-54h0m0 12h0m1 12h0m1-9h0m1-17h0m0 38h0m1-34h0m0 25h0m1-27h0m1 24h0m1 3h0m0 8h0m0 9h0m1-36h0m0 19h0m0 21h0m1-35h0m0 10h0m0 6h0m0 3h0m0 6h0m0 0h0m0 18h0m1-16h0m1-21h0m0 10h0m0 11h0m0 4h0m1-31h0m0 26h0m1-32h0m0 7h0m0 6h0m1-2h0m0 22h0m1-36h0m0 2h0m0 33h0m1-22h0m1-16h0m0 2h0m1 4h0m0 0h0m1 16h0m0 11h0m0 7h0m1-38h0m1 6h0m2-8h0m1 15h0m0 2h0m0 15h0m1-28h0m0 2h0m1 2h0m0 15h0m0 15h0m1-25h0m1-13h0m1 3h0m0 17h0m0 10h0m0 19h0m1-34h0m0 8h0m1-24h0m0 9h0m0 35h0m4-16h0m0 9h0m1-35h0m0 26h0m0 15h0m1-30h0m1 6h0m1-21h0m0 10h0m1-1h0m0 15h0m1-11h0m0 3h0m0 99h0m1-110h0m0 30h0m1-28h0m0 13h0m0 13h0m1-11h0m1-22h0m0 55h0m1-47h0m0 18h0m1-24h0m0 9h0m0 4h0m1-2h0m1 1h0m0 42h0m1-56h0m0 21h0m0 2h0m0 5h0m1-8h0m0 5h0m1-17h0m0 15h0m2-10h0m0 10h0m1-22h0m0 8h0m0 5h0m0 27h0m1-38h0m0 10h0m2-7h0m0 3h0m0 6h0m1-12h0m1 8h0m0 0h0m0 1h0m0 3h0m0 7h0m1-21h0m0 35h0m1-23h0m1-38h0m0 29h0m0 6h0m0 13h0m0 5h0m0 4h0m1-41h0m0 5h0m0 11h0m1-31h0m0 33h0m0 9h0m0 21h0m1-61h0m0 5h0m0 20h0m0 10h0m1-34h0m0 19h0m0 6h0m0 10h0m0 3h0m1-44h0m0 25h0m0 5h0m0 0h0m0 8h0m0 14h0m1-25h0m0 0h0m0 22h0m0 1h0m0 0h0m0 0h0m0 3h0m0 1h0m1-47h0m0 10h0m0 5h0m0 2h0m0 1h0m1-2h0m0 12h0m0 16h0m1-47h0m0 14h0m0 1h0m0 7h0m0 8h0m0 21h0m0 4h0m2-30h0m0 11h0m1-22h0m0 16h0m0 18h0m1-42h0m1 8h0m0 21h0m0 2h0m0 3h0m1-44h0m0 0h0m0 7h0m0 16h0m0 8h0m0 4h0m1-18h0m0 18h0m0 5h0m0 1h0m1-27h0m0 24h0m0 89h0m1-126h0m0 7h0m0 3h0m0 27h0m0 5h0m1-3h0m1-41h0m0 11h0m1-6h0m0 5h0m0 19h0m0 2h0m0 4h0m0 26h0m0 1h0m1-51h0m0 5h0m0 2h0m0 18h0m1-29h0m0 35h0m0 2h0m0 3h0m1-34h0m0 21h0m0 3h0m0 8h0m1-26h0m0 3h0m0 12h0m0 1h0m1-33h0m0 11h0m0 19h0m0 13h0m1-34h0m0 2h0m0 9h0m0 7h0m0 10h0m1-30h0m1 8h0m0 2h0m0 1h0m0 15h0m0 11h0m0 18h0m1-60h0m0 7h0m0 2h0m0 3h0m0 1h0m0 6h0m0 1h0m0 13h0m0 14h0m1-39h0m0 5h0m0 14h0m1-13h0m0 48h0m1-48h0m0 2h0m0 6h0m0 20h0m1-45h0m0 1h0m0 10h0m0 16h0m1-23h0m0 2h0m0 1h0m1 0h0m0 4h0m1-6h0m0 1h0m0 18h0m0 3h0m0 7h0m0 4h0m1-31h0m0 12h0m0 12h0m1-29h0m0 4h0m0 18h0m1-13h0m1-4h0m0 11h0m0 3h0m0 35h0m1-55h0m0 16h0m0 8h0m0 1h0m1-15h0m1-10h0m0 12h0m0 9h0m0 10h0m0 15h0m1-38h0m0 30h0m1-39h0m0 36h0m0 2h0m1-29h0m0 0h0m0 12h0m0 8h0m0 3h0m0 17h0m0 10h0m1-47h0m0 1h0m0 3h0m0 14h0m0 18h0m0 5h0m1-52h0m0 13h0m0 11h0m0 3h0m0 7h0m0 5h0m0 12h0m1-43h0m0 3h0m0 4h0m0 12h0m0 9h0m1-17h0m0 13h0m0 1h0m0 3h0m1-27h0m0 14h0m1-23h0m0 19h0m0 6h0m1-19h0m0 13h0m0 2h0m1-14h0m0 14h0m0 29h0m1-44h0m0 3h0m0 4h0m0 2h0m0 3h0m0 5h0m0 8h0m0 1h0m1-21h0m0 18h0m0 14h0m0 1h0m1-39h0m0 1h0m0 1h0m0 3h0m0 9h0m0 23h0m1-36h0m0 7h0m0 1h0m0 7h0m0 3h0m0 1h0m1-18h0m0 7h0m0 31h0m1-45h0m0 18h0m0 6h0m0 1h0m0 9h0m1-34h0m0 4h0m0 15h0m0 1h0m0 14h0m1-29h0m0 2h0m0 1h0m0 9h0m1-11h0m0 4h0m0 8h0m0 4h0m0 29h0m1-50h0m0 0h0m0 16h0m0 6h0m1-21h0m0 5h0m0 12h0m0 16h0m0 5h0m0 2h0m1-39h0m0 1h0m0 6h0m0 3h0m0 5h0m0 9h0m0 7h0m1-11h0m0 9h0m0 19h0m1-49h0m0 3h0m0 14h0m1-13h0m0 10h0m0 7h0m0 1h0m0 8h0m0 11h0m1-36h0m0 2h0m0 4h0m0 15h0m0 9h0m0 1h0m1-27h0m0 2h0m0 0h0m0 10h0m0 3h0m1-12h0m0 2h0m0 20h0m0 0h0m0 7h0m0 4h0m0 14h0m1-41h0m0 4h0m1-26h0m0 5h0m0 4h0m0 6h0m0 6h0m0 1h0m0 6h0m0 8h0m1-31h0m0 7h0m0 1h0m0 8h0m0 21h0m1-35h0m0 6h0m0 10h0m0 11h0m0 4h0m1-33h0m0 6h0m0 8h0m0 7h0m0 10h0m0 1h0m1-35h0m0 5h0m0 5h0m0 6h0m0 0h0m0 13h0m0 6h0m1-33h0m0 27h0m1-20h0m0 6h0m0 1h0m0 2h0m0 16h0m0 7h0m1-32h0m0 2h0m0 2h0m0 4h0m0 0h0m0 10h0m0 3h0m1-31h0m0 17h0m1-15h0m0 4h0m1 1h0m0 18h0m0 11h0m0 3h0m1-35h0m0 8h0m0 10h0m1-19h0m0 18h0m0 0h0m0 1h0m0 3h0m0 4h0m0 7h0m0 0h0m0 11h0m1-31h0m1-10h0m0 3h0m0 7h0m0 0h0m0 0h0m0 14h0m0 1h0m0 0h0m1-30h0m0 2h0m0 16h0m0 3h0m1-16h0m0 7h0m0 10h0m0 10h0m0 21h0m1-49h0m0 4h0m0 1h0m0 10h0m0 3h0m1 6h0m0 11h0m1-29h0m0 14h0m0 0h0m1-16h0m0 5h0m0 4h0m1 5h0m0 1h0m0 5h0m0 13h0m1-20h0m1-19h0m0 8h0m0 9h0m0 13h0m0 3h0m1-36h0m0 29h0m0 13h0m1-37h0m0 3h0m0 11h0m0 7h0m1-24h0m0 2h0m0 0h0m0 6h0m0 14h0m0 1h0m0 7h0m1-31h0m0 8h0m0 1h0m0 3h0m0 0h0m0 10h0m0 2h0m1-3h0m1-23h0m0 7h0m0 5h0m0 10h0m1-13h0m1 3h0m0 4h0m0 13h0m0 5h0m1-30h0m0 4h0m0 9h0m1-12h0m0 1h0m0 18h0m0 6h0m0 2h0m0 20h0m1-40h0m1-6h0m0 14h0m0 3h0m1-17h0m0 7h0m0 1h0m0 7h0m0 3h0m1-23h0m0 1h0m0 0h0m0 9h0m0 2h0m0 0h0m0 5h0m0 1h0m1-16h0m0 11h0m0 9h0m1-13h0m0 7h0m0 4h0m0 2h0m1-8h0m0 6h0m0 2h0m0 17h0m1-38h0m0 11h0m0 2h0m0 2h0m0 7h0m1-40h0m0 4h0m0 15h0m0 0h0m0 8h0m1-23h0m0 8h0m0 4h0m0 0h0m0 3h0m0 0h0m1-24h0m0 5h0m0 0h0m0 8h0m0 0h0m0 13h0m0 23h0m1-53h0m0 5h0m0 1h0m0 21h0m0 6h0m0 3h0m0 3h0m0 0h0m0 1h0m0 11h0m1-47h0m0 0h0m0 25h0m0 6h0m0 5h0m0 1h0m0 3h0m0 10h0m1-52h0m0 18h0m0 5h0m0 17h0m0 39h0m1-81h0m0 6h0m0 2h0m0 4h0m0 2h0m0 17h0m0 2h0m0 5h0m0 5h0m1-29h0m0 2h0m0 8h0m0 0h0m0 2h0m0 0h0m0 13h0m0 8h0m0 2h0m1-45h0m0 6h0m0 15h0m0 7h0m0 1h0m0 13h0m1-22h0m0 7h0m0 3h0m0 15h0m0 21h0m1-28h0m1-34h0m0 5h0m0 12h0m0 16h0m1-30h0m0 11h0m0 11h0m0 2h0m0 4h0m1-24h0m0 8h0m0 3h0m0 3h0m0 2h0m1-28h0m0 14h0m0 3h0m0 1h0m0 8h0m0 5h0m0 3h0m0 10h0m1-39h0m0 7h0m0 3h0m0 2h0m0 2h0m1-5h0m0 3h0m0 3h0m0 9h0m0 3h0m0 11h0m0 6h0m1-39h0m0 1h0m0 14h0m1-19h0m0 4h0m0 12h0m0 1h0m0 12h0m0 1h0m0 7h0m1-27h0m0 0h0m0 16h0m0 3h0m1-39h0m0 1h0m0 12h0m0 23h0m0 6h0m0 1h0m0 29h0m1-72h0m0 4h0m0 7h0m0 4h0m0 5h0m0 0h0m0 1h0m0 6h0m0 36h0m1-58h0m0 19h0m0 7h0m0 0h0m0 15h0m1-31h0m0 10h0m0 0h0m0 3h0m0 18h0m1-44h0m0 9h0m0 17h0m0 4h0m0 22h0m0 1h0m0 1h0m1-51h0m0 31h0m1-35h0m0 1h0m0 1h0m0 4h0m0 13h0m0 8h0m0 0h0m0 8h0m1-33h0m0 6h0m0 8h0m0 1h0m0 2h0m0 8h0m0 7h0m0 2h0m0 4h0m0 5h0m0 10h0m1-25h0m0 14h0m1-44h0m0 16h0m0 4h0m0 2h0m0 23h0m0 4h0m1-38h0m0 6h0m0 2h0m0 4h0m0 5h0m0 12h0m0 3h0m0 5h0m1-24h0m0 2h0m0 8h0m0 7h0m0 1h0m1-43h0m0 5h0m0 0h0m0 6h0m0 4h0m0 1h0m0 8h0m0 20h0m1-44h0m0 2h0m0 0h0m0 11h0m0 2h0m0 8h0m0 1h0m0 0h0m0 6h0m0 5h0m0 7h0m0 4h0m0 4h0m0 23h0m1-73h0m0 1h0m0 4h0m0 14h0m0 12h0m0 6h0m0 2h0m0 9h0m1-38h0m0 2h0m0 6h0m0 2h0m0 2h0m0 1h0m0 27h0m0 8h0m1-56h0m0 12h0m0 3h0m0 8h0m1-24h0m0 14h0m0 1h0m0 21h0m0 1h0m0 1h0m0 25h0m1-54h0m0 0h0m0 4h0m0 6h0m0 3h0m0 13h0m0 3h0m0 8h0m1-18h0m1-28h0m0 9h0m0 32h0m0 2h0m0 1h0m1-39h0m0 1h0m0 2h0m0 12h0m0 4h0m0 7h0m0 2h0m0 5h0m0 9h0m1-33h0m0 6h0m0 12h0m0 0h0m0 1h0m0 4h0m0 6h0m1-42h0m0 1h0m0 21h0m0 2h0m0 10h0m0 8h0m0 0h0m1-41h0m0 7h0m0 1h0m0 6h0m0 3h0m0 8h0m0 2h0m0 4h0m0 5h0m0 24h0m1-61h0m0 1h0m0 9h0m1 6h0m0 18h0m0 5h0m0 0h0m0 2h0m0 2h0m0 1h0m0 8h0m0 3h0m1-51h0m0 2h0m0 6h0m0 12h0m0 5h0m0 5h0m1-24h0m0 1h0m0 3h0m0 0h0m0 3h0m1-18h0m0 4h0m0 4h0m0 14h0m0 0h0m0 1h0m0 8h0m0 24h0m1-17h0m0 5h0m1-23h0m0 3h0m0 1h0m0 3h0m0 1h0m0 19h0m1-43h0m0 3h0m0 9h0m0 11h0m0 10h0m0 6h0m0 4h0m1-44h0m0 2h0m0 4h0m0 1h0m0 5h0m0 2h0m0 6h0m0 9h0m0 17h0m0 30h0m1-62h0m0 0h0m0 1h0m0 0h0m0 2h0m0 8h0m0 11h0m1-25h0m0 15h0m0 0h0m0 38h0m1-64h0m0 7h0m0 1h0m0 2h0m0 5h0m0 0h0m0 17h0m0 21h0m1-55h0m0 1h0m0 4h0m1-3h0m0 11h0m0 9h0m0 10h0m1-33h0m0 4h0m0 1h0m0 7h0m0 1h0m0 37h0m1-51h0m0 23h0m0 9h0m0 3h0m0 4h0m0 3h0m0 5h0m0 1h0m1-44h0m0 0h0m0 10h0m0 1h0m0 2h0m0 4h0m0 3h0m0 9h0m0 19h0m1-36h0m0 10h0m0 1h0m0 4h0m0 6h0m0 1h0m0 9h0m0 21h0m1-68h0m0 1h0m0 0h0m0 3h0m0 0h0m0 1h0m0 17h0m0 16h0m1-22h0m0 6h0m0 7h0m0 4h0m0 0h0m0 0h0m0 10h0m1-28h0m0 3h0m0 7h0m0 7h0m0 10h0m0 13h0m1-52h0m0 6h0m0 17h0m0 8h0m0 0h0m0 18h0m1-50h0m0 22h0m0 3h0m0 25h0m1-49h0m0 1h0m0 10h0m1-5h0m0 1h0m0 9h0m0 7h0m0 20h0m0 5h0m0 3h0m1-49h0m0 35h0m1-36h0m0 5h0m0 16h0m0 7h0m0 2h0m0 2h0m0 0h0m0 3h0m1-13h0m0 4h0m0 3h0m0 2h0m0 2h0m1-4h0m0 18h0m0 14h0m1-55h0m0 4h0m0 1h0m0 5h0m0 8h0m0 10h0m1-34h0m0 0h0m0 2h0m0 1h0m0 1h0m0 0h0m0 3h0m0 3h0m0 4h0m0 13h0m0 7h0m0 3h0m0 2h0m0 2h0m1-43h0m0 6h0m0 0h0m0 10h0m0 3h0m0 2h0m0 17h0m0 10h0m0 0h0m1-49h0m0 6h0m0 0h0m0 4h0m0 1h0m0 0h0m0 4h0m0 8h0m1-12h0m0 1h0m0 6h0m0 2h0m0 1h0m0 0h0m0 0h0m0 24h0m1-40h0m0 2h0m0 11h0m0 6h0m0 0h0m0 16h0m1-40h0m0 23h0m0 1h0m1-25h0m0 18h0m0 3h0m0 2h0m0 7h0m0 2h0m0 3h0m1-22h0m0 25h0m0 25h0m1-56h0m0 27h0m1-23h0m0 2h0m0 2h0m0 3h0m0 27h0m1-41h0m0 4h0m0 11h0m0 0h0m0 1h0m0 14h0m0 0h0m0 9h0m0 7h0m1-43h0m0 7h0m0 5h0m0 11h0m0 4h0m0 14h0m1-43h0m0 2h0m0 1h0m0 17h0m0 4h0m0 20h0m1-46h0m0 2h0m0 2h0m0 20h0m0 10h0m0 10h0m1-38h0m0 2h0m0 6h0m0 2h0m0 4h0m0 2h0m0 0h0m0 1h0m0 4h0m0 4h0m0 10h0m1-43h0m0 1h0m0 7h0m0 13h0m0 3h0m0 4h0m1-28h0m0 5h0m0 2h0m0 2h0m0 9h0m1-6h0m0 8h0m0 10h0m0 2h0m1-32h0m0 7h0m0 10h0m0 13h0m1-12h0m0 1h0m0 6h0m0 24h0m1-43h0m0 17h0m0 10h0m0 18h0m1-50h0m0 10h0m0 8h0m0 1h0m0 20h0m1-36h0m0 15h0m0 10h0m0 3h0m1-32h0m0 9h0m0 2h0m0 2h0m0 2h0m0 19h0m0 12h0m1-36h0m0 6h0m0 4h0m0 4h0m0 12h0m0 5h0m1-36h0m0 4h0m0 6h0m0 7h0m0 1h0m0 24h0m1-33h0m0 10h0m0 3h0m0 1h0m0 2h0m0 10h0m0 3h0m0 1h0m0 6h0m1-48h0m0 4h0m0 11h0m0 1h0m0 3h0m0 16h0m1-29h0m0 0h0m0 0h0m0 1h0m0 1h0m0 13h0m0 1h0m0 2h0m0 2h0m0 2h0m0 4h0m0 1h0m0 5h0m0 5h0m0 10h0m1-50h0m0 3h0m0 12h0m0 3h0m0 14h0m0 3h0m0 2h0m0 6h0m0 4h0m1-42h0m0 18h0m0 3h0m0 5h0m0 1h0m0 0h0m0 7h0m1-39h0m0 6h0m0 11h0m0 6h0m0 2h0m1-28h0m0 5h0m0 4h0m0 2h0m0 11h0m0 3h0m0 1h0m0 7h0m1-32h0m0 8h0m0 9h0m0 3h0m0 6h0m0 7h0m0 1h0m0 1h0m1-37h0m0 4h0m0 1h0m0 6h0m0 1h0m0 1h0m1-14h0m0 3h0m0 3h0m0 7h0m0 1h0m0 18h0m1-8h0m0 2h0m0 1h0m0 4h0m0 2h0m0 4h0m0 2h0m0 17h0m1-56h0m0 9h0m0 3h0m0 7h0m0 14h0m0 13h0m1-41h0m0 22h0m0 1h0m0 14h0m0 3h0m1-29h0m0 3h0m0 1h0m0 10h0m0 2h0m0 2h0m0 0h0m0 5h0m0 9h0m1-45h0m0 2h0m0 19h0m0 29h0m1-49h0m0 4h0m0 13h0m0 1h0m0 8h0m0 4h0m0 4h0m0 3h0m0 8h0m1-20h0"/>
<path d="M80 411h0m6-198h0m0 195h0m3-5h0m2 5h0m1 34h0m1-137h0m1 66h0m0 25h0m0 47h0m3-88h0m3 71h0m4-118h0m1 98h0m1-28h0m12-61h0m0 52h0m1 6h0m9-47h0m0 35h0m2 9h0m1-50h0m0 52h0m2-73h0m4-25h0m0 50h0m1-40h0m0 26h0m0 26h0m2-20h0m3-14h0m7 16h0m5-28h0m1 16h0m0 3h0m0 21h0m1-47h0m1-11h0m0 71h0m3-1h0m2-73h0m1 58h0m4-30h0m2-16h0m1-3h0m1 45h0m2-54h0m0 63h0m1-23h0m0 18h0m1-23h0m1-15h0m4 58h0m5-77h0m2 14h0m8 18h0m2 22h0m1-43h0m0 17h0m2-33h0m3 26h0m2-3h0m0 9h0m1 15h0m1-46h0m5 15h0m1 16h0m0 1h0m5-20h0m0 13h0m1-14h0m3 12h0m1-15h0m2 40h0m1-35h0m4 12h0m1-36h0m3-14h0m0 37h0m2 3h0m0 8h0m8-45h0m0 5h0m0 20h0m1-35h0m0 3h0m3 35h0m1-40h0m1 1h0m0 18h0m0 25h0m0 2h0m0 31h0m1-44h0m2-7h0m2-26h0m0 8h0m0 15h0m0 3h0m1-19h0m0 4h0m0 3h0m3 56h0m1-62h0m2-10h0m0 21h0m0 4h0m1-7h0m0 4h0m0 40h0m2-61h0m0 4h0m0 54h0m1-28h0m4-29h0m0 20h0m0 18h0m1-23h0m2 17h0m2-28h0m1 34h0m1-27h0m1 26h0m1-38h0m0 10h0m0 21h0m0 2h0m2 4h0m1-40h0m0 10h0m0 30h0m2-38h0m0 13h0m0 18h0m2-11h0m1 21h0m0 17h0m4-52h0m1 18h0m1 5h0m2-31h0m0 44h0m1-45h0m2 4h0m0 13h0m1 23h0m2-35h0m0 25h0m1-24h0m1 45h0m1-52h0m1 25h0m2 0h0m1-17h0m0 11h0m0 38h0m1-37h0m1 9h0m1-24h0m0 33h0m2-1h0m3 0h0m2-33h0m0 11h0m1 4h0m2-11h0m0 14h0m0 16h0m2-19h0m1-11h0m0 32h0m1 4h0m2-29h0m0 40h0m1-20h0m3-4h0m0 26h0m1-56h0m1 42h0m1-36h0m0 2h0m1 0h0m3-6h0m1 20h0m1-13h0m1-10h0m0 32h0m1-27h0m0 41h0m1-19h0m0 13h0m3-37h0m0 7h0m1 12h0m1-57h0m0 21h0m0 18h0m1 33h0m1-58h0m0 7h0m1 14h0m0 8h0m0 0h0m0 30h0m1-72h0m0 27h0m1-10h0m1-3h0m0 30h0m2 13h0m0 5h0m1-21h0m0 22h0m1-31h0m0 6h0m1 6h0m0 9h0m1-49h0m0 6h0m0 28h0m0 1h0m2-30h0m0 37h0m1 2h0m1-32h0m1 3h0m0 25h0m1-45h0m1 4h0m1-2h0m0 19h0m1-3h0m1-4h0m0 17h0m0 12h0m1-17h0m0 3h0m2 15h0m1-28h0m1-3h0m0 18h0m0 19h0m1-15h0m1-25h0m1 19h0m0 7h0m1-22h0m0 29h0m2-23h0m0 17h0m1-30h0m0 5h0m0 15h0m0 8h0m0 4h0m2-35h0m2 8h0m1 15h0m0 19h0m0 9h0m1-52h0m0 23h0m2-10h0m1 13h0m0 24h0m2-23h0m1 4h0m0 34h0m1-65h0m0 30h0m1-16h0m2-16h0m0 11h0m0 15h0m2-20h0m1-4h0m0 12h0m0 22h0m1-18h0m1 23h0m1-28h0m0 37h0m1-52h0m0 31h0m0 29h0m2-27h0m0 33h0m1-59h0m0 11h0m0 18h0m1-21h0m0 17h0m1-11h0m0 2h0m0 2h0m0 1h0m0 4h0m0 1h0m1 33h0m3-64h0m0 24h0m1 21h0m2-38h0m1 4h0m0 0h0m0 11h0m0 19h0m1-5h0m1-16h0m0 2h0m1-23h0m0 9h0m2 2h0m0 25h0m0 10h0m1-28h0m0 11h0m2-23h0m1-3h0m1 3h0m0 6h0m1-12h0m1 8h0m0 5h0m0 1h0m0 10h0m1 21h0m0 2h0m1-46h0m1 14h0m0 1h0m1-6h0m0 8h0m0 1h0m0 27h0m1-45h0m0 14h0m0 4h0m0 6h0m1-14h0m0 0h0m0 2h0m0 2h0m1 2h0m0 1h0m0 28h0m1-47h0m0 25h0m0 1h0m1-22h0m0 4h0m0 10h0m0 5h0m3-21h0m0 3h0m0 39h0m1 0h0m1-13h0m1-28h0m0 8h0m0 10h0m0 6h0m2-18h0m0 4h0m0 6h0m0 10h0m1-11h0m1-17h0m0 14h0m1 10h0m0 28h0m1-48h0m0 24h0m1-11h0m1-16h0m0 13h0m0 0h0m0 45h0m3-51h0m0 4h0m0 7h0m0 2h0m0 8h0m1-7h0m1-21h0m0 5h0m0 5h0m0 0h0m0 7h0m0 4h0m1-18h0m0 3h0m1-2h0m1-3h0m0 2h0m0 3h0m0 13h0m0 20h0m1-66h0m0 53h0m0 1h0m1-36h0m0 2h0m0 33h0m1-51h0m0 7h0m0 16h0m0 10h0m0 5h0m1-35h0m0 1h0m0 4h0m0 1h0m0 12h0m0 21h0m1-43h0m0 0h0m0 1h0m0 3h0m0 3h0m0 8h0m0 6h0m0 9h0m0 3h0m1-14h0m0 19h0m0 13h0m1-49h0m0 3h0m0 6h0m0 0h0m0 10h0m0 13h0m0 0h0m0 19h0m1-40h0m0 15h0m0 6h0m0 11h0m0 8h0m0 2h0m1-56h0m0 18h0m0 0h0m0 8h0m0 31h0m0 4h0m1-54h0m0 25h0m0 4h0m0 7h0m0 9h0m1-27h0m0 12h0m1-36h0m0 16h0m0 32h0m1-50h0m0 7h0m0 17h0m0 26h0m1-40h0m0 2h0m0 7h0m0 34h0m1-32h0m0 2h0m0 2h0m0 5h0m0 3h0m0 9h0m0 10h0m1-51h0m0 27h0m0 12h0m0 16h0m1-49h0m0 6h0m0 0h0m0 3h0m0 21h0m1-31h0m0 2h0m0 5h0m0 1h0m0 3h0m0 11h0m0 22h0m1-29h0m0 8h0m0 22h0m1-37h0m0 4h0m0 25h0m1-32h0m0 26h0m0 13h0m1-40h0m0 1h0m0 12h0m0 12h0m0 20h0m1-48h0m0 2h0m0 2h0m0 11h0m0 13h0m0 12h0m0 40h0m1-76h0m0 4h0m0 18h0m0 1h0m0 0h0m0 30h0m0 3h0m1-55h0m0 0h0m0 43h0m1-30h0m0 0h0m1-5h0m0 29h0m1-30h0m0 12h0m0 33h0m1-57h0m0 12h0m0 8h0m0 6h0m0 4h0m0 15h0m0 12h0m1-61h0m0 5h0m0 2h0m0 8h0m0 30h0m1-45h0m0 10h0m0 10h0m0 9h0m1-23h0m0 14h0m0 6h0m0 4h0m1-32h0m0 2h0m0 9h0m0 17h0m0 9h0m1-10h0m1-20h0m0 2h0m0 33h0m0 3h0m1-37h0m0 0h0m0 0h0m0 4h0m0 4h0m0 2h0m0 15h0m0 11h0m0 4h0m1-37h0m0 6h0m0 13h0m0 5h0m0 9h0m1-46h0m0 10h0m0 9h0m0 2h0m0 17h0m0 19h0m1-49h0m0 9h0m0 0h0m0 41h0m1-10h0m0 11h0m1-30h0m1-28h0m0 7h0m0 3h0m0 25h0m0 4h0m1-35h0m0 4h0m1-8h0m0 16h0m0 29h0m0 20h0m1-43h0m0 1h0m0 5h0m0 11h0m1-36h0m0 14h0m0 0h0m0 13h0m1-31h0m0 15h0m0 4h0m0 16h0m0 5h0m1-28h0m0 25h0m1-29h0m0 17h0m0 21h0m1-41h0m0 7h0m1-11h0m0 15h0m0 9h0m0 27h0m1-49h0m0 7h0m0 4h0m0 2h0m0 9h0m0 5h0m1-18h0m0 30h0m0 5h0m1-46h0m0 4h0m0 14h0m0 5h0m0 10h0m0 12h0m0 5h0m0 11h0m1-60h0m0 24h0m0 2h0m1-14h0m0 23h0m0 2h0m0 1h0m1-32h0m0 9h0m0 1h0m0 11h0m1-16h0m0 15h0m1-20h0m0 6h0m0 2h0m0 4h0m1-8h0m0 1h0m0 14h0m0 7h0m1-20h0m1-6h0m0 5h0m0 5h0m1-14h0m0 2h0m1 1h0m0 1h0m0 1h0m0 15h0m0 2h0m0 2h0m0 13h0m1-38h0m0 2h0m0 1h0m0 12h0m0 5h0m0 5h0m1-25h0m0 11h0m0 6h0m0 8h0m0 9h0m0 8h0m1-35h0m0 20h0m0 3h0m0 4h0m0 3h0m1-37h0m0 19h0m0 18h0m1-35h0m0 10h0m0 4h0m0 3h0m0 15h0m0 3h0m1-38h0m0 5h0m0 1h0m0 6h0m0 1h0m0 9h0m0 4h0m1-27h0m0 6h0m0 1h0m0 8h0m0 3h0m0 12h0m1-24h0m0 12h0m0 4h0m1-21h0m0 7h0m0 11h0m0 1h0m0 0h0m0 7h0m0 10h0m0 5h0m0 17h0m1-59h0m0 9h0m0 1h0m0 47h0m1-56h0m0 0h0m0 41h0m1 6h0m0 10h0m1-40h0m0 15h0m0 24h0m1-45h0m0 1h0m0 4h0m0 15h0m1-28h0m0 4h0m0 4h0m0 4h0m1-12h0m0 7h0m0 11h0m0 9h0m1-18h0m0 7h0m0 1h0m0 10h0m0 5h0m2-30h0m0 5h0m1-8h0m0 11h0m0 2h0m0 7h0m1-21h0m0 5h0m0 9h0m0 5h0m0 8h0m0 0h0m0 6h0m0 2h0m1-14h0m0 7h0m0 10h0m2-36h0m0 7h0m0 7h0m0 3h0m1 6h0m1-24h0m0 21h0m1-21h0m0 13h0m0 1h0m0 1h0m1-15h0m0 29h0m0 2h0m1-32h0m0 7h0m0 12h0m0 4h0m1-26h0m0 1h0m0 2h0m0 26h0m0 10h0m1-34h0m0 1h0m0 1h0m0 1h0m0 6h0m0 2h0m0 2h0m0 2h0m0 1h0m0 1h0m0 2h0m1-19h0m0 3h0m1-8h0m0 7h0m0 14h0m0 6h0m1-23h0m0 5h0m0 6h0m0 1h0m0 0h0m0 10h0m1-22h0m0 9h0m0 1h0m0 1h0m0 0h0m1-9h0m0 5h0m0 9h0m0 4h0m1-14h0m0 4h0m0 65h0m1-71h0m0 3h0m0 16h0m1-15h0m0 2h0m0 17h0m0 4h0m1-35h0m0 8h0m0 6h0m0 8h0m0 28h0m1-49h0m0 6h0m0 14h0m1-6h0m0 7h0m0 16h0m1-38h0m0 4h0m0 1h0m0 22h0m1-15h0m0 2h0m0 3h0m0 13h0m0 11h0m0 7h0m1-39h0m0 7h0m0 22h0m1-20h0m0 2h0m0 12h0m1-20h0m0 4h0m0 13h0m1-24h0m0 0h0m0 14h0m0 23h0m1-31h0m0 2h0m0 21h0m1-23h0m0 3h0m0 1h0m0 5h0m0 1h0m0 3h0m0 15h0m1-31h0m0 5h0m0 4h0m1-12h0m0 10h0m0 40h0m1-54h0m1-1h0m0 12h0m0 6h0m1 0h0m0 4h0m0 6h0m1-51h0m0 12h0m0 1h0m0 7h0m0 4h0m0 0h0m0 17h0m0 4h0m0 2h0m1-47h0m0 8h0m0 3h0m0 5h0m0 3h0m0 16h0m0 15h0m0 0h0m1-35h0m0 4h0m0 6h0m0 1h0m0 12h0m0 4h0m0 3h0m0 7h0m0 33h0m1-87h0m0 3h0m0 1h0m0 6h0m0 4h0m0 6h0m0 27h0m0 6h0m0 11h0m1-65h0m0 6h0m0 10h0m0 18h0m0 7h0m0 5h0m0 17h0m1-52h0m0 13h0m0 1h0m0 1h0m0 0h0m0 4h0m0 5h0m0 2h0m0 4h0m0 27h0m1-59h0m0 10h0m0 5h0m0 1h0m0 9h0m0 28h0m1-62h0m0 7h0m0 5h0m0 20h0m0 9h0m0 8h0m1-43h0m0 1h0m0 8h0m0 3h0m0 7h0m0 17h0m0 1h0m0 2h0m0 2h0m0 4h0m1-47h0m0 2h0m0 3h0m0 1h0m0 5h0m0 2h0m0 1h0m0 6h0m0 12h0m0 2h0m0 4h0m0 4h0m1-42h0m0 22h0m0 11h0m0 5h0m0 5h0m1-46h0m0 32h0m0 2h0m0 8h0m1-28h0m0 6h0m0 1h0m0 18h0m0 8h0m0 6h0m0 6h0m1-55h0m0 8h0m0 3h0m0 5h0m0 14h0m0 1h0m0 2h0m0 7h0m1-35h0m0 4h0m0 2h0m0 1h0m0 15h0m0 23h0m1-55h0m0 14h0m0 2h0m0 26h0m0 1h0m0 2h0m1-35h0m0 19h0m0 0h0m0 3h0m0 7h0m0 1h0m0 11h0m1-50h0m0 2h0m0 2h0m0 28h0m0 4h0m0 4h0m0 6h0m1-23h0m0 19h0m0 3h0m0 4h0m1-41h0m0 0h0m0 9h0m0 18h0m0 18h0m0 2h0m1-39h0m0 18h0m0 4h0m0 12h0m1-46h0m0 13h0m0 2h0m0 3h0m0 10h0m0 4h0m0 13h0m1-26h0m0 0h0m0 1h0m0 11h0m0 16h0m1-51h0m0 6h0m0 0h0m0 3h0m0 4h0m0 7h0m0 21h0m0 5h0m1-32h0m0 8h0m0 1h0m0 3h0m0 10h0m0 6h0m0 11h0m0 0h0m1-46h0m0 46h0m1-28h0m0 3h0m1-25h0m0 6h0m0 2h0m0 9h0m0 11h0m0 6h0m0 13h0m1-27h0m0 1h0m1-20h0m0 7h0m0 5h0m0 15h0m1-25h0m0 2h0m0 1h0m0 2h0m0 19h0m0 2h0m0 1h0m0 8h0m0 11h0m1-53h0m0 6h0m0 12h0m0 3h0m0 2h0m0 2h0m0 2h0m0 4h0m1-19h0m0 28h0m0 16h0m0 24h0m1-71h0m0 9h0m0 12h0m0 3h0m0 16h0m1-46h0m0 1h0m0 34h0m0 9h0m0 9h0m1-54h0m0 13h0m0 3h0m0 22h0m0 4h0m0 4h0m0 35h0m1-77h0m0 6h0m0 12h0m0 1h0m0 12h0m0 3h0m0 3h0m0 10h0m1-42h0m0 1h0m0 5h0m0 3h0m0 2h0m0 6h0m0 4h0m0 0h0m0 9h0m1-16h0m0 0h0m0 4h0m0 4h0m0 7h0m0 3h0m0 11h0m1-30h0m0 2h0m0 3h0m0 2h0m1-24h0m0 7h0m0 1h0m0 1h0m0 13h0m0 0h0m0 4h0m0 0h0m0 1h0m0 2h0m1-8h0m0 0h0m1-26h0m0 7h0m0 7h0m0 7h0m0 19h0m0 12h0m1-47h0m0 20h0m0 2h0m0 4h0m0 2h0m0 7h0m0 20h0m1-61h0m0 5h0m0 7h0m0 40h0m1-50h0m0 4h0m0 13h0m0 2h0m0 6h0m0 40h0m1-66h0m0 17h0m0 4h0m0 18h0m0 2h0m0 1h0m0 6h0m1-48h0m0 10h0m0 10h0m0 14h0m0 1h0m0 9h0m0 0h0m1-39h0m0 6h0m0 7h0m0 12h0m0 3h0m0 13h0m1-34h0m0 23h0m0 9h0m1-32h0m0 29h0m1-40h0m0 9h0m0 2h0m0 10h0m0 15h0m0 6h0m1-44h0m0 4h0m0 4h0m0 6h0m0 11h0m0 0h0m0 10h0m0 3h0m0 0h0m0 11h0m1-44h0m0 32h0m0 2h0m1-25h0m0 4h0m0 25h0m0 0h0m0 1h0m1-44h0m0 0h0m0 21h0m1-20h0m0 0h0m0 1h0m0 36h0m0 5h0m1-34h0m0 1h0m0 3h0m0 25h0m0 16h0m1-53h0m0 24h0m0 2h0m1-27h0m0 16h0m0 8h0m0 19h0m1-42h0m0 6h0m0 2h0m0 2h0m0 5h0m0 11h0m1-22h0m0 7h0m0 5h0m0 4h0m0 9h0m0 2h0m0 2h0m0 23h0m0 15h0m1-70h0m0 4h0m0 18h0m1-20h0m0 4h0m0 2h0m0 2h0m0 10h0m0 4h0m1-24h0m0 3h0m0 2h0m0 13h0m0 38h0m1-59h0m0 7h0m0 1h0m0 17h0m0 3h0m0 6h0m0 0h0m0 17h0m1-17h0m1-28h0m0 7h0m0 12h0m0 0h0m0 14h0m0 2h0m1-38h0m0 2h0m0 2h0m0 1h0m0 1h0m0 12h0m0 12h0m0 15h0m0 10h0m1-57h0m0 1h0m0 3h0m0 5h0m0 2h0m0 18h0m0 1h0m0 11h0m1-39h0m0 3h0m0 1h0m0 1h0m0 2h0m0 5h0m0 2h0m0 2h0m0 8h0m0 7h0m1-33h0m0 8h0m0 9h0m0 3h0m0 11h0m0 3h0m0 1h0m1-26h0m0 0h0m0 5h0m0 5h0m0 0h0m0 28h0m0 2h0m1-29h0m1-17h0m0 0h0m0 18h0m0 4h0m0 3h0m0 28h0m1-35h0m0 9h0m0 7h0m1-9h0m1-8h0m0 13h0m0 10h0m1-33h0m0 1h0m0 16h0m0 2h0m0 12h0m1-40h0m0 18h0m0 1h0m0 3h0m0 13h0m0 0h0m1-28h0m0 5h0m0 16h0m0 4h0m0 3h0m1-30h0m0 5h0m0 1h0m0 5h0m0 1h0m0 6h0m0 5h0m0 9h0m0 2h0m0 1h0m0 2h0m0 5h0m1-39h0m0 5h0m0 2h0m0 2h0m0 4h0m0 7h0m1-19h0m0 1h0m0 0h0m0 4h0m0 1h0m0 2h0m0 12h0m1-24h0m0 29h0m0 8h0m0 19h0m1-63h0m0 29h0m0 3h0m0 4h0m1-19h0m0 7h0m0 8h0m0 3h0m0 8h0m0 1h0m1-28h0m0 10h0m0 1h0m1-17h0m0 2h0m0 2h0m0 11h0m0 9h0m0 3h0m0 10h0m0 8h0m1-31h0m0 1h0m0 4h0m0 1h0m0 31h0m1-44h0m0 17h0m1-32h0m0 7h0m0 8h0m0 14h0m1-18h0m0 0h0m0 3h0m0 1h0m0 9h0m0 8h0m0 14h0m1-37h0m0 10h0m0 4h0m0 5h0m0 31h0m1-58h0m0 5h0m0 1h0m0 5h0m0 19h0m0 4h0m0 6h0m1-38h0m0 1h0m0 4h0m0 7h0m0 6h0m0 8h0m0 5h0m0 10h0m0 12h0m0 2h0m1-42h0m0 34h0m1-50h0m0 15h0m0 9h0m0 0h0m0 3h0m0 16h0m1-42h0m0 13h0m0 12h0m0 2h0m0 9h0m1-35h0m0 4h0m0 4h0m0 4h0m0 7h0m0 16h0m0 8h0m1-18h0m1-17h0m0 2h0m0 3h0m0 3h0m0 7h0m0 9h0m1-9h0m0 3h0m0 6h0m1-32h0m0 5h0m0 7h0m0 0h0m0 9h0m0 12h0m0 8h0m1-39h0m0 16h0m0 17h0m0 3h0m0 3h0m1-39h0m0 11h0m0 3h0m0 3h0m0 6h0m0 2h0m0 4h0m0 0h0m1-28h0m0 3h0m0 1h0m0 2h0m0 8h0m0 6h0m0 4h0m1-24h0m0 2h0m0 27h0m1-31h0m0 7h0m0 2h0m0 11h0m0 9h0m1-33h0m0 3h0m0 25h0m0 32h0m1-43h0m0 5h0m0 0h0m0 2h0m0 10h0m1-34h0m0 4h0m0 18h0m0 2h0m0 2h0m0 0h0m0 10h0m1-36h0m0 17h0m0 4h0m0 1h0m0 5h0m0 2h0m0 4h0m0 12h0m0 1h0m1-40h0m0 1h0m0 25h0m0 0h0m1-26h0m0 5h0m0 6h0m0 4h0m0 1h0m0 39h0m1-61h0m0 32h0m0 0h0m1-33h0m0 5h0m0 6h0m0 1h0m0 3h0m0 13h0"/>
<path d="M86 399h0m5-29h0m3 22h0m1-43h0m0 31h0m0 4h0m0 48h0m4-58h0m4-36h0m10 46h0m2-138h0m0 93h0m3-96h0m3 118h0m4-12h0m2-52h0m2 7h0m1 25h0m2-57h0m2 22h0m0 48h0m1 20h0m1-59h0m1 11h0m1-38h0m2 20h0m2-6h0m3 23h0m1 30h0m1-64h0m1-5h0m0 5h0m0 3h0m0 12h0m2 12h0m0 34h0m4-26h0m1-18h0m0 23h0m1-5h0m1-12h0m1-10h0m0 17h0m0 13h0m1-46h0m0 10h0m0 50h0m2-31h0m1 1h0m1-3h0m2-19h0m0 34h0m0 8h0m1-48h0m0 6h0m0 15h0m1 4h0m1 5h0m1-33h0m0 3h0m1 42h0m1-46h0m4 23h0m2 19h0m1-19h0m3-14h0m3 45h0m1 26h0m1-61h0m1 16h0m1-25h0m1-17h0m2 54h0m3-18h0m4-19h0m2 7h0m3 1h0m2-6h0m12-2h0m0 11h0m0 3h0m4-30h0m7-19h0m0 53h0m0 44h0m1-79h0m1-27h0m1 28h0m1 41h0m1-53h0m1 22h0m1-36h0m0 6h0m0 11h0m0 29h0m2 14h0m1-64h0m1 6h0m2 43h0m2-29h0m1 8h0m0 44h0m3-80h0m0 39h0m2-25h0m1 63h0m2-72h0m1 38h0m0 15h0m2-46h0m3 19h0m1 17h0m0 3h0m2-36h0m0 6h0m0 30h0m1-29h0m6 25h0m0 4h0m2-31h0m1-1h0m0 0h0m2-12h0m0 5h0m1 16h0m2 19h0m2-6h0m1-38h0m1 10h0m0 8h0m0 15h0m4 26h0m1-47h0m1 8h0m1 15h0m1-31h0m1-3h0m0 12h0m4 4h0m2-17h0m2 3h0m1 7h0m2 10h0m0 6h0m0 14h0m1-4h0m1-34h0m0 2h0m1 13h0m3-4h0m0 3h0m1-19h0m0 17h0m3-8h0m0 13h0m1 21h0m3-11h0m0 1h0m1-32h0m1 9h0m0 3h0m1 6h0m0 2h0m2-22h0m0 9h0m1-6h0m3 12h0m0 11h0m4-27h0m2 0h0m0 9h0m1 9h0m1-15h0m1 4h0m1 10h0m1-15h0m1 0h0m1 0h0m1 7h0m2 8h0m0 7h0m3-13h0m1 12h0m3-47h0m0 23h0m0 23h0m1-60h0m0 4h0m0 11h0m0 41h0m1-42h0m0 17h0m2-2h0m0 21h0m1-46h0m1 24h0m0 15h0m1-24h0m1-8h0m0 19h0m1-4h0m0 25h0m2-31h0m2 3h0m0 46h0m1-63h0m0 5h0m0 6h0m0 19h0m0 25h0m1-38h0m1-1h0m0 14h0m0 2h0m1-21h0m0 4h0m1 19h0m0 21h0m1-50h0m0 12h0m0 2h0m0 12h0m0 29h0m0 2h0m1-48h0m0 13h0m0 12h0m1-34h0m0 30h0m3-39h0m0 14h0m0 5h0m1-13h0m1 58h0m1-40h0m1-18h0m1 0h0m0 1h0m0 17h0m0 12h0m1-25h0m0 31h0m0 4h0m1-41h0m0 25h0m1-24h0m0 13h0m0 17h0m0 9h0m5-44h0m2 29h0m0 15h0m1-8h0m1-30h0m0 2h0m0 19h0m2-11h0m0 1h0m1-14h0m1 0h0m0 9h0m0 14h0m2-13h0m0 5h0m1-14h0m0 4h0m0 10h0m0 5h0m1-15h0m0 14h0m1-14h0m1-3h0m1 10h0m2-10h0m0 5h0m0 9h0m1-11h0m0 16h0m1-22h0m1 2h0m0 9h0m0 9h0m0 3h0m0 5h0m1 13h0m1-3h0m1-40h0m0 16h0m1-5h0m1 13h0m3-21h0m1-6h0m1 31h0m1-10h0m0 3h0m1-18h0m0 23h0m0 5h0m0 4h0m1-10h0m1-28h0m0 1h0m0 19h0m0 16h0m1-20h0m0 5h0m0 4h0m0 19h0m1 4h0m1-28h0m0 17h0m0 3h0m1-37h0m0 20h0m0 3h0m1-23h0m0 11h0m0 1h0m0 21h0m1-35h0m0 8h0m1 0h0m0 20h0m1 5h0m0 13h0m2-45h0m0 10h0m2 55h0m1-24h0m0 2h0m2-45h0m2 22h0m2-17h0m0 14h0m1-3h0m0 1h0m0 4h0m0 2h0m0 18h0m1-33h0m0 15h0m0 13h0m1-35h0m0 23h0m1-20h0m0 35h0m1-20h0m0 21h0m1-24h0m1-14h0m0 27h0m1-21h0m0 12h0m1-17h0m0 0h0m0 4h0m2 17h0m0 72h0m2-91h0m0 3h0m0 9h0m1-15h0m0 0h0m0 4h0m2 3h0m0 7h0m0 1h0m0 2h0m0 15h0m1-10h0m1-7h0m1-12h0m0 9h0m0 5h0m1-13h0m0 2h0m0 6h0m0 40h0m1-47h0m0 0h0m1-4h0m0 17h0m1-19h0m0 10h0m1 9h0m1-18h0m0 3h0m0 4h0m0 6h0m2-27h0m0 2h0m0 17h0m0 4h0m0 20h0m1-25h0m0 2h0m0 9h0m0 16h0m1-52h0m0 21h0m0 18h0m1-22h0m1-25h0m0 1h0m1 52h0m1-42h0m0 5h0m0 17h0m0 9h0m1-35h0m0 1h0m0 6h0m0 7h0m0 2h0m0 30h0m1-49h0m0 35h0m0 7h0m0 13h0m0 6h0m1-52h0m0 33h0m0 6h0m1 9h0m0 5h0m1-56h0m0 7h0m0 1h0m0 23h0m0 23h0m1-51h0m0 3h0m0 8h0m0 2h0m0 6h0m0 2h0m1-6h0m0 9h0m1-30h0m0 25h0m0 7h0m1-35h0m0 3h0m0 25h0m1-6h0m0 38h0m1-57h0m0 2h0m0 2h0m0 1h0m0 25h0m0 33h0m1-61h0m0 4h0m1-12h0m0 9h0m0 2h0m0 8h0m1 5h0m0 26h0m0 11h0m1-46h0m0 12h0m0 5h0m0 7h0m0 2h0m1-34h0m0 2h0m0 14h0m0 10h0m1-28h0m0 15h0m0 4h0m0 14h0m0 30h0m1-65h0m0 7h0m0 3h0m0 8h0m0 5h0m1-24h0m0 1h0m0 10h0m0 1h0m1-12h0m0 7h0m0 1h0m0 0h0m0 4h0m0 3h0m0 1h0m0 0h0m0 2h0m0 1h0m1-22h0m0 11h0m0 1h0m0 10h0m0 6h0m0 12h0m0 6h0m1-35h0m0 2h0m0 2h0m0 13h0m0 3h0m1-22h0m0 44h0m1-47h0m0 4h0m0 1h0m0 2h0m0 2h0m0 22h0m0 5h0m1-31h0m0 9h0m0 0h0m0 29h0m0 2h0m1-48h0m0 28h0m0 16h0m1-45h0m0 9h0m0 5h0m0 1h0m0 1h0m2-17h0m0 3h0m0 4h0m0 1h0m0 0h0m0 4h0m0 2h0m0 5h0m0 3h0m0 29h0m1-51h0m0 9h0m0 5h0m0 2h0m0 4h0m0 5h0m0 6h0m0 0h0m1-20h0m0 28h0m1-33h0m0 2h0m0 6h0m0 3h0m0 13h0m0 6h0m0 4h0m1-18h0m0 6h0m0 9h0m0 6h0m0 0h0m0 1h0m0 16h0m1-61h0m0 3h0m0 2h0m0 2h0m0 6h0m0 19h0m0 31h0m1-52h0m0 3h0m1-8h0m0 2h0m0 9h0m0 3h0m0 1h0m0 17h0m0 3h0m1-38h0m0 7h0m0 3h0m0 8h0m0 7h0m1-25h0m0 0h0m0 6h0m0 1h0m0 0h0m0 1h0m0 2h0m0 5h0m1-12h0m0 8h0m0 6h0m0 30h0m1-37h0m0 5h0m0 9h0m1-4h0m0 9h0m0 5h0m0 16h0m1-42h0m0 1h0m0 6h0m0 26h0m1-21h0m0 3h0m0 8h0m0 4h0m0 1h0m1-38h0m0 8h0m0 54h0m1-63h0m0 26h0m0 5h0m0 14h0m1-44h0m0 5h0m0 48h0m1-31h0m1-21h0m0 3h0m0 5h0m0 12h0m0 2h0m0 1h0m0 3h0m0 12h0m1-40h0m0 1h0m0 2h0m0 6h0m0 1h0m0 30h0m0 2h0m0 1h0m0 6h0m1-45h0m0 11h0m0 1h0m0 17h0m1-30h0m0 26h0m0 3h0m0 9h0m1-41h0m0 7h0m0 2h0m0 4h0m0 15h0m0 8h0m0 9h0m1-41h0m0 16h0m0 14h0m1-3h0m0 3h0m0 4h0m1-32h0m0 0h0m0 20h0m0 23h0m1-41h0m0 13h0m0 4h0m1-22h0m0 6h0m0 7h0m0 3h0m0 23h0m0 27h0m1-52h0m0 31h0m0 19h0m1-48h0m0 4h0m0 3h0m0 25h0m1-43h0m0 3h0m0 8h0m0 5h0m0 1h0m0 1h0m0 18h0m1-35h0m0 1h0m0 0h0m0 12h0m0 2h0m0 31h0m1-54h0m0 8h0m0 4h0m0 7h0m0 2h0m0 11h0m0 0h0m0 12h0m0 2h0m1-45h0m0 10h0m0 10h0m0 6h0m0 21h0m1-45h0m0 2h0m0 3h0m1-5h0m0 7h0m0 1h0m0 1h0m0 10h0m0 11h0m1-32h0m0 2h0m0 20h0m0 4h0m0 3h0m0 10h0m0 2h0m1-29h0m0 6h0m0 8h0m0 20h0m1-40h0m0 2h0m0 4h0m0 5h0m0 6h0m0 15h0m0 1h0m1-40h0m0 8h0m0 5h0m0 6h0m0 6h0m0 5h0m1-15h0m0 9h0m0 0h0m1 5h0m1-26h0m0 7h0m0 5h0m0 11h0m1-24h0m0 6h0m0 0h0m0 0h0m0 5h0m0 3h0m0 4h0m0 1h0m0 7h0m0 6h0m1-34h0m0 19h0m0 3h0m0 21h0m1-27h0m0 16h0m0 3h0m0 7h0m1-35h0m0 9h0m0 14h0m0 23h0m1-51h0m0 2h0m0 22h0m0 16h0m0 5h0m1-34h0m0 4h0m0 5h0m0 13h0m2-26h0m0 6h0m0 8h0m0 3h0m0 0h0m0 6h0m0 6h0m1-36h0m0 23h0m0 13h0m0 9h0m1-33h0m0 2h0m0 18h0m1-32h0m0 6h0m1 4h0m0 10h0m0 22h0m1-26h0m0 1h0m0 3h0m0 17h0m0 29h0m1-64h0m0 13h0m0 10h0m0 12h0m2-39h0m0 42h0m1-38h0m0 3h0m0 2h0m0 0h0m0 28h0m0 2h0m0 3h0m1-38h0m0 0h0m0 15h0m1-15h0m0 13h0m0 14h0m0 1h0m0 3h0m1-29h0m0 2h0m0 5h0m0 15h0m1-14h0m0 1h0m0 2h0m1-16h0m0 4h0m0 0h0m0 1h0m0 9h0m0 6h0m0 9h0m0 12h0m1-26h0m0 1h0m0 17h0m1-30h0m0 4h0m0 4h0m1-10h0m0 6h0m0 13h0m0 7h0m0 0h0m1-25h0m0 0h0m0 21h0m0 1h0m1-7h0m0 4h0m0 2h0m0 5h0m1-26h0m0 2h0m0 5h0m0 20h0m0 2h0m1-26h0m0 4h0m0 35h0m1-44h0m0 1h0m0 4h0m0 1h0m0 3h0m0 6h0m0 8h0m0 13h0m1-36h0m0 4h0m0 2h0m0 9h0m0 10h0m0 6h0m1-30h0m0 5h0m0 27h0m0 3h0m1-35h0m1 1h0m0 0h0m0 0h0m0 4h0m0 10h0m0 10h0m0 1h0m1-24h0m1 8h0m0 5h0m0 12h0m0 3h0m1-25h0m0 1h0m0 20h0m0 8h0m0 36h0m1-51h0m0 0h0m1-19h0m0 2h0m0 3h0m1-4h0m0 7h0m0 6h0m0 7h0m0 17h0m1-61h0m0 3h0m0 4h0m0 15h0m0 13h0m0 10h0m1-49h0m0 12h0m0 2h0m0 19h0m0 5h0m0 15h0m0 19h0m1-73h0m0 1h0m0 1h0m0 1h0m0 21h0m0 26h0m1-38h0m0 7h0m0 5h0m0 23h0m1-31h0m0 1h0m0 19h0m0 1h0m0 2h0m0 2h0m1-32h0m0 24h0m0 1h0m0 2h0m0 6h0m1-36h0m0 13h0m0 9h0m0 21h0m0 7h0m0 9h0m1-66h0m0 3h0m0 20h0m0 15h0m1-21h0m0 2h0m0 15h0m0 1h0m0 2h0m0 11h0m0 24h0m1-55h0m0 18h0m0 11h0m0 12h0m0 10h0m1-49h0m0 17h0m0 6h0m0 4h0m0 14h0m1-51h0m0 11h0m0 4h0m0 1h0m0 2h0m0 12h0m0 10h0m1-37h0m0 8h0m0 0h0m0 7h0m0 3h0m0 1h0m0 4h0m0 2h0m0 4h0m0 1h0m0 4h0m1-29h0m0 7h0m0 15h0m1-26h0m0 10h0m1-23h0m0 11h0m0 0h0m0 3h0m0 6h0m0 0h0m0 4h0m0 13h0m0 23h0m1-45h0m0 3h0m0 4h0m0 9h0m0 6h0m0 11h0m0 21h0m1-65h0m0 1h0m0 13h0m0 9h0m0 8h0m1-34h0m0 4h0m0 14h0m0 21h0m1-39h0m0 11h0m0 2h0m0 3h0m0 18h0m0 0h0m0 4h0m0 2h0m1-41h0m0 2h0m0 7h0m0 1h0m0 12h0m0 27h0m1-44h0m0 9h0m0 8h0m0 5h0m0 1h0m0 21h0m1-27h0m0 32h0m1-44h0m0 0h0m0 2h0m0 30h0m0 8h0m0 1h0m1-41h0m0 1h0m0 1h0m0 1h0m0 2h0m0 6h0m0 2h0m0 1h0m0 16h0m1-29h0m0 5h0m0 1h0m0 15h0m0 2h0m0 5h0m1-25h0m0 1h0m0 9h0m0 6h0m0 4h0m0 5h0m0 1h0m0 10h0m1-49h0m0 6h0m0 19h0m0 6h0m0 5h0m0 1h0m0 10h0m1-45h0m0 5h0m0 19h0m0 5h0m0 12h0m0 6h0m1-24h0m0 17h0m0 2h0m0 4h0m1-49h0m0 9h0m0 25h0m0 10h0m0 8h0m1-19h0m1-32h0m0 0h0m0 4h0m0 9h0m0 5h0m1-11h0m0 5h0m0 3h0m0 5h0m0 9h0m0 12h0m0 29h0m1-60h0m0 4h0m0 6h0m0 0h0m0 14h0m0 24h0m1-58h0m0 24h0m0 11h0m0 9h0m1-38h0m0 4h0m0 1h0m0 24h0m0 2h0m0 8h0m0 1h0m1-42h0m0 4h0m0 2h0m0 2h0m0 7h0m0 7h0m0 6h0m0 21h0m1-48h0m0 8h0m0 0h0m0 2h0m0 9h0m0 8h0m0 7h0m0 1h0m0 0h0m0 59h0m1-99h0m0 7h0m0 2h0m0 21h0m1-18h0m0 0h0m0 11h0m0 7h0m0 29h0m1-51h0m0 3h0m0 1h0m0 2h0m0 5h0m0 1h0m0 17h0m0 4h0m0 15h0m1-56h0m0 3h0m0 1h0m0 16h0m0 7h0m0 8h0m0 7h0m0 2h0m0 2h0m1-34h0m0 8h0m0 1h0m0 1h0m0 6h0m0 12h0m0 4h0m1-36h0m0 2h0m0 5h0m0 7h0m0 12h0m0 15h0m1-48h0m0 1h0m0 21h0m0 1h0m0 5h0m0 17h0m0 25h0m1-59h0m0 9h0m0 30h0m1-50h0m0 7h0m0 8h0m0 7h0m0 5h0m0 6h0m0 4h0m0 3h0m0 8h0m1-45h0m0 20h0m0 17h0m0 11h0m0 69h0m1-108h0m0 14h0m0 2h0m0 2h0m0 1h0m1-22h0m0 13h0m0 3h0m0 4h0m1-21h0m0 5h0m0 2h0m0 28h0m0 2h0m0 6h0m1-52h0m0 6h0m0 4h0m0 4h0m1-4h0m0 11h0m0 4h0m0 17h0m1-39h0m0 13h0m0 30h0m1-42h0m0 17h0m0 1h0m0 6h0m0 2h0m0 1h0m0 11h0m0 3h0m1-45h0m0 1h0m0 7h0m0 4h0m0 6h0m0 44h0m1-57h0m0 2h0m0 25h0m0 3h0m0 9h0m0 7h0m1-47h0m0 6h0m0 4h0m0 24h0m1-37h0m0 11h0m0 2h0m0 4h0m0 49h0m1-65h0m0 12h0m0 1h0m0 5h0m0 2h0m0 1h0m0 4h0m0 2h0m0 10h0m0 6h0m1-37h0m0 0h0m0 29h0m0 0h0m0 5h0m0 10h0m1-43h0m0 8h0m0 1h0m0 22h0m1-30h0m0 0h0m0 1h0m0 9h0m0 7h0m0 1h0m0 7h0m1-34h0m0 15h0m0 5h0m0 5h0m0 5h0m0 1h0m0 1h0m0 5h0m1-21h0m0 2h0m0 0h0m0 21h0m1-39h0m0 4h0m0 1h0m0 2h0m0 1h0m0 1h0m0 4h0m0 4h0m0 9h0m0 8h0m0 3h0m0 0h0m0 11h0m0 11h0m1-48h0m0 12h0m1-7h0m0 17h0m0 16h0m1-47h0m0 21h0m0 6h0m0 12h0m1-42h0m0 4h0m0 9h0m0 3h0m0 2h0m0 19h0m0 10h0m0 22h0m1-68h0m0 7h0m0 1h0m0 3h0m0 16h0m0 13h0m1-37h0m0 7h0m0 1h0m0 8h0m0 3h0m0 5h0m0 4h0m0 2h0m0 1h0m1-13h0m0 7h0m0 1h0m0 10h0m0 4h0m0 5h0m1-48h0m0 0h0m0 9h0m0 28h0m0 28h0m1-61h0m0 4h0m0 17h0m0 4h0m1-26h0m0 5h0m0 10h0m0 9h0m0 5h0m0 0h0m0 7h0m1-38h0m0 3h0m0 9h0m0 2h0m0 4h0m0 4h0m0 1h0m0 15h0m0 7h0m1-44h0m0 3h0m0 10h0m0 1h0m0 5h0m0 6h0m0 2h0m0 5h0m0 2h0m0 1h0m1-35h0m0 12h0m0 1h0m0 10h0m1-18h0m0 5h0m0 19h0m0 5h0m0 3h0m1-37h0m0 11h0m0 20h0m0 2h0m0 0h0m0 4h0m0 3h0m0 7h0m1-50h0m0 6h0m0 15h0m0 4h0m0 9h0m1-32h0m0 11h0m0 2h0m0 4h0m0 6h0m0 1h0m0 3h0m0 10h0m0 4h0m1-34h0m0 3h0m0 19h0m0 2h0m0 31h0m1-56h0m0 5h0m0 9h0m0 4h0m1-8h0m0 3h0m0 13h0m0 1h0m0 28h0m1-58h0m0 11h0m0 2h0m0 2h0m0 8h0m0 4h0m0 24h0m1-48h0m0 0h0m0 15h0m0 9h0m0 3h0m0 17h0m1-43h0m0 6h0m0 10h0m0 10h0m0 12h0m0 4h0m1-45h0m0 8h0m0 10h0m0 0h0m0 1h0m0 4h0m0 3h0m1-29h0m0 29h0m0 5h0m0 3h0m0 8h0m1-47h0m0 11h0m0 11h0m0 1h0m0 2h0m0 0h0m0 10h0m1-32h0m0 3h0m0 3h0m0 6h0m1-15h0m0 10h0m0 4h0m0 8h0m0 13h0m1-33h0m0 1h0m0 12h0m0 12h0m0 7h0m0 7h0m0 2h0m1-41h0m0 2h0m0 14h0m0 3h0m0 2h0m0 0h0m0 16h0m1-20h0m0 10h0m0 20h0m0 4h0m1-49h0m0 13h0m0 2h0m0 5h0m0 9h0m0 7h0m0 12h0m1-53h0m0 4h0m0 4h0m0 12h0m0 16h0m0 10h0m1-43h0m0 3h0m0 2h0m0 17h0m0 1h0m0 6h0m0 11h0m1-41h0m0 8h0m0 10h0m0 0h0m0 2h0m0 15h0m0 30h0m1-54h0m0 3h0m0 10h0m0 8h0m0 6h0m1-34h0m0 7h0m0 11h0m1-24h0m0 13h0m0 6h0m0 3h0m0 6h0m0 5h0m0 1h0m1-1h0m0 6h0m1-40h0m0 3h0m0 6h0m0 7h0m0 6h0m0 0h0m0 17h0m1-38h0m0 8h0m0 13h0m0 14h0m0 3h0m0 3h0m0 0h0m0 2h0m1-43h0m0 5h0m0 7h0m0 15h0m0 4h0m0 4h0m0 1h0m0 1h0m1-32h0m0 7h0m0 2h0m0 8h0m0 3h0m0 1h0m0 15h0m1-29h0m0 7h0m0 3h0m0 1h0m0 4h0m0 9h0m1-35h0m0 24h0m0 0h0m0 3h0m0 1h0m0 23h0m1-45h0m0 9h0m0 25h0m1-19h0m0 6h0m0 6h0m1-32h0m0 3h0m0 15h0m0 3h0m0 16h0m1-37h0m0 7h0m0 2h0m0 5h0m0 11h0m0 15h0m1-41h0m0 26h0m0 19h0"/>
<path d="M86 435h0m3-10h0m1 22h0m3-66h0m0 14h0m1 26h0m1 11h0m1-43h0m2-4h0m1-60h0m0 31h0m0 16h0m0 64h0m3-136h0m1-83h0m2 9h0m11 133h0m3-60h0m1-27h0m0 12h0m4 65h0m0 28h0m4-120h0m1 53h0m2 27h0m1 3h0m0 13h0m1-11h0m2-53h0m0 43h0m1-58h0m1 60h0m1-39h0m1 20h0m0 8h0m4-36h0m0 33h0m1-46h0m0 52h0m0 2h0m2-58h0m0 13h0m2 31h0m0 6h0m0 12h0m1-34h0m0 52h0m1 5h0m1-68h0m1 13h0m2-29h0m0 3h0m4 49h0m1-22h0m2-15h0m1-7h0m0 28h0m0 0h0m0 19h0m0 2h0m6-10h0m1-4h0m0 17h0m1-23h0m1 60h0m1-92h0m0 25h0m1-11h0m1 10h0m1 5h0m5 0h0m1-6h0m3-25h0m0 60h0m3-39h0m3-21h0m7 11h0m0 25h0m1 32h0m1-41h0m2-24h0m5 17h0m7 24h0m2-3h0m1-17h0m0 19h0m7-50h0m3 16h0m1-25h0m0 17h0m2 0h0m2-23h0m1 0h0m2 24h0m1 17h0m0 19h0m1 7h0m3-57h0m1-10h0m0 34h0m1-26h0m2 25h0m3-34h0m0 17h0m5-15h0m0 36h0m1-42h0m0 40h0m1-48h0m1-2h0m4 3h0m0 21h0m0 1h0m1-9h0m0 4h0m3-17h0m2 17h0m1-23h0m0 15h0m3-5h0m1 6h0m0 10h0m0 8h0m3-23h0m2 17h0m1-20h0m0 22h0m0 7h0m3-32h0m0 52h0m1-29h0m2 3h0m2-30h0m0 13h0m0 5h0m1 11h0m1-19h0m4-11h0m0 12h0m1 17h0m1-21h0m6-11h0m6 41h0m0 15h0m1-41h0m2-6h0m1-9h0m1 7h0m3 10h0m0 23h0m1-11h0m1-31h0m1 5h0m0 23h0m1 0h0m1-20h0m1 62h0m2-66h0m1-1h0m2 8h0m0 8h0m3-18h0m0 3h0m1 5h0m0 16h0m0 10h0m1-14h0m1 6h0m0 29h0m1-55h0m0 13h0m2 44h0m1-51h0m1 2h0m1-2h0m0 21h0m6-12h0m2-5h0m0 5h0m1-8h0m0 19h0m1-22h0m0 14h0m1-52h0m0 33h0m0 0h0m0 11h0m0 31h0m0 5h0m1-66h0m0 3h0m1 31h0m1 20h0m1-16h0m1 13h0m1-68h0m0 32h0m0 18h0m0 10h0m1-54h0m0 2h0m0 11h0m1-8h0m0 10h0m0 4h0m2 59h0m1-74h0m0 6h0m0 41h0m1-58h0m1 54h0m1-24h0m1-25h0m0 22h0m0 1h0m0 13h0m1-14h0m0 1h0m0 25h0m1-25h0m0 33h0m1-31h0m0 5h0m0 28h0m2-62h0m0 17h0m0 21h0m0 4h0m2 12h0m1-8h0m0 6h0m1-38h0m1 12h0m1-18h0m0 30h0m1-34h0m1 16h0m0 12h0m1-7h0m1-11h0m0 8h0m0 28h0m1-40h0m0 8h0m0 6h0m1 24h0m1-49h0m3-2h0m0 18h0m0 9h0m1-7h0m0 3h0m1-7h0m0 16h0m1-11h0m0 39h0m2-2h0m1-57h0m0 24h0m1-6h0m1 22h0m0 29h0m2-70h0m1 16h0m0 20h0m1-33h0m0 26h0m0 25h0m1-38h0m1-1h0m0 22h0m1-29h0m0 27h0m0 5h0m1-7h0m2-16h0m1 14h0m1-8h0m0 9h0m1-8h0m0 16h0m1-2h0m1-30h0m0 19h0m0 6h0m1-29h0m0 7h0m0 25h0m0 5h0m1-20h0m0 2h0m0 16h0m0 11h0m1-46h0m0 39h0m1-42h0m0 8h0m0 7h0m0 21h0m1-6h0m2-27h0m0 15h0m0 5h0m1-11h0m0 6h0m1 18h0m1-23h0m0 21h0m1-27h0m0 16h0m0 16h0m2-15h0m0 20h0m3-16h0m2-17h0m0 21h0m1 6h0m0 6h0m1-28h0m1-10h0m0 17h0m1-20h0m0 6h0m0 28h0m1-24h0m0 4h0m0 3h0m0 8h0m1 2h0m0 16h0m0 11h0m1-39h0m0 11h0m0 3h0m1-33h0m0 17h0m0 1h0m1-7h0m1 12h0m0 2h0m0 2h0m2-23h0m0 24h0m0 34h0m1-58h0m0 9h0m0 8h0m0 5h0m1 0h0m1-22h0m0 16h0m1-10h0m0 5h0m0 8h0m1 11h0m0 2h0m1-22h0m0 4h0m0 11h0m0 4h0m0 2h0m1-34h0m0 24h0m0 8h0m2-25h0m0 3h0m0 5h0m0 11h0m1-11h0m1-9h0m0 9h0m2-6h0m1 2h0m0 9h0m0 5h0m0 4h0m0 4h0m1-26h0m0 7h0m0 5h0m1-6h0m0 6h0m0 1h0m0 12h0m1-24h0m0 13h0m0 5h0m1-25h0m0 30h0m1-27h0m0 11h0m0 10h0m0 17h0m1-37h0m1 2h0m1 1h0m1 3h0m2 20h0m0 0h0m1-28h0m1 11h0m1-14h0m0 59h0m1-59h0m0 38h0m1-62h0m0 4h0m0 4h0m0 17h0m0 11h0m0 13h0m1-28h0m0 10h0m1-2h0m0 2h0m0 12h0m0 13h0m1-45h0m0 4h0m0 4h0m0 12h0m1-19h0m0 9h0m0 1h0m0 2h0m0 18h0m0 4h0m1-38h0m0 12h0m0 12h0m0 7h0m1-36h0m0 13h0m0 21h0m0 2h0m1-3h0m0 9h0m0 2h0m0 8h0m1-43h0m0 4h0m0 1h0m0 23h0m1-33h0m0 7h0m0 0h0m0 34h0m1-52h0m0 5h0m0 2h0m0 6h0m0 3h0m0 38h0m1-51h0m0 5h0m0 1h0m0 7h0m0 2h0m0 1h0m0 1h0m0 9h0m0 36h0m1-58h0m0 21h0m0 7h0m2-27h0m0 39h0m1-40h0m0 1h0m0 14h0m0 1h0m0 5h0m0 2h0m0 2h0m1-29h0m0 0h0m0 13h0m0 13h0m0 14h0m0 1h0m1-34h0m0 19h0m0 1h0m0 1h0m0 2h0m0 0h0m0 3h0m0 3h0m0 4h0m0 8h0m0 27h0m1-68h0m0 3h0m0 3h0m0 5h0m1-7h0m0 1h0m0 7h0m1-14h0m0 23h0m0 4h0m0 2h0m0 1h0m0 8h0m0 10h0m1-40h0m0 23h0m0 12h0m0 13h0m1-57h0m0 10h0m0 2h0m0 25h0m0 14h0m0 14h0m1-55h0m0 7h0m0 0h0m0 3h0m0 13h0m0 25h0m1-58h0m0 5h0m0 24h0m0 34h0m1-69h0m0 12h0m0 37h0m1-49h0m0 0h0m0 20h0m0 0h0m0 5h0m0 5h0m0 7h0m1-37h0m0 4h0m0 1h0m0 16h0m0 6h0m0 13h0m1-33h0m0 4h0m0 2h0m0 10h0m0 14h0m1-30h0m0 4h0m0 7h0m1-15h0m0 3h0m0 17h0m0 16h0m0 3h0m0 2h0m1-26h0m0 6h0m0 0h0m0 1h0m0 23h0m1-41h0m0 30h0m0 7h0m1-43h0m0 1h0m0 33h0m0 13h0m1-29h0m1-17h0m0 3h0m0 14h0m0 11h0m1-18h0m1 9h0m0 18h0m0 2h0m1-36h0m0 10h0m0 11h0m0 0h0m0 1h0m0 14h0m1-40h0m0 15h0m0 8h0m0 11h0m1-33h0m0 16h0m0 15h0m0 1h0m0 1h0m1-34h0m0 6h0m0 13h0m0 1h0m0 26h0m0 8h0m1-47h0m0 27h0m1-28h0m0 14h0m0 28h0m0 5h0m0 4h0m1-57h0m1 7h0m0 6h0m0 15h0m0 3h0m0 8h0m1-24h0m0 6h0m0 14h0m0 6h0m0 15h0m1-56h0m0 18h0m0 8h0m0 7h0m0 21h0m1-55h0m0 3h0m0 18h0m0 5h0m0 24h0m1-37h0m0 16h0m0 5h0m1-14h0m0 4h0m1-5h0m0 2h0m0 3h0m1-22h0m0 1h0m0 6h0m0 3h0m0 1h0m0 2h0m0 4h0m0 7h0m0 10h0m0 4h0m0 6h0m1-43h0m0 4h0m0 10h0m1 4h0m0 2h0m0 4h0m0 22h0m1-44h0m0 6h0m0 14h0m0 6h0m0 2h0m0 1h0m0 1h0m0 0h0m0 16h0m1-50h0m0 1h0m0 9h0m0 6h0m0 6h0m0 6h0m0 2h0m0 8h0m0 11h0m1-42h0m0 5h0m0 23h0m0 0h0m1-26h0m1-8h0m0 8h0m0 1h0m0 1h0m0 7h0m0 2h0m1-19h0m0 0h0m0 16h0m0 11h0m0 19h0m1-19h0m0 22h0m1-49h0m0 3h0m0 1h0m0 6h0m0 8h0m0 0h0m0 5h0m1-25h0m0 0h0m0 26h0m0 5h0m0 2h0m0 9h0m1-42h0m0 6h0m0 15h0m0 4h0m0 10h0m0 4h0m1-35h0m0 0h0m0 3h0m0 0h0m0 13h0m0 24h0m1-27h0m0 0h0m0 6h0m0 2h0m0 2h0m0 4h0m0 3h0m0 3h0m0 6h0m1-17h0m0 3h0m0 5h0m0 5h0m1-34h0m0 4h0m0 13h0m0 5h0m0 15h0m0 1h0m1-22h0m0 9h0m1-31h0m0 10h0m0 28h0m1-37h0m0 12h0m0 2h0m0 13h0m0 1h0m1-24h0m0 28h0m1-22h0m0 6h0m0 3h0m0 8h0m0 1h0m0 13h0m1-27h0m0 1h0m0 16h0m0 6h0m1-34h0m0 8h0m0 9h0m0 28h0m1-12h0m1-5h0m1-31h0m0 30h0m0 15h0m0 5h0m1-50h0m0 4h0m0 10h0m0 10h0m0 27h0m1-50h0m0 1h0m0 2h0m0 5h0m0 24h0m1-34h0m0 13h0m0 19h0m1-30h0m0 4h0m0 13h0m0 7h0m1-21h0m0 26h0m0 4h0m0 1h0m0 6h0m1-35h0m0 6h0m0 2h0m0 6h0m0 12h0m0 11h0m1-41h0m0 0h0m0 7h0m0 9h0m0 5h0m0 11h0m0 9h0m1-43h0m0 20h0m0 1h0m1-7h0m1-11h0m0 6h0m0 10h0m0 21h0m1-39h0m0 33h0m0 4h0m0 10h0m1-44h0m0 3h0m0 5h0m0 4h0m0 10h0m0 4h0m0 0h0m0 10h0m0 1h0m1-39h0m0 24h0m0 7h0m0 15h0m1-41h0m0 5h0m0 8h0m0 15h0m1-34h0m0 5h0m0 2h0m0 18h0m0 0h0m0 1h0m0 1h0m1-27h0m0 3h0m0 6h0m0 6h0m0 14h0m0 18h0m1-47h0m0 5h0m0 29h0m0 4h0m1-39h0m0 0h0m0 9h0m0 13h0m0 26h0m1-21h0m1-11h0m0 3h0m0 2h0m1-10h0m0 3h0m1-4h0m0 4h0m0 1h0m0 0h0m0 8h0m0 2h0m0 3h0m1-27h0m0 0h0m0 3h0m0 13h0m0 3h0m0 3h0m1-13h0m0 8h0m0 6h0m0 5h0m0 7h0m1-28h0m0 4h0m0 4h0m0 3h0m0 1h0m0 11h0m1-14h0m0 2h0m0 1h0m0 3h0m0 2h0m0 8h0m0 3h0m1-8h0m1 2h0m1-24h0m0 6h0m0 19h0m1-29h0m0 1h0m0 10h0m0 12h0m0 20h0m1-44h0m0 41h0m1-37h0m0 1h0m0 0h0m0 8h0m0 11h0m1-25h0m0 2h0m0 17h0m1-18h0m0 14h0m0 3h0m0 5h0m0 4h0m1-25h0m0 1h0m0 1h0m1-5h0m0 2h0m0 25h0m1-15h0m0 6h0m1-17h0m0 27h0m2-52h0m0 26h0m0 0h0m0 3h0m0 22h0m0 5h0m1-37h0m0 1h0m0 3h0m0 1h0m0 2h0m0 7h0m0 18h0m1-50h0m0 3h0m0 7h0m0 3h0m0 3h0m0 2h0m0 8h0m0 23h0m1-31h0m0 14h0m0 4h0m0 12h0m0 7h0m1-48h0m0 2h0m0 12h0m0 5h0m0 1h0m0 6h0m0 28h0m1-54h0m0 1h0m0 3h0m0 18h0m0 10h0m0 0h0m0 8h0m1-48h0m0 4h0m0 4h0m0 2h0m0 15h0m0 5h0m0 0h0m0 1h0m0 1h0m0 30h0m1-63h0m0 23h0m0 0h0m0 4h0m0 7h0m0 1h0m0 2h0m0 6h0m0 6h0m0 2h0m1-51h0m0 0h0m0 3h0m0 1h0m0 34h0m0 3h0m0 3h0m1-44h0m0 6h0m0 16h0m0 1h0m0 0h0m0 19h0m0 10h0m0 8h0m1-60h0m0 22h0m0 6h0m0 10h0m0 5h0m0 4h0m0 1h0m1-42h0m0 4h0m0 8h0m0 9h0m0 2h0m0 1h0m0 7h0m1-26h0m0 1h0m0 1h0m0 2h0m0 8h0m0 6h0m0 3h0m0 2h0m0 3h0m0 7h0m1-40h0m0 3h0m0 2h0m0 0h0m0 16h0m0 21h0m0 9h0m1-44h0m0 5h0m0 0h0m0 6h0m0 1h0m0 11h0m0 6h0m1-41h0m0 15h0m0 8h0m0 20h0m0 4h0m0 1h0m0 8h0m0 3h0m1-58h0m0 8h0m0 1h0m0 12h0m0 0h0m0 3h0m0 4h0m0 16h0m0 9h0m1-53h0m0 12h0m0 0h0m0 1h0m0 2h0m0 14h0m0 3h0m0 1h0m0 0h0m1-25h0m0 1h0m0 7h0m0 15h0m0 4h0m0 12h0m0 6h0m1-33h0m0 34h0m0 15h0m1-62h0m0 17h0m0 9h0m0 0h0m0 5h0m0 13h0m1-29h0m0 0h0m0 6h0m0 10h0m0 14h0m1-51h0m0 5h0m0 8h0m0 11h0m0 18h0m0 5h0m0 0h0m0 1h0m1-41h0m0 13h0m1-7h0m0 26h0m1-33h0m0 11h0m0 7h0m0 7h0m0 1h0m1-34h0m0 1h0m0 3h0m1 4h0m0 2h0m0 2h0m0 3h0m0 3h0m0 11h0m1-7h0m0 19h0m0 17h0m1-54h0m0 4h0m0 10h0m0 1h0m0 5h0m0 8h0m0 5h0m0 2h0m1-20h0m0 10h0m0 7h0m0 0h0m0 4h0m1-37h0m0 10h0m0 19h0m0 2h0m0 12h0m0 8h0m1-43h0m0 8h0m0 8h0m0 3h0m0 10h0m0 2h0m1-39h0m0 1h0m0 0h0m0 1h0m0 29h0m0 6h0m1-9h0m0 3h0m0 7h0m0 0h0m1-30h0m0 10h0m0 7h0m0 0h0m0 32h0m1-52h0m0 16h0m1-12h0m0 8h0m0 1h0m0 7h0m0 4h0m0 3h0m0 2h0m1-24h0m0 11h0m0 2h0m0 30h0m1-41h0m0 5h0m0 7h0m0 17h0m0 6h0m0 10h0m1-58h0m0 9h0m0 2h0m0 20h0m1-26h0m0 1h0m0 8h0m0 3h0m0 8h0m0 12h0m0 6h0m0 4h0m1-45h0m0 5h0m1-4h0m0 10h0m0 2h0m0 9h0m0 7h0m1-14h0m0 2h0m0 2h0m0 8h0m0 3h0m0 19h0m0 9h0m1-58h0m0 11h0m0 16h0m0 1h0m0 11h0m0 0h0m1-42h0m0 9h0m0 5h0m0 2h0m0 5h0m0 0h0m0 12h0m0 7h0m1-26h0m0 5h0m0 19h0m1-36h0m0 4h0m0 7h0m0 4h0m0 7h0m0 0h0m0 1h0m0 11h0m1-35h0m0 8h0m0 25h0m0 5h0m1-32h0m0 8h0m0 0h0m0 16h0m0 23h0m1-24h0m0 0h0m0 2h0m0 4h0m0 5h0m0 1h0m1-42h0m0 6h0m0 10h0m0 7h0m0 6h0m0 0h0m0 11h0m1-37h0m0 1h0m0 3h0m0 0h0m0 3h0m0 3h0m0 15h0m0 10h0m0 4h0m1-42h0m0 8h0m0 1h0m0 11h0m0 1h0m0 4h0m0 2h0m0 12h0m0 3h0m0 7h0m1-44h0m0 13h0m0 3h0m0 8h0m1-30h0m0 2h0m0 8h0m0 5h0m0 27h0m1-14h0m0 26h0m1-44h0m0 3h0m0 20h0m0 11h0m1-40h0m0 1h0m0 6h0m0 13h0m0 7h0m0 9h0m0 8h0m1-30h0m0 12h0m0 0h0m0 12h0m0 0h0m1-36h0m0 1h0m0 9h0m0 6h0m0 20h0m1-40h0m0 2h0m0 1h0m0 19h0m0 3h0m0 10h0m1-23h0m0 2h0m0 15h0m0 5h0m0 14h0m1-36h0m0 9h0m0 1h0m0 1h0m0 6h0m0 22h0m1-51h0m0 2h0m0 3h0m0 38h0m1-40h0m0 0h0m0 1h0m0 6h0m0 12h0m0 9h0m0 1h0m0 4h0m1-35h0m0 3h0m0 0h0m0 18h0m0 1h0m0 5h0m0 10h0m1-38h0m0 4h0m0 13h0m0 5h0m0 21h0m0 2h0m1-45h0m0 21h0m0 1h0m0 6h0m0 7h0m0 22h0m1-52h0m0 1h0m0 27h0m0 1h0m1-27h0m0 34h0m1-28h0m0 3h0m0 9h0m1 5h0m1-23h0m0 3h0m0 2h0m0 16h0m0 11h0m1-39h0m0 4h0m0 0h0m0 21h0m0 14h0m1-38h0m0 3h0m0 9h0m0 10h0m1-19h0m0 8h0m0 4h0m0 1h0m0 18h0m0 1h0m1-31h0m0 11h0m0 8h0m0 7h0m1-30h0m0 6h0m0 0h0m0 1h0m0 4h0m0 12h0m0 13h0m0 0h0m1-32h0m0 16h0m0 6h0m0 8h0m0 1h0m0 2h0m0 0h0m0 4h0m1-38h0m0 30h0m0 0h0m1-29h0m0 8h0m0 1h0m0 6h0m0 1h0m0 6h0m1-18h0m0 0h0m0 3h0m0 2h0m0 2h0m0 2h0m0 1h0m0 8h0m0 9h0m1-28h0m0 5h0m0 5h0m0 5h0m0 0h0m0 6h0m0 1h0m0 3h0m0 17h0m1-31h0m0 8h0m0 0h0m0 7h0m0 0h0m1-36h0m0 6h0m0 1h0m0 1h0m0 2h0m0 2h0m0 4h0m0 11h0m0 7h0m1-25h0m0 13h0m0 12h0m0 2h0m0 5h0m0 7h0m1-42h0m0 3h0m0 3h0m0 9h0m0 8h0m0 5h0m0 5h0m0 16h0m1-51h0m0 17h0m0 1h0m0 5h0m0 5h0m0 2h0m0 7h0m1-39h0m0 12h0m0 2h0m0 4h0m0 5h0m0 4h0m0 1h0m0 14h0m0 1h0m1-42h0m0 5h0m0 1h0m0 0h0m0 1h0m0 17h0m0 3h0m0 8h0m0 13h0m1-47h0m0 1h0m0 8h0m0 7h0m0 9h0m0 0h0m1-10h0m0 6h0m0 4h0m0 1h0m1-28h0m0 52h0m1-32h0m0 3h0m0 1h0m1-21h0m0 21h0m0 3h0m0 8h0m0 8h0m1-43h0m0 3h0m0 11h0m0 2h0m0 22h0m1-26h0m0 14h0m0 2h0m0 2h0m0 8h0m0 1h0m1-35h0m0 6h0m0 7h0m0 0h0m0 7h0m0 6h0m0 1h0m0 3h0m0 3h0m1-18h0m0 8h0m1-25h0m0 13h0m0 3h0m0 10h0m0 10h0m0 1h0m0 9h0m1-49h0m0 6h0m0 5h0m0 2h0m0 6h0m0 2h0m0 4h0m0 21h0m1-44h0m0 0h0m0 14h0m0 2h0m0 3h0m1-21h0m0 1h0m0 4h0m0 8h0m0 2h0m0 3h0m0 1h0m0 10h0m0 8h0m0 12h0m1-42h0m0 0h0m0 1h0m0 3h0m0 0h0m0 6h0m0 2h0m0 0h0m0 7h0m0 5h0m1-31h0m0 4h0m0 17h0m0 18h0m0 2h0m0 1h0m1-43h0m0 20h0m0 1h0m0 0h0m0 3h0m0 4h0m0 11h0m1-29h0m0 8h0m0 3h0m0 2h0m0 3h0m0 1h0m0 1h0m0 8h0m1-27h0m0 6h0m0 1h0m0 2h0m0 12h0m0 7h0m0 5h0m0 13h0m1-50h0m0 7h0m0 4h0m0 28h0m0 25h0m1-64h0m0 3h0m0 2h0m0 22h0m0 4h0m0 4h0m0 2h0m0 1h0m1-42h0m0 19h0m0 9h0m0 4h0m0 1h0m0 5h0m0 2h0m1-41h0m0 3h0m0 4h0m0 4h0m0 4h0m0 1h0m0 1h0m0 6h0m0 0h0m0 8h0m0 10h0m0 3h0m0 38h0m1-73h0m0 5h0m0 4h0m0 9h0m0 6h0m0 2h0m1-17h0m0 0h0m0 3h0m0 2h0m0 29h0m1-51h0m0 10h0m0 11h0m0 14h0"/>
<path d="M91 415h0m2 13h0m0 19h0m2-231h0m0 208h0m0 10h0m0 1h0m1 17h0m1-87h0m2-86h0m2 154h0m1-9h0m15-144h0m4 88h0m4 3h0m0 5h0m1-16h0m0 9h0m2-19h0m1 14h0m1-68h0m1 39h0m3-41h0m0 62h0m1-74h0m1-1h0m1 37h0m3 1h0m0 10h0m0 31h0m2-60h0m0 16h0m1-25h0m0 35h0m1 10h0m4-50h0m1-12h0m0 42h0m0 29h0m1-18h0m2-59h0m0 26h0m0 10h0m1-4h0m0 35h0m2-27h0m1-29h0m1 22h0m1-9h0m0 1h0m0 15h0m5-10h0m3-29h0m0 25h0m1 21h0m2-40h0m0 22h0m0 12h0m1-13h0m1 9h0m1-37h0m0 10h0m0 8h0m3 5h0m1-17h0m2 24h0m2-28h0m0 34h0m2 2h0m0 10h0m4-46h0m3 7h0m0 4h0m1-2h0m2 19h0m1 24h0m1-51h0m0 15h0m8 20h0m1-35h0m2 18h0m3 9h0m4 13h0m3 3h0m5-15h0m0 3h0m2 15h0m1-23h0m5-32h0m3-23h0m0 36h0m0 6h0m0 6h0m1-49h0m0 61h0m1-17h0m1-37h0m1-2h0m0 14h0m0 48h0m1-55h0m0 40h0m1-34h0m0 34h0m2-47h0m0 0h0m0 1h0m1 22h0m1-15h0m2-12h0m2 14h0m0 28h0m1-16h0m1-21h0m1 15h0m1 20h0m1-12h0m0 1h0m0 16h0m2-28h0m0 3h0m1 8h0m4-7h0m1-15h0m0 29h0m4-25h0m0 30h0m1-16h0m1-31h0m2 43h0m3-46h0m1 26h0m2 9h0m1-25h0m0 9h0m0 41h0m1-23h0m5-28h0m0 41h0m1-47h0m1 5h0m1-9h0m0 23h0m1-7h0m0 37h0m3-39h0m1 6h0m0 41h0m2-34h0m1 10h0m0 6h0m1-33h0m1-2h0m1-2h0m0 30h0m1-35h0m3 5h0m1 20h0m0 50h0m4-65h0m0 15h0m0 0h0m0 7h0m1-4h0m1-23h0m1 20h0m0 5h0m1-24h0m4 28h0m1-20h0m3 27h0m2-15h0m1-23h0m0 31h0m1-28h0m1 20h0m1 7h0m1-21h0m4-8h0m1 22h0m0 0h0m1-21h0m3-5h0m0 18h0m1 4h0m4-2h0m0 10h0m1 1h0m0 3h0m2-16h0m0 1h0m0 11h0m2-28h0m1 23h0m2-22h0m0 2h0m1 12h0m1-24h0m0 1h0m1-25h0m0 50h0m1-24h0m0 8h0m0 2h0m1 1h0m0 5h0m0 8h0m1-20h0m1-35h0m0 26h0m0 19h0m2-36h0m0 14h0m1 25h0m1-24h0m1 22h0m0 24h0m2-73h0m0 11h0m0 3h0m0 6h0m2-6h0m0 29h0m1-33h0m1 78h0m1-20h0m1-60h0m0 0h0m0 24h0m0 19h0m1-24h0m0 10h0m0 8h0m1-29h0m0 8h0m0 31h0m0 19h0m1-58h0m0 6h0m0 15h0m0 4h0m0 30h0m1-46h0m1-20h0m0 49h0m1-39h0m0 2h0m2-4h0m0 15h0m1 13h0m1-21h0m1-18h0m0 10h0m1-11h0m0 17h0m0 12h0m1 0h0m1 11h0m1-21h0m0 2h0m0 4h0m0 21h0m1-47h0m0 22h0m0 27h0m1-22h0m0 1h0m1-20h0m0 31h0m1-24h0m0 14h0m0 2h0m1-26h0m0 13h0m1-7h0m0 23h0m0 8h0m0 4h0m1-46h0m1 30h0m0 7h0m0 28h0m1-25h0m0 12h0m1-31h0m0 13h0m1-28h0m0 38h0m1-34h0m0 24h0m0 21h0m1-44h0m1 3h0m0 4h0m2 4h0m0 6h0m1-22h0m1 6h0m0 5h0m0 3h0m2-14h0m0 7h0m2 24h0m1-24h0m0 14h0m1-27h0m0 3h0m0 12h0m0 1h0m0 5h0m0 7h0m1-3h0m0 4h0m1-26h0m1 31h0m1-4h0m0 28h0m1-35h0m1-14h0m1-7h0m0 7h0m1 10h0m1 1h0m2-2h0m1-11h0m2 5h0m1 19h0m1-30h0m0 41h0m1-42h0m0 41h0m2-35h0m1 3h0m0 2h0m0 4h0m0 7h0m0 3h0m0 1h0m0 12h0m1-37h0m0 14h0m0 23h0m0 33h0m1-66h0m0 40h0m1-45h0m0 4h0m0 10h0m1 20h0m1-2h0m1-20h0m0 26h0m1-32h0m0 3h0m0 43h0m1-46h0m0 38h0m2-23h0m1-20h0m0 3h0m0 24h0m2-23h0m0 18h0m3 13h0m1-28h0m0 2h0m0 24h0m0 0h0m2-19h0m0 2h0m0 1h0m0 17h0m0 1h0m1-34h0m0 8h0m0 13h0m0 21h0m1-34h0m1 1h0m0 6h0m0 1h0m0 0h0m0 13h0m0 8h0m1 3h0m1-41h0m0 10h0m1-2h0m0 1h0m0 29h0m1-33h0m0 1h0m0 6h0m1-6h0m1-4h0m0 3h0m0 10h0m1-8h0m0 10h0m0 6h0m1-10h0m1 20h0m1-33h0m0 11h0m0 18h0m1-21h0m0 11h0m0 9h0m1-23h0m0 13h0m0 0h0m1-18h0m0 2h0m1 5h0m0 15h0m0 1h0m0 9h0m1-25h0m0 18h0m1-9h0m1-13h0m0 9h0m0 9h0m1-9h0m0 4h0m0 3h0m1 4h0m1-47h0m0 4h0m0 3h0m0 1h0m0 16h0m1-25h0m0 8h0m0 7h0m0 22h0m0 3h0m0 0h0m0 1h0m1-32h0m0 1h0m0 4h0m0 6h0m0 3h0m0 6h0m0 4h0m0 29h0m1-60h0m0 6h0m0 19h0m0 15h0m1-40h0m0 26h0m0 14h0m0 2h0m0 7h0m0 14h0m0 1h0m0 4h0m1-69h0m0 5h0m0 10h0m0 8h0m0 0h0m0 8h0m0 5h0m1-27h0m0 16h0m0 7h0m0 6h0m0 9h0m1-51h0m0 9h0m0 21h0m0 14h0m0 18h0m1-56h0m0 2h0m0 4h0m0 6h0m0 6h0m0 11h0m1-35h0m0 31h0m0 11h0m0 3h0m1-13h0m0 25h0m1-38h0m0 5h0m0 30h0m0 1h0m1-52h0m0 8h0m0 13h0m0 13h0m1-22h0m0 2h0m0 12h0m0 6h0m0 30h0m1-41h0m0 4h0m0 14h0m0 19h0m1-42h0m0 5h0m0 7h0m0 6h0m0 17h0m1-46h0m0 9h0m0 1h0m0 42h0m0 8h0m0 10h0m1-62h0m0 2h0m0 32h0m1-43h0m0 9h0m0 11h0m0 5h0m0 21h0m0 5h0m1-58h0m0 9h0m0 2h0m0 5h0m0 0h0m0 5h0m0 10h0m0 1h0m1-28h0m0 0h0m0 24h0m0 38h0m1-65h0m0 3h0m0 3h0m0 4h0m0 2h0m0 1h0m0 25h0m0 19h0m0 29h0m1-84h0m0 1h0m0 11h0m0 14h0m0 11h0m1-25h0m0 9h0m0 6h0m0 9h0m0 2h0m1-40h0m0 17h0m1-11h0m0 2h0m0 18h0m0 13h0m1-36h0m0 0h0m0 2h0m1 13h0m0 7h0m0 2h0m0 2h0m1-17h0m0 6h0m0 1h0m0 2h0m0 9h0m0 7h0m0 5h0m0 31h0m1-68h0m0 0h0m0 2h0m0 2h0m0 36h0m0 3h0m1-43h0m0 9h0m0 13h0m0 15h0m0 8h0m1-42h0m0 7h0m0 0h0m0 10h0m0 20h0m1-44h0m0 6h0m0 16h0m0 9h0m0 13h0m1-44h0m0 32h0m0 2h0m1-33h0m0 5h0m0 2h0m0 27h0m0 8h0m1-36h0m0 23h0m0 15h0m1-46h0m0 21h0m0 1h0m0 19h0m1-31h0m0 11h0m0 13h0m0 0h0m1-27h0m0 6h0m0 2h0m0 9h0m0 3h0m0 0h0m0 3h0m0 1h0m0 13h0m0 52h0m1-93h0m0 6h0m0 16h0m0 29h0m1-54h0m0 2h0m0 58h0m1-54h0m0 13h0m0 25h0m1-39h0m0 5h0m0 3h0m0 6h0m0 9h0m0 16h0m0 1h0m1-19h0m0 3h0m1-19h0m0 12h0m0 5h0m0 2h0m0 2h0m1-31h0m0 1h0m0 18h0m1-18h0m0 6h0m0 5h0m0 11h0m0 19h0m1-38h0m0 6h0m0 1h0m0 8h0m0 3h0m0 17h0m0 4h0m0 11h0m0 4h0m1-55h0m0 17h0m0 24h0m0 3h0m1-41h0m0 4h0m0 27h0m1-35h0m0 11h0m0 15h0m0 8h0m1-18h0m0 2h0m0 0h0m0 25h0m0 6h0m1-47h0m0 23h0m0 0h0m0 11h0m0 6h0m1-41h0m0 12h0m0 5h0m1-9h0m0 2h0m0 22h0m1-31h0m0 1h0m0 5h0m0 7h0m0 3h0m0 1h0m0 25h0m0 1h0m1-43h0m0 15h0m0 0h0m0 4h0m0 10h0m0 5h0m0 9h0m1-45h0m0 0h0m0 5h0m0 4h0m0 1h0m0 2h0m0 1h0m0 9h0m0 4h0m0 15h0m1-36h0m0 6h0m0 26h0m1-28h0m0 4h0m0 3h0m0 24h0m0 5h0m1-41h0m0 5h0m0 7h0m0 2h0m0 20h0m1-35h0m0 13h0m0 4h0m1-13h0m0 4h0m0 10h0m0 10h0m1-33h0m0 1h0m0 59h0m1-58h0m0 1h0m0 35h0m0 56h0m1-92h0m0 4h0m0 4h0m0 15h0m0 7h0m0 16h0m1-49h0m0 5h0m0 2h0m0 3h0m0 1h0m0 12h0m0 3h0m0 13h0m1-37h0m0 2h0m0 7h0m0 48h0m1-49h0m0 7h0m0 8h0m0 18h0m1-38h0m0 15h0m0 19h0m0 12h0m1-40h0m0 4h0m0 11h0m0 4h0m1-27h0m0 16h0m0 18h0m1-35h0m0 1h0m0 6h0m0 1h0m0 2h0m0 25h0m1-14h0m0 0h0m0 5h0m1-19h0m0 12h0m0 6h0m0 13h0m1-36h0m0 29h0m1-30h0m0 0h0m0 12h0m0 20h0m0 15h0m1-36h0m0 14h0m0 7h0m1-21h0m1-12h0m0 8h0m0 24h0m0 3h0m1-31h0m0 14h0m0 9h0m0 13h0m1-31h0m0 3h0m0 10h0m0 1h0m0 9h0m0 9h0m1-31h0m1-6h0m0 0h0m0 13h0m0 1h0m0 21h0m1-31h0m0 14h0m1 4h0m0 3h0m0 17h0m1-48h0m0 3h0m0 13h0m0 3h0m0 10h0m0 11h0m1-34h0m0 2h0m0 0h0m0 2h0m0 5h0m0 11h0m0 10h0m1-30h0m0 20h0m1-13h0m0 14h0m0 0h0m0 1h0m1-26h0m0 5h0m0 23h0m0 4h0m0 2h0m0 21h0m1-53h0m0 1h0m0 4h0m0 8h0m0 9h0m1-13h0m1-5h0m0 12h0m0 5h0m0 4h0m0 7h0m2-32h0m0 3h0m1-6h0m0 9h0m0 1h0m1-4h0m0 6h0m0 11h0m0 28h0m1-46h0m0 13h0m0 10h0m0 3h0m0 15h0m1-33h0m0 1h0m0 1h0m0 9h0m0 4h0m1-27h0m0 16h0m0 12h0m0 15h0m1-25h0m0 9h0m0 3h0m1-27h0m0 10h0m1-2h0m0 18h0m0 21h0m1-35h0m0 26h0m1-32h0m0 14h0m1-17h0m0 4h0m1-11h0m0 12h0m0 12h0m0 4h0m1-24h0m0 5h0m0 23h0m1-29h0m0 14h0m0 2h0m0 15h0m1-25h0m0 4h0m0 8h0m0 15h0m1-36h0m0 0h0m0 5h0m0 2h0m0 1h0m0 0h0m0 4h0m1-13h0m0 3h0m0 4h0m0 8h0m0 7h0m0 12h0m1-19h0m0 9h0m1-7h0m0 2h0m0 2h0m1-20h0m0 8h0m0 4h0m0 7h0m0 0h0m0 7h0m1-21h0m0 20h0m1-52h0m0 32h0m0 1h0m0 21h0m1-33h0m0 2h0m0 4h0m0 8h0m0 8h0m0 5h0m1-46h0m0 4h0m0 35h0m1-33h0m0 9h0m0 0h0m0 14h0m1-15h0m0 3h0m0 3h0m0 7h0m0 1h0m0 16h0m0 1h0m0 8h0m0 10h0m0 0h0m1-52h0m0 7h0m0 10h0m0 2h0m0 4h0m0 20h0m1-27h0m0 9h0m0 18h0m1-16h0m0 12h0m1-49h0m0 0h0m0 3h0m0 10h0m0 4h0m0 5h0m0 5h0m1-25h0m0 5h0m0 11h0m0 8h0m0 9h0m0 29h0m1-67h0m0 20h0m0 5h0m0 1h0m0 4h0m0 4h0m0 9h0m0 2h0m0 11h0m0 21h0m1-71h0m0 3h0m0 3h0m0 5h0m0 7h0m0 1h0m0 1h0m0 4h0m0 0h0m0 9h0m0 13h0m1-50h0m0 6h0m0 20h0m0 2h0m0 24h0m0 11h0m1-48h0m0 0h0m0 10h0m0 1h0m0 4h0m0 13h0m0 5h0m0 7h0m0 3h0m1-39h0m0 1h0m0 6h0m0 22h0m0 4h0m1-52h0m0 1h0m0 4h0m0 32h0m0 3h0m0 5h0m0 2h0m1-45h0m0 25h0m0 6h0m0 10h0m0 4h0m1-43h0m0 7h0m0 1h0m0 8h0m0 4h0m0 22h0m1-42h0m0 0h0m0 2h0m0 4h0m0 12h0m0 24h0m0 24h0m1-70h0m0 6h0m0 10h0m0 1h0m0 2h0m0 9h0m0 2h0m0 1h0m0 3h0m0 8h0m0 4h0m0 5h0m1-46h0m0 3h0m0 2h0m0 27h0m1-25h0m0 2h0m0 3h0m0 2h0m0 3h0m0 1h0m0 7h0m0 1h0m0 2h0m0 4h0m0 2h0m1-35h0m0 2h0m0 11h0m0 3h0m0 1h0m0 6h0m0 11h0m0 0h0m1-28h0m0 5h0m0 1h0m0 6h0m0 2h0m0 6h0m0 4h0m0 2h0m0 7h0m1-43h0m0 8h0m0 2h0m0 10h0m0 2h0m0 20h0m1-12h0m0 5h0m0 9h0m0 8h0m1-40h0m0 2h0m0 3h0m0 0h0m0 1h0m0 15h0m0 8h0m0 2h0m0 10h0m1-38h0m0 1h0m0 8h0m0 11h0m0 1h0m0 5h0m0 12h0m0 1h0m0 5h0m1-53h0m0 7h0m0 17h0m0 6h0m0 2h0m0 11h0m1-47h0m0 0h0m0 3h0m0 28h0m0 1h0m1-32h0m0 5h0m0 2h0m0 0h0m0 0h0m0 2h0m0 6h0m0 5h0m0 1h0m0 41h0m1-57h0m0 10h0m0 5h0m0 1h0m0 1h0m0 1h0m0 10h0m0 4h0m0 2h0m1-42h0m0 5h0m0 22h0m0 12h0m0 8h0m0 4h0m1-39h0m0 2h0m0 10h0m0 2h0m0 1h0m0 13h0m0 7h0m1-42h0m0 15h0m0 13h0m0 9h0m0 5h0m0 3h0m1-50h0m0 17h0m0 4h0m0 13h0m0 10h0m0 2h0m0 3h0m1-37h0m0 19h0m0 0h0m0 4h0m0 12h0m1-47h0m0 10h0m0 9h0m1-4h0m0 11h0m0 2h0m0 17h0m0 0h0m0 0h0m1-38h0m0 23h0m0 43h0m1-51h0m0 8h0m0 1h0m0 2h0m0 30h0m1-60h0m0 23h0m0 3h0m0 0h0m0 8h0m0 3h0m1-36h0m0 1h0m0 3h0m0 0h0m0 21h0m0 4h0m0 2h0m1-27h0m0 5h0m0 19h0m0 7h0m0 1h0m0 8h0m0 16h0m1-64h0m0 15h0m0 5h0m1-20h0m0 39h0m1-35h0m0 32h0m0 8h0m1-39h0m0 7h0m0 0h0m0 3h0m0 8h0m0 6h0m1-8h0m0 2h0m0 25h0m0 4h0m1-30h0m0 6h0m0 4h0m0 15h0m0 10h0m1-58h0m0 4h0m0 0h0m0 3h0m0 1h0m0 5h0m0 0h0m0 11h0m0 1h0m0 5h0m0 1h0m0 13h0m0 5h0m1-40h0m0 10h0m0 2h0m0 11h0m0 2h0m0 18h0m0 8h0m0 2h0m1-42h0m0 0h0m0 1h0m0 7h0m0 48h0m1-72h0m0 1h0m0 13h0m0 2h0m0 2h0m0 4h0m0 57h0m1-73h0m0 4h0m0 4h0m0 6h0m0 2h0m0 16h0m1-30h0m0 17h0m0 12h0m0 9h0m0 1h0m1-44h0m0 7h0m0 0h0m0 2h0m1-13h0m0 6h0m0 6h0m0 5h0m0 8h0m0 12h0m1-37h0m0 28h0m0 11h0m1-34h0m0 11h0m0 6h0m0 1h0m0 3h0m1-25h0m0 2h0m0 9h0m0 3h0m0 2h0m0 7h0m0 4h0m0 0h0m0 3h0m1-31h0m0 5h0m0 45h0m1-49h0m0 2h0m0 9h0m0 22h0m0 5h0m1-41h0m0 5h0m0 10h0m0 7h0m0 12h0m0 1h0m0 1h0m0 1h0m0 9h0m1-46h0m0 5h0m0 13h0m0 2h0m0 6h0m0 18h0m1-33h0m0 4h0m0 7h0m0 1h0m1-22h0m0 15h0m0 6h0m0 10h0m0 4h0m1-31h0m0 14h0m0 10h0m1-17h0m0 8h0m0 6h0m0 8h0m0 6h0m0 24h0m1-52h0m0 5h0m0 6h0m0 5h0m0 4h0m0 2h0m0 9h0m0 4h0m1-42h0m0 1h0m0 6h0m0 19h0m0 7h0m1-22h0m0 6h0m0 1h0m0 10h0m0 2h0m1-30h0m0 19h0m0 3h0m0 0h0m0 13h0m0 4h0m0 7h0m0 10h0m1-62h0m0 10h0m0 2h0m0 24h0m0 3h0m0 5h0m0 4h0m1-43h0m0 4h0m0 9h0m0 7h0m1-19h0m0 19h0m0 2h0m0 9h0m0 14h0m1-44h0m0 4h0m0 6h0m0 17h0m0 8h0m0 0h0m1-30h0m0 1h0m0 5h0m0 0h0m0 3h0m0 6h0m0 1h0m0 12h0m1-32h0m0 24h0m0 3h0m0 2h0m0 23h0m1-17h0m1-41h0m0 3h0m0 20h0m0 6h0m0 4h0m0 16h0m1-47h0m0 4h0m0 4h0m0 10h0m0 7h0m0 11h0m1-15h0m1-8h0m0 1h0m0 1h0m0 3h0m0 14h0m0 1h0m0 0h0m0 4h0m0 10h0m1-48h0m0 9h0m0 26h0m1-34h0m0 8h0m0 1h0m0 5h0m0 4h0m0 26h0m1-38h0m0 3h0m0 7h0m0 5h0m0 5h0m1-27h0m0 0h0m0 4h0m0 4h0m0 7h0m0 3h0m0 1h0m0 4h0m0 0h0m0 16h0m0 7h0m1-45h0m0 2h0m0 4h0m0 34h0m0 2h0m0 3h0m1-46h0m0 14h0m0 14h0m0 6h0m0 8h0m0 5h0m1-46h0m0 16h0m0 28h0m1-19h0m0 6h0m0 3h0m0 6h0m1-40h0m0 9h0m0 2h0m0 2h0m0 1h0m0 2h0m0 2h0m0 12h0m0 1h0m0 8h0m1-11h0m0 5h0m1-32h0m0 12h0m0 4h0m0 6h0m0 13h0m1-36h0m0 3h0m0 1h0m0 14h0m0 4h0m0 6h0m0 2h0m0 21h0m1-49h0m0 4h0m0 6h0m0 1h0m0 5h0m0 2h0m0 10h0m0 7h0m1-30h0m0 21h0m0 5h0m1-26h0m0 4h0m0 2h0m0 3h0m0 7h0m0 1h0m0 6h0m0 3h0m1-24h0m0 5h0m0 24h0m0 1h0m0 9h0m1-32h0m0 5h0m0 5h0m1-28h0m0 10h0m0 4h0m0 2h0m0 1h0m0 3h0m0 5h0m0 9h0m0 6h0m0 14h0m1-24h0m0 10h0m1-32h0m0 1h0m0 19h0m0 4h0m0 11h0m1-36h0m0 3h0m0 4h0m0 0h0m0 4h0m0 7h0m0 7h0m0 16h0m1-47h0m0 2h0m0 8h0m0 3h0m0 14h0m0 1h0m0 20h0m1-36h0m0 4h0m1-7h0m0 7h0m0 1h0m0 7h0m0 8h0m1-22h0m0 10h0m0 20h0m1-34h0m0 0h0m0 11h0m0 2h0m0 3h0m0 6h0m0 15h0m1-33h0m0 0h0m0 13h0m0 19h0m1-43h0m0 6h0m0 14h0m0 1h0m0 1h0m0 3h0m0 3h0m0 8h0m0 7h0m1-38h0m0 2h0m0 1h0m0 15h0m0 3h0m1-20h0m0 0h0m0 8h0m0 11h0m0 6h0m0 9h0m0 0h0m0 2h0m1-25h0m0 8h0m0 7h0m0 18h0m1-39h0m0 9h0m1-17h0m0 5h0m0 10h0m0 1h0m0 3h0m0 4h0m0 1h0m0 1h0m0 3h0m0 9h0m1-32h0m0 13h0m0 4h0m0 2h0m0 22h0"/>
<path d="M89 333h0m0 120h0m1-53h0m1-11h0m5 1h0m1 3h0m1-80h0m0 74h0m0 63h0m6-146h0m11 111h0m7-138h0m4 43h0m1-18h0m7 33h0m1-35h0m1 12h0m1-3h0m1 2h0m1 42h0m1-11h0m0 25h0m3-69h0m2 34h0m1-57h0m0 87h0m1-35h0m0 16h0m1-9h0m1-62h0m1 31h0m0 3h0m1 36h0m2-55h0m0 8h0m0 8h0m4-5h0m0 14h0m1-39h0m0 23h0m2-16h0m1 4h0m1 55h0m1-54h0m2-13h0m0 21h0m1 7h0m1-2h0m3-20h0m1 20h0m1 9h0m0 9h0m1-28h0m0 25h0m1-10h0m2-13h0m2 4h0m0 2h0m3 17h0m1-11h0m1 18h0m1-43h0m1 30h0m0 33h0m2-51h0m0 24h0m2-43h0m0 28h0m0 47h0m2-60h0m0 23h0m3-39h0m0 52h0m1-17h0m1-5h0m4-13h0m1 13h0m4-9h0m1-12h0m0 23h0m9-8h0m1 0h0m3 11h0m3 14h0m2-29h0m4-57h0m0 31h0m2 0h0m4-17h0m0 15h0m8-12h0m0 31h0m1-9h0m2-40h0m0 94h0m6-69h0m1 10h0m0 23h0m2-34h0m2-25h0m1-1h0m2 27h0m2 49h0m1-63h0m1-3h0m0 41h0m2-48h0m0 71h0m1-53h0m2-5h0m0 29h0m5-37h0m0 23h0m2-2h0m2 13h0m1-6h0m2-23h0m2 0h0m0 32h0m1-45h0m0 27h0m0 9h0m1-8h0m1 10h0m2-39h0m0 43h0m0 11h0m1-40h0m2-10h0m0 11h0m0 13h0m1-27h0m0 57h0m1-9h0m3-48h0m0 17h0m0 31h0m1-15h0m0 31h0m8-65h0m1 15h0m3 16h0m1 19h0m1-48h0m0 4h0m1 0h0m0 13h0m1 16h0m1-25h0m0 30h0m1-21h0m0 12h0m3-22h0m1-5h0m1-1h0m1 3h0m0 13h0m1-14h0m0 5h0m1-8h0m1 6h0m2-2h0m0 10h0m1-11h0m4-1h0m0 24h0m2-21h0m0 16h0m0 42h0m2-42h0m0 7h0m2-1h0m4-9h0m1-13h0m1 2h0m3-24h0m0 6h0m4-27h0m0 56h0m0 4h0m1 27h0m2-79h0m0 14h0m0 20h0m0 22h0m3-61h0m0 1h0m0 15h0m0 6h0m0 14h0m1-22h0m2 28h0m1-28h0m0 2h0m1 3h0m0 17h0m1-32h0m1 26h0m0 2h0m0 4h0m2-14h0m0 1h0m1-17h0m0 18h0m0 3h0m1-32h0m0 6h0m1 20h0m0 3h0m0 9h0m1-5h0m2-28h0m0 62h0m1-34h0m2-31h0m0 9h0m2 3h0m0 36h0m2-33h0m0 1h0m0 26h0m2-35h0m0 6h0m0 18h0m0 6h0m1-32h0m1 14h0m0 29h0m1-37h0m1 26h0m1-36h0m0 9h0m1 47h0m3-55h0m0 6h0m0 11h0m1-7h0m2-13h0m0 4h0m0 31h0m1-22h0m0 7h0m0 2h0m0 14h0m0 51h0m1-79h0m1-9h0m1 30h0m1 8h0m0 14h0m1-46h0m0 22h0m0 6h0m1-26h0m0 5h0m2 15h0m0 15h0m0 6h0m2-35h0m0 6h0m1-9h0m0 4h0m0 6h0m0 3h0m0 21h0m1-31h0m0 6h0m0 21h0m1-34h0m1 19h0m2-20h0m1 12h0m0 17h0m2 3h0m0 8h0m1-11h0m1-21h0m0 15h0m1-18h0m0 1h0m1 8h0m0 11h0m1 17h0m0 4h0m1-42h0m0 1h0m0 11h0m1-21h0m0 38h0m1-27h0m0 10h0m1-18h0m0 13h0m0 13h0m1-30h0m0 7h0m1 15h0m0 1h0m1-22h0m0 17h0m3-18h0m0 2h0m0 32h0m2-9h0m1-9h0m3-5h0m0 10h0m0 8h0m1-11h0m0 5h0m1-22h0m2 10h0m1-2h0m0 39h0m1-42h0m0 20h0m0 4h0m0 13h0m1-30h0m0 3h0m0 6h0m0 4h0m2-16h0m0 0h0m0 16h0m1-18h0m0 21h0m0 14h0m1-22h0m1-11h0m0 1h0m0 25h0m1-26h0m0 14h0m0 9h0m0 16h0m1-33h0m0 1h0m0 5h0m0 1h0m1-13h0m0 33h0m1-22h0m0 49h0m1-40h0m0 26h0m1-38h0m1-10h0m0 0h0m0 8h0m0 30h0m1-46h0m0 12h0m0 49h0m1-21h0m1-37h0m0 13h0m0 6h0m0 14h0m1-32h0m0 13h0m1-12h0m0 3h0m2 2h0m0 1h0m0 19h0m1 3h0m1-31h0m0 1h0m0 6h0m0 2h0m0 14h0m1-9h0m1-12h0m0 3h0m0 19h0m1-24h0m1-18h0m0 1h0m0 14h0m0 10h0m0 1h0m0 6h0m0 3h0m2-36h0m0 0h0m0 6h0m0 2h0m0 16h0m0 2h0m1-34h0m0 14h0m0 21h0m1-23h0m0 4h0m0 8h0m0 12h0m0 7h0m0 7h0m1-47h0m0 4h0m0 20h0m0 0h0m0 3h0m1-30h0m0 29h0m1-24h0m0 9h0m0 0h0m0 3h0m0 17h0m0 11h0m1-41h0m0 12h0m0 35h0m0 16h0m1-53h0m0 34h0m1-44h0m0 6h0m0 17h0m1 9h0m1-36h0m0 26h0m0 4h0m0 13h0m1-39h0m0 13h0m0 2h0m0 15h0m1-28h0m0 3h0m0 9h0m0 18h0m0 10h0m1-36h0m0 36h0m1-45h0m0 4h0m0 3h0m0 16h0m0 4h0m1-19h0m0 0h0m0 6h0m0 30h0m0 30h0m1-60h0m0 4h0m0 8h0m0 5h0m0 13h0m1-44h0m0 3h0m0 3h0m0 17h0m0 11h0m1-25h0m0 7h0m0 26h0m1-44h0m0 2h0m0 18h0m0 1h0m0 1h0m0 13h0m0 17h0m0 10h0m0 2h0m1-46h0m0 7h0m1-19h0m0 1h0m0 3h0m0 5h0m0 28h0m1-36h0m0 4h0m0 28h0m1-23h0m0 4h0m0 18h0m0 11h0m0 15h0m1-18h0m1-45h0m0 1h0m0 2h0m0 15h0m0 7h0m1-14h0m0 7h0m0 10h0m0 2h0m1-27h0m0 23h0m0 13h0m0 34h0m1-51h0m0 19h0m1-41h0m0 16h0m0 8h0m0 3h0m0 9h0m0 7h0m1-43h0m0 23h0m1-24h0m0 6h0m0 17h0m0 8h0m1-15h0m0 6h0m0 18h0m0 52h0m1-87h0m0 1h0m0 1h0m1 11h0m0 2h0m0 16h0m0 2h0m1-37h0m0 0h0m0 2h0m0 20h0m0 12h0m0 2h0m1-29h0m0 4h0m0 9h0m0 1h0m0 9h0m0 28h0m1-38h0m0 1h0m0 4h0m0 9h0m0 7h0m1-29h0m0 12h0m0 8h0m0 2h0m1-10h0m0 17h0m0 4h0m0 8h0m1-52h0m0 3h0m1 6h0m0 5h0m1-8h0m1 10h0m0 32h0m1-33h0m0 14h0m0 0h0m0 5h0m1-33h0m0 3h0m0 1h0m0 1h0m0 0h0m0 9h0m0 18h0m0 19h0m1-39h0m0 0h0m0 4h0m0 5h0m0 15h0m1-28h0m1-2h0m0 1h0m0 5h0m0 7h0m0 2h0m0 30h0m1-47h0m0 10h0m0 2h0m1-19h0m0 2h0m0 1h0m0 11h0m0 3h0m0 4h0m0 10h0m0 10h0m0 4h0m1-30h0m0 11h0m1-18h0m0 36h0m1-39h0m0 8h0m0 9h0m0 9h0m1-28h0m0 6h0m0 1h0m0 5h0m0 24h0m0 7h0m1-39h0m0 13h0m1-15h0m0 13h0m0 10h0m1-20h0m0 43h0m0 7h0m1-55h0m0 6h0m0 16h0m0 2h0m0 9h0m0 5h0m1-41h0m0 2h0m0 1h0m0 6h0m0 36h0m1-40h0m0 7h0m0 38h0m1-51h0m0 8h0m0 8h0m0 6h0m0 19h0m0 14h0m1-51h0m0 3h0m0 16h0m0 9h0m1-18h0m0 7h0m0 2h0m0 24h0m1-39h0m0 3h0m0 5h0m0 0h0m0 24h0m0 3h0m1-30h0m0 20h0m1-27h0m0 4h0m0 7h0m0 1h0m0 18h0m0 13h0m1-46h0m0 11h0m0 5h0m0 6h0m0 5h0m1-29h0m0 26h0m0 1h0m1-2h0m0 6h0m0 2h0m0 11h0m1-44h0m0 0h0m0 13h0m0 6h0m0 17h0m0 8h0m1-38h0m0 0h0m0 7h0m0 1h0m0 2h0m0 3h0m0 3h0m0 4h0m0 1h0m0 3h0m0 2h0m0 8h0m1-35h0m0 8h0m1-13h0m0 11h0m0 5h0m0 9h0m1-21h0m0 0h0m0 19h0m1-22h0m0 7h0m0 4h0m0 15h0m0 1h0m1-20h0m0 3h0m0 8h0m0 5h0m0 5h0m0 1h0m0 3h0m1-27h0m0 1h0m0 4h0m0 0h0m0 1h0m0 7h0m0 8h0m0 12h0m1-9h0m1-30h0m0 20h0m0 0h0m0 25h0m1-32h0m0 10h0m0 18h0m1-28h0m0 8h0m0 6h0m0 15h0m1-40h0m0 11h0m0 5h0m0 16h0m0 3h0m1-25h0m0 21h0m0 1h0m0 7h0m1-31h0m0 1h0m0 4h0m0 13h0m0 0h0m0 17h0m1-46h0m0 14h0m0 2h0m0 5h0m0 3h0m1-22h0m0 7h0m0 23h0m1-27h0m0 7h0m0 24h0m0 5h0m0 6h0m0 3h0m1-32h0m0 7h0m0 1h0m0 3h0m0 8h0m0 9h0m1-33h0m0 2h0m0 3h0m0 44h0m1-59h0m0 16h0m0 2h0m0 1h0m0 22h0m0 41h0m1-81h0m0 4h0m0 0h0m0 2h0m0 18h0m0 25h0m1-51h0m0 2h0m0 8h0m0 4h0m0 10h0m1-24h0m0 11h0m0 2h0m1-15h0m0 9h0m0 8h0m0 6h0m0 0h0m1-14h0m0 3h0m0 0h0m0 1h0m0 2h0m0 12h0m0 3h0m0 3h0m0 15h0m0 10h0m1-50h0m0 2h0m0 1h0m0 7h0m1-11h0m0 4h0m0 17h0m0 3h0m1-30h0m0 6h0m0 4h0m0 10h0m0 19h0m0 5h0m1-28h0m0 12h0m0 8h0m0 11h0m1-43h0m0 3h0m0 0h0m0 7h0m0 1h0m0 5h0m0 18h0m1-34h0m0 2h0m0 2h0m0 25h0m1-33h0m0 2h0m0 8h0m0 2h0m0 8h0m1-17h0m0 3h0m0 21h0m0 6h0m1-20h0m0 0h0m0 4h0m0 0h0m0 9h0m0 26h0m1-33h0m1-17h0m0 23h0m0 6h0m0 10h0m1-41h0m0 16h0m0 3h0m0 19h0m1-34h0m0 2h0m0 1h0m0 1h0m1-2h0m0 15h0m1-21h0m0 16h0m0 7h0m1-23h0m0 13h0m0 0h0m0 18h0m0 105h0m1-131h0m0 2h0m0 3h0m0 11h0m0 2h0m1-22h0m0 3h0m0 7h0m0 10h0m0 3h0m0 3h0m0 1h0m1-28h0m0 0h0m0 13h0m1-17h0m0 1h0m0 6h0m0 4h0m1-19h0m0 17h0m0 13h0m1-32h0m0 13h0m0 10h0m0 4h0m0 32h0m1-50h0m0 2h0m0 1h0m0 2h0m0 7h0m0 5h0m0 16h0m1-49h0m0 5h0m0 4h0m0 12h0m0 6h0m0 8h0m0 8h0m0 10h0m1-54h0m0 9h0m0 16h0m0 0h0m0 9h0m0 3h0m0 6h0m0 2h0m1-44h0m0 5h0m0 10h0m0 5h0m0 5h0m0 9h0m0 7h0m1-42h0m0 11h0m0 5h0m0 5h0m0 3h0m0 5h0m0 0h0m0 2h0m0 12h0m0 5h0m1-47h0m0 1h0m0 7h0m0 9h0m0 10h0m0 2h0m0 4h0m0 0h0m0 6h0m0 7h0m1-52h0m0 5h0m0 1h0m0 0h0m0 1h0m0 7h0m0 2h0m0 15h0m0 1h0m0 1h0m0 8h0m0 14h0m1-54h0m0 5h0m0 0h0m0 2h0m0 2h0m0 5h0m0 5h0m0 5h0m0 13h0m0 18h0m0 0h0m1-49h0m0 9h0m0 12h0m0 9h0m0 5h0m0 6h0m1-18h0m0 9h0m1-35h0m0 20h0m0 4h0m0 9h0m0 8h0m1-39h0m0 1h0m0 16h0m0 13h0m0 28h0m1-61h0m0 32h0m0 2h0m0 1h0m1-31h0m0 13h0m0 11h0m0 16h0m1-40h0m0 3h0m0 10h0m0 19h0m0 15h0m1-52h0m0 7h0m0 4h0m0 2h0m0 0h0m0 3h0m0 9h0m0 3h0m0 6h0m0 9h0m0 17h0m0 14h0m1-73h0m0 18h0m0 4h0m0 10h0m0 6h0m0 5h0m0 6h0m1-47h0m0 3h0m0 1h0m0 1h0m0 16h0m0 2h0m0 4h0m0 13h0m0 5h0m1-38h0m0 15h0m1-5h0m0 5h0m0 21h0m0 3h0m1-48h0m0 7h0m0 14h0m0 3h0m0 4h0m0 1h0m0 0h0m1-24h0m0 28h0m0 11h0m1-36h0m0 2h0m0 15h0m0 2h0m0 4h0m0 1h0m0 4h0m0 0h0m1-36h0m0 17h0m0 22h0m1-39h0m0 52h0m1-31h0m0 1h0m0 13h0m0 8h0m1-26h0m0 15h0m0 4h0m0 34h0m1-66h0m0 4h0m0 8h0m0 2h0m0 20h0m0 29h0m1-34h0m0 10h0m0 15h0m1-57h0m0 0h0m0 2h0m0 3h0m0 0h0m0 17h0m0 6h0m0 13h0m0 15h0m1-44h0m0 11h0m1-16h0m0 4h0m0 13h0m0 13h0m1-35h0m0 11h0m0 4h0m0 1h0m0 6h0m0 10h0m1-37h0m0 4h0m0 22h0m0 1h0m0 13h0m0 9h0m1-37h0m0 1h0m0 0h0m0 4h0m0 4h0m0 18h0m0 7h0m1-44h0m0 10h0m0 15h0m0 30h0m1-49h0m0 12h0m0 9h0m0 16h0m0 7h0m0 18h0m1-70h0m0 1h0m0 16h0m0 1h0m0 3h0m0 9h0m0 4h0m0 1h0m0 1h0m0 15h0m0 11h0m1-53h0m0 0h0m0 19h0m1-8h0m0 18h0m0 12h0m0 2h0m0 3h0m1-56h0m0 13h0m0 17h0m0 3h0m0 4h0m0 10h0m1-35h0m0 8h0m0 3h0m0 6h0m0 7h0m0 5h0m0 9h0m1-43h0m0 0h0m0 12h0m0 2h0m0 5h0m0 7h0m0 6h0m1-21h0m0 3h0m0 3h0m0 10h0m0 1h0m0 16h0m1-48h0m0 1h0m0 4h0m0 1h0m0 4h0m0 2h0m0 5h0m1-14h0m0 6h0m0 19h0m0 14h0m1-32h0m0 2h0m0 7h0m0 14h0m0 4h0m0 0h0m0 24h0m1-61h0m0 7h0m0 0h0m0 6h0m0 3h0m0 9h0m1-27h0m0 5h0m0 14h0m0 7h0m0 7h0m0 3h0m1 9h0m1-46h0m0 0h0m0 4h0m0 1h0m0 13h0m0 21h0m0 26h0m1-63h0m0 4h0m0 2h0m0 2h0m0 29h0m1-35h0m0 8h0m0 15h0m0 5h0m0 3h0m0 6h0m0 2h0m0 12h0m1-54h0m0 5h0m0 35h0m0 9h0m1-39h0m0 8h0m0 1h0m0 8h0m0 4h0m1-32h0m0 6h0m0 2h0m0 2h0m0 14h0m0 4h0m0 3h0m0 1h0m0 6h0m0 8h0m0 2h0m1-48h0m0 1h0m0 3h0m0 3h0m0 14h0m0 5h0m0 3h0m0 2h0m0 3h0m0 4h0m0 2h0m0 19h0m1-57h0m0 1h0m0 5h0m0 12h0m0 8h0m0 0h0m0 13h0m0 17h0m0 3h0m1-55h0m0 3h0m0 3h0m0 5h0m0 27h0m1-42h0m0 4h0m0 4h0m0 1h0m0 4h0m0 16h0m0 17h0m1-47h0m0 3h0m0 5h0m0 1h0m0 11h0m0 5h0m0 11h0m0 5h0m0 8h0m0 4h0m1-34h0m0 9h0m0 0h0m0 9h0m1-37h0m0 5h0m0 12h0m0 19h0m0 5h0m0 5h0m1-42h0m0 2h0m0 9h0m0 8h0m0 27h0m1-46h0m0 15h0m0 5h0m0 8h0m0 2h0m0 1h0m0 16h0m1-37h0m0 5h0m0 32h0m1-37h0m0 1h0m0 6h0m0 4h0m0 6h0m0 6h0m0 3h0m0 20h0m1-55h0m0 19h0m0 1h0m0 9h0m0 1h0m0 14h0m1-46h0m0 4h0m0 4h0m0 3h0m0 6h0m0 4h0m0 3h0m0 1h0m0 7h0m0 11h0m1-43h0m0 2h0m0 11h0m0 3h0m0 6h0m0 2h0m0 9h0m0 5h0m0 1h0m0 0h0m0 7h0m1-35h0m0 1h0m0 2h0m0 2h0m0 6h0m0 9h0m0 3h0m1-34h0m0 17h0m0 0h0m0 2h0m0 27h0m1-27h0m0 1h0m0 11h0m1-30h0m0 17h0m0 18h0m1-40h0m0 14h0m0 9h0m0 12h0m0 5h0m0 4h0m0 0h0m0 4h0m1-35h0m0 2h0m0 36h0m1-48h0m0 9h0m0 11h0m0 12h0m0 2h0m1-29h0m0 7h0m1-11h0m0 4h0m0 24h0m0 1h0m0 4h0m0 0h0m1-36h0m0 2h0m0 7h0m0 1h0m0 4h0m0 1h0m0 4h0m0 8h0m0 4h0m0 41h0m1-69h0m0 25h0m0 10h0m0 9h0m1-31h0m0 31h0m1-45h0m0 27h0m0 9h0m0 3h0m1-26h0m0 2h0m0 2h0m0 1h0m0 13h0m0 9h0m1-33h0m0 13h0m0 18h0m0 7h0m1-43h0m0 18h0m1-21h0m0 1h0m0 2h0m0 4h0m0 13h0m0 14h0m0 4h0m0 1h0m0 12h0m1-52h0m0 3h0m0 7h0m0 1h0m0 21h0m0 15h0m0 7h0m1-54h0m0 2h0m0 6h0m0 14h0m0 8h0m0 1h0m0 13h0m0 1h0m1-40h0m0 1h0m0 5h0m0 0h0m0 1h0m0 15h0m0 7h0m0 11h0m1-27h0m0 3h0m0 3h0m0 2h0m0 12h0m0 2h0m1-40h0m0 8h0m0 6h0m0 1h0m0 5h0m0 55h0m1-56h0m0 2h0m0 4h0m0 3h0m0 2h0m0 3h0m0 3h0m0 15h0m1-39h0m0 1h0m0 2h0m0 5h0m0 2h0m0 2h0m0 1h0m0 18h0m1-41h0m0 21h0m0 0h0m0 17h0m1-39h0m0 5h0m0 6h0m0 10h0m1-10h0m0 24h0m0 2h0m0 15h0m1-50h0m0 2h0m0 4h0m0 3h0m0 5h0m0 2h0m0 25h0m0 2h0m0 7h0m0 5h0m1-35h0m0 1h0m0 0h0m1-24h0m0 15h0m0 10h0m0 2h0m0 0h0m0 11h0m0 10h0m0 1h0m1-47h0m0 22h0m0 17h0m1-38h0m0 24h0m0 0h0m1-3h0m0 36h0m1-57h0m0 4h0m0 2h0m0 2h0m0 5h0m0 3h0m0 1h0m0 9h0m0 5h0m1-14h0m0 1h0m0 9h0m0 10h0m0 10h0m1-43h0m0 8h0m0 1h0m0 10h0m0 1h0m1-22h0m0 2h0m0 2h0m0 11h0m0 10h0m1-24h0m0 4h0m0 5h0m0 18h0m0 0h0m0 5h0m0 6h0m1-30h0m0 0h0m0 3h0m0 5h0m0 2h0m0 38h0m1-56h0m0 1h0m0 0h0m0 11h0m1-18h0m0 7h0m0 15h0m0 11h0m1-34h0m0 4h0m0 4h0m0 3h0m0 2h0m0 1h0m0 4h0m0 17h0m1-33h0m0 5h0m1-3h0m0 13h0m0 1h0m0 10h0m0 8h0m0 8h0m1-41h0m0 9h0"/>
<path d="M88 209h0m2 243h0m1-194h0m0 176h0m3-144h0m4 60h0m0 78h0m0 7h0m1-68h0m1 7h0m0 55h0m3-85h0m2 35h0m0 33h0m2-102h0m1 63h0m2-2h0m10-36h0m2 28h0m2 22h0m3-172h0m0 119h0m5-60h0m0 81h0m4-54h0m2 14h0m2-33h0m1 7h0m1 32h0m0 29h0m2 4h0m2-51h0m0 17h0m1-28h0m0 59h0m1-22h0m2-5h0m2-40h0m0 5h0m0 24h0m2-31h0m0 14h0m0 9h0m0 6h0m0 24h0m3-36h0m0 19h0m4-46h0m1 43h0m3-14h0m4-26h0m2 15h0m1 0h0m0 19h0m1 16h0m3-41h0m0 41h0m1-34h0m1-15h0m1-4h0m0 5h0m0 18h0m2-25h0m1 4h0m0 27h0m2 6h0m2-33h0m0 33h0m4 33h0m3-36h0m5-29h0m1 36h0m3-36h0m3 12h0m3-15h0m1 1h0m0 42h0m3 4h0m3-44h0m4 49h0m6-24h0m2-15h0m1-14h0m2 7h0m1-46h0m6 3h0m1 23h0m1 0h0m0 3h0m1 7h0m1-19h0m4 6h0m0 5h0m2-20h0m0 6h0m1 4h0m0 28h0m4 17h0m1-41h0m1-14h0m1 13h0m1 37h0m1-50h0m1 30h0m2-3h0m6-20h0m0 2h0m0 23h0m2 10h0m4-34h0m0 10h0m1 19h0m2-3h0m1-34h0m0 12h0m3 13h0m1-20h0m0 15h0m2-18h0m0 22h0m2-21h0m0 18h0m5 11h0m2-1h0m2-24h0m1 12h0m2-25h0m0 5h0m0 37h0m1-12h0m1-22h0m1 10h0m0 2h0m2-21h0m0 20h0m3-2h0m2-3h0m1-16h0m0 25h0m2 4h0m2-16h0m0 2h0m1 9h0m1-19h0m1 9h0m1-4h0m0 6h0m0 12h0m1-23h0m0 6h0m1 2h0m0 4h0m0 14h0m0 9h0m3-15h0m0 15h0m4-37h0m1 1h0m1-1h0m0 37h0m2-24h0m1 17h0m0 13h0m1-48h0m2 13h0m0 26h0m1-34h0m0 8h0m1 8h0m1-8h0m1 43h0m1-28h0m1-21h0m1 33h0m0 5h0m2-38h0m1 7h0m0 2h0m2 3h0m2-17h0m1-32h0m0 0h0m0 29h0m1-26h0m0 7h0m0 51h0m1-38h0m0 69h0m2-98h0m1 13h0m0 2h0m0 2h0m0 33h0m1-10h0m1-32h0m0 22h0m1 12h0m1-12h0m1-25h0m1 28h0m0 29h0m1-17h0m1-39h0m0 11h0m0 6h0m0 15h0m0 4h0m0 2h0m1-13h0m1-4h0m1-20h0m0 16h0m1-20h0m0 19h0m0 31h0m1-34h0m0 27h0m2-15h0m0 5h0m0 10h0m1-5h0m1-14h0m0 13h0m1-24h0m2-16h0m0 0h0m1 2h0m0 6h0m0 22h0m0 3h0m1 5h0m1 7h0m1-21h0m0 28h0m1-32h0m0 1h0m1 4h0m1-15h0m0 4h0m1-16h0m0 3h0m0 53h0m2-39h0m0 2h0m0 16h0m1-14h0m1-9h0m0 7h0m0 6h0m1 9h0m0 29h0m1-58h0m0 7h0m0 5h0m1 25h0m1-7h0m1-28h0m1 10h0m0 5h0m0 7h0m0 4h0m1-4h0m1-26h0m0 8h0m0 8h0m1-15h0m0 4h0m1 0h0m1 8h0m2-10h0m1 25h0m0 13h0m0 0h0m1-38h0m0 25h0m1-6h0m0 24h0m1-35h0m0 6h0m1-20h0m0 18h0m1-13h0m1 3h0m0 28h0m1 2h0m0 5h0m0 6h0m1-32h0m0 18h0m0 6h0m1-28h0m1 0h0m0 28h0m1-38h0m0 29h0m0 37h0m1-64h0m1 34h0m1-16h0m0 29h0m1-13h0m1-27h0m0 6h0m0 16h0m0 2h0m1-9h0m0 21h0m1-31h0m1-12h0m0 10h0m1-10h0m0 12h0m1-12h0m0 2h0m1-3h0m2 5h0m0 19h0m0 23h0m4-51h0m0 14h0m0 0h0m0 95h0m1-94h0m0 8h0m0 36h0m1-56h0m2 2h0m0 20h0m1-17h0m0 0h0m0 5h0m2 5h0m0 14h0m0 3h0m2-33h0m0 25h0m1 6h0m0 17h0m1-33h0m0 28h0m1-30h0m1-8h0m0 12h0m1 12h0m1 3h0m1-31h0m0 52h0m1-42h0m0 17h0m1-17h0m1 3h0m0 7h0m0 4h0m0 2h0m0 4h0m1-31h0m0 7h0m0 5h0m0 8h0m0 11h0m1-16h0m0 15h0m1-7h0m1-10h0m0 33h0m0 32h0m1-80h0m0 7h0m0 8h0m0 11h0m0 3h0m1-17h0m0 1h0m1-12h0m0 2h0m0 3h0m0 16h0m1-16h0m0 11h0m0 1h0m0 11h0m2 0h0m1-24h0m0 2h0m0 22h0m1-26h0m0 1h0m1 3h0m0 22h0m0 13h0m2-30h0m1-9h0m0 22h0m0 10h0m1-29h0m0 6h0m1-18h0m1-13h0m0 6h0m0 3h0m0 6h0m0 6h0m0 0h0m0 10h0m0 25h0m1-38h0m0 12h0m0 2h0m1-17h0m0 18h0m1-39h0m0 11h0m1 5h0m0 10h0m0 12h0m0 4h0m0 5h0m1-44h0m0 47h0m1-36h0m0 2h0m0 2h0m0 2h0m0 1h0m0 19h0m0 30h0m1-59h0m0 1h0m0 6h0m0 17h0m0 11h0m0 4h0m0 3h0m0 2h0m0 5h0m1-53h0m0 6h0m0 24h0m0 3h0m0 9h0m0 17h0m1-66h0m0 13h0m0 20h0m0 2h0m0 5h0m0 4h0m1-32h0m0 2h0m0 13h0m0 7h0m0 3h0m0 1h0m0 12h0m0 4h0m1-54h0m0 0h0m0 4h0m0 1h0m0 12h0m0 5h0m0 3h0m0 4h0m0 18h0m1 3h0m1-43h0m0 15h0m0 7h0m0 9h0m0 14h0m1-48h0m0 20h0m0 11h0m1-26h0m0 2h0m0 5h0m0 2h0m0 7h0m0 0h0m1-22h0m0 5h0m0 19h0m0 23h0m1-44h0m0 4h0m0 1h0m0 9h0m0 2h0m0 9h0m0 13h0m1-42h0m0 3h0m0 2h0m0 1h0m0 16h0m0 14h0m0 8h0m1-46h0m0 3h0m0 30h0m1-27h0m0 30h0m0 2h0m0 1h0m0 11h0m1-43h0m0 9h0m0 1h0m0 9h0m0 2h0m0 4h0m0 2h0m0 23h0m1-55h0m0 3h0m0 16h0m0 25h0m0 7h0m1-53h0m0 20h0m1-11h0m0 3h0m0 1h0m0 13h0m1-25h0m0 3h0m0 37h0m0 6h0m0 22h0m1-69h0m0 5h0m0 24h0m0 8h0m0 7h0m1-40h0m0 4h0m0 8h0m0 6h0m0 13h0m0 0h0m0 0h0m0 10h0m0 4h0m0 14h0m1-62h0m0 2h0m0 5h0m0 0h0m0 2h0m0 2h0m0 1h0m0 12h0m0 2h0m1-19h0m0 0h0m0 16h0m0 1h0m0 0h0m0 5h0m1-23h0m0 27h0m1-28h0m0 31h0m1-25h0m0 6h0m0 11h0m1-27h0m0 2h0m0 1h0m0 24h0m0 5h0m0 7h0m1-26h0m0 8h0m0 1h0m0 8h0m1-22h0m0 5h0m0 9h0m0 19h0m1-22h0m0 10h0m0 2h0m1-31h0m0 14h0m0 1h0m0 9h0m0 9h0m0 10h0m1-42h0m0 8h0m0 1h0m0 5h0m0 0h0m0 3h0m0 7h0m0 3h0m1-28h0m0 11h0m0 12h0m0 10h0m0 2h0m0 3h0m1-35h0m0 6h0m0 3h0m0 10h0m0 21h0m1-45h0m0 7h0m0 2h0m0 6h0m0 2h0m0 1h0m0 3h0m0 4h0m0 4h0m0 11h0m1-34h0m0 18h0m0 4h0m0 9h0m0 3h0m1-37h0m0 31h0m0 10h0m1-37h0m0 21h0m0 11h0m1-32h0m0 18h0m0 2h0m0 8h0m1-20h0m0 14h0m0 10h0m1-29h0m0 5h0m0 15h0m0 3h0m1-28h0m0 32h0m0 73h0m1-109h0m0 34h0m1-35h0m0 12h0m0 19h0m0 4h0m0 1h0m0 0h0m0 1h0m1-23h0m1-12h0m0 4h0m0 1h0m0 2h0m0 4h0m0 4h0m0 6h0m0 5h0m0 12h0m0 4h0m1-39h0m0 3h0m1-9h0m0 21h0m0 17h0m0 2h0m0 1h0m1-39h0m0 6h0m0 1h0m0 20h0m0 6h0m0 14h0m1-50h0m0 13h0m0 14h0m0 1h0m0 15h0m1-40h0m0 0h0m0 4h0m0 15h0m0 5h0m1-23h0m0 5h0m0 11h0m0 7h0m0 5h0m0 9h0m1-24h0m0 9h0m0 2h0m0 9h0m0 19h0m1-37h0m0 2h0m0 5h0m0 1h0m0 11h0m1-34h0m0 7h0m0 6h0m0 0h0m0 8h0m0 1h0m0 4h0m0 1h0m0 3h0m0 1h0m1-34h0m0 12h0m0 9h0m0 1h0m1-5h0m0 1h0m0 20h0m2-29h0m0 16h0m0 2h0m0 4h0m1-24h0m0 3h0m0 5h0m0 5h0m0 10h0m0 11h0m1-29h0m0 5h0m0 9h0m1-5h0m0 6h0m0 9h0m0 22h0m1-57h0m0 3h0m0 6h0m0 6h0m0 5h0m0 7h0m0 6h0m1 12h0m0 15h0m1-33h0m0 2h0m1-18h0m0 0h0m0 9h0m0 6h0m0 2h0m0 2h0m0 0h0m1-25h0m0 3h0m0 2h0m0 20h0m1-25h0m0 3h0m0 12h0m0 20h0m1-21h0m0 19h0m0 1h0m1-16h0m0 10h0m1-16h0m0 6h0m1-20h0m0 5h0m0 10h0m0 6h0m1-17h0m0 6h0m0 6h0m0 4h0m1-16h0m0 7h0m0 4h0m0 3h0m0 5h0m0 6h0m0 7h0m1-26h0m0 17h0m0 2h0m0 11h0m0 4h0m1-25h0m0 3h0m0 8h0m0 15h0m1-41h0m0 1h0m0 19h0m1-14h0m0 16h0m1-20h0m0 1h0m0 1h0m0 1h0m0 4h0m0 1h0m0 6h0m0 1h0m1-14h0m0 1h0m0 19h0m0 19h0m0 5h0m1-56h0m0 3h0m0 1h0m0 5h0m0 1h0m0 8h0m0 17h0m0 11h0m1-32h0m0 8h0m0 13h0m0 7h0m0 2h0m1-20h0m0 3h0m1-24h0m0 0h0m0 12h0m0 1h0m0 18h0m0 12h0m1-45h0m0 6h0m0 11h0m0 2h0m0 19h0m0 5h0m0 20h0m1-57h0m0 5h0m0 3h0m0 3h0m0 7h0m0 1h0m1-17h0m0 7h0m0 16h0m1-20h0m0 2h0m0 7h0m0 5h0m0 18h0m1-29h0m0 23h0m1-33h0m0 6h0m0 1h0m0 1h0m1 23h0m0 6h0m1-40h0m0 0h0m0 25h0m0 6h0m1-31h0m0 7h0m0 6h0m0 8h0m0 3h0m0 28h0m1-54h0m0 10h0m0 16h0m1-13h0m1-10h0m0 19h0m0 3h0m0 2h0m1-17h0m0 26h0m0 9h0m1-43h0m0 7h0m0 4h0m0 14h0m0 2h0m1-6h0m0 5h0m0 21h0m1-44h0m0 15h0m0 7h0m0 9h0m0 5h0m1-32h0m0 11h0m0 1h0m0 0h0m0 2h0m0 20h0m2-30h0m0 6h0m0 4h0m0 3h0m1-17h0m0 1h0m0 10h0m0 9h0m0 12h0m1-34h0m0 3h0m0 19h0m0 9h0m1-37h0m0 8h0m0 5h0m0 1h0m1-4h0m0 14h0m0 1h0m0 1h0m1-24h0m0 2h0m0 3h0m0 12h0m0 5h0m0 2h0m2-19h0m0 18h0m1-51h0m0 40h0m0 3h0m1-36h0m0 11h0m0 1h0m0 5h0m0 6h0m0 0h0m1-27h0m0 4h0m0 20h0m0 6h0m0 0h0m0 16h0m1-46h0m0 7h0m0 11h0m0 8h0m0 1h0m0 4h0m0 18h0m0 40h0m1-92h0m0 1h0m0 2h0m0 2h0m0 12h0m0 13h0m0 11h0m0 5h0m1-44h0m0 9h0m0 19h0m0 3h0m1-28h0m0 24h0m0 15h0m0 3h0m0 3h0m1-37h0m0 10h0m0 2h0m0 5h0m0 12h0m0 2h0m0 15h0m0 3h0m1-61h0m0 1h0m0 5h0m0 3h0m0 6h0m0 6h0m0 13h0m0 2h0m0 5h0m1-42h0m0 11h0m0 1h0m0 2h0m0 2h0m0 10h0m0 7h0m0 4h0m0 14h0m0 2h0m0 8h0m0 3h0m1-48h0m0 11h0m0 4h0m0 17h0m0 9h0m1-55h0m0 9h0m0 12h0m0 2h0m0 2h0m0 3h0m0 51h0m1-68h0m0 4h0m0 1h0m0 9h0m0 9h0m0 23h0m1-45h0m0 4h0m0 17h0m0 5h0m0 0h0m0 6h0m1-40h0m0 2h0m0 3h0m0 13h0m1-20h0m0 1h0m0 18h0m0 2h0m0 3h0m1-8h0m0 7h0m0 4h0m0 13h0m0 1h0m0 10h0m1-55h0m0 5h0m0 3h0m0 31h0m0 7h0m0 2h0m0 5h0m0 5h0m1-54h0m0 6h0m0 5h0m0 8h0m0 1h0m0 1h0m0 8h0m0 6h0m0 5h0m0 2h0m0 9h0m1-55h0m0 9h0m0 2h0m0 8h0m0 12h0m0 5h0m0 13h0m1-43h0m0 5h0m0 8h0m0 2h0m0 3h0m1-7h0m0 3h0m0 0h0m0 16h0m1-35h0m0 4h0m0 4h0m0 9h0m0 4h0m0 9h0m0 15h0m0 5h0m0 1h0m1-31h0m0 9h0m0 6h0m0 30h0m0 5h0m1-68h0m0 7h0m0 6h0m0 8h0m0 5h0m0 3h0m0 7h0m0 6h0m1-29h0m0 1h0m0 0h0m0 1h0m0 2h0m0 3h0m0 3h0m0 21h0m1-42h0m0 3h0m0 28h0m0 9h0m1-38h0m0 8h0m0 8h0m0 14h0m0 11h0m1-45h0m0 14h0m0 18h0m0 5h0m0 7h0m0 6h0m0 5h0m1-51h0m0 4h0m0 4h0m0 1h0m0 1h0m0 4h0m0 0h0m0 2h0m0 36h0m1-57h0m0 3h0m0 1h0m0 13h0m0 24h0m0 4h0m0 13h0m1-49h0m0 13h0m0 2h0m0 5h0m0 3h0m0 1h0m0 1h0m0 0h0m1-33h0m0 1h0m0 17h0m0 2h0m0 4h0m0 0h0m0 3h0m0 1h0m0 6h0m0 2h0m0 0h0m1-31h0m0 13h0m0 2h0m0 8h0m0 5h0m1-19h0m0 22h0m0 7h0m0 1h0m0 6h0m1-54h0m0 1h0m0 19h0m0 4h0m0 2h0m0 1h0m1-19h0m0 12h0m0 13h0m0 3h0m0 11h0m1-41h0m0 4h0m0 6h0m0 13h0m0 2h0m0 31h0m1-60h0m0 2h0m0 7h0m0 5h0m0 0h0m0 0h0m0 9h0m1-16h0m0 11h0m0 9h0m0 2h0m0 4h0m0 1h0m0 18h0m1-12h0m1-39h0m0 3h0m0 13h0m0 3h0m0 11h0m0 13h0m1-45h0m0 14h0m0 13h0m0 2h0m0 14h0m1-42h0m0 14h0m0 9h0m1-24h0m0 3h0m0 6h0m0 2h0m0 8h0m0 7h0m1-9h0m0 2h0m0 0h0m0 5h0m0 7h0m0 4h0m0 1h0m0 17h0m0 10h0m1-58h0m0 29h0m0 0h0m0 5h0m0 14h0m1-53h0m0 6h0m0 2h0m0 15h0m0 3h0m0 2h0m0 2h0m0 4h0m1-34h0m0 5h0m0 14h0m0 0h0m0 5h0m0 17h0m0 6h0m0 1h0m1-45h0m0 10h0m0 6h0m0 2h0m0 2h0m0 2h0m0 2h0m1-27h0m0 6h0m0 12h0m0 2h0m0 9h0m0 6h0m1-35h0m0 1h0m0 7h0m0 7h0m0 8h0m0 16h0m1-39h0m0 3h0m0 1h0m0 4h0m0 5h0m0 27h0m0 6h0m1-45h0m0 15h0m0 5h0m0 18h0m0 7h0m1-43h0m0 25h0m0 16h0m0 0h0m1-45h0m0 1h0m0 16h0m0 1h0m0 1h0m0 8h0m0 13h0m1-35h0m0 0h0m0 27h0m0 7h0m0 6h0m1-41h0m0 4h0m0 6h0m0 32h0m0 14h0m1-37h0m0 1h0m0 2h0m0 7h0m0 0h0m0 13h0m0 10h0m1-52h0m0 2h0m0 5h0m0 12h0m0 4h0m0 7h0m0 2h0m0 28h0m1-53h0m0 17h0m0 2h0m0 8h0m0 21h0m1-35h0m0 26h0m1-44h0m0 19h0m0 0h0m0 0h0m0 3h0m0 4h0m0 2h0m0 1h0m0 1h0m0 0h0m0 10h0m1-43h0m0 8h0m0 13h0m0 0h0m0 4h0m0 9h0m0 3h0m0 20h0m1-58h0m0 0h0m0 4h0m0 13h0m0 13h0m0 10h0m0 1h0m1-34h0m0 2h0m0 21h0m0 18h0m0 3h0m1-50h0m0 14h0m0 13h0m0 5h0m1-3h0m0 7h0m0 16h0m1-31h0m0 6h0m0 1h0m1-27h0m0 4h0m0 7h0m0 11h0m0 6h0m1-22h0m0 8h0m0 1h0m0 1h0m0 5h0m0 4h0m1-21h0m0 0h0m0 2h0m0 1h0m0 2h0m0 2h0m0 7h0m0 8h0m0 13h0m1-42h0m0 4h0m0 1h0m0 3h0m0 5h0m0 1h0m0 8h0m0 4h0m0 2h0m0 3h0m0 2h0m0 2h0m0 11h0m0 12h0m1-58h0m0 15h0m0 3h0m0 2h0m0 0h0m0 6h0m0 20h0m0 2h0m1-41h0m0 17h0m0 4h0m0 3h0m1-29h0m0 5h0m0 6h0m0 3h0m0 3h0m0 7h0m0 8h0m1-28h0m0 22h0m0 11h0m0 31h0m1-66h0m0 15h0m0 3h0m0 6h0m0 2h0m1-22h0m0 1h0m0 6h0m0 1h0m1-7h0m0 3h0m0 26h0m0 5h0m1-33h0m0 5h0m0 8h0m0 8h0m0 7h0m0 5h0m1-39h0m0 0h0m0 1h0m0 5h0m0 0h0m0 9h0m0 13h0m0 16h0m0 32h0m1-78h0m0 19h0m0 11h0m0 7h0m0 0h0m0 8h0m0 1h0m0 3h0m1-51h0m0 25h0m0 7h0m1-30h0m0 5h0m0 2h0m0 10h0m0 1h0m0 26h0m0 4h0m1-47h0m0 9h0m0 0h0m0 1h0m0 9h0m0 8h0m0 7h0m1-36h0m0 6h0m0 2h0m0 16h0m1-15h0m0 17h0m0 13h0m1-34h0m0 12h0m0 14h0m0 3h0m0 17h0m1-51h0m0 9h0m0 20h0m0 3h0m0 1h0m1-34h0m0 7h0m0 5h0m0 3h0m0 3h0m0 4h0m0 3h0m0 7h0m0 34h0m1-57h0m0 5h0m0 1h0m0 2h0m0 1h0m0 10h0m0 1h0m1-28h0m0 8h0m0 4h0m0 2h0m0 4h0m0 1h0m0 1h0m0 0h0m0 3h0m0 13h0m0 6h0m1-42h0m0 3h0m0 7h0m0 6h0m0 2h0m0 4h0m0 0h0m0 8h0m0 11h0m1-25h0m0 4h0m0 1h0m0 2h0m0 18h0m0 3h0m1-45h0m0 3h0m0 6h0m0 3h0m0 7h0m0 11h0m0 7h0m0 0h0m0 3h0m1-40h0m0 7h0m0 11h0m0 18h0m0 9h0m1-45h0m0 1h0m0 5h0m0 6h0m0 1h0m0 8h0m0 14h0m1-32h0m0 7h0m0 3h0m0 3h0m0 3h0m0 13h0m1-23h0m0 13h0m0 3h0m1-22h0m0 25h0m0 2h0m0 5h0m0 1h0m0 28h0m1-64h0m0 1h0m0 0h0m0 10h0m0 5h0m0 2h0m0 2h0m0 3h0m0 6h0m0 6h0m0 7h0m1-42h0m0 13h0m0 6h0m0 1h0m0 2h0m0 2h0m0 9h0m1-34h0m0 1h0m0 32h0m0 9h0m0 2h0m0 3h0m1-37h0m0 11h0m0 0h0m0 5h0m0 1h0m0 3h0m1-18h0m0 12h0m0 1h0m0 6h0m0 9h0m1-34h0m0 9h0m0 4h0m0 6h0m0 14h0m0 22h0m1-60h0m0 5h0m0 9h0m0 2h0m0 0h0m0 4h0m0 20h0m1-39h0m0 3h0m0 0h0m0 6h0m0 14h0m0 1h0m0 0h0m0 11h0m1-35h0m0 3h0m0 12h0m0 9h0m0 4h0m0 4h0m0 17h0m1-45h0m0 1h0m0 1h0m0 3h0m0 26h0m1-33h0m0 12h0m0 2h0m0 0h0m0 1h0m0 1h0m0 0h0m0 3h0m0 5h0m0 15h0m1-37h0m0 9h0m0 13h0m0 1h0m0 4h0m0 13h0m1-42h0m0 5h0m0 7h0m0 7h0m0 2h0m0 7h0m0 2h0m0 0h0m0 2h0m0 0h0m1-32h0m0 1h0m0 5h0m0 2h0m0 1h0m0 3h0m0 1h0m0 15h0m1-17h0m0 8h0m0 2h0m0 1h0m0 10h0m1-29h0m0 5h0m0 1h0m0 6h0m0 3h0m0 3h0m0 42h0m1-54h0m0 1h0m0 0h0m0 1h0m0 2h0m0 15h0m0 1h0m0 1h0"/>
<path d="M86 424h0m5-32h0m0 35h0m1-42h0m2 12h0m0 10h0m4-32h0m3-67h0m0 124h0m1-175h0m1 36h0m1 49h0m2-81h0m6 21h0m0 34h0m4-30h0m4 37h0m3 35h0m0 29h0m3-40h0m1-82h0m0 41h0m0 48h0m0 13h0m1-118h0m0 116h0m1-47h0m1 25h0m2-36h0m2 42h0m2-28h0m0 21h0m3-20h0m0 14h0m3 22h0m1-25h0m0 18h0m2-83h0m2 68h0m1-61h0m2 17h0m0 8h0m1-14h0m0 51h0m0 5h0m1-40h0m0 20h0m0 1h0m0 32h0m1-59h0m0 75h0m2-65h0m1 16h0m1-13h0m1-11h0m0 17h0m2-43h0m0 47h0m1-35h0m2 39h0m3-21h0m1-36h0m1 54h0m0 1h0m1-22h0m1-5h0m1-22h0m2 19h0m0 21h0m2-18h0m0 28h0m2-38h0m1 19h0m0 10h0m1-46h0m1 30h0m1 4h0m0 6h0m2 4h0m3-33h0m1 6h0m2-15h0m3 30h0m1-26h0m2 5h0m0 3h0m2 22h0m1-31h0m3-7h0m2 23h0m8-4h0m2 23h0m3 1h0m2-23h0m0 52h0m1-54h0m1 6h0m2 6h0m0 15h0m1 1h0m1-31h0m4-3h0m2-14h0m3-13h0m0 7h0m2 15h0m1-28h0m0 83h0m1-83h0m0 5h0m0 22h0m3-4h0m0 9h0m4-30h0m0 7h0m1-18h0m0 6h0m1 75h0m1-67h0m0 14h0m2-29h0m0 5h0m0 1h0m2 12h0m0 25h0m2-26h0m1 10h0m2 44h0m1-54h0m1-13h0m0 32h0m0 22h0m1-23h0m1-13h0m2-20h0m2 16h0m0 24h0m1-43h0m2 49h0m2-47h0m4 11h0m0 7h0m0 26h0m5 20h0m2-52h0m1-18h0m1 30h0m1-27h0m0 19h0m3 8h0m1-19h0m0 17h0m0 11h0m1-20h0m2-18h0m1 16h0m1-4h0m3 8h0m0 5h0m0 13h0m2-25h0m0 11h0m1-18h0m0 11h0m0 13h0m1 9h0m4-15h0m1-19h0m0 15h0m3-4h0m1-18h0m0 2h0m0 15h0m1 4h0m0 6h0m1-23h0m0 34h0m1-23h0m0 2h0m0 9h0m0 3h0m0 4h0m1-25h0m0 12h0m2-11h0m3 17h0m0 43h0m1-49h0m1-20h0m0 11h0m1 4h0m2 20h0m1-19h0m0 11h0m1-25h0m0 0h0m0 18h0m1-2h0m1-9h0m1 6h0m2 2h0m0 4h0m1-8h0m3-4h0m1-4h0m1 1h0m0 8h0m1-3h0m1 0h0m0 14h0m3-8h0m1 7h0m0 1h0m1-17h0m3 0h0m1-23h0m0 31h0m0 3h0m0 1h0m1-51h0m0 26h0m0 13h0m1-10h0m1 19h0m1 4h0m1-57h0m0 15h0m0 7h0m1-22h0m0 6h0m0 39h0m0 1h0m0 7h0m4-19h0m2-33h0m0 9h0m0 5h0m0 32h0m0 1h0m2-39h0m0 8h0m0 17h0m1-33h0m0 17h0m0 11h0m0 25h0m1-18h0m0 9h0m2-24h0m0 4h0m0 3h0m0 10h0m1-36h0m0 50h0m0 16h0m1-70h0m0 27h0m0 0h0m0 10h0m2-33h0m0 34h0m1-2h0m1-31h0m0 42h0m0 22h0m3-42h0m0 19h0m1-41h0m0 39h0m1-31h0m0 16h0m0 13h0m2 13h0m1-39h0m0 5h0m1-11h0m0 37h0m1-17h0m1-24h0m1 41h0m1-37h0m0 35h0m1-16h0m1-15h0m0 15h0m0 25h0m1-41h0m1 28h0m1-17h0m1-23h0m1 6h0m0 31h0m1-20h0m1 0h0m0 14h0m0 2h0m1-28h0m2 8h0m1 36h0m1-28h0m1 8h0m1-30h0m0 23h0m1-18h0m2-2h0m0 33h0m1-28h0m0 45h0m2-38h0m0 23h0m1 16h0m1-46h0m0 10h0m1 21h0m1-35h0m0 10h0m0 12h0m2 39h0m3-57h0m0 0h0m0 22h0m0 10h0m0 11h0m1-36h0m1-14h0m1 1h0m0 6h0m0 4h0m0 18h0m0 6h0m1-24h0m0 7h0m0 28h0m1-36h0m0 1h0m0 14h0m0 15h0m1-33h0m0 24h0m0 2h0m0 6h0m0 55h0m1-81h0m0 4h0m0 12h0m1-26h0m0 47h0m2-45h0m0 5h0m1 4h0m1 14h0m0 20h0m1-47h0m1 3h0m0 23h0m0 1h0m1-26h0m1 26h0m1-18h0m0 1h0m0 9h0m0 3h0m1 13h0m1-28h0m1-9h0m0 25h0m1-23h0m1 15h0m0 8h0m0 8h0m0 4h0m1-8h0m0 11h0m3-40h0m0 30h0m1-23h0m1 12h0m0 2h0m1-19h0m0 13h0m0 0h0m0 16h0m1-21h0m0 6h0m0 33h0m1-14h0m0 17h0m1-38h0m0 6h0m1-15h0m0 1h0m0 24h0m1-21h0m1-1h0m0 0h0m1-4h0m1-2h0m0 13h0m0 2h0m1-13h0m0 18h0m0 6h0m1-16h0m0 13h0m1-21h0m1-4h0m0 5h0m0 6h0m0 0h0m0 16h0m1-17h0m1-3h0m0 2h0m0 19h0m1-24h0m0 10h0m0 2h0m1-11h0m0 12h0m1-13h0m0 7h0m0 10h0m1-19h0m0 10h0m0 30h0m2-65h0m0 0h0m0 3h0m0 22h0m0 26h0m1-31h0m0 8h0m0 6h0m0 10h0m0 3h0m0 18h0m1-65h0m0 25h0m0 9h0m0 3h0m0 2h0m0 6h0m0 8h0m1-23h0m0 13h0m1-45h0m0 3h0m0 20h0m0 22h0m0 7h0m0 9h0m1-49h0m0 5h0m0 9h0m0 6h0m1-30h0m0 32h0m0 0h0m1-35h0m0 6h0m0 10h0m0 10h0m0 13h0m0 11h0m1-48h0m0 5h0m0 1h0m0 19h0m0 17h0m1-43h0m0 7h0m0 9h0m0 1h0m0 11h0m0 54h0m1-68h0m0 21h0m1-30h0m0 21h0m1-18h0m0 20h0m0 18h0m0 11h0m1-55h0m0 0h0m0 10h0m0 2h0m0 27h0m1-42h0m0 34h0m0 20h0m1-37h0m0 1h0m0 12h0m0 28h0m1-50h0m0 2h0m0 19h0m0 5h0m1-25h0m0 0h0m0 24h0m0 34h0m1-66h0m0 5h0m0 11h0m0 1h0m0 12h0m1-29h0m0 2h0m0 0h0m0 8h0m0 29h0m0 4h0m1-41h0m0 0h0m0 13h0m0 20h0m1-17h0m0 0h0m0 2h0m0 9h0m0 4h0m0 8h0m0 3h0m1-23h0m0 13h0m0 4h0m1-33h0m0 8h0m0 1h0m0 12h0m0 7h0m0 14h0m0 7h0m1-39h0m0 14h0m0 0h0m0 0h0m0 33h0m1-61h0m0 0h0m0 12h0m0 0h0m0 11h0m0 20h0m0 1h0m0 17h0m1-39h0m0 11h0m0 23h0m1-44h0m0 0h0m0 1h0m0 1h0m0 5h0m0 14h0m0 3h0m0 10h0m1-38h0m0 2h0m0 6h0m0 6h0m0 1h0m0 3h0m0 4h0m0 20h0m1-51h0m0 7h0m0 21h0m0 18h0m0 9h0m1-57h0m0 10h0m0 26h0m0 3h0m0 1h0m0 4h0m0 0h0m0 13h0m1-57h0m0 2h0m0 19h0m0 4h0m0 2h0m0 7h0m0 4h0m0 7h0m1-37h0m0 8h0m0 9h0m0 11h0m0 14h0m0 4h0m1-27h0m0 11h0m1-9h0m1-25h0m0 21h0m0 8h0m0 7h0m0 3h0m0 15h0m1-27h0m0 15h0m1-39h0m0 23h0m0 4h0m1-29h0m0 3h0m0 6h0m0 2h0m0 4h0m0 12h0m1-21h0m0 37h0m1-15h0m1-22h0m0 7h0m0 2h0m0 10h0m0 18h0m0 11h0m0 4h0m1-51h0m0 3h0m0 3h0m0 1h0m0 1h0m0 4h0m0 1h0m0 2h0m0 2h0m0 13h0m0 6h0m1-44h0m0 10h0m0 3h0m0 3h0m0 3h0m0 5h0m0 12h0m1-38h0m0 18h0m0 25h0m1-42h0m0 17h0m0 3h0m1-16h0m0 12h0m0 0h0m0 8h0m0 2h0m0 3h0m0 18h0m0 12h0m1-62h0m0 7h0m0 24h0m1 6h0m0 4h0m0 8h0m1-41h0m0 2h0m0 3h0m0 6h0m0 5h0m0 2h0m0 5h0m1-27h0m0 15h0m0 4h0m0 8h0m1-12h0m0 11h0m0 8h0m1-19h0m0 0h0m0 11h0m1-23h0m0 6h0m0 8h0m0 2h0m1-4h0m0 5h0m0 25h0m1-43h0m0 10h0m0 18h0m0 0h0m0 1h0m0 3h0m0 1h0m1-37h0m0 8h0m0 10h0m0 4h0m0 33h0m1-34h0m0 4h0m0 20h0m1-32h0m0 12h0m0 5h0m1-31h0m0 16h0m0 2h0m0 1h0m1-1h0m1-3h0m0 24h0m0 24h0m1-54h0m0 6h0m0 7h0m0 3h0m0 7h0m0 3h0m0 8h0m0 7h0m1-44h0m0 12h0m0 5h0m0 2h0m0 2h0m0 0h0m0 3h0m1-30h0m0 15h0m0 3h0m1-12h0m0 7h0m0 10h0m0 6h0m1-15h0m0 6h0m1-18h0m0 1h0m0 12h0m1 7h0m0 7h0m0 6h0m0 8h0m1-40h0m0 21h0m1-12h0m0 4h0m0 13h0m1-29h0m0 0h0m0 1h0m0 1h0m0 13h0m1 0h0m1-15h0m0 5h0m0 13h0m0 5h0m0 0h0m0 3h0m0 8h0m1-33h0m0 6h0m0 1h0m0 5h0m0 3h0m1-13h0m0 9h0m0 4h0m1-10h0m0 13h0m0 2h0m0 18h0m0 2h0m1-18h0m0 11h0m1-22h0m0 9h0m0 2h0m1-20h0m0 16h0m0 19h0m1-38h0m0 14h0m0 2h0m0 8h0m0 4h0m1-16h0m0 6h0m0 8h0m0 2h0m0 55h0m1-83h0m0 18h0m0 1h0m0 5h0m0 11h0m1-21h0m0 4h0m0 12h0m0 4h0m0 1h0m1-33h0m0 10h0m0 5h0m0 7h0m0 0h0m0 10h0m0 0h0m0 17h0m1-42h0m0 13h0m0 3h0m1-18h0m0 7h0m0 6h0m0 9h0m1-26h0m0 15h0m1-9h0m0 6h0m0 11h0m0 3h0m1-24h0m0 7h0m0 11h0m0 3h0m0 3h0m0 0h0m0 4h0m1-34h0m0 1h0m0 3h0m0 1h0m0 17h0m0 6h0m0 3h0m1-22h0m0 11h0m1-20h0m0 3h0m0 40h0m0 0h0m1-36h0m0 11h0m0 6h0m0 4h0m1-25h0m0 1h0m0 7h0m0 2h0m0 9h0m0 7h0m1-27h0m0 4h0m0 8h0m0 3h0m0 20h0m1-37h0m0 9h0m0 7h0m0 13h0m1-25h0m0 1h0m0 20h0m0 6h0m1-28h0m0 21h0m0 12h0m0 3h0m1-27h0m0 11h0m1-18h0m0 0h0m0 2h0m0 23h0m1-14h0m0 10h0m0 6h0m0 14h0m1-46h0m0 18h0m0 4h0m1-11h0m0 4h0m0 0h0m0 4h0m0 19h0m1-36h0m0 1h0m0 15h0m1-17h0m0 2h0m0 3h0m0 5h0m0 1h0m0 2h0m0 22h0m1-33h0m1 22h0m1-11h0m1-1h0m1 29h0m1-31h0m0 3h0m0 15h0m1-28h0m0 2h0m0 10h0m0 11h0m2-4h0m0 5h0m1-19h0m0 0h0m0 3h0m0 1h0m0 2h0m0 23h0m0 9h0m0 5h0m1-43h0m0 4h0m0 1h0m0 2h0m0 4h0m0 17h0m1-14h0m0 5h0m0 8h0m0 5h0m1-52h0m0 6h0m0 4h0m0 9h0m0 9h0m0 4h0m0 17h0m1-54h0m0 5h0m0 17h0m0 1h0m0 9h0m0 14h0m1-48h0m0 17h0m0 10h0m0 13h0m1-44h0m0 16h0m0 15h0m0 2h0m0 3h0m1-37h0m0 6h0m0 5h0m0 4h0m0 3h0m0 2h0m0 24h0m0 8h0m0 4h0m1-51h0m0 9h0m0 2h0m0 16h0m0 2h0m0 35h0m1-55h0m0 7h0m0 4h0m0 3h0m0 16h0m1-39h0m0 8h0m0 7h0m0 1h0m0 8h0m0 15h0m1-33h0m0 25h0m0 5h0m0 9h0m0 5h0m1-46h0m0 5h0m0 10h0m0 1h0m0 8h0m0 2h0m0 3h0m0 2h0m0 12h0m1-49h0m0 17h0m0 2h0m0 10h0m0 9h0m0 1h0m0 3h0m0 0h0m0 7h0m0 13h0m1-33h0m0 7h0m0 20h0m1-24h0m1-26h0m0 14h0m0 2h0m0 9h0m0 17h0m1-46h0m0 5h0m0 3h0m0 3h0m0 0h0m0 3h0m0 2h0m0 0h0m0 10h0m0 19h0m1-43h0m0 16h0m0 9h0m0 4h0m1-29h0m0 61h0m1-58h0m0 4h0m0 0h0m0 5h0m0 0h0m0 5h0m0 31h0m0 9h0m1-33h0m0 8h0m0 0h0m0 6h0m0 1h0m1-30h0m0 5h0m0 5h0m0 7h0m0 1h0m1-34h0m0 4h0m0 17h0m0 2h0m0 6h0m0 2h0m0 31h0m1-51h0m0 5h0m0 15h0m0 1h0m0 10h0m0 3h0m0 7h0m0 2h0m1-54h0m0 9h0m0 4h0m0 16h0m0 18h0m1-45h0m0 4h0m0 35h0m1-39h0m0 2h0m0 3h0m0 1h0m0 17h0m0 1h0m0 15h0m0 3h0m1-41h0m0 7h0m0 1h0m0 2h0m0 1h0m0 6h0m0 26h0m1-20h0m0 2h0m0 9h0m0 3h0m0 2h0m1-34h0m0 7h0m0 7h0m0 8h0m0 7h0m1-29h0m0 8h0m0 0h0m0 13h0m0 7h0m0 0h0m0 0h0m0 4h0m1-40h0m0 1h0m0 31h0m0 21h0m1-42h0m0 9h0m0 2h0m0 7h0m0 4h0m0 5h0m0 15h0m0 8h0m1-59h0m0 5h0m0 13h0m0 1h0m0 7h0m0 1h0m0 9h0m0 6h0m0 3h0m1-47h0m0 8h0m0 4h0m0 6h0m0 5h0m1-20h0m0 2h0m0 6h0m0 5h0m0 3h0m0 15h0m0 0h0m0 2h0m1-31h0m0 2h0m0 2h0m0 6h0m0 18h0m0 1h0m0 7h0m0 10h0m1-49h0m0 5h0m0 12h0m0 17h0m0 11h0m1-40h0m0 1h0m0 17h0m0 14h0m0 5h0m0 15h0m1-58h0m0 5h0m0 6h0m0 14h0m0 9h0m0 10h0m2-34h0m0 7h0m0 4h0m0 12h0m0 6h0m0 0h0m0 9h0m1-45h0m0 3h0m0 5h0m0 12h0m0 0h0m0 1h0m0 8h0m0 1h0m0 11h0m0 6h0m1-46h0m0 6h0m0 4h0m0 1h0m0 0h0m0 32h0m1-46h0m0 12h0m0 7h0m0 3h0m0 13h0m0 0h0m0 17h0m0 6h0m1-55h0m0 8h0m0 18h0m0 1h0m0 0h0m0 6h0m1-31h0m0 0h0m0 6h0m0 17h0m0 0h0m0 10h0m0 1h0m0 0h0m0 3h0m0 3h0m0 1h0m1-41h0m0 10h0m0 9h0m1-13h0m0 1h0m0 11h0m0 46h0m1-62h0m0 4h0m0 13h0m0 4h0m0 6h0m0 1h0m0 1h0m0 6h0m0 8h0m1-52h0m0 6h0m0 27h0m0 2h0m0 1h0m0 20h0m1-52h0m0 1h0m0 6h0m0 4h0m0 6h0m0 5h0m0 3h0m0 3h0m1-27h0m0 4h0m0 11h0m0 12h0m1-23h0m0 11h0m0 0h0m0 5h0m0 6h0m1-18h0m0 5h0m0 1h0m0 7h0m0 9h0m0 10h0m1-25h0m0 12h0m0 12h0m1-44h0m0 13h0m0 3h0m0 4h0m0 8h0m0 3h0m0 5h0m0 5h0m0 3h0m0 12h0m1-43h0m0 0h0m0 6h0m0 7h0m1-15h0m0 11h0m0 3h0m0 2h0m0 3h0m1-10h0m0 1h0m0 15h0m0 9h0m1-44h0m0 8h0m0 15h0m0 4h0m0 4h0m1-30h0m0 4h0m0 37h0m0 7h0m1-49h0m0 4h0m0 5h0m0 2h0m0 2h0m0 10h0m0 7h0m0 3h0m0 14h0m1-42h0m0 2h0m0 3h0m0 1h0m0 1h0m0 3h0m0 2h0m0 9h0m0 6h0m0 4h0m0 8h0m1-18h0m0 23h0m1-46h0m0 12h0m0 17h0m0 3h0m0 8h0m0 25h0m1-66h0m0 8h0m0 6h0m0 2h0m0 1h0m0 1h0m0 1h0m0 3h0m0 0h0m0 18h0m0 5h0m1-43h0m0 2h0m0 3h0m0 8h0m0 10h0m0 10h0m0 8h0m1-38h0m0 4h0m0 12h0m0 4h0m0 2h0m0 2h0m0 2h0m0 5h0m0 2h0m1-39h0m0 4h0m0 13h0m0 7h0m1-22h0m0 6h0m0 12h0m0 9h0m0 0h0m0 10h0m1-38h0m0 12h0m0 13h0m0 9h0m0 1h0m1-33h0m0 20h0m0 4h0m0 7h0m1-29h0m0 0h0m0 1h0m0 4h0m0 4h0m0 4h0m0 7h0m0 9h0m0 16h0m0 0h0m1-47h0m0 3h0m0 2h0m0 18h0m0 18h0m0 4h0m0 9h0m0 0h0m1-49h0m0 12h0m0 3h0m0 11h0m0 1h0m0 7h0m1-40h0m0 12h0m0 0h0m0 2h0m0 2h0m0 8h0m0 4h0m0 0h0m0 15h0m1-43h0m0 7h0m0 14h0m0 3h0m0 5h0m0 0h0m0 3h0m0 20h0m0 10h0m1-66h0m0 1h0m0 28h0m0 21h0m1-49h0m0 9h0m0 3h0m0 15h0m0 12h0m0 0h0m1-37h0m0 2h0m0 7h0m0 0h0m0 10h0m1-13h0m0 5h0m0 4h0m0 2h0m0 9h0m0 13h0m0 3h0m1-27h0m0 6h0m0 0h0m0 8h0m0 1h0m0 1h0m1-28h0m0 11h0m0 25h0m0 8h0m1-36h0m0 9h0m0 13h0m0 22h0m0 16h0m1-44h0m0 12h0m0 1h0m1-40h0m0 4h0m0 0h0m0 15h0m0 4h0m0 5h0m0 3h0m1-31h0m0 14h0m0 0h0m0 18h0m0 4h0m1-36h0m0 2h0m0 27h0m0 1h0m0 2h0m0 11h0m1-41h0m0 21h0m0 1h0m0 4h0m0 7h0m0 4h0m1-41h0m0 5h0m0 2h0m0 3h0m0 10h0m0 11h0m0 1h0m0 13h0m1-32h0m0 3h0m0 6h0m0 11h0m0 5h0m1-38h0m0 0h0m0 5h0m0 5h0m0 22h0m1-19h0m0 5h0m0 9h0m0 2h0m0 4h0m0 2h0m1-36h0m0 0h0m0 10h0m0 8h0m0 10h0m0 0h0m0 1h0m0 20h0m0 8h0m1-56h0m0 16h0m0 15h0m0 0h0m0 26h0m0 6h0m1-53h0m0 6h0m0 4h0m0 13h0m0 14h0m1-20h0m0 3h0m1-25h0m0 10h0m0 14h0m0 4h0m0 6h0m0 12h0m0 30h0m1-66h0m0 3h0m1-19h0m0 5h0m0 12h0m0 7h0m0 12h0m0 3h0m0 21h0m0 8h0m1-59h0m0 1h0m0 7h0m0 8h0m0 3h0m1-25h0m0 7h0m0 5h0m0 3h0m0 4h0m0 0h0m0 1h0m0 7h0m0 1h0m0 1h0m0 9h0m1-38h0m0 2h0m0 6h0m0 3h0m0 0h0m0 4h0m0 7h0m0 9h0m0 1h0m0 5h0m1-36h0m0 4h0m0 9h0m0 2h0m0 2h0m0 2h0m0 2h0m0 16h0m1-40h0m0 14h0m0 7h0m0 0h0m0 9h0m1-24h0m0 5h0m0 5h0m0 21h0m1-23h0m0 1h0m0 28h0m1-40h0m0 5h0m0 22h0m0 3h0m0 6h0m1-36h0m0 11h0m0 9h0m0 4h0m0 1h0m0 5h0m0 4h0m1-23h0m0 6h0m0 7h0m0 4h0m1-32h0m0 11h0m0 4h0m0 0h0m0 7h0m0 3h0m0 1h0m0 11h0m0 1h0m1-29h0m0 1h0m0 1h0m0 2h0m0 4h0m0 3h0m0 1h0m0 0h0m0 1h0m0 0h0m0 3h0m0 7h0m0 10h0m1-40h0m0 6h0m0 0h0m0 14h0m0 13h0m1-32h0m0 4h0m0 11h0m0 3h0m0 5h0m0 3h0m0 5h0m0 4h0m0 8h0m0 41h0m1-85h0m0 3h0m0 1h0m0 1h0m0 1h0m0 6h0m0 21h0m0 10h0m1-42h0m0 6h0m0 1h0m0 3h0m0 10h0m0 18h0m0 2h0m1-43h0m0 7h0m0 11h0m0 1h0m0 11h0m0 18h0m1-41h0m0 6h0m0 9h0m0 3h0m0 15h0m1-21h0m0 7h0"/>
<path d="M84 322h0m5 111h0m1-11h0m2 32h0m1-28h0m1-3h0m0 16h0m1-10h0m0 5h0m1-5h0m3-40h0m3-46h0m1-17h0m2-5h0m15 2h0m5-39h0m0 47h0m1 19h0m2-45h0m8-21h0m0 47h0m2-1h0m1 0h0m2 4h0m1 17h0m5-22h0m2 12h0m2-17h0m2-42h0m1 28h0m2-20h0m2-9h0m0 13h0m1 2h0m2 85h0m1-89h0m0 21h0m1-32h0m0 37h0m0 47h0m1-87h0m0 10h0m0 15h0m1-21h0m0 6h0m1-6h0m0 11h0m1 18h0m1-45h0m4 19h0m3-10h0m3-5h0m0 24h0m0 37h0m1-36h0m3-16h0m0 3h0m0 5h0m0 28h0m3-44h0m0 26h0m2-31h0m1 28h0m0 3h0m5-1h0m2-6h0m1 9h0m1-12h0m1-18h0m2 26h0m2 3h0m1 27h0m1-1h0m15-13h0m1-30h0m0 14h0m2-9h0m3-17h0m4 6h0m1 26h0m1-45h0m0 33h0m1-35h0m2-25h0m2 5h0m0 33h0m0 2h0m1-2h0m3-24h0m0 4h0m0 8h0m1-18h0m1 7h0m0 0h0m1-15h0m1 21h0m0 10h0m1 46h0m2-40h0m0 26h0m1-46h0m3 30h0m1-28h0m0 11h0m1 12h0m2-14h0m0 2h0m2-8h0m1 12h0m0 2h0m1-33h0m2-4h0m0 30h0m1-26h0m2 36h0m3-38h0m2 4h0m0 42h0m2-39h0m0 7h0m2 25h0m1-37h0m0 18h0m0 27h0m3-38h0m0 10h0m0 1h0m0 15h0m0 3h0m0 21h0m1-33h0m1-15h0m1 19h0m2-25h0m1 34h0m1-40h0m2 12h0m1-9h0m0 37h0m1-16h0m3-15h0m2 25h0m1-19h0m0 31h0m4-44h0m1 8h0m3 14h0m3 1h0m0 20h0m1-11h0m2-16h0m2 16h0m1-27h0m1 6h0m1-5h0m0 40h0m1-38h0m0 25h0m2-10h0m2-5h0m2-1h0m3 11h0m3-19h0m0 0h0m1 10h0m0 5h0m1-26h0m3 12h0m0 25h0m3-5h0m2-27h0m0 28h0m3-31h0m2 1h0m0 27h0m1-25h0m3-3h0m0 15h0m1-43h0m0 43h0m1-32h0m0 1h0m0 11h0m3-11h0m0 5h0m0 10h0m1-30h0m0 8h0m0 7h0m1-1h0m0 20h0m1-37h0m0 6h0m0 53h0m1-40h0m0 18h0m1-12h0m0 9h0m1-32h0m0 23h0m1 18h0m2-10h0m0 5h0m0 10h0m1-31h0m1-19h0m1 34h0m0 49h0m2-83h0m0 6h0m1-7h0m0 14h0m0 14h0m0 35h0m1-51h0m1 19h0m0 7h0m0 23h0m1-19h0m1 2h0m0 2h0m1-37h0m1 9h0m0 2h0m1-5h0m0 17h0m2-11h0m0 20h0m0 8h0m0 13h0m1-57h0m1 4h0m0 9h0m1-15h0m0 22h0m1-25h0m0 9h0m0 11h0m0 17h0m0 12h0m1-24h0m0 7h0m0 25h0m1-59h0m0 8h0m0 26h0m1-26h0m1-3h0m1 3h0m0 25h0m1-23h0m0 20h0m2-1h0m1 3h0m1-33h0m0 24h0m1 14h0m2-29h0m0 25h0m0 9h0m1-42h0m0 22h0m0 13h0m1-5h0m1-17h0m0 36h0m1-49h0m0 1h0m0 6h0m0 19h0m0 26h0m1-33h0m0 3h0m0 5h0m1 9h0m1-12h0m0 16h0m1-31h0m1-5h0m1 8h0m0 14h0m0 17h0m1-43h0m0 6h0m0 29h0m1-37h0m1 13h0m1-1h0m0 16h0m2 29h0m1-34h0m0 24h0m1-46h0m0 8h0m0 22h0m0 1h0m1-10h0m3-8h0m2 2h0m0 16h0m1-26h0m0 21h0m1-24h0m0 15h0m1-12h0m0 0h0m0 6h0m0 49h0m4-38h0m0 9h0m0 11h0m1-9h0m0 2h0m0 2h0m1-27h0m0 4h0m0 26h0m1-10h0m1-20h0m0 11h0m0 14h0m1-14h0m1-19h0m0 7h0m0 19h0m0 17h0m2-36h0m0 20h0m0 11h0m1-22h0m1-1h0m0 9h0m1-26h0m0 6h0m0 10h0m0 7h0m1-3h0m1-14h0m0 1h0m0 0h0m0 19h0m0 9h0m1-28h0m0 27h0m1-29h0m0 3h0m0 3h0m3-1h0m0 8h0m2 2h0m1-12h0m0 13h0m1-16h0m0 4h0m0 16h0m1-24h0m0 27h0m1-15h0m0 14h0m1-26h0m0 1h0m0 7h0m1-10h0m0 27h0m0 6h0m1-30h0m0 9h0m0 11h0m1-5h0m0 24h0m1-34h0m1-1h0m1-5h0m2 2h0m0 25h0m0 8h0m1-2h0m1-27h0m0 12h0m1 0h0m0 4h0m0 8h0m1-23h0m0 18h0m2-11h0m0 19h0m0 6h0m1-40h0m0 16h0m0 46h0m1-88h0m0 31h0m1-22h0m0 1h0m0 7h0m0 0h0m0 17h0m0 4h0m0 2h0m0 0h0m0 2h0m0 9h0m1-50h0m0 14h0m0 9h0m0 10h0m0 0h0m0 4h0m1-40h0m0 8h0m0 8h0m0 1h0m0 8h0m0 11h0m0 14h0m1-31h0m0 19h0m1-31h0m0 6h0m0 24h0m0 7h0m1-32h0m0 0h0m0 2h0m0 1h0m0 4h0m0 1h0m0 12h0m0 7h0m1-16h0m0 9h0m1-6h0m0 4h0m1-26h0m0 2h0m0 8h0m0 0h0m0 10h0m1-20h0m0 29h0m0 16h0m0 7h0m1-55h0m0 25h0m0 0h0m0 6h0m0 1h0m0 13h0m1-42h0m0 1h0m0 13h0m0 12h0m0 6h0m0 8h0m1-26h0m0 1h0m0 20h0m0 6h0m0 4h0m1-30h0m1 5h0m0 3h0m0 2h0m0 3h0m0 8h0m1-39h0m0 23h0m0 14h0m0 3h0m1-35h0m0 24h0m0 5h0m0 12h0m1-16h0m1-16h0m0 2h0m0 5h0m0 3h0m0 1h0m0 9h0m0 13h0m0 19h0m1-43h0m0 8h0m0 12h0m0 20h0m1-53h0m0 9h0m0 15h0m0 1h0m1-24h0m0 2h0m0 18h0m0 9h0m0 0h0m0 9h0m1-49h0m0 26h0m1-22h0m0 16h0m0 3h0m0 0h0m0 6h0m0 4h0m0 2h0m0 11h0m1-31h0m0 9h0m0 44h0m1-65h0m0 1h0m0 13h0m0 13h0m0 7h0m0 7h0m0 1h0m0 20h0m1-62h0m0 9h0m0 9h0m0 15h0m1-36h0m0 29h0m0 17h0m1-31h0m0 18h0m0 0h0m1-14h0m0 2h0m0 7h0m0 55h0m1-73h0m0 4h0m0 6h0m0 3h0m0 0h0m0 44h0m1-65h0m0 5h0m0 1h0m0 2h0m0 3h0m0 13h0m0 7h0m1-31h0m0 1h0m0 14h0m0 1h0m0 3h0m0 10h0m0 6h0m0 3h0m1-36h0m0 25h0m0 4h0m0 5h0m0 8h0m1-44h0m0 11h0m0 2h0m0 17h0m0 0h0m0 1h0m0 2h0m0 5h0m1-40h0m0 0h0m0 6h0m0 9h0m0 5h0m0 6h0m0 13h0m1-10h0m1-29h0m0 3h0m0 1h0m0 17h0m0 16h0m1-33h0m0 6h0m0 23h0m0 16h0m1-44h0m0 1h0m0 6h0m0 2h0m0 7h0m0 11h0m0 4h0m1-18h0m1 18h0m0 8h0m1-39h0m0 6h0m0 11h0m0 30h0m1-43h0m0 7h0m0 21h0m1-30h0m0 25h0m0 5h0m1-17h0m0 0h0m0 4h0m1-22h0m0 10h0m0 10h0m0 1h0m0 14h0m1-29h0m0 5h0m0 8h0m0 2h0m0 14h0m1-31h0m0 19h0m0 2h0m0 4h0m0 6h0m1-18h0m0 15h0m0 32h0m1-62h0m0 16h0m0 3h0m0 6h0m0 16h0m1-39h0m0 7h0m0 1h0m0 2h0m0 0h0m0 5h0m0 2h0m0 17h0m0 10h0m1 3h0m1-49h0m0 7h0m0 12h0m0 5h0m0 1h0m0 13h0m0 2h0m1-23h0m1-8h0m0 4h0m0 5h0m0 5h0m0 5h0m1-29h0m0 4h0m0 2h0m0 2h0m0 0h0m0 2h0m0 1h0m0 3h0m0 27h0m0 12h0m1-41h0m0 4h0m0 14h0m1-29h0m0 4h0m0 15h0m0 7h0m0 7h0m0 1h0m0 5h0m1-37h0m0 14h0m0 17h0m0 13h0m1-40h0m0 12h0m1-13h0m0 11h0m1-18h0m0 29h0m1-28h0m0 11h0m0 15h0m0 3h0m0 15h0m1-19h0m0 10h0m1-32h0m0 7h0m0 0h0m0 3h0m0 7h0m0 2h0m1-24h0m0 20h0m0 29h0m2-45h0m0 5h0m0 5h0m0 5h0m0 5h0m0 4h0m0 11h0m1-38h0m0 8h0m0 7h0m0 7h0m1-21h0m0 21h0m0 2h0m0 10h0m0 1h0m1-37h0m0 10h0m0 6h0m0 4h0m0 0h0m0 1h0m0 4h0m1-19h0m0 1h0m0 6h0m0 9h0m0 8h0m1-15h0m0 9h0m0 10h0m0 11h0m1-36h0m0 2h0m0 13h0m0 6h0m0 4h0m1-31h0m0 12h0m0 6h0m1-12h0m0 0h0m0 11h0m0 12h0m0 5h0m0 4h0m1-41h0m0 13h0m0 11h0m0 5h0m1-7h0m0 15h0m1-38h0m0 1h0m0 2h0m0 20h0m0 9h0m1-28h0m0 4h0m0 5h0m0 3h0m0 3h0m0 10h0m0 2h0m0 7h0m0 5h0m1-36h0m0 5h0m0 5h0m0 16h0m1-32h0m0 10h0m0 15h0m0 42h0m1-4h0m1-58h0m0 8h0m0 1h0m0 5h0m0 2h0m0 4h0m0 6h0m1-7h0m0 1h0m0 1h0m0 8h0m0 1h0m1-16h0m0 3h0m0 7h0m0 0h0m1-30h0m0 1h0m0 8h0m0 12h0m1-18h0m0 3h0m0 20h0m0 2h0m1-25h0m0 15h0m0 1h0m0 10h0m0 0h0m1-14h0m0 1h0m0 2h0m0 10h0m0 0h0m0 14h0m0 1h0m1-36h0m0 0h0m0 8h0m0 7h0m0 8h0m1-12h0m0 10h0m0 13h0m1-1h0m1-36h0m0 3h0m0 10h0m0 0h0m0 2h0m0 13h0m0 5h0m0 4h0m1-25h0m0 15h0m0 8h0m0 3h0m1-28h0m0 10h0m0 2h0m1-20h0m0 1h0m0 17h0m0 3h0m1-22h0m0 4h0m0 0h0m0 3h0m0 8h0m0 2h0m0 4h0m0 7h0m1-4h0m1-17h0m0 11h0m0 3h0m0 4h0m1-28h0m0 20h0m0 8h0m0 6h0m1-29h0m0 11h0m1-17h0m0 6h0m0 9h0m0 8h0m1-1h0m0 6h0m0 1h0m0 14h0m1-36h0m0 15h0m0 6h0m0 7h0m1-22h0m0 8h0m0 1h0m0 5h0m1-21h0m0 9h0m0 20h0m0 0h0m1-27h0m0 1h0m0 4h0m0 10h0m1 6h0m1-18h0m0 6h0m0 12h0m1-30h0m0 2h0m0 0h0m0 6h0m0 3h0m0 18h0m0 3h0m1-31h0m0 10h0m0 3h0m0 7h0m0 17h0m1-32h0m0 11h0m0 2h0m0 4h0m0 10h0m1-25h0m0 3h0m0 4h0m0 7h0m1-6h0m0 2h0m0 7h0m0 1h0m0 3h0m0 5h0m0 11h0m1-36h0m0 6h0m0 2h0m0 3h0m0 10h0m1-51h0m0 14h0m0 4h0m0 4h0m0 3h0m0 11h0m0 10h0m0 13h0m1-47h0m0 6h0m0 12h0m0 3h0m0 12h0m0 6h0m0 1h0m0 4h0m1-59h0m0 16h0m0 6h0m0 1h0m0 0h0m0 4h0m1-25h0m0 1h0m0 4h0m0 26h0m0 9h0m0 1h0m0 0h0m0 7h0m1-52h0m0 9h0m0 1h0m0 0h0m0 7h0m0 8h0m0 5h0m0 3h0m0 5h0m0 9h0m0 17h0m1-63h0m0 11h0m0 3h0m0 5h0m0 6h0m0 17h0m0 5h0m1-44h0m0 7h0m0 26h0m0 5h0m0 2h0m1-20h0m0 15h0m0 3h0m0 2h0m0 9h0m0 4h0m1-27h0m0 6h0m0 6h0m0 5h0m0 4h0m0 7h0m1-31h0m0 6h0m1-14h0m0 6h0m0 2h0m0 5h0m0 9h0m0 1h0m1-37h0m0 10h0m0 0h0m0 4h0m0 9h0m0 8h0m0 1h0m0 5h0m0 4h0m0 6h0m1-52h0m0 4h0m0 9h0m0 19h0m0 4h0m0 4h0m0 8h0m0 4h0m1-46h0m0 35h0m1-31h0m0 8h0m0 4h0m0 12h0m0 14h0m0 11h0m0 9h0m1-62h0m0 2h0m0 0h0m0 13h0m0 4h0m0 1h0m0 28h0m0 11h0m1-65h0m0 32h0m0 3h0m0 1h0m0 4h0m0 15h0m1-55h0m0 0h0m0 8h0m0 9h0m0 10h0m1-26h0m0 14h0m0 12h0m0 15h0m0 6h0m0 9h0m1-46h0m0 0h0m0 5h0m1 6h0m0 7h0m0 2h0m0 1h0m0 32h0m1-60h0m0 3h0m0 16h0m1-21h0m0 31h0m0 2h0m1-26h0m0 3h0m0 13h0m1-12h0m0 6h0m0 4h0m1-21h0m0 17h0m0 1h0m0 5h0m0 8h0m0 1h0m0 5h0m0 2h0m0 8h0m1-40h0m0 19h0m0 7h0m0 7h0m0 0h0m0 5h0m0 3h0m1-47h0m0 15h0m0 5h0m0 2h0m0 26h0m1-47h0m0 19h0m0 1h0m0 1h0m0 1h0m0 6h0m0 33h0m1-64h0m0 3h0m0 11h0m0 3h0m0 9h0m0 6h0m0 2h0m0 2h0m0 0h0m0 1h0m0 1h0m0 23h0m1-43h0m0 13h0m0 33h0m1-52h0m0 0h0m0 6h0m0 13h0m1-14h0m0 10h0m0 5h0m1-32h0m0 9h0m0 13h0m0 36h0m0 9h0m1-67h0m0 1h0m0 4h0m0 1h0m0 2h0m0 0h0m0 0h0m0 3h0m0 8h0m0 26h0m1-39h0m0 20h0m0 23h0m1-49h0m0 4h0m0 6h0m0 6h0m0 1h0m0 8h0m0 9h0m0 0h0m0 3h0m0 0h0m0 1h0m0 23h0m1-41h0m0 11h0m1-25h0m0 0h0m0 13h0m0 0h0m1-5h0m0 18h0m0 1h0m0 8h0m1-38h0m0 1h0m0 9h0m0 2h0m0 1h0m0 4h0m0 5h0m0 3h0m0 3h0m0 24h0m1-56h0m0 18h0m0 2h0m1-17h0m0 5h0m0 4h0m0 11h0m0 0h0m0 7h0m0 5h0m0 3h0m0 7h0m1-43h0m0 4h0m0 5h0m0 11h0m0 8h0m0 4h0m0 13h0m0 1h0m1-37h0m0 5h0m0 20h0m0 0h0m1-35h0m0 2h0m0 1h0m0 16h0m0 5h0m0 0h0m0 3h0m0 17h0m0 2h0m0 3h0m1-38h0m0 4h0m0 6h0m0 8h0m0 7h0m0 5h0m0 2h0m1-41h0m0 25h0m0 1h0m0 9h0m0 1h0m0 3h0m0 6h0m0 3h0m0 27h0m1-71h0m0 2h0m0 2h0m0 5h0m0 10h0m0 6h0m0 6h0m1-37h0m0 29h0m0 1h0m0 5h0m0 6h0m1-39h0m0 13h0m0 1h0m0 2h0m0 14h0m0 10h0m1-39h0m0 5h0m0 22h0m0 0h0m1-28h0m0 6h0m0 1h0m0 16h0m0 4h0m0 2h0m0 6h0m0 1h0m0 2h0m1-30h0m0 5h0m0 0h0m0 9h0m0 8h0m0 1h0m0 25h0m1-47h0m0 22h0m0 1h0m0 2h0m0 14h0m1-44h0m0 0h0m0 8h0m0 11h0m0 0h0m0 6h0m0 5h0m0 8h0m1-27h0m0 3h0m0 18h0m0 2h0m1-40h0m0 4h0m0 28h0m0 17h0m1-45h0m0 0h0m0 11h0m0 2h0m0 5h0m0 19h0m1-34h0m0 14h0m0 3h0m0 3h0m0 1h0m0 1h0m0 8h0m0 4h0m0 0h0m1-35h0m0 1h0m0 5h0m0 20h0m0 9h0m1-29h0m0 8h0m0 16h0m0 5h0m0 18h0m1-52h0m0 3h0m0 9h0m0 41h0m1-40h0m0 11h0m1-17h0m0 1h0m0 0h0m0 5h0m0 23h0m1-43h0m0 7h0m0 2h0m0 3h0m0 3h0m0 22h0m0 8h0m1-45h0m0 21h0m0 26h0m0 38h0m1-79h0m0 19h0m0 0h0m0 11h0m0 1h0m0 2h0m1 2h0m1-42h0m0 7h0m0 0h0m0 7h0m0 9h0m0 1h0m0 7h0m0 2h0m1-30h0m0 5h0m0 2h0m0 15h0m0 0h0m0 2h0m1-24h0m0 13h0m0 12h0m0 26h0m1-33h0m0 3h0m0 6h0m0 15h0m1-39h0m0 5h0m0 0h0m0 2h0m0 7h0m0 2h0m0 4h0m0 3h0m0 23h0m1-50h0m0 8h0m0 15h0m0 2h0m0 1h0m0 4h0m0 11h0m1-41h0m0 5h0m0 0h0m0 20h0m0 38h0m1-54h0m0 13h0m0 6h0m0 0h0m0 11h0m0 11h0m1-43h0m0 8h0m1-9h0m0 12h0m0 6h0m0 7h0m0 0h0m1-33h0m0 8h0m0 5h0m0 1h0m1-7h0m0 3h0m0 3h0m0 10h0m0 11h0m0 11h0m1-41h0m0 0h0m0 0h0m0 6h0m0 8h0m0 12h0m1-24h0m0 2h0m0 5h0m0 1h0m0 0h0m0 2h0m0 14h0m0 9h0m0 3h0m1-19h0m0 2h0m0 0h0m0 0h0m0 1h0m0 14h0m0 7h0m1-31h0m0 1h0m0 32h0m1-42h0m0 1h0m0 3h0m0 10h0m0 5h0m0 2h0m0 9h0m1-18h0m0 3h0m0 20h0m1-42h0m0 3h0m0 5h0m0 14h0m0 2h0m0 5h0m0 23h0m0 1h0m1-51h0m0 5h0m0 8h0m0 20h0m0 3h0m1-36h0m0 21h0m0 0h0m0 5h0m0 6h0m0 4h0m0 14h0m1-34h0m0 11h0m0 17h0m0 13h0m1-41h0m0 6h0m0 3h0m0 8h0m0 12h0m0 4h0m1-47h0m0 10h0m0 0h0m0 4h0m0 15h0m0 3h0m0 14h0m1-42h0m0 7h0m0 15h0m0 2h0m0 5h0m0 1h0m1-32h0m0 4h0m0 13h0m0 7h0m1-21h0m0 12h0m0 1h0m0 7h0m0 2h0m0 3h0m0 8h0m0 16h0m1-57h0m0 21h0m0 5h0m0 4h0m0 8h0m1-35h0m0 6h0m0 7h0m0 3h0m0 7h0m0 3h0m1-8h0m0 0h0m0 1h0m0 5h0m1-19h0m0 2h0m0 3h0m0 14h0m0 3h0m0 2h0m0 10h0m1-20h0m0 5h0m0 2h0m0 3h0m0 5h0m1-32h0m0 3h0m0 2h0m0 6h0m0 24h0m1-32h0m0 2h0m0 21h0m0 9h0m0 4h0m1-41h0m0 4h0m0 1h0m0 12h0m0 8h0m0 4h0m1-8h0m0 6h0m0 11h0m0 2h0m0 3h0m1-45h0m0 20h0m0 1h0m0 9h0m0 7h0m0 12h0m1-50h0m0 3h0m0 14h0m0 9h0m0 13h0m0 11h0m1-47h0m0 3h0m0 13h0m0 3h0m0 7h0m0 37h0m1-55h0m0 4h0m0 3h0m0 1h0m0 2h0m0 13h0m0 9h0m1-38h0m0 14h0m0 0h0m1-19h0m0 3h0m0 5h0m0 1h0m0 1h0m0 5h0m0 4h0m0 1h0m0 13h0m0 6h0m1-38h0m0 9h0m1-4h0m0 8h0m0 3h0m0 2h0m0 6h0m0 17h0m1-42h0m0 1h0m0 10h0m0 8h0m0 3h0m1-20h0m0 11h0m0 12h0m0 2h0m0 7h0m1-34h0m0 2h0m0 13h0m0 1h0m0 7h0m0 3h0m0 5h0m0 4h0m1-30h0m0 1h0m0 5h0m0 7h0m0 4h0m0 22h0m1-42h0m0 9h0m0 7h0"/>
<path d="M88 418h0m2-7h0m0 36h0m1-1h0m1-99h0m0 33h0m0 67h0m2-5h0m2-30h0m0 3h0m1-57h0m0 93h0m1-66h0m4-94h0m0 158h0m2-86h0m3 15h0m1-14h0m2-6h0m3 13h0m1 77h0m1-74h0m3-89h0m9 67h0m2-27h0m0 15h0m1-65h0m2 36h0m1 33h0m1-49h0m1 29h0m3 21h0m2-44h0m0 2h0m0 12h0m0 7h0m2 6h0m1-55h0m1 36h0m1-36h0m0 16h0m0 43h0m2-25h0m1 14h0m1-16h0m2 6h0m0 1h0m1 20h0m1-43h0m1 28h0m1-28h0m1-14h0m0 21h0m3-26h0m1 41h0m2-24h0m2-11h0m0 38h0m4-16h0m2-14h0m3-10h0m3 25h0m0 14h0m1 22h0m2-11h0m1-56h0m2-1h0m3 26h0m1-24h0m0 44h0m2 28h0m2-42h0m1 1h0m5-9h0m8 40h0m5-11h0m5-19h0m2-3h0m6-15h0m0 6h0m0 10h0m2 2h0m2-15h0m2-48h0m4 13h0m4 42h0m1-62h0m4 43h0m1-33h0m0 14h0m0 0h0m0 19h0m3-31h0m0 15h0m0 6h0m3-29h0m0 19h0m1-11h0m1 22h0m1 38h0m1-50h0m4 24h0m1-32h0m2 11h0m1 2h0m2-13h0m1 2h0m0 28h0m1-42h0m0 31h0m1 28h0m1-55h0m0 6h0m2 24h0m4-38h0m0 67h0m2-45h0m1 65h0m0 9h0m2-68h0m0 5h0m3-24h0m1 9h0m0 0h0m0 4h0m0 15h0m5 21h0m2-31h0m1-11h0m0 12h0m1-23h0m0 0h0m0 27h0m1-16h0m0 20h0m1-20h0m0 1h0m2 9h0m1-25h0m0 21h0m1-23h0m0 42h0m1-31h0m0 29h0m1-13h0m0 16h0m1-21h0m1-8h0m2-3h0m1 0h0m0 14h0m3-15h0m2 8h0m1-17h0m0 6h0m2-4h0m0 26h0m0 1h0m2-28h0m0 29h0m2-19h0m2-4h0m0 1h0m2 12h0m0 6h0m2-5h0m1 8h0m0 1h0m2-18h0m2-5h0m1 3h0m0 11h0m2-8h0m8 26h0m0 18h0m2-48h0m0 53h0m3-50h0m0 3h0m0 3h0m1-17h0m0 7h0m0 6h0m2-16h0m0 18h0m1-45h0m0 48h0m1-5h0m1-41h0m0 3h0m1 19h0m1-12h0m0 17h0m0 18h0m2 15h0m1-44h0m1 20h0m1-32h0m0 6h0m1-16h0m1 0h0m1 12h0m0 46h0m1-62h0m0 16h0m0 30h0m1-41h0m0 31h0m2 6h0m1-41h0m0 38h0m0 31h0m1-28h0m1-31h0m0 20h0m1-7h0m0 17h0m1-14h0m1-20h0m0 10h0m1 52h0m1-70h0m0 13h0m0 6h0m1-1h0m0 38h0m1-38h0m0 4h0m0 6h0m0 1h0m0 8h0m1-33h0m0 45h0m1-41h0m1 39h0m2-47h0m0 32h0m0 57h0m1-90h0m0 6h0m0 1h0m0 23h0m0 7h0m3-5h0m0 2h0m1-31h0m0 0h0m1 30h0m0 4h0m1-34h0m0 7h0m0 3h0m0 8h0m1 2h0m0 4h0m1-15h0m2 1h0m0 18h0m1-18h0m0 0h0m0 34h0m1-6h0m0 13h0m2-47h0m0 10h0m0 11h0m0 5h0m0 6h0m1-30h0m1 39h0m1-44h0m0 30h0m0 18h0m1-27h0m1-25h0m0 3h0m0 9h0m0 34h0m1-29h0m3 2h0m0 42h0m1-61h0m0 2h0m0 45h0m1-41h0m1 3h0m1 0h0m0 21h0m0 11h0m1-25h0m0 30h0m1-42h0m0 31h0m0 10h0m1-44h0m2 10h0m0 1h0m1 11h0m0 22h0m1 8h0m1-37h0m1 7h0m1 1h0m1-21h0m0 9h0m0 5h0m0 3h0m1 10h0m1-22h0m1 6h0m0 11h0m1-8h0m1 19h0m1-14h0m1-7h0m0 21h0m0 38h0m1-58h0m0 0h0m1-15h0m0 10h0m0 2h0m1 8h0m1-7h0m0 12h0m0 13h0m1-31h0m0 9h0m1 17h0m1-26h0m0 6h0m1 17h0m2-11h0m0 19h0m1 46h0m1-82h0m1 3h0m0 9h0m0 2h0m0 22h0m1-13h0m2-26h0m1 21h0m0 12h0m1-25h0m0 29h0m0 2h0m1-18h0m0 26h0m2-29h0m0 5h0m0 3h0m2-25h0m0 4h0m0 2h0m2 8h0m0 13h0m0 6h0m1-29h0m0 17h0m0 3h0m1-23h0m0 21h0m1-18h0m0 24h0m1-25h0m0 1h0m0 18h0m1-11h0m0 6h0m3-10h0m0 2h0m0 0h0m1-7h0m0 12h0m0 2h0m0 28h0m1-28h0m0 11h0m1-28h0m0 9h0m1 1h0m0 3h0m0 19h0m2-14h0m0 3h0m0 11h0m1-58h0m0 22h0m0 6h0m0 0h0m0 0h0m0 10h0m0 6h0m0 15h0m1-45h0m0 5h0m0 6h0m0 5h0m0 6h0m0 20h0m1-51h0m0 1h0m0 10h0m0 4h0m0 7h0m0 17h0m0 0h0m0 7h0m1-48h0m0 10h0m0 1h0m0 6h0m0 10h0m0 0h0m0 6h0m1-36h0m0 6h0m0 0h0m0 5h0m0 2h0m0 9h0m1 8h0m0 1h0m0 2h0m0 2h0m0 3h0m0 9h0m1 2h0m1-14h0m0 4h0m0 7h0m1-44h0m0 4h0m0 6h0m0 3h0m0 25h0m1-27h0m0 30h0m1-42h0m0 13h0m0 26h0m0 7h0m0 2h0m0 5h0m1-49h0m0 2h0m0 1h0m0 1h0m0 5h0m0 10h0m1-25h0m0 13h0m0 19h0m0 4h0m0 3h0m0 9h0m1-31h0m0 10h0m0 12h0m0 5h0m0 10h0m1-49h0m0 2h0m0 11h0m0 3h0m0 3h0m0 12h0m0 4h0m0 2h0m0 7h0m1-28h0m0 12h0m0 8h0m0 18h0m1-30h0m0 0h0m1-28h0m0 9h0m0 17h0m0 10h0m0 1h0m0 11h0m0 7h0m0 10h0m1-46h0m0 4h0m0 14h0m0 7h0m1-32h0m0 0h0m0 4h0m0 6h0m0 3h0m0 9h0m0 4h0m0 11h0m0 20h0m1-69h0m0 6h0m0 6h0m0 6h0m0 14h0m0 6h0m1-34h0m0 3h0m0 25h0m0 5h0m0 0h0m0 0h0m0 14h0m1-43h0m0 16h0m0 10h0m0 0h0m1-31h0m0 22h0m1-15h0m0 1h0m0 14h0m0 10h0m0 16h0m0 1h0m1-29h0m0 15h0m0 0h0m1-37h0m0 14h0m0 3h0m0 7h0m0 2h0m0 0h0m0 1h0m1-3h0m0 2h0m0 5h0m0 3h0m0 5h0m1-36h0m0 4h0m0 3h0m0 23h0m0 3h0m0 2h0m0 6h0m0 5h0m1-51h0m0 14h0m0 1h0m0 15h0m0 11h0m1-36h0m0 1h0m0 5h0m0 47h0m1-57h0m0 8h0m0 5h0m0 1h0m0 14h0m0 24h0m0 0h0m1-50h0m0 27h0m1-21h0m0 27h0m0 2h0m0 5h0m0 7h0m1-35h0m0 9h0m0 15h0m1-26h0m0 3h0m0 16h0m1-31h0m0 1h0m0 6h0m0 3h0m0 10h0m0 5h0m0 21h0m1-39h0m0 9h0m0 0h0m0 12h0m1-22h0m0 24h0m0 2h0m1 6h0m0 4h0m0 1h0m1-43h0m0 5h0m0 21h0m0 2h0m0 3h0m0 2h0m1-34h0m0 25h0m0 1h0m0 0h0m0 9h0m1-11h0m0 24h0m0 3h0m1-47h0m0 17h0m0 1h0m0 8h0m0 3h0m1-32h0m0 0h0m0 22h0m0 14h0m1-31h0m0 18h0m0 3h0m1 8h0m0 5h0m1-21h0m0 5h0m0 23h0m1-45h0m0 18h0m0 6h0m0 12h0m0 0h0m1-26h0m0 14h0m0 24h0m1-42h0m0 1h0m0 12h0m0 2h0m0 0h0m0 2h0m0 3h0m0 2h0m0 13h0m1-26h0m0 21h0m0 15h0m0 7h0m0 21h0m1-78h0m0 0h0m0 2h0m0 12h0m0 11h0m1-15h0m0 1h0m0 3h0m0 3h0m0 3h0m0 9h0m0 10h0m1-39h0m0 5h0m0 1h0m0 2h0m0 1h0m0 5h0m0 7h0m0 1h0m0 26h0m1-51h0m0 25h0m0 8h0m0 3h0m1 5h0m0 7h0m1-46h0m0 1h0m0 32h0m1-28h0m0 4h0m0 9h0m0 23h0m1-22h0m0 1h0m0 4h0m1-26h0m0 20h0m0 8h0m0 3h0m0 16h0m0 1h0m1-44h0m0 7h0m0 7h0m0 8h0m0 8h0m0 1h0m0 5h0m0 7h0m1-31h0m0 10h0m0 13h0m0 2h0m0 13h0m1-53h0m0 8h0m0 9h0m0 13h0m0 4h0m0 1h0m1-29h0m0 1h0m0 3h0m0 3h0m0 0h0m0 3h0m0 6h0m0 2h0m0 3h0m0 5h0m0 4h0m0 4h0m0 2h0m1-30h0m0 1h0m0 1h0m0 15h0m0 15h0m1-39h0m0 10h0m0 8h0m0 4h0m0 5h0m0 4h0m1-32h0m0 5h0m0 6h0m0 5h0m0 1h0m0 2h0m1-21h0m0 9h0m0 2h0m0 2h0m0 4h0m0 11h0m0 7h0m0 1h0m1-30h0m0 6h0m0 5h0m0 10h0m0 4h0m1-33h0m0 4h0m0 2h0m0 15h0m0 4h0m0 2h0m0 4h0m0 20h0m1-51h0m0 2h0m0 3h0m0 0h0m0 11h0m0 22h0m1-33h0m0 10h0m0 20h0m1-34h0m0 8h0m0 3h0m0 35h0m1-46h0m0 8h0m0 11h0m0 6h0m0 0h0m1-26h0m1 4h0m0 2h0m1-1h0m0 1h0m1-4h0m0 3h0m0 17h0m0 0h0m0 7h0m1-27h0m0 6h0m0 1h0m0 4h0m0 10h0m0 4h0m1-27h0m0 13h0m1-11h0m0 2h0m0 5h0m0 1h0m0 13h0m0 11h0m0 6h0m1-34h0m0 7h0m0 0h0m0 10h0m0 17h0m1-37h0m0 6h0m0 2h0m0 3h0m0 20h0m1-28h0m0 9h0m0 12h0m0 26h0m1-49h0m0 3h0m0 0h0m0 1h0m0 14h0m0 4h0m0 9h0m0 11h0m1-46h0m0 18h0m0 0h0m0 5h0m0 6h0m1-30h0m0 2h0m0 24h0m1-25h0m0 10h0m0 8h0m0 9h0m0 4h0m0 49h0m1-72h0m0 20h0m0 2h0m0 24h0m1-34h0m0 16h0m0 4h0m1-38h0m0 5h0m0 14h0m0 5h0m0 6h0m0 0h0m1-33h0m0 1h0m0 7h0m0 8h0m0 11h0m1-25h0m0 59h0m1-55h0m0 8h0m0 3h0m0 10h0m1-24h0m0 2h0m0 7h0m0 8h0m0 0h0m0 5h0m1-23h0m0 5h0m0 3h0m0 16h0m1-3h0m1-11h0m0 1h0m1-5h0m0 3h0m0 22h0m0 15h0m1-40h0m0 14h0m0 9h0m0 7h0m1-33h0m0 3h0m0 17h0m0 34h0m1-46h0m0 10h0m0 5h0m0 3h0m1-24h0m0 7h0m0 12h0m1-23h0m0 4h0m0 2h0m0 12h0m0 10h0m0 4h0m0 11h0m1-25h0m0 0h0m0 12h0m0 0h0m0 4h0m1-35h0m0 17h0m0 5h0m1-23h0m0 19h0m0 8h0m0 5h0m1-22h0m0 1h0m0 42h0m1-50h0m0 9h0m0 1h0m0 6h0m1 2h0m0 0h0m0 11h0m0 8h0m1-35h0m0 6h0m0 2h0m0 9h0m1-17h0m0 5h0m0 2h0m0 0h0m0 8h0m0 3h0m0 4h0m1-23h0m0 1h0m0 8h0m0 6h0m0 3h0m0 4h0m1-18h0m0 28h0m0 1h0m1-35h0m0 2h0m0 15h0m1-19h0m0 0h0m0 11h0m0 13h0m0 3h0m1-27h0m0 3h0m0 29h0m0 1h0m0 0h0m0 2h0m1-62h0m0 9h0m0 14h0m0 12h0m0 6h0m0 8h0m0 8h0m0 0h0m1-54h0m0 1h0m0 8h0m0 1h0m0 1h0m0 5h0m0 1h0m0 4h0m0 7h0m0 3h0m0 3h0m0 2h0m0 5h0m0 1h0m0 4h0m0 8h0m0 1h0m0 5h0m1-63h0m0 7h0m0 20h0m0 12h0m0 9h0m0 1h0m1-42h0m0 5h0m0 16h0m0 2h0m0 3h0m0 6h0m0 8h0m0 1h0m0 1h0m0 12h0m1-43h0m0 3h0m0 5h0m0 0h0m0 9h0m0 8h0m1-31h0m0 3h0m0 8h0m0 1h0m0 5h0m0 5h0m0 6h0m0 19h0m0 11h0m1-57h0m0 9h0m0 5h0m0 1h0m0 4h0m0 2h0m0 6h0m0 4h0m1-32h0m0 4h0m0 0h0m0 3h0m0 2h0m0 0h0m0 7h0m0 7h0m0 7h0m0 0h0m1-27h0m0 9h0m0 10h0m0 25h0m1-38h0m0 11h0m0 6h0m0 9h0m0 4h0m1-50h0m0 7h0m0 8h0m0 20h0m0 3h0m0 18h0m0 2h0m0 9h0m1-56h0m0 3h0m0 5h0m0 7h0m0 14h0m0 15h0m1-44h0m0 5h0m0 0h0m0 26h0m0 4h0m1-44h0m0 10h0m0 1h0m0 8h0m0 5h0m0 5h0m0 6h0m0 1h0m0 9h0m1-43h0m0 14h0m0 7h0m0 7h0m0 4h0m0 10h0m0 2h0m1-45h0m0 7h0m0 3h0m0 8h0m0 1h0m0 11h0m0 4h0m0 0h0m0 3h0m1-38h0m0 7h0m0 13h0m0 9h0m0 6h0m0 14h0m1-45h0m0 7h0m0 21h0m0 14h0m1-43h0m0 0h0m0 30h0m1-35h0m0 13h0m0 4h0m0 6h0m0 3h0m1-20h0m0 6h0m0 1h0m0 26h0m0 2h0m0 5h0m1-41h0m0 4h0m0 0h0m0 3h0m0 3h0m0 16h0m0 25h0m0 7h0m1-60h0m0 2h0m0 11h0m0 5h0m0 5h0m0 10h0m0 6h0m0 23h0m1-40h0m0 7h0m0 11h0m0 7h0m0 6h0m0 4h0m1-40h0m0 48h0m1-38h0m0 0h0m0 3h0m0 8h0m0 3h0m0 4h0m0 7h0m1-53h0m0 25h0m0 3h0m0 1h0m1-5h0m0 0h0m0 0h0m0 13h0m0 0h0m0 5h0m1-27h0m0 5h0m0 2h0m0 0h0m0 6h0m1-14h0m0 8h0m0 15h0m0 1h0m1-40h0m0 14h0m0 7h0m0 2h0m0 2h0m0 7h0m0 5h0m0 11h0m1-42h0m0 30h0m0 6h0m1-41h0m0 12h0m0 3h0m1-11h0m0 2h0m0 15h0m0 3h0m0 4h0m0 5h0m0 1h0m0 1h0m0 9h0m1-40h0m0 22h0m0 2h0m0 2h0m0 0h0m0 10h0m0 15h0m1-54h0m0 29h0m0 10h0m0 7h0m1-48h0m0 16h0m0 9h0m0 2h0m1-22h0m0 4h0m0 0h0m0 9h0m0 4h0m1-21h0m0 4h0m0 1h0m0 3h0m0 3h0m0 5h0m0 0h0m0 9h0m0 12h0m0 5h0m0 0h0m1-27h0m0 0h0m0 6h0m0 14h0m0 2h0m0 2h0m1-17h0m0 22h0m0 2h0m1-44h0m0 5h0m0 1h0m0 11h0m0 10h0m0 2h0m1-30h0m0 8h0m0 4h0m0 5h0m0 1h0m0 7h0m1-26h0m0 25h0m0 1h0m0 13h0m0 0h0m1-36h0m0 11h0m0 11h0m0 3h0m0 0h0m0 3h0m0 0h0m0 3h0m0 0h0m0 2h0m0 0h0m1-31h0m0 6h0m0 7h0m0 11h0m0 1h0m0 7h0m0 1h0m1-34h0m0 9h0m0 2h0m0 3h0m0 3h0m0 3h0m0 4h0m0 4h0m0 4h0m0 8h0m0 6h0m1-33h0m0 18h0m1-34h0m0 11h0m0 10h0m0 1h0m0 5h0m1-29h0m0 16h0m0 2h0m0 7h0m0 2h0m0 6h0m0 9h0m1-38h0m0 12h0m0 7h0m0 14h0m1-31h0m0 1h0m0 5h0m0 1h0m0 2h0m0 23h0m0 6h0m0 14h0m1-59h0m0 30h0m0 5h0m0 4h0m0 3h0m0 1h0m1-8h0m0 4h0m0 7h0m1-40h0m0 28h0m0 4h0m0 5h0m1-39h0m0 12h0m0 7h0m0 10h0m0 4h0m0 8h0m0 6h0m1-48h0m0 29h0m0 1h0m0 13h0m0 4h0m0 10h0m0 3h0m1-36h0m0 1h0m0 18h0m1-41h0m0 2h0m1 7h0m0 11h0m0 12h0m0 1h0m0 6h0m0 2h0m0 14h0m0 3h0m1-63h0m0 8h0m0 3h0m0 16h0m0 21h0m1-42h0m0 3h0m1 2h0m0 8h0m0 4h0m0 1h0m0 1h0m0 8h0m0 4h0m0 6h0m1-28h0m0 7h0m0 12h0m0 5h0m0 2h0m1-38h0m0 5h0m0 11h0m0 4h0m0 12h0m0 3h0m0 20h0m1-55h0m0 9h0m0 2h0m0 13h0m0 6h0m1-10h0m0 8h0m0 8h0m1-33h0m0 4h0m0 10h0m1 4h0m0 4h0m0 2h0m0 1h0m0 10h0m1-40h0m0 1h0m0 18h0m0 1h0m0 4h0m0 2h0m0 14h0m1-34h0m0 13h0m0 3h0m0 13h0m1-36h0m0 6h0m0 2h0m0 0h0m0 6h0m0 4h0m0 5h0m0 1h0m0 10h0m0 2h0m1-34h0m0 3h0m0 8h0m0 1h0m0 5h0m0 11h0m0 2h0m1-18h0m0 5h0m0 6h0m1 4h0m0 2h0m0 3h0m0 1h0m1-33h0m0 29h0m0 3h0m0 2h0m0 12h0m1-47h0m0 0h0m0 6h0m0 1h0m0 1h0m0 7h0m0 15h0m0 18h0m1-46h0m0 0h0m0 2h0m0 12h0m0 3h0m0 12h0m0 16h0m1-37h0m0 14h0m0 1h0m0 19h0m1-34h0m0 7h0m0 1h0m0 2h0m0 2h0m0 10h0m1-14h0m0 9h0m0 3h0m0 3h0m0 8h0m0 1h0m0 0h0m0 2h0m0 0h0m0 5h0m1-48h0m0 4h0m0 0h0m0 7h0m0 40h0m1-51h0m0 0h0m0 6h0m0 3h0m0 4h0m0 3h0m0 25h0m1-12h0m0 2h0m0 3h0m1-35h0m0 11h0m0 6h0m0 20h0m0 2h0m0 1h0m0 12h0m1-49h0m0 3h0m0 11h0m0 29h0m1-23h0m0 1h0m0 12h0m0 1h0m1-33h0m0 3h0m0 15h0m0 3h0m0 3h0m0 9h0m0 4h0m0 2h0m1-33h0m0 5h0m0 1h0m0 6h0m0 22h0m1-34h0m0 8h0m0 1h0m0 4h0m0 4h0m0 2h0m1-17h0m0 18h0m0 4h0m0 8h0m0 2h0m0 19h0m1-62h0m0 0h0m0 1h0m0 13h0m0 3h0m0 15h0m0 5h0m0 24h0m1-63h0m0 3h0m0 4h0m0 3h0m0 13h0m1-10h0m0 16h0m0 10h0m1-38h0m0 3h0m0 7h0m0 6h0m0 2h0m0 3h0m1-15h0m0 13h0m0 2h0m0 7h0m0 1h0m0 1h0m0 3h0m0 4h0m0 4h0m0 2h0m1-37h0m0 6h0m0 23h0m0 16h0m1-47h0m0 11h0m1-5h0m0 5h0m0 5h0m0 0h0m0 20h0m0 19h0m1-60h0m0 5h0m0 4h0m0 5h0m0 3h0m0 7h0m0 1h0m0 10h0m0 23h0m1-57h0m0 1h0m0 1h0m0 10h0m0 5h0m0 9h0m0 4h0m0 1h0m0 2h0m0 2h0m0 3h0m0 3h0m1-35h0m0 1h0m0 2h0m0 8h0m0 15h0m0 7h0m0 0h0m1-39h0m0 2h0m0 8h0m0 20h0m0 3h0m0 3h0m1-11h0m1-21h0m0 5h0m0 1h0m0 2h0m0 11h0m1-22h0m0 5h0m0 2h0m0 7h0m0 2h0m0 4h0m0 4h0m0 5h0m1-15h0m0 10h0m0 2h0m0 2h0m1-29h0m0 13h0m0 3h0m0 18h0m0 4h0m1-33h0m0 8h0m0 11h0m0 2h0m0 10h0m1-36h0m0 2h0m0 0h0m0 4h0m0 5h0m0 0h0m0 1h0m0 5h0m0 5h0m0 1h0m0 5h0m0 5h0m0 2h0m0 7h0m1-33h0m0 2h0m0 20h0m1-22h0m0 1h0m0 10h0m0 3h0m0 0h0m0 11h0m0 0h0m1-29h0m0 6h0m0 2h0m0 13h0m0 1h0m0 6h0m0 2h0m1-30h0m0 1h0m0 7h0m0 4h0m0 2h0m0 7h0m0 2h0m0 1h0m0 4h0m1-30h0m0 2h0m0 8h0m0 3h0m0 4h0m0 20h0m2-38h0m0 5h0m0 2h0m0 4h0m0 14h0m0 21h0m0 3h0m1-18h0"/>
</g>
<path fill="#257cbf" d="M113 108.5 113.5 108.5 113.5 108 114.5 108 114.5 107.5 115.5 107.5 115.5 107 116 107 116 106.5 116.5 106.5 116.5 106 117 106 117 105.5 117.5 105.5 117.5 105 118 105 118 104.5 118.5 104.5 118.5 104 119 104 119 103.5 119.5 103.5 119.5 102.5 120 102.5 120 102 120.5 102 120.5 101 121 101 121 100 121.5 100 121.5 98.5 122 98.5 122 96.5 122.5 96.5 122.5 94.5 123 94.5 123 92.5 123.5 92.5 123.5 90 124 90 124 56 124.5 56 124.5 55.5 125 55.5 125 55 125.5 55 125.5 54 126 54 126 53.5 126.5 53.5 126.5 53 127 53 127 52.5 127.5 52.5 127.5 52 128 52 128 51.5 128.5 51.5 128.5 51 129.5 51 129.5 50.5 130 50.5 130 50 131 50 131 49.5 132 49.5 132 49 133.5 49 133.5 48.5 135 48.5 135 48 137 48 137 47.5 139 47.5 139 47 142 47 142 46.5 145.5 46.5 145.5 46 149.5 46 149.5 45.5 154 45.5 154 45 158.5 45 158.5 44.5 167.5 44.5 167.5 44 178 44 178 43.5 188 43.5 188 43 198.5 43 198.5 42.5 211 42.5 211 42 224.5 42 224.5 41.5 237.5 41.5 237.5 41 247 41 247 40.5 255 40.5 255 40 263 40 263 39.5 270.5 39.5 270.5 39 278.5 39 278.5 38.5 290 38.5 290 38 303 38 303 37.5 315.5 37.5 315.5 37 328 37 328 36.5 349 36.5 349 68.5 290.5 68.5 290.5 81.5 231.5 81.5 231.5 95 172.5 95 172.5 114 113.5 114 113.5 132.5 113 132.5Z"/>
<path fill="none" stroke="#fff" stroke-width="2.6" stroke-linecap="round" transform="scale(0.5)" d="M227 218h0m3-2h0m0 3h0m0 7h0m7-10h0m1 9h0m2-15h0m0 14h0m4-20h0m0 4h0m2 1h0m0 15h0m1-38h0m0 5h0m1-33h0m0 23h0m0 3h0m0 3h0m0 1h0m0 11h0m1-80h0m0 10h0m0 2h0m0 9h0m0 56h0m0 27h0m1-104h0m0 40h0m0 5h0m0 2h0m0 12h0m0 26h0m1-87h0m0 11h0m0 15h0m0 40h0m1-74h0m1 111h0m1-55h0m0 5h0m0 17h0m1-41h0m0 3h0m0 15h0m1-20h0m0 41h0m1-72h0m0 16h0m0 48h0m0 35h0m1-82h0m0 10h0m0 49h0m2 3h0m1-35h0m0 35h0m2-32h0m1-42h0m1 32h0m5-49h0m1 74h0m1-8h0m1-42h0m0 101h0m2-124h0m0 99h0m2-53h0m0 34h0m17-84h0m2-4h0m6 10h0m5-9h0m6 6h0m5-1h0m3-3h0m6-5h0m2-3h0m2 7h0m2 4h0m2-10h0m4-1h0m5 12h0m5-11h0m2 0h0m1-1h0m1 0h0m5 17h0m7 2h0m3-14h0m4-4h0m3 6h0m3-7h0m8 1h0m2-3h0m4 5h0m0 13h0m13-7h0m2-11h0m7 13h0m1-5h0m1-8h0m2 9h0m1-10h0m0 2h0m3-2h0m9 2h0m1-3h0m2-1h0m2 2h0m2 3h0m4 6h0m3-10h0m0 4h0m3-2h0m1 5h0m0 5h0m5-10h0m3 5h0m5-7h0m0 0h0m2 2h0m7 7h0m1-7h0m4 5h0m11-5h0m0 6h0m3-11h0m4 2h0m1 11h0m1-10h0m0 4h0m2 6h0m3-12h0m6 0h0m0 2h0m5-5h0m1 6h0m3 1h0m8-6h0m0 0h0m9 1h0m5 3h0m4-5h0m2-2h0m13 4h0m2-2h0m2 0h0m26-2h0m9 1h0m1-3h0m0 4h0m0 11h0m4-10h0m1-3h0m4 2h0m8-4h0m6 0h0m2 1h0m4 3h0m1 0h0m2-4h0m3 7h0m1 0h0m3-7h0m2 1h0m7 1h0m2 0h0m1 5h0m4 2h0m2-10h0m1 0h0m6 7h0m4-4h0m1-1h0m3-2h0m11-2h0m2 8h0m2-8h0m4 3h0m4-1h0m2 1h0"/>
<path fill="none" stroke="#257cbf" stroke-width="3.2" stroke-linecap="round" transform="scale(0.5)" d="M110 180h0m0 79h0m1-114h0m0 28h0m0 75h0m0 17h0m1-41h0m0 11h0m2-73h0m1 100h0m1-46h0m0 2h0m2-79h0m1 93h0m1-128h0m0 85h0m0 75h0m1-131h0m0 59h0m0 24h0m0 11h0m0 6h0m0 30h0m1-32h0m1-71h0m0 79h0m3-140h0m0 91h0m0 34h0m1-5h0m0 27h0m1-71h0m1 14h0m1-31h0m0 35h0m0 21h0m0 4h0m0 22h0m0 6h0m0 16h0m1-138h0m0 22h0m0 1h0m0 0h0m0 19h0m0 0h0m0 5h0m0 2h0m0 9h0m0 1h0m0 0h0m0 0h0m0 3h0m0 6h0m0 9h0m0 8h0m0 11h0m0 0h0m0 4h0m0 3h0m0 7h0m0 3h0m0 2h0m0 1h0m0 7h0m0 3h0m0 2h0m0 1h0m0 2h0m0 0h0m0 0h0m0 3h0m0 3h0m0 2h0m1-140h0m0 14h0m0 16h0m0 3h0m0 17h0m0 3h0m0 17h0m0 3h0m0 10h0m0 7h0m0 0h0m0 5h0m0 1h0m0 1h0m0 11h0m0 5h0m0 5h0m0 10h0m0 2h0m0 2h0m0 1h0m0 1h0m0 4h0m0 2h0m0 1h0m1-140h0m0 0h0m0 1h0m0 6h0m0 6h0m0 13h0m0 2h0m0 12h0m0 3h0m0 1h0m0 9h0m0 3h0m0 8h0m0 8h0m0 19h0m0 1h0m0 1h0m0 2h0m0 7h0m0 1h0m0 1h0m0 5h0m0 1h0m0 1h0m0 0h0m0 5h0m0 1h0m0 7h0m0 1h0m0 5h0m0 1h0m0 5h0m0 3h0m1-145h0m0 6h0m0 12h0m0 8h0m0 4h0m0 2h0m0 13h0m0 21h0m0 0h0m0 10h0m0 6h0m0 4h0m0 0h0m0 1h0m0 19h0m0 1h0m0 5h0m0 1h0m0 9h0m0 0h0m0 3h0m0 3h0m0 5h0m0 0h0m0 0h0m0 6h0m0 1h0m0 3h0m0 2h0m0 0h0m0 1h0m1-161h0m0 24h0m0 14h0m0 11h0m0 1h0m0 12h0m0 8h0m0 5h0m0 1h0m0 2h0m0 0h0m0 1h0m0 6h0m0 8h0m0 2h0m0 3h0m0 7h0m0 11h0m0 12h0m0 0h0m0 9h0m0 2h0m0 3h0m0 7h0m0 5h0m0 0h0m0 4h0m1-162h0m0 26h0m0 2h0m0 13h0m0 17h0m0 3h0m0 2h0m0 18h0m0 2h0m0 5h0m0 4h0m0 1h0m0 1h0m0 3h0m0 1h0m0 2h0m0 3h0m0 1h0m0 37h0m0 7h0m0 6h0m0 1h0m0 2h0m0 2h0m0 2h0m0 1h0m0 3h0m0 0h0m1-152h0m0 6h0m0 2h0m0 4h0m0 17h0m0 4h0m0 0h0m0 1h0m0 1h0m0 7h0m0 0h0m0 12h0m0 4h0m0 2h0m0 6h0m0 3h0m0 13h0m0 1h0m0 1h0m0 4h0m0 9h0m0 2h0m0 2h0m0 9h0m0 12h0m0 1h0m0 1h0m0 9h0m0 3h0m0 0h0m0 3h0m0 5h0m1-159h0m0 36h0m0 1h0m0 0h0m0 1h0m0 9h0m0 2h0m0 7h0m0 8h0m0 1h0m0 4h0m0 5h0m0 2h0m0 5h0m0 1h0m0 10h0m0 9h0m0 1h0m0 8h0m0 7h0m0 6h0m0 1h0m0 0h0m0 4h0m0 1h0m0 5h0m0 7h0m0 4h0m0 0h0m0 7h0m0 1h0m0 2h0m0 1h0m0 0h0m0 0h0m0 1h0m0 9h0m1-164h0m0 23h0m0 1h0m0 10h0m0 5h0m0 16h0m0 2h0m0 7h0m0 1h0m0 2h0m0 5h0m0 2h0m0 3h0m0 7h0m0 2h0m0 7h0m0 7h0m0 1h0m0 0h0m0 11h0m0 4h0m0 7h0m0 14h0m0 8h0m0 5h0m0 6h0m0 0h0m0 4h0m1-163h0m0 12h0m0 12h0m0 8h0m0 5h0m0 7h0m0 2h0m0 5h0m0 1h0m0 1h0m0 9h0m0 4h0m0 7h0m0 1h0m0 4h0m0 1h0m0 5h0m0 6h0m0 6h0m0 2h0m0 1h0m0 7h0m0 3h0m0 1h0m0 1h0m0 2h0m0 0h0m0 10h0m0 1h0m0 1h0m0 2h0m0 3h0m0 11h0m0 3h0m0 1h0m0 1h0m0 7h0m0 1h0m0 2h0m0 7h0m0 4h0m0 0h0m0 0h0m0 0h0m1-164h0m0 24h0m0 21h0m0 3h0m0 0h0m0 15h0m0 1h0m0 12h0m0 5h0m0 9h0m0 8h0m0 5h0m0 11h0m0 4h0m0 10h0m0 1h0m0 1h0m0 8h0m0 1h0m0 1h0m0 1h0m0 2h0m0 0h0m0 4h0m0 2h0m0 1h0m0 2h0m0 2h0m0 2h0m0 1h0m1-192h0m0 34h0m0 2h0m0 28h0m0 9h0m0 27h0m0 2h0m0 3h0m0 10h0m0 3h0m0 5h0m0 1h0m0 9h0m0 0h0m0 2h0m0 1h0m0 6h0m0 6h0m0 8h0m0 3h0m0 4h0m0 1h0m0 2h0m0 1h0m0 0h0m0 2h0m0 1h0m0 1h0m0 2h0m0 1h0m0 0h0m0 3h0m0 1h0m0 5h0m0 5h0m0 1h0m0 1h0m0 2h0m0 6h0m0 2h0m1-165h0m0 3h0m0 26h0m0 1h0m0 20h0m0 25h0m0 11h0m0 3h0m0 12h0m0 2h0m0 7h0m0 10h0m0 0h0m0 3h0m0 3h0m0 1h0m0 4h0m0 1h0m0 1h0m0 0h0m0 3h0m0 3h0m0 5h0m0 5h0m0 4h0m0 4h0m0 0h0m0 0h0m0 3h0m1-214h0m0 22h0m0 47h0m0 3h0m0 8h0m0 1h0m0 0h0m0 2h0m0 14h0m0 11h0m0 7h0m0 1h0m0 8h0m0 4h0m0 8h0m0 7h0m0 5h0m0 10h0m0 1h0m0 11h0m0 1h0m0 4h0m0 2h0m0 0h0m0 14h0m0 4h0m0 1h0m0 2h0m0 1h0m0 2h0m0 2h0m0 2h0m0 1h0m0 0h0m0 1h0m0 0h0m0 1h0m0 0h0m0 1h0m0 7h0m0 3h0m1-174h0m0 4h0m0 9h0m0 11h0m0 18h0m0 1h0m0 13h0m0 11h0m0 5h0m0 6h0m0 0h0m0 7h0m0 11h0m0 13h0m0 5h0m0 0h0m0 2h0m0 3h0m0 8h0m0 5h0m0 4h0m0 2h0m0 2h0m0 1h0m0 2h0m0 2h0m0 0h0m0 7h0m0 1h0m0 0h0m0 2h0m0 1h0m0 8h0m0 2h0m0 4h0m1-175h0m0 4h0m0 23h0m0 6h0m0 7h0m0 6h0m0 10h0m0 22h0m0 1h0m0 0h0m0 4h0m0 2h0m0 6h0m0 9h0m0 19h0m0 0h0m0 1h0m0 5h0m0 6h0m0 6h0m0 8h0m0 4h0m0 4h0m0 3h0m0 0h0m0 0h0m0 3h0m0 5h0m0 6h0m0 3h0m0 0h0m0 2h0m0 2h0m0 1h0m0 0h0m0 2h0m1-168h0m0 1h0m0 3h0m0 11h0m0 3h0m0 3h0m0 18h0m0 0h0m0 24h0m0 4h0m0 1h0m0 2h0m0 19h0m0 12h0m0 6h0m0 4h0m0 5h0m0 4h0m0 1h0m0 6h0m0 1h0m0 1h0m0 2h0m0 0h0m0 2h0m0 5h0m0 5h0m0 2h0m0 0h0m0 4h0m0 1h0m0 2h0m0 4h0m0 4h0m0 2h0m0 1h0m1-165h0m0 3h0m0 20h0m0 2h0m0 5h0m0 6h0m0 1h0m0 7h0m0 15h0m0 0h0m0 1h0m0 3h0m0 8h0m0 3h0m0 1h0m0 4h0m0 3h0m0 12h0m0 10h0m0 1h0m0 2h0m0 9h0m0 1h0m0 5h0m0 14h0m0 3h0m0 8h0m0 1h0m0 0h0m0 8h0m0 1h0m0 6h0m0 0h0m0 3h0m0 1h0m0 1h0m1-178h0m0 10h0m0 4h0m0 20h0m0 9h0m0 0h0m0 5h0m0 0h0m0 5h0m0 15h0m0 8h0m0 4h0m0 0h0m0 1h0m0 4h0m0 2h0m0 5h0m0 2h0m0 1h0m0 3h0m0 1h0m0 1h0m0 11h0m0 1h0m0 0h0m0 1h0m0 4h0m0 4h0m0 5h0m0 10h0m0 1h0m0 1h0m0 1h0m0 4h0m0 3h0m0 6h0m0 4h0m0 3h0m0 2h0m0 0h0m0 3h0m0 0h0m0 1h0m0 4h0m0 1h0m0 5h0m0 2h0m0 1h0m1-170h0m0 6h0m0 12h0m0 0h0m0 13h0m0 14h0m0 7h0m0 3h0m0 5h0m0 2h0m0 17h0m0 5h0m0 0h0m0 0h0m0 14h0m0 8h0m0 5h0m0 3h0m0 1h0m0 2h0m0 3h0m0 5h0m0 0h0m0 2h0m0 1h0m0 2h0m0 0h0m0 8h0m0 3h0m0 1h0m0 10h0m0 4h0m0 2h0m0 6h0m0 2h0m0 5h0m0 1h0m1-170h0m0 6h0m0 15h0m0 11h0m0 6h0m0 3h0m0 1h0m0 12h0m0 7h0m0 15h0m0 10h0m0 2h0m0 3h0m0 1h0m0 5h0m0 2h0m0 1h0m0 4h0m0 13h0m0 4h0m0 3h0m0 3h0m0 2h0m0 1h0m0 13h0m0 2h0m0 2h0m0 1h0m0 7h0m0 3h0m0 5h0m0 2h0m1-183h0m0 10h0m0 2h0m0 5h0m0 14h0m0 16h0m0 10h0m0 6h0m0 4h0m0 7h0m0 2h0m0 1h0m0 5h0m0 7h0m0 5h0m0 2h0m0 4h0m0 0h0m0 6h0m0 9h0m0 5h0m0 2h0m0 15h0m0 3h0m0 0h0m0 12h0m0 0h0m0 5h0m0 3h0m0 5h0m0 0h0m0 3h0m0 1h0m0 12h0m0 6h0m1-173h0m0 1h0m0 3h0m0 13h0m0 14h0m0 10h0m0 3h0m0 1h0m0 5h0m0 9h0m0 1h0m0 10h0m0 0h0m0 1h0m0 6h0m0 1h0m0 4h0m0 15h0m0 1h0m0 3h0m0 1h0m0 1h0m0 2h0m0 1h0m0 3h0m0 2h0m0 3h0m0 7h0m0 7h0m0 2h0m0 3h0m0 1h0m0 3h0m0 6h0m0 4h0m0 1h0m0 2h0m0 0h0m0 7h0m0 5h0m0 0h0m0 5h0m0 2h0m1-174h0m0 10h0m0 1h0m0 14h0m0 4h0m0 4h0m0 7h0m0 1h0m0 7h0m0 0h0m0 8h0m0 10h0m0 7h0m0 1h0m0 1h0m0 3h0m0 10h0m0 1h0m0 2h0m0 9h0m0 2h0m0 0h0m0 2h0m0 1h0m0 3h0m0 1h0m0 0h0m0 2h0m0 8h0m0 7h0m0 1h0m0 5h0m0 3h0m0 6h0m0 4h0m0 0h0m0 4h0m0 4h0m0 2h0m0 4h0m0 2h0m0 1h0m0 1h0m0 2h0m0 2h0m0 3h0m1-169h0m0 9h0m0 4h0m0 24h0m0 1h0m0 16h0m0 1h0m0 0h0m0 1h0m0 1h0m0 5h0m0 27h0m0 3h0m0 3h0m0 2h0m0 2h0m0 4h0m0 2h0m0 0h0m0 4h0m0 1h0m0 2h0m0 7h0m0 3h0m0 8h0m0 3h0m0 0h0m0 1h0m0 1h0m0 0h0m0 2h0m0 2h0m0 1h0m0 0h0m0 2h0m0 0h0m0 2h0m0 1h0m0 4h0m0 5h0m0 1h0m0 1h0m0 3h0m0 1h0m0 2h0m0 1h0m0 2h0m0 6h0m1-197h0m0 6h0m0 16h0m0 4h0m0 10h0m0 3h0m0 1h0m0 3h0m0 12h0m0 15h0m0 3h0m0 19h0m0 1h0m0 18h0m0 4h0m0 2h0m0 0h0m0 1h0m0 2h0m0 1h0m0 4h0m0 4h0m0 3h0m0 1h0m0 1h0m0 1h0m0 9h0m0 1h0m0 9h0m0 1h0m0 4h0m0 6h0m0 6h0m0 4h0m0 6h0m0 1h0m0 2h0m0 2h0m0 2h0m0 1h0m0 4h0m0 0h0m0 8h0m0 0h0m1-195h0m0 13h0m0 2h0m0 12h0m0 39h0m0 1h0m0 1h0m0 14h0m0 3h0m0 1h0m0 9h0m0 8h0m0 5h0m0 3h0m0 5h0m0 9h0m0 5h0m0 1h0m0 9h0m0 3h0m0 1h0m0 2h0m0 0h0m0 22h0m0 1h0m0 2h0m0 3h0m0 0h0m0 3h0m0 3h0m0 1h0m0 3h0m0 5h0m0 3h0m0 3h0m0 0h0m0 1h0m1-185h0m0 18h0m0 1h0m0 1h0m0 9h0m0 16h0m0 3h0m0 2h0m0 9h0m0 0h0m0 17h0m0 2h0m0 5h0m0 5h0m0 0h0m0 12h0m0 4h0m0 5h0m0 5h0m0 9h0m0 2h0m0 5h0m0 3h0m0 4h0m0 10h0m0 5h0m0 9h0m0 0h0m0 5h0m0 1h0m0 1h0m0 0h0m0 0h0m0 1h0m0 4h0m0 0h0m0 2h0m0 3h0m0 3h0m0 3h0m0 0h0m0 3h0m1-204h0m0 8h0m0 13h0m0 5h0m0 26h0m0 25h0m0 12h0m0 3h0m0 2h0m0 14h0m0 4h0m0 1h0m0 2h0m0 4h0m0 7h0m0 4h0m0 4h0m0 4h0m0 15h0m0 4h0m0 7h0m0 4h0m0 4h0m0 1h0m0 1h0m0 5h0m0 2h0m0 0h0m0 0h0m0 4h0m0 2h0m0 6h0m0 7h0m1-183h0m0 20h0m0 2h0m0 0h0m0 26h0m0 2h0m0 3h0m0 15h0m0 4h0m0 6h0m0 3h0m0 5h0m0 1h0m0 0h0m0 2h0m0 4h0m0 8h0m0 2h0m0 4h0m0 7h0m0 7h0m0 1h0m0 0h0m0 15h0m0 1h0m0 5h0m0 1h0m0 6h0m0 5h0m0 5h0m0 11h0m1-157h0m0 12h0m0 1h0m0 18h0m0 9h0m0 14h0m0 5h0m0 15h0m0 12h0m0 1h0m0 1h0m0 1h0m0 4h0m0 1h0m0 7h0m0 5h0m0 1h0m0 1h0m0 0h0m0 2h0m0 1h0m0 0h0m0 2h0m0 1h0m0 0h0m0 1h0m0 4h0m0 1h0m0 6h0m0 11h0m0 2h0m0 4h0m0 3h0m0 7h0m0 1h0m0 1h0m0 2h0m0 6h0m0 4h0m0 0h0m0 3h0m0 3h0m1-171h0m0 1h0m0 0h0m0 6h0m0 13h0m0 3h0m0 2h0m0 9h0m0 1h0m0 3h0m0 1h0m0 4h0m0 4h0m0 9h0m0 18h0m0 1h0m0 27h0m0 13h0m0 12h0m0 0h0m0 14h0m0 2h0m0 12h0m0 2h0m0 4h0m0 5h0m0 1h0m0 2h0m0 0h0m1-177h0m0 2h0m0 10h0m0 13h0m0 0h0m0 5h0m0 4h0m0 8h0m0 0h0m0 3h0m0 4h0m0 3h0m0 0h0m0 5h0m0 10h0m0 1h0m0 1h0m0 3h0m0 3h0m0 3h0m0 5h0m0 4h0m0 3h0m0 2h0m0 2h0m0 2h0m0 8h0m0 3h0m0 6h0m0 1h0m0 13h0m0 6h0m0 3h0m0 8h0m0 6h0m0 17h0m0 7h0m0 2h0m0 0h0m0 1h0m1-168h0m0 12h0m0 1h0m0 3h0m0 4h0m0 0h0m0 2h0m0 2h0m0 6h0m0 13h0m0 7h0m0 6h0m0 10h0m0 1h0m0 3h0m0 1h0m0 0h0m0 11h0m0 1h0m0 12h0m0 1h0m0 1h0m0 2h0m0 0h0m0 9h0m0 8h0m0 2h0m0 0h0m0 8h0m0 2h0m0 1h0m0 6h0m0 10h0m0 8h0m0 1h0m0 4h0m0 1h0m0 1h0m0 0h0m0 4h0m0 4h0m1-187h0m0 6h0m0 13h0m0 17h0m0 20h0m0 5h0m0 1h0m0 5h0m0 6h0m0 2h0m0 0h0m0 4h0m0 2h0m0 2h0m0 1h0m0 9h0m0 18h0m0 3h0m0 2h0m0 5h0m0 1h0m0 7h0m0 3h0m0 3h0m0 2h0m0 7h0m0 0h0m0 1h0m0 0h0m0 4h0m0 3h0m0 0h0m0 3h0m0 3h0m0 3h0m0 4h0m0 4h0m0 2h0m0 1h0m0 3h0m0 2h0m0 7h0m0 5h0m0 0h0m1-180h0m0 8h0m0 30h0m0 2h0m0 12h0m0 11h0m0 6h0m0 6h0m0 6h0m0 3h0m0 12h0m0 3h0m0 0h0m0 1h0m0 1h0m0 1h0m0 2h0m0 5h0m0 0h0m0 9h0m0 8h0m0 15h0m0 3h0m0 1h0m0 8h0m0 7h0m0 2h0m0 4h0m0 0h0m0 4h0m0 7h0m0 1h0m0 1h0m1-196h0m0 26h0m0 2h0m0 0h0m0 11h0m0 1h0m0 5h0m0 12h0m0 13h0m0 6h0m0 10h0m0 5h0m0 11h0m0 6h0m0 2h0m0 5h0m0 3h0m0 1h0m0 2h0m0 2h0m0 1h0m0 1h0m0 7h0m0 13h0m0 4h0m0 5h0m0 1h0m0 1h0m0 0h0m0 1h0m0 3h0m0 10h0m0 1h0m0 7h0m0 1h0m0 9h0m1-139h0m0 5h0m0 20h0m0 2h0m0 0h0m0 7h0m0 2h0m0 8h0m0 0h0m0 1h0m0 16h0m0 9h0m0 1h0m0 9h0m0 6h0m0 14h0m0 4h0m0 1h0m0 5h0m0 0h0m0 7h0m0 3h0m0 0h0m0 2h0m0 2h0m0 0h0m0 2h0m0 1h0m0 9h0m0 1h0m0 5h0m0 2h0m1-203h0m0 20h0m0 2h0m0 28h0m0 1h0m0 2h0m0 17h0m0 1h0m0 24h0m0 4h0m0 2h0m0 9h0m0 1h0m0 12h0m0 5h0m0 7h0m0 2h0m0 8h0m0 3h0m0 5h0m0 2h0m0 8h0m0 16h0m0 0h0m0 5h0m0 0h0m0 3h0m0 1h0m0 0h0m0 3h0m0 12h0m1-186h0m0 1h0m0 6h0m0 9h0m0 1h0m0 28h0m0 0h0m0 5h0m0 13h0m0 24h0m0 3h0m0 9h0m0 1h0m0 1h0m0 5h0m0 9h0m0 1h0m0 0h0m0 2h0m0 2h0m0 3h0m0 5h0m0 0h0m0 3h0m0 4h0m0 4h0m0 1h0m0 2h0m0 6h0m0 4h0m0 1h0m0 2h0m0 7h0m0 6h0m0 0h0m0 4h0m0 2h0m0 12h0m0 4h0m1-181h0m0 10h0m0 7h0m0 2h0m0 4h0m0 1h0m0 27h0m0 0h0m0 8h0m0 6h0m0 17h0m0 12h0m0 12h0m0 9h0m0 5h0m0 18h0m0 7h0m0 0h0m0 1h0m0 3h0m0 0h0m0 2h0m0 5h0m0 6h0m0 0h0m0 0h0m0 2h0m0 2h0m0 13h0m1-173h0m0 9h0m0 12h0m0 5h0m0 2h0m0 39h0m0 8h0m0 4h0m0 1h0m0 0h0m0 3h0m0 8h0m0 1h0m0 2h0m0 4h0m0 2h0m0 1h0m0 4h0m0 8h0m0 3h0m0 2h0m0 3h0m0 0h0m0 5h0m0 1h0m0 5h0m0 0h0m0 1h0m0 5h0m0 5h0m0 0h0m0 9h0m0 3h0m0 2h0m0 4h0m0 0h0m0 2h0m0 0h0m0 4h0m0 3h0m0 2h0m1-159h0m0 3h0m0 5h0m0 9h0m0 21h0m0 11h0m0 3h0m0 6h0m0 1h0m0 8h0m0 9h0m0 2h0m0 3h0m0 10h0m0 1h0m0 0h0m0 4h0m0 24h0m0 4h0m0 0h0m0 5h0m0 1h0m0 8h0m0 1h0m0 8h0m0 1h0m0 0h0m0 2h0m0 4h0m0 3h0m1-178h0m0 5h0m0 22h0m0 2h0m0 7h0m0 6h0m0 1h0m0 1h0m0 0h0m0 22h0m0 11h0m0 2h0m0 8h0m0 9h0m0 1h0m0 1h0m0 1h0m0 0h0m0 2h0m0 0h0m0 3h0m0 2h0m0 3h0m0 2h0m0 1h0m0 3h0m0 0h0m0 4h0m0 6h0m0 0h0m0 0h0m0 1h0m0 2h0m0 0h0m0 9h0m0 0h0m0 8h0m0 2h0m0 4h0m0 6h0m0 2h0m0 2h0m0 0h0m0 1h0m0 2h0m0 2h0m0 0h0m0 6h0m0 7h0m0 1h0m0 3h0m1-158h0m0 14h0m0 7h0m0 4h0m0 9h0m0 0h0m0 3h0m0 7h0m0 0h0m0 4h0m0 0h0m0 1h0m0 6h0m0 2h0m0 7h0m0 3h0m0 4h0m0 4h0m0 4h0m0 2h0m0 1h0m0 5h0m0 3h0m0 1h0m0 6h0m0 2h0m0 3h0m0 1h0m0 0h0m0 1h0m0 10h0m0 6h0m0 0h0m0 1h0m0 1h0m0 2h0m0 2h0m0 4h0m0 3h0m0 5h0m0 0h0m0 7h0m0 1h0m0 4h0m1-166h0m0 5h0m0 22h0m0 2h0m0 18h0m0 15h0m0 9h0m0 2h0m0 8h0m0 17h0m0 1h0m0 7h0m0 1h0m0 5h0m0 2h0m0 6h0m0 10h0m0 3h0m0 4h0m0 1h0m0 1h0m0 3h0m0 3h0m0 2h0m0 7h0m0 5h0m0 2h0m0 1h0m0 5h0m0 0h0m0 2h0m0 4h0m1-159h0m0 6h0m0 9h0m0 4h0m0 1h0m0 11h0m0 2h0m0 12h0m0 11h0m0 1h0m0 3h0m0 0h0m0 1h0m0 2h0m0 1h0m0 1h0m0 2h0m0 8h0m0 5h0m0 1h0m0 15h0m0 3h0m0 1h0m0 1h0m0 0h0m0 14h0m0 3h0m0 1h0m0 8h0m0 3h0m0 5h0m0 2h0m0 6h0m0 1h0m0 1h0m0 0h0m0 0h0m0 0h0m0 3h0m0 4h0m0 0h0m0 1h0m0 4h0m0 1h0m0 1h0m0 0h0m1-180h0m0 5h0m0 21h0m0 23h0m0 9h0m0 15h0m0 2h0m0 5h0m0 21h0m0 6h0m0 5h0m0 0h0m0 1h0m0 3h0m0 4h0m0 1h0m0 1h0m0 3h0m0 9h0m0 3h0m0 1h0m0 2h0m0 1h0m0 8h0m0 0h0m0 2h0m0 3h0m0 2h0m0 3h0m0 5h0m0 0h0m0 2h0m0 4h0m0 2h0m0 1h0m0 5h0m0 1h0m1-159h0m0 38h0m0 11h0m0 6h0m0 2h0m0 3h0m0 1h0m0 2h0m0 2h0m0 3h0m0 2h0m0 17h0m0 9h0m0 0h0m0 3h0m0 1h0m0 8h0m0 2h0m0 2h0m0 1h0m0 5h0m0 1h0m0 1h0m0 1h0m0 2h0m0 6h0m0 5h0m0 1h0m0 8h0m0 3h0m0 2h0m0 5h0m0 7h0m0 1h0m1-169h0m0 3h0m0 6h0m0 5h0m0 14h0m0 8h0m0 8h0m0 9h0m0 8h0m0 2h0m0 8h0m0 6h0m0 0h0m0 2h0m0 16h0m0 5h0m0 13h0m0 8h0m0 4h0m0 6h0m0 6h0m0 3h0m0 1h0m0 8h0m0 2h0m0 5h0m0 6h0m0 1h0m0 0h0m1-162h0m0 5h0m0 3h0m0 8h0m0 7h0m0 18h0m0 9h0m0 21h0m0 6h0m0 4h0m0 2h0m0 0h0m0 12h0m0 2h0m0 0h0m0 6h0m0 1h0m0 6h0m0 1h0m0 2h0m0 2h0m0 11h0m0 2h0m0 7h0m0 1h0m0 1h0m0 0h0m0 0h0m0 1h0m0 7h0m0 5h0m0 6h0m0 0h0m0 6h0m0 0h0m0 1h0m0 4h0m1-187h0m0 5h0m0 20h0m0 5h0m0 7h0m0 5h0m0 12h0m0 3h0m0 2h0m0 30h0m0 2h0m0 4h0m0 0h0m0 1h0m0 3h0m0 7h0m0 2h0m0 11h0m0 9h0m0 4h0m0 7h0m0 2h0m0 0h0m0 2h0m0 9h0m0 5h0m0 3h0m0 0h0m0 3h0m0 7h0m0 1h0m0 1h0m0 4h0m0 4h0m0 7h0m1-159h0m0 15h0m0 9h0m0 6h0m0 15h0m0 8h0m0 0h0m0 4h0m0 9h0m0 1h0m0 3h0m0 4h0m0 5h0m0 0h0m0 8h0m0 4h0m0 1h0m0 7h0m0 14h0m0 5h0m0 2h0m0 3h0m0 2h0m0 4h0m0 1h0m0 1h0m0 1h0m0 9h0m0 1h0m0 0h0m0 1h0m0 4h0m0 1h0m0 2h0m0 3h0m0 6h0m1-188h0m0 17h0m0 37h0m0 0h0m0 7h0m0 1h0m0 11h0m0 6h0m0 8h0m0 15h0m0 2h0m0 7h0m0 3h0m0 3h0m0 3h0m0 1h0m0 12h0m0 1h0m0 1h0m0 6h0m0 15h0m0 5h0m0 1h0m0 4h0m0 4h0m0 2h0m0 3h0m0 0h0m0 3h0m0 3h0m0 4h0m0 1h0m0 1h0m0 0h0m1-157h0m0 6h0m0 19h0m0 6h0m0 6h0m0 11h0m0 3h0m0 1h0m0 9h0m0 4h0m0 2h0m0 13h0m0 3h0m0 6h0m0 1h0m0 4h0m0 3h0m0 16h0m0 6h0m0 11h0m0 2h0m0 0h0m0 1h0m0 1h0m0 3h0m0 1h0m0 7h0m0 10h0m1-194h0m0 16h0m0 19h0m0 3h0m0 9h0m0 8h0m0 14h0m0 45h0m0 0h0m0 1h0m0 2h0m0 3h0m0 1h0m0 2h0m0 4h0m0 4h0m0 15h0m0 1h0m0 1h0m0 0h0m0 2h0m0 2h0m0 3h0m0 2h0m0 2h0m0 6h0m0 6h0m0 0h0m0 8h0m0 2h0m0 0h0m0 3h0m0 0h0m0 6h0m0 8h0m1-178h0m0 2h0m0 2h0m0 10h0m0 20h0m0 2h0m0 4h0m0 13h0m0 5h0m0 2h0m0 3h0m0 10h0m0 6h0m0 1h0m0 4h0m0 11h0m0 8h0m0 11h0m0 1h0m0 17h0m0 4h0m0 1h0m0 0h0m0 2h0m0 1h0m0 0h0m0 1h0m0 1h0m0 6h0m0 0h0m0 1h0m0 1h0m0 4h0m0 2h0m0 3h0m0 10h0m0 1h0m1-172h0m0 11h0m0 2h0m0 13h0m0 7h0m0 1h0m0 5h0m0 0h0m0 5h0m0 6h0m0 4h0m0 22h0m0 20h0m0 2h0m0 11h0m0 9h0m0 2h0m0 4h0m0 2h0m0 5h0m0 5h0m0 10h0m0 1h0m0 2h0m0 1h0m0 2h0m0 4h0m0 0h0m0 3h0m0 7h0m0 1h0m0 1h0m0 1h0m0 2h0m0 5h0m0 4h0m1-216h0m0 53h0m0 17h0m0 6h0m0 26h0m0 9h0m0 8h0m0 13h0m0 10h0m0 2h0m0 2h0m0 8h0m0 8h0m0 3h0m0 6h0m0 6h0m0 0h0m0 4h0m0 1h0m0 13h0m0 1h0m0 4h0m0 4h0m0 1h0m0 2h0m0 7h0m1-211h0m0 58h0m0 9h0m0 1h0m0 14h0m0 7h0m0 7h0m0 6h0m0 10h0m0 10h0m0 9h0m0 2h0m0 13h0m0 4h0m0 4h0m0 0h0m0 13h0m0 3h0m0 2h0m0 2h0m0 1h0m0 0h0m0 1h0m0 1h0m0 5h0m0 1h0m0 2h0m0 2h0m0 1h0m0 1h0m0 0h0m0 1h0m0 4h0m0 3h0m0 3h0m0 5h0m0 0h0m0 3h0m0 2h0m1-178h0m0 23h0m0 11h0m0 4h0m0 10h0m0 8h0m0 23h0m0 9h0m0 2h0m0 0h0m0 8h0m0 3h0m0 13h0m0 10h0m0 2h0m0 13h0m0 1h0m0 3h0m0 1h0m0 3h0m0 1h0m0 1h0m0 0h0m0 6h0m0 8h0m0 4h0m0 6h0m0 3h0m0 3h0m0 0h0m1-152h0m0 15h0m0 0h0m0 4h0m0 11h0m0 1h0m0 18h0m0 13h0m0 23h0m0 8h0m0 5h0m0 1h0m0 5h0m0 14h0m0 2h0m0 1h0m0 2h0m0 0h0m0 0h0m0 3h0m0 0h0m0 2h0m0 1h0m0 8h0m0 1h0m0 3h0m0 0h0m0 1h0m0 5h0m0 3h0m0 3h0m1-190h0m0 14h0m0 13h0m0 1h0m0 2h0m0 8h0m0 1h0m0 17h0m0 1h0m0 5h0m0 39h0m0 13h0m0 13h0m0 2h0m0 23h0m0 0h0m0 0h0m0 3h0m0 1h0m0 9h0m0 3h0m0 6h0m0 0h0m0 4h0m0 1h0m0 0h0m0 0h0m0 1h0m0 5h0m0 1h0m1-175h0m0 4h0m0 2h0m0 2h0m0 13h0m0 23h0m0 4h0m0 7h0m0 2h0m0 4h0m0 2h0m0 18h0m0 8h0m0 7h0m0 5h0m0 0h0m0 7h0m0 2h0m0 5h0m0 18h0m0 5h0m0 6h0m0 1h0m0 4h0m0 3h0m0 15h0m0 0h0m0 2h0m0 2h0m0 1h0m0 8h0m1-177h0m0 8h0m0 20h0m0 3h0m0 8h0m0 27h0m0 13h0m0 0h0m0 1h0m0 7h0m0 7h0m0 11h0m0 4h0m0 4h0m0 12h0m0 10h0m0 8h0m0 9h0m0 4h0m0 1h0m0 3h0m0 3h0m0 0h0m0 6h0m0 2h0m0 1h0m0 2h0m0 1h0m1-205h0m0 54h0m0 3h0m0 1h0m0 7h0m0 9h0m0 13h0m0 7h0m0 1h0m0 6h0m0 4h0m0 6h0m0 6h0m0 3h0m0 3h0m0 2h0m0 7h0m0 3h0m0 2h0m0 19h0m0 0h0m0 0h0m0 2h0m0 5h0m0 1h0m0 3h0m0 20h0m0 2h0m0 4h0m0 0h0m0 2h0m0 2h0m0 5h0m0 0h0m0 1h0m0 1h0m1-193h0m0 17h0m0 42h0m0 6h0m0 9h0m0 6h0m0 8h0m0 0h0m0 1h0m0 30h0m0 5h0m0 13h0m0 3h0m0 6h0m0 5h0m0 3h0m0 4h0m0 1h0m0 5h0m0 2h0m0 4h0m0 0h0m0 3h0m0 1h0m0 2h0m0 4h0m0 1h0m0 6h0m0 2h0m0 1h0m0 4h0m0 2h0m1-200h0m0 14h0m0 40h0m0 15h0m0 0h0m0 2h0m0 1h0m0 2h0m0 4h0m0 20h0m0 4h0m0 7h0m0 3h0m0 7h0m0 2h0m0 11h0m0 1h0m0 1h0m0 1h0m0 13h0m0 5h0m0 6h0m0 1h0m0 1h0m0 1h0m0 6h0m0 5h0m0 1h0m0 4h0m0 4h0m0 7h0m0 2h0m0 2h0m0 6h0m1-185h0m0 33h0m0 1h0m0 4h0m0 4h0m0 6h0m0 17h0m0 26h0m0 2h0m0 13h0m0 8h0m0 6h0m0 2h0m0 3h0m0 9h0m0 4h0m0 1h0m0 4h0m0 4h0m0 2h0m0 1h0m0 3h0m0 1h0m0 7h0m0 4h0m0 1h0m0 4h0m0 1h0m0 0h0m0 3h0m0 0h0m0 3h0m0 7h0m0 1h0m1-177h0m0 5h0m0 8h0m0 13h0m0 13h0m0 13h0m0 18h0m0 2h0m0 2h0m0 4h0m0 5h0m0 3h0m0 2h0m0 5h0m0 3h0m0 0h0m0 15h0m0 1h0m0 1h0m0 3h0m0 6h0m0 2h0m0 2h0m0 1h0m0 8h0m0 3h0m0 7h0m0 0h0m0 3h0m0 1h0m0 0h0m0 3h0m0 0h0m0 1h0m0 1h0m0 2h0m0 2h0m0 4h0m0 9h0m0 2h0m0 3h0m0 0h0m0 1h0m0 1h0m1-138h0m0 5h0m0 14h0m0 7h0m0 5h0m0 0h0m0 4h0m0 8h0m0 4h0m0 0h0m0 10h0m0 3h0m0 7h0m0 2h0m0 5h0m0 9h0m0 11h0m0 1h0m0 4h0m0 4h0m0 8h0m0 11h0m0 7h0m0 0h0m0 1h0m1-132h0m0 1h0m0 17h0m0 14h0m0 6h0m0 3h0m0 8h0m0 0h0m0 11h0m0 1h0m0 10h0m0 4h0m0 4h0m0 3h0m0 1h0m0 3h0m0 0h0m0 2h0m0 4h0m0 3h0m0 7h0m0 4h0m0 2h0m0 0h0m0 1h0m0 2h0m0 4h0m0 8h0m0 1h0m0 1h0m0 7h0m0 2h0m0 1h0m1-152h0m0 5h0m0 16h0m0 3h0m0 4h0m0 1h0m0 15h0m0 10h0m0 3h0m0 4h0m0 10h0m0 0h0m0 4h0m0 22h0m0 14h0m0 4h0m0 0h0m0 2h0m0 2h0m0 0h0m0 0h0m0 4h0m0 3h0m0 3h0m0 5h0m0 0h0m0 2h0m0 5h0m0 2h0m0 1h0m0 3h0m0 5h0m0 0h0m1-196h0m0 19h0m0 78h0m0 4h0m0 7h0m0 3h0m0 10h0m0 0h0m0 8h0m0 6h0m0 4h0m0 1h0m0 3h0m0 12h0m0 5h0m0 0h0m0 4h0m0 7h0m0 8h0m0 2h0m0 2h0m0 2h0m0 0h0m0 6h0m0 2h0m0 1h0m0 0h0m0 4h0m1-177h0m0 9h0m0 9h0m0 2h0m0 1h0m0 6h0m0 14h0m0 10h0m0 12h0m0 4h0m0 3h0m0 21h0m0 19h0m0 2h0m0 6h0m0 5h0m0 16h0m0 6h0m0 3h0m0 7h0m0 2h0m0 0h0m0 3h0m0 1h0m0 1h0m0 0h0m0 3h0m0 5h0m0 2h0m0 6h0m0 2h0m1-157h0m0 31h0m0 10h0m0 18h0m0 1h0m0 0h0m0 6h0m0 5h0m0 4h0m0 0h0m0 10h0m0 24h0m0 4h0m0 0h0m0 1h0m0 0h0m0 7h0m0 5h0m0 2h0m0 2h0m0 2h0m0 1h0m0 1h0m0 0h0m0 1h0m0 5h0m0 5h0m0 0h0m0 11h0m1-167h0m0 17h0m0 3h0m0 4h0m0 8h0m0 4h0m0 10h0m0 12h0m0 6h0m0 6h0m0 3h0m0 17h0m0 43h0m0 2h0m0 6h0m0 0h0m0 2h0m0 1h0m0 4h0m0 0h0m0 6h0m0 2h0m0 5h0m0 6h0m1-185h0m0 15h0m0 8h0m0 34h0m0 17h0m0 17h0m0 1h0m0 5h0m0 2h0m0 5h0m0 4h0m0 13h0m0 3h0m0 9h0m0 1h0m0 0h0m0 7h0m0 2h0m0 4h0m0 6h0m0 2h0m0 4h0m0 0h0m0 1h0m0 0h0m0 2h0m0 1h0m0 1h0m0 5h0m0 3h0m0 2h0m0 1h0m0 0h0m0 1h0m0 1h0m0 2h0m0 2h0m0 2h0m0 3h0m1-172h0m0 1h0m0 25h0m0 18h0m0 25h0m0 5h0m0 6h0m0 27h0m0 3h0m0 5h0m0 6h0m0 4h0m0 1h0m0 5h0m0 4h0m0 5h0m0 1h0m0 10h0m0 2h0m0 2h0m0 2h0m0 3h0m0 5h0m1-164h0m0 10h0m0 28h0m0 8h0m0 21h0m0 12h0m0 5h0m0 21h0m0 7h0m0 0h0m0 9h0m0 9h0m0 7h0m0 1h0m0 3h0m0 0h0m0 2h0m0 2h0m0 2h0m0 2h0m0 1h0m0 9h0m0 1h0m0 3h0m0 1h0m0 0h0m0 1h0m0 2h0m0 2h0m1-193h0m0 55h0m0 23h0m0 37h0m0 1h0m0 4h0m0 5h0m0 22h0m0 2h0m0 5h0m0 0h0m0 0h0m0 2h0m0 5h0m0 5h0m0 0h0m0 1h0m0 0h0m0 1h0m0 2h0m0 5h0m0 3h0m0 2h0m0 1h0m0 10h0m0 3h0m1-184h0m0 14h0m0 1h0m0 2h0m0 6h0m0 48h0m0 30h0m0 5h0m0 17h0m0 3h0m0 3h0m0 1h0m0 1h0m0 0h0m0 1h0m0 20h0m0 0h0m0 0h0m0 1h0m0 0h0m0 3h0m0 1h0m0 3h0m0 5h0m0 3h0m0 9h0m0 6h0m1-138h0m0 1h0m0 14h0m0 10h0m0 4h0m0 16h0m0 4h0m0 11h0m0 9h0m0 12h0m0 6h0m0 0h0m0 3h0m0 6h0m0 5h0m0 4h0m0 2h0m0 3h0m0 1h0m0 2h0m0 1h0m0 1h0m0 8h0m0 3h0m0 3h0m1-164h0m0 3h0m0 44h0m0 11h0m0 6h0m0 41h0m0 3h0m0 4h0m0 1h0m0 9h0m0 6h0m0 3h0m0 2h0m0 2h0m0 1h0m0 2h0m0 17h0m0 9h0m0 2h0m0 3h0m0 2h0m0 1h0m0 1h0m1-170h0m0 26h0m0 20h0m0 23h0m0 5h0m0 42h0m0 9h0m0 5h0m0 0h0m0 1h0m0 6h0m0 1h0m0 8h0m0 1h0m0 2h0m0 4h0m0 1h0m0 4h0m0 4h0m1-151h0m0 6h0m0 9h0m0 1h0m0 51h0m0 7h0m0 2h0m0 1h0m0 42h0m0 1h0m0 3h0m0 5h0m0 1h0m0 9h0m0 3h0m0 2h0m0 8h0m0 2h0m0 2h0m0 3h0m0 0h0m0 1h0m1-114h0m0 13h0m0 3h0m0 7h0m0 9h0m0 2h0m0 3h0m0 5h0m0 6h0m0 24h0m0 3h0m0 1h0m0 1h0m0 0h0m0 4h0m0 0h0m0 2h0m0 1h0m0 8h0m0 1h0m0 5h0m0 1h0m0 0h0m0 3h0m0 1h0m0 3h0m1-170h0m0 89h0m0 10h0m0 4h0m0 2h0m0 0h0m0 15h0m0 12h0m0 9h0m0 2h0m0 7h0m0 1h0m0 2h0m0 1h0m0 2h0m0 2h0m0 8h0m0 0h0m0 7h0m0 6h0m1-190h0m0 14h0m0 8h0m0 23h0m0 12h0m0 2h0m0 12h0m0 1h0m0 20h0m0 0h0m0 19h0m0 11h0m0 6h0m0 6h0m0 15h0m0 3h0m0 3h0m0 5h0m0 0h0m0 2h0m0 2h0m0 0h0m0 3h0m0 1h0m0 2h0m0 3h0m0 2h0m0 1h0m0 4h0m0 2h0m0 2h0m0 2h0m0 1h0m1-186h0m0 33h0m0 20h0m0 5h0m0 6h0m0 11h0m0 28h0m0 5h0m0 10h0m0 1h0m0 10h0m0 11h0m0 2h0m0 1h0m0 1h0m0 1h0m0 7h0m0 5h0m0 6h0m0 9h0m0 3h0m0 5h0m1-173h0m0 32h0m0 16h0m0 14h0m0 34h0m0 3h0m0 3h0m0 1h0m0 7h0m0 1h0m0 1h0m0 11h0m0 13h0m0 14h0m0 1h0m0 1h0m0 1h0m0 3h0m0 0h0m0 7h0m0 9h0m0 6h0m0 1h0m0 0h0m0 1h0m0 2h0m1-183h0m0 2h0m0 3h0m0 7h0m0 63h0m0 2h0m0 15h0m0 10h0m0 1h0m0 0h0m0 15h0m0 8h0m0 1h0m0 1h0m0 7h0m0 1h0m0 11h0m0 5h0m0 4h0m0 1h0m0 1h0m0 9h0m0 0h0m0 8h0m0 0h0m0 3h0m0 1h0m0 1h0m0 3h0m1-187h0m0 49h0m0 17h0m0 0h0m0 1h0m0 5h0m0 24h0m0 8h0m0 7h0m0 1h0m0 2h0m0 4h0m0 1h0m0 5h0m0 2h0m0 5h0m0 6h0m0 2h0m0 2h0m0 6h0m0 4h0m0 1h0m0 4h0m0 7h0m0 3h0m0 9h0m0 0h0m0 1h0m0 0h0m0 8h0m0 2h0m0 1h0m1-167h0m0 8h0m0 19h0m0 12h0m0 1h0m0 12h0m0 40h0m0 2h0m0 7h0m0 4h0m0 9h0m0 0h0m0 11h0m0 2h0m0 1h0m0 3h0m0 1h0m0 4h0m0 3h0m0 3h0m0 3h0m0 10h0m0 5h0m0 2h0m1-170h0m0 8h0m0 0h0m0 14h0m0 11h0m0 10h0m0 3h0m0 6h0m0 5h0m0 2h0m0 8h0m0 31h0m0 16h0m0 3h0m0 6h0m0 14h0m0 0h0m0 1h0m0 6h0m0 1h0m0 21h0m0 4h0m0 1h0m0 4h0m0 0h0m1-182h0m0 32h0m0 10h0m0 6h0m0 6h0m0 9h0m0 14h0m0 0h0m0 12h0m0 14h0m0 1h0m0 9h0m0 5h0m0 2h0m0 3h0m0 3h0m0 1h0m0 3h0m0 3h0m0 3h0m0 16h0m0 1h0m0 10h0m0 1h0m0 5h0m0 0h0m0 14h0m1-150h0m0 1h0m0 12h0m0 0h0m0 7h0m0 19h0m0 2h0m0 21h0m0 10h0m0 0h0m0 22h0m0 2h0m0 5h0m1-144h0m0 28h0m0 25h0m0 6h0m0 0h0m0 28h0m0 2h0m0 14h0m0 2h0m0 11h0m0 18h0m0 2h0m0 4h0m1-104h0m0 5h0m0 22h0m0 5h0m0 4h0m0 7h0m0 11h0m0 4h0m0 5h0m0 7h0m0 20h0m0 0h0m0 11h0m1-143h0m0 18h0m0 30h0m0 14h0m0 5h0m0 1h0m0 1h0m0 0h0m0 8h0m0 27h0m0 0h0m0 20h0m0 7h0m0 0h0m0 11h0m0 3h0m0 1h0m0 2h0m0 1h0m1-131h0m0 25h0m0 3h0m0 2h0m0 10h0m0 2h0m0 6h0m0 12h0m0 4h0m0 0h0m0 3h0m0 16h0m0 2h0m0 8h0m0 0h0m0 13h0m0 8h0m0 2h0m0 3h0m0 2h0m1-95h0m0 21h0m0 8h0m0 4h0m0 7h0m0 1h0m0 4h0m0 1h0m0 31h0m0 12h0m1-87h0m0 8h0m0 6h0m0 11h0m0 0h0m0 22h0m0 11h0m0 12h0m0 7h0m0 2h0m0 20h0m1-112h0m0 3h0m0 27h0m0 15h0m0 6h0m0 1h0m0 1h0m0 5h0m0 6h0m0 4h0m0 8h0m0 10h0m0 3h0m0 1h0m0 2h0m0 9h0m0 5h0m0 2h0m0 2h0m1-107h0m0 5h0m0 7h0m0 13h0m0 0h0m0 2h0m0 8h0m0 20h0m0 14h0m0 13h0m0 15h0m0 5h0m0 2h0m0 1h0m0 2h0m1-111h0m0 26h0m0 8h0m0 11h0m0 8h0m0 1h0m0 4h0m0 3h0m0 0h0m0 8h0m0 3h0m0 6h0m0 0h0m0 18h0m0 5h0m0 1h0m0 1h0m0 6h0m1-139h0m0 22h0m0 13h0m0 0h0m0 17h0m0 10h0m0 6h0m0 1h0m0 13h0m0 0h0m0 20h0m0 1h0m0 23h0m0 1h0m0 7h0m0 1h0m1-109h0m0 14h0m0 7h0m0 2h0m0 2h0m0 22h0m0 5h0m0 2h0m0 0h0m0 7h0m0 17h0m0 6h0m0 1h0m0 5h0m0 2h0m0 4h0m0 1h0m0 4h0m0 8h0m1-107h0m0 1h0m0 28h0m0 2h0m0 8h0m0 1h0m0 9h0m0 8h0m0 7h0m0 2h0m0 12h0m0 12h0m0 4h0m0 12h0m1-103h0m0 33h0m0 7h0m0 8h0m0 10h0m0 11h0m0 2h0m0 7h0m0 0h0m0 4h0m0 1h0m0 1h0m0 11h0m0 3h0m1-92h0m0 12h0m0 4h0m0 1h0m0 4h0m0 3h0m0 5h0m0 9h0m0 2h0m0 1h0m0 5h0m0 1h0m0 10h0m0 1h0m0 6h0m0 12h0m0 2h0m0 6h0m0 1h0m0 1h0m0 11h0m1-121h0m0 28h0m0 11h0m0 4h0m0 9h0m0 8h0m0 8h0m0 10h0m0 1h0m0 3h0m0 6h0m0 3h0m0 10h0m0 13h0m0 0h0m0 1h0m0 1h0m1-88h0m0 2h0m0 24h0m0 32h0m0 0h0m0 1h0m0 8h0m0 0h0m0 1h0m0 1h0m0 8h0m0 2h0m0 4h0m1-94h0m0 27h0m0 26h0m0 6h0m0 4h0m0 3h0m0 5h0m0 4h0m0 6h0m0 1h0m0 5h0m0 1h0m0 2h0m0 1h0m0 1h0m0 7h0m1-99h0m0 0h0m0 4h0m0 4h0m0 3h0m0 3h0m0 10h0m0 4h0m0 2h0m0 3h0m0 1h0m0 12h0m0 46h0m0 3h0m1-100h0m0 4h0m0 5h0m0 0h0m0 10h0m0 2h0m0 2h0m0 4h0m0 6h0m0 0h0m0 2h0m0 14h0m0 4h0m0 5h0m0 8h0m0 3h0m0 4h0m0 0h0m0 4h0m0 12h0m1-74h0m0 14h0m0 24h0m0 2h0m0 6h0m0 12h0m0 2h0m0 4h0m0 2h0m0 0h0m0 7h0m1-91h0m0 12h0m0 4h0m0 36h0m0 10h0m0 4h0m0 7h0m0 10h0m1-95h0m0 9h0m0 20h0m1-45h0m0 22h0m0 19h0m0 1h0m0 2h0m1-32h0m0 28h0m0 4h0m0 3h0m0 0h0m1-10h0m0 6h0m0 3h0m1-21h0m0 4h0m0 5h0m1-11h0m1-22h0m0 37h0m0 2h0m0 2h0m2-35h0m0 24h0m0 1h0m0 8h0m1-26h0m0 14h0m0 4h0m1-15h0m1-14h0m0 27h0m0 5h0m0 2h0m1-35h0m0 24h0m1-2h0m0 2h0m0 10h0m1-8h0m0 5h0m0 1h0m0 3h0m1-2h0m1-11h0m0 5h0m0 2h0m0 3h0m1-41h0m1 28h0m0 0h0m0 5h0m0 9h0m1-26h0m0 20h0m1 0h0m1 1h0m0 1h0m2-11h0m0 7h0m2-6h0m0 1h0m1 4h0m0 4h0m0 2h0m0 1h0m1-7h0m1-9h0m0 8h0m1-25h0m0 27h0m2-20h0m0 13h0m0 7h0m0 1h0m0 1h0m1 0h0m1-17h0m0 5h0m1 5h0m0 4h0m0 5h0m2-18h0m0 15h0m1-29h0m0 25h0m0 6h0m1-6h0m0 4h0m1-12h0m0 2h0m0 5h0m0 7h0m1-33h0m0 25h0m0 4h0m1-9h0m0 4h0m0 6h0m0 1h0m0 3h0m1-6h0m1 5h0m1-15h0m1-8h0m1-6h0m0 4h0m0 7h0m0 6h0m0 1h0m0 3h0m0 3h0m0 3h0m0 0h0m0 1h0m1-6h0m0 2h0m0 0h0m0 4h0m1-13h0m0 13h0m1-4h0m0 4h0m1-6h0m0 0h0m0 6h0m0 0h0m1-28h0m1 25h0m1-25h0m0 21h0m0 1h0m0 5h0m1-18h0m0 19h0m1-10h0m0 3h0m1-2h0m0 2h0m0 3h0m1-1h0m0 1h0m0 3h0m1-17h0m1-7h0m0 7h0m0 12h0m0 2h0m1-19h0m0 17h0m0 2h0m2-18h0m0 13h0m0 1h0m0 0h0m0 4h0m0 3h0m1-8h0m0 1h0m1-2h0m1 3h0m0 5h0m1-5h0m1 5h0m1-32h0m0 23h0m0 1h0m0 2h0m0 2h0m1-15h0m0 2h0m0 2h0m0 2h0m0 0h0m0 10h0m1-25h0m0 17h0m1-10h0m0 8h0m0 5h0m0 2h0m0 4h0m1-51h0m0 38h0m0 5h0m1 6h0m1-17h0m0 7h0m0 12h0m0 1h0m1-38h0m0 9h0m0 8h0m0 0h0m0 9h0m1 6h0m0 6h0m1-32h0m0 27h0m0 3h0m1-20h0m0 20h0m0 1h0m1-6h0m0 1h0m1-1h0m0 6h0m1-28h0m0 16h0m0 2h0m0 4h0m0 3h0m0 4h0m1-15h0m1 12h0m1-2h0m0 0h0m0 4h0m1-13h0m0 1h0m0 2h0m0 9h0m1-9h0m0 3h0m0 7h0m1-14h0m0 8h0m1-5h0m1-12h0m0 6h0m0 15h0m1-21h0m0 22h0m1-21h0m0 10h0m1 12h0m1-2h0m1-9h0m0 0h0m0 11h0m1-27h0m0 14h0m1 11h0m1-5h0m1-2h0m0 7h0m1-45h0m0 45h0m1-6h0m0 3h0m0 5h0m1-17h0m0 7h0m0 3h0m0 0h0m1-23h0m0 24h0m2-4h0m1 8h0m1-16h0m0 6h0m0 5h0m0 7h0m1-1h0m1-14h0m0 8h0m0 6h0m1-23h0m0 20h0m0 4h0m0 0h0m2-8h0m0 7h0m1-38h0m0 37h0m1-13h0m0 9h0m0 4h0m1-39h0m0 34h0m0 4h0m1-12h0m0 13h0m1-11h0m0 7h0m0 1h0m0 0h0m0 5h0m1-15h0m0 2h0m0 1h0m0 1h0m0 5h0m1-9h0m0 4h0m0 4h0m0 4h0m1-2h0m1-2h0m0 3h0m1-17h0m0 14h0m0 5h0m1-7h0m1 6h0m1-20h0m0 15h0m0 6h0m0 1h0m0 1h0m1-35h0m0 25h0m0 4h0m0 0h0m1-6h0m0 12h0m1-8h0m1-47h0m0 51h0m1-4h0m0 6h0m1-37h0m0 9h0m0 28h0m1-6h0m0 2h0m0 1h0m1-13h0m0 1h0m0 2h0m0 10h0m0 0h0m0 2h0m1-2h0m1-14h0m0 10h0m1-25h0m0 32h0m1 1h0m1-18h0m0 7h0m0 6h0m0 2h0m1-10h0m0 10h0m0 1h0m0 0h0m1-13h0m1-11h0m0 23h0m0 1h0m1 1h0m0 0h0m1-19h0m0 12h0m0 6h0m1-2h0m1-8h0m0 2h0m0 4h0m0 5h0m1-31h0m0 11h0m0 11h0m0 5h0m0 2h0m0 3h0m1-22h0m0 6h0m0 12h0m0 1h0m0 0h0m1-14h0m0 0h0m0 2h0m0 5h0m1-8h0m0 15h0m0 1h0m1-21h0m0 15h0m1-5h0m0 4h0m0 1h0m0 4h0m1 2h0m1-16h0m0 9h0m0 3h0m1-16h0m0 13h0m0 8h0m1-34h0m0 19h0m0 12h0m1-31h0m0 33h0m1-24h0m0 18h0m0 3h0m0 2h0m1-6h0m0 4h0m0 1h0m0 1h0m1-5h0m1-15h0m1 7h0m0 8h0m0 3h0m0 2h0m0 2h0m1-21h0m0 4h0m0 3h0m0 11h0m0 1h0m1-17h0m0 6h0m0 12h0m1-4h0m0 4h0m1-9h0m0 1h0m0 6h0m1-18h0m0 6h0m1-11h0m0 10h0m0 3h0m0 5h0m0 2h0m0 3h0m1-6h0m2-12h0m0 8h0m1-4h0m0 11h0m0 4h0m1-14h0m0 4h0m0 3h0m1-11h0m0 10h0m1 4h0m1-24h0m0 9h0m0 17h0m1-3h0m1-36h0m0 17h0m0 5h0m0 3h0m1-12h0m0 16h0m1 4h0m0 3h0m0 4h0m1-7h0m0 5h0m0 1h0m1-22h0m0 16h0m0 4h0m0 5h0m1-17h0m1 7h0m0 1h0m0 6h0m0 3h0m1-12h0m0 9h0m1-26h0m0 28h0m1-13h0m0 3h0m0 2h0m1-22h0m2 14h0m0 2h0m0 13h0m0 1h0m1-38h0m0 12h0m0 19h0m0 4h0m0 1h0m1-14h0m0 3h0m2 10h0m1-4h0m0 1h0m0 7h0m1-24h0m0 5h0m1 11h0m0 3h0m1 1h0m0 1h0m0 1h0m1-15h0m0 10h0m0 0h0m0 0h0m0 4h0m1-17h0m0 15h0m0 3h0m1-31h0m0 20h0m0 1h0m0 3h0m0 5h0m1-15h0m0 6h0m1-3h0m0 10h0m0 2h0m0 3h0m1-17h0m0 7h0m0 1h0m0 1h0m0 5h0m1-11h0m0 3h0m2-5h0m0 4h0m0 3h0m0 8h0m0 0h0m1-8h0m0 3h0m0 1h0m0 0h0m0 2h0m1-14h0m0 15h0m1-6h0m0 2h0m1-16h0m0 19h0m0 2h0m1-30h0m0 11h0m0 10h0m0 2h0m0 5h0m1-9h0m0 2h0m0 1h0m1 9h0m1-26h0m0 6h0m0 4h0m0 6h0m0 9h0m1-23h0m0 4h0m0 1h0m0 13h0m0 1h0m1-12h0m0 9h0m1-26h0m0 26h0m0 6h0m1-10h0m0 6h0m0 2h0m0 3h0m1-27h0m0 14h0m0 1h0m0 4h0m0 4h0m0 3h0m0 1h0m1-10h0m0 2h0m0 2h0m0 1h0m0 3h0m1-9h0m1-9h0m0 9h0m0 0h0m0 10h0m1-32h0m1 28h0m1-1h0m0 6h0m0 1h0m1-13h0m0 1h0m0 1h0m0 0h0m0 5h0m0 1h0m0 4h0m1-17h0m0 16h0m0 1h0m1-13h0m0 4h0m0 0h0m0 3h0m0 5h0m1-44h0m0 28h0m0 13h0m1-17h0m0 12h0m0 7h0m1-7h0m0 3h0m1-6h0m0 2h0m2-3h0m1-16h0m0 21h0m1-20h0m0 8h0m0 7h0m0 10h0m1-15h0m0 14h0m0 1h0m0 0h0m1-8h0m0 5h0m0 0h0m1-14h0m0 8h0m0 5h0m0 4h0m1-10h0m0 3h0m0 8h0m1-3h0m1-3h0m0 2h0m2-25h0m0 21h0m0 5h0m0 3h0m1-22h0m0 21h0m1-26h0m0 5h0m0 23h0m2-20h0m0 3h0m0 17h0m0 0h0m1-18h0m0 0h0m1 5h0m0 2h0m0 3h0m0 2h0m0 4h0m1-28h0m0 27h0m0 2h0m1-5h0m0 2h0m1-13h0m0 6h0m0 0h0m0 3h0m0 8h0m1-11h0m1-17h0m0 18h0m0 5h0m1-15h0m0 13h0m1-2h0m0 0h0m0 0h0m0 5h0m1-9h0m0 7h0m1-5h0m0 4h0m1-7h0m0 5h0m0 5h0m0 4h0m0 0h0m1-17h0m0 13h0m0 1h0m0 2h0m0 1h0m1-9h0m1-26h0m0 24h0m2-5h0m0 12h0m1-19h0m0 11h0m0 6h0m1-14h0m0 16h0m1-9h0m0 7h0m2-8h0m0 4h0m0 1h0m0 4h0m0 1h0m0 1h0m1-21h0m0 1h0m2 11h0m0 6h0m1-9h0m0 6h0m0 4h0m1-39h0m0 25h0m1-9h0m0 10h0m0 9h0m0 7h0m1-27h0m0 6h0m0 16h0m0 6h0m1-17h0m0 14h0m1-5h0m0 1h0m1-9h0m0 9h0m0 2h0m1-23h0m0 9h0m0 0h0m1-1h0m0 5h0m0 9h0m0 0h0m0 4h0m1-6h0m1 1h0m0 1h0m1-24h0m1 15h0m0 7h0m0 2h0m0 3h0m0 1h0m1-41h0m1 21h0m0 14h0m0 1h0m0 0h0m0 6h0m1-15h0m0 4h0m0 8h0m1 2h0m0 0h0m1-8h0m0 8h0m1-36h0m0 21h0m0 4h0m0 3h0m0 6h0m1-16h0m0 10h0m0 2h0m1 5h0m0 1h0m1-10h0m0 4h0m1-20h0m0 15h0m1-11h0m0 11h0m0 6h0m0 2h0m1 2h0m1-20h0m0 1h0m0 1h0m1 14h0m1-31h0m0 32h0m2-9h0m0 9h0m0 3h0m0 1h0m1-19h0m0 3h0m0 9h0m1-11h0m0 1h0m0 16h0m1-34h0m0 33h0m1-14h0m1-1h0m0 6h0m0 1h0m0 7h0m0 1h0m1-21h0m0 10h0m0 1h0m1-3h0m0 3h0m0 9h0m1 2h0m1-27h0m0 23h0m1 1h0m0 2h0m0 0h0m1-35h0m0 11h0m0 10h0m0 6h0m0 2h0m1-27h0m1 11h0m0 14h0m0 6h0m0 1h0m0 0h0m1-12h0m0 9h0m0 3h0m1-4h0m0 4h0m0 1h0m0 1h0m1-5h0m0 4h0m1-9h0m0 8h0m1-18h0m0 4h0m0 14h0m1-24h0m0 25h0m1-2h0m1-35h0m0 15h0m0 11h0m0 5h0m1-9h0m0 4h0m1-3h0m1 2h0m1-7h0m0 5h0m0 6h0m0 2h0m0 3h0m1-15h0m0 14h0m0 0h0m1-3h0m1-18h0m0 22h0m0 2h0m1-8h0m1 0h0m0 4h0m0 3h0m1-8h0m0 9h0m0 0h0m1-26h0m1 18h0m0 7h0m1-2h0m0 0h0m0 2h0m1-16h0m0 4h0m0 5h0m0 4h0m1-11h0m1-4h0m0 1h0m0 16h0m0 3h0m1-15h0m0 7h0m0 7h0m0 0h0m1-15h0m0 15h0m1-15h0m0 13h0m0 2h0m1-12h0m0 3h0m0 1h0m0 4h0m0 1h0m0 3h0m1-21h0m0 7h0m0 7h0m0 0h0m0 7h0m1-19h0m0 16h0m1-33h0m0 17h0m0 18h0m0 1h0m0 1h0m1-16h0m1-2h0m0 0h0m1-25h0m0 30h0m0 10h0m1-16h0m0 2h0m0 0h0m0 4h0m1-22h0m0 12h0m1-17h0m0 37h0m0 1h0m1-6h0m0 6h0m1-13h0m0 6h0m0 2h0m0 2h0m1-4h0m0 4h0m0 2h0m0 1h0m1-28h0m0 20h0m1-14h0m1 10h0m0 2h0m0 0h0m0 4h0m0 2h0m0 3h0m1-6h0m2-4h0m1 8h0m0 4h0m1-54h0m0 42h0m0 12h0m1-23h0m0 14h0m1-4h0m0 10h0m1-9h0m0 4h0m1 1h0m0 3h0m1 3h0m1-5h0m0 0h0m1-21h0m0 3h0m0 20h0m1-16h0m0 15h0m0 3h0m0 1h0m1-16h0m0 12h0m0 0h0m1-19h0m0 13h0m0 6h0m0 1h0m1-12h0m0 5h0m0 9h0m1-24h0m0 21h0m1-5h0m0 0h0m0 2h0m0 3h0m0 4h0m1-10h0m0 2h0m0 2h0m0 6h0m1-5h0m0 0h0m0 3h0m0 1h0m1-4h0m0 2h0m0 0h0m1-37h0m0 34h0m0 6h0m1-41h0m0 20h0m0 2h0m0 10h0m0 0h0m0 4h0m0 3h0m0 1h0m1-8h0m0 4h0m0 1h0m1-13h0m0 2h0m1-3h0m0 5h0m0 6h0m0 2h0m1-39h0m0 39h0m1-16h0m0 14h0m0 3h0m1-3h0m0 6h0m1-7h0m0 3h0m0 1h0m1-11h0m0 10h0m1-5h0m0 8h0m2-3h0m1-9h0m1 14h0m1 0h0m1-18h0m0 18h0m2-7h0m1-17h0m0 20h0m0 0h0m0 3h0m1-9h0m1-1h0m0 0h0m0 1h0m0 7h0m0 3h0m1-15h0m0 7h0m0 2h0m0 2h0m1-24h0m0 6h0m0 12h0m0 7h0m2-10h0m0 9h0m0 1h0m0 0h0m1-18h0m0 13h0m1-2h0m2-12h0m0 9h0m0 4h0m0 2h0m1-18h0m0 18h0m1-14h0m0 6h0m1-5h0m0 17h0m1-18h0m0 18h0m2-28h0m1 30h0m1-8h0m0 2h0m0 3h0m1-13h0m2 16h0m1-23h0m0 15h0m0 6h0m1 2h0m1-10h0m0 3h0m0 7h0m1-44h0m0 23h0m0 14h0m0 1h0m0 4h0m0 2h0m1-19h0m1 11h0m0 3h0m1-17h0m0 15h0m1-28h0m0 25h0m0 6h0m1-6h0m0 4h0m0 4h0m0 2h0m1-12h0m0 10h0m1-15h0m1-1h0m0 15h0m1-12h0m1 0h0m0 12h0m0 1h0m1-13h0m1-21h0m0 6h0m0 9h0m0 11h0m0 2h0m0 7h0m1-9h0m1-26h0m1 17h0m1 16h0m1-4h0m1-3h0m0 1h0m0 3h0m0 1h0m2-9h0m0 11h0m1-16h0m0 11h0m0 0h0m0 2h0m1-11h0m0 4h0m0 5h0m1-23h0m0 27h0m1-11h0"/>
</g>
<g id="axes" stroke="#000" fill="none" stroke-width="1.3">
<path d="M40 0.5H349.3V227.45H40Z"/>
<path d="M40 227.4v3.4M113.7 227.4v3.4M187.5 227.4v3.4M261.2 227.4v3.4M334.9 227.4v3.4"/>
<path d="M40 19.3h-3.4M40 57.1h-3.4M40 94.9h-3.4M40 132.7h-3.4M40 170.4h-3.4M40 208.2h-3.4"/>
</g>
<g filter="url(#tx)">
<g font-size="9.7" text-anchor="middle">
<text x="40" y="240.4">0.00</text>
<text x="113.7" y="240.4">0.05</text>
<text x="187.5" y="240.4">0.10</text>
<text x="261.2" y="240.4">0.15</text>
<text x="334.9" y="240.4">0.20</text>
</g>
<g font-size="9.7" text-anchor="end">
<text x="34" y="23.5">12</text>
<text x="34" y="61.3">11</text>
<text x="34" y="99.1">10</text>
<text x="34" y="136.9">9</text>
<text x="34" y="174.7">8</text>
<text x="34" y="212.5">7</text>
</g>
<text x="155.5" y="257.6" font-size="16.6" textLength="77.5" lengthAdjust="spacingAndGlyphs">redshift (<tspan font-style="italic">z</tspan>)</text>
<g transform="translate(12.7 159) rotate(-90)" font-size="16">
<text x="0" y="0">log</text>
<text x="28" y="0" font-style="italic" textLength="17" lengthAdjust="spacingAndGlyphs">M</text>
<text x="43.3" y="6.8" font-size="13">*</text>
<text x="56" y="0">[</text>
<text x="60.5" y="0" font-style="italic" textLength="17" lengthAdjust="spacingAndGlyphs">M</text>
<circle cx="81.3" cy="-0.5" r="3" fill="none" stroke="#000" stroke-width="0.85"/>
<circle cx="81.3" cy="-0.5" r="0.7" fill="#000"/>
<text x="85" y="0">]</text>
</g>
<text x="245" y="182.4" font-size="16.6" textLength="81" lengthAdjust="spacingAndGlyphs">BGS Bright</text>
<text x="245" y="208" font-size="16.6" font-style="italic" textLength="16" lengthAdjust="spacingAndGlyphs">M</text>
<text x="260.6" y="213.6" font-size="13">*</text>
<text x="272.5" y="208" font-size="16.6" textLength="61.5" lengthAdjust="spacingAndGlyphs">complete</text>
</g>
<circle cx="227.1" cy="178.2" r="3.9" fill="#000"/>
<circle cx="227.1" cy="203.6" r="3.9" fill="#257cbf"/>
</svg>
</body></html>
